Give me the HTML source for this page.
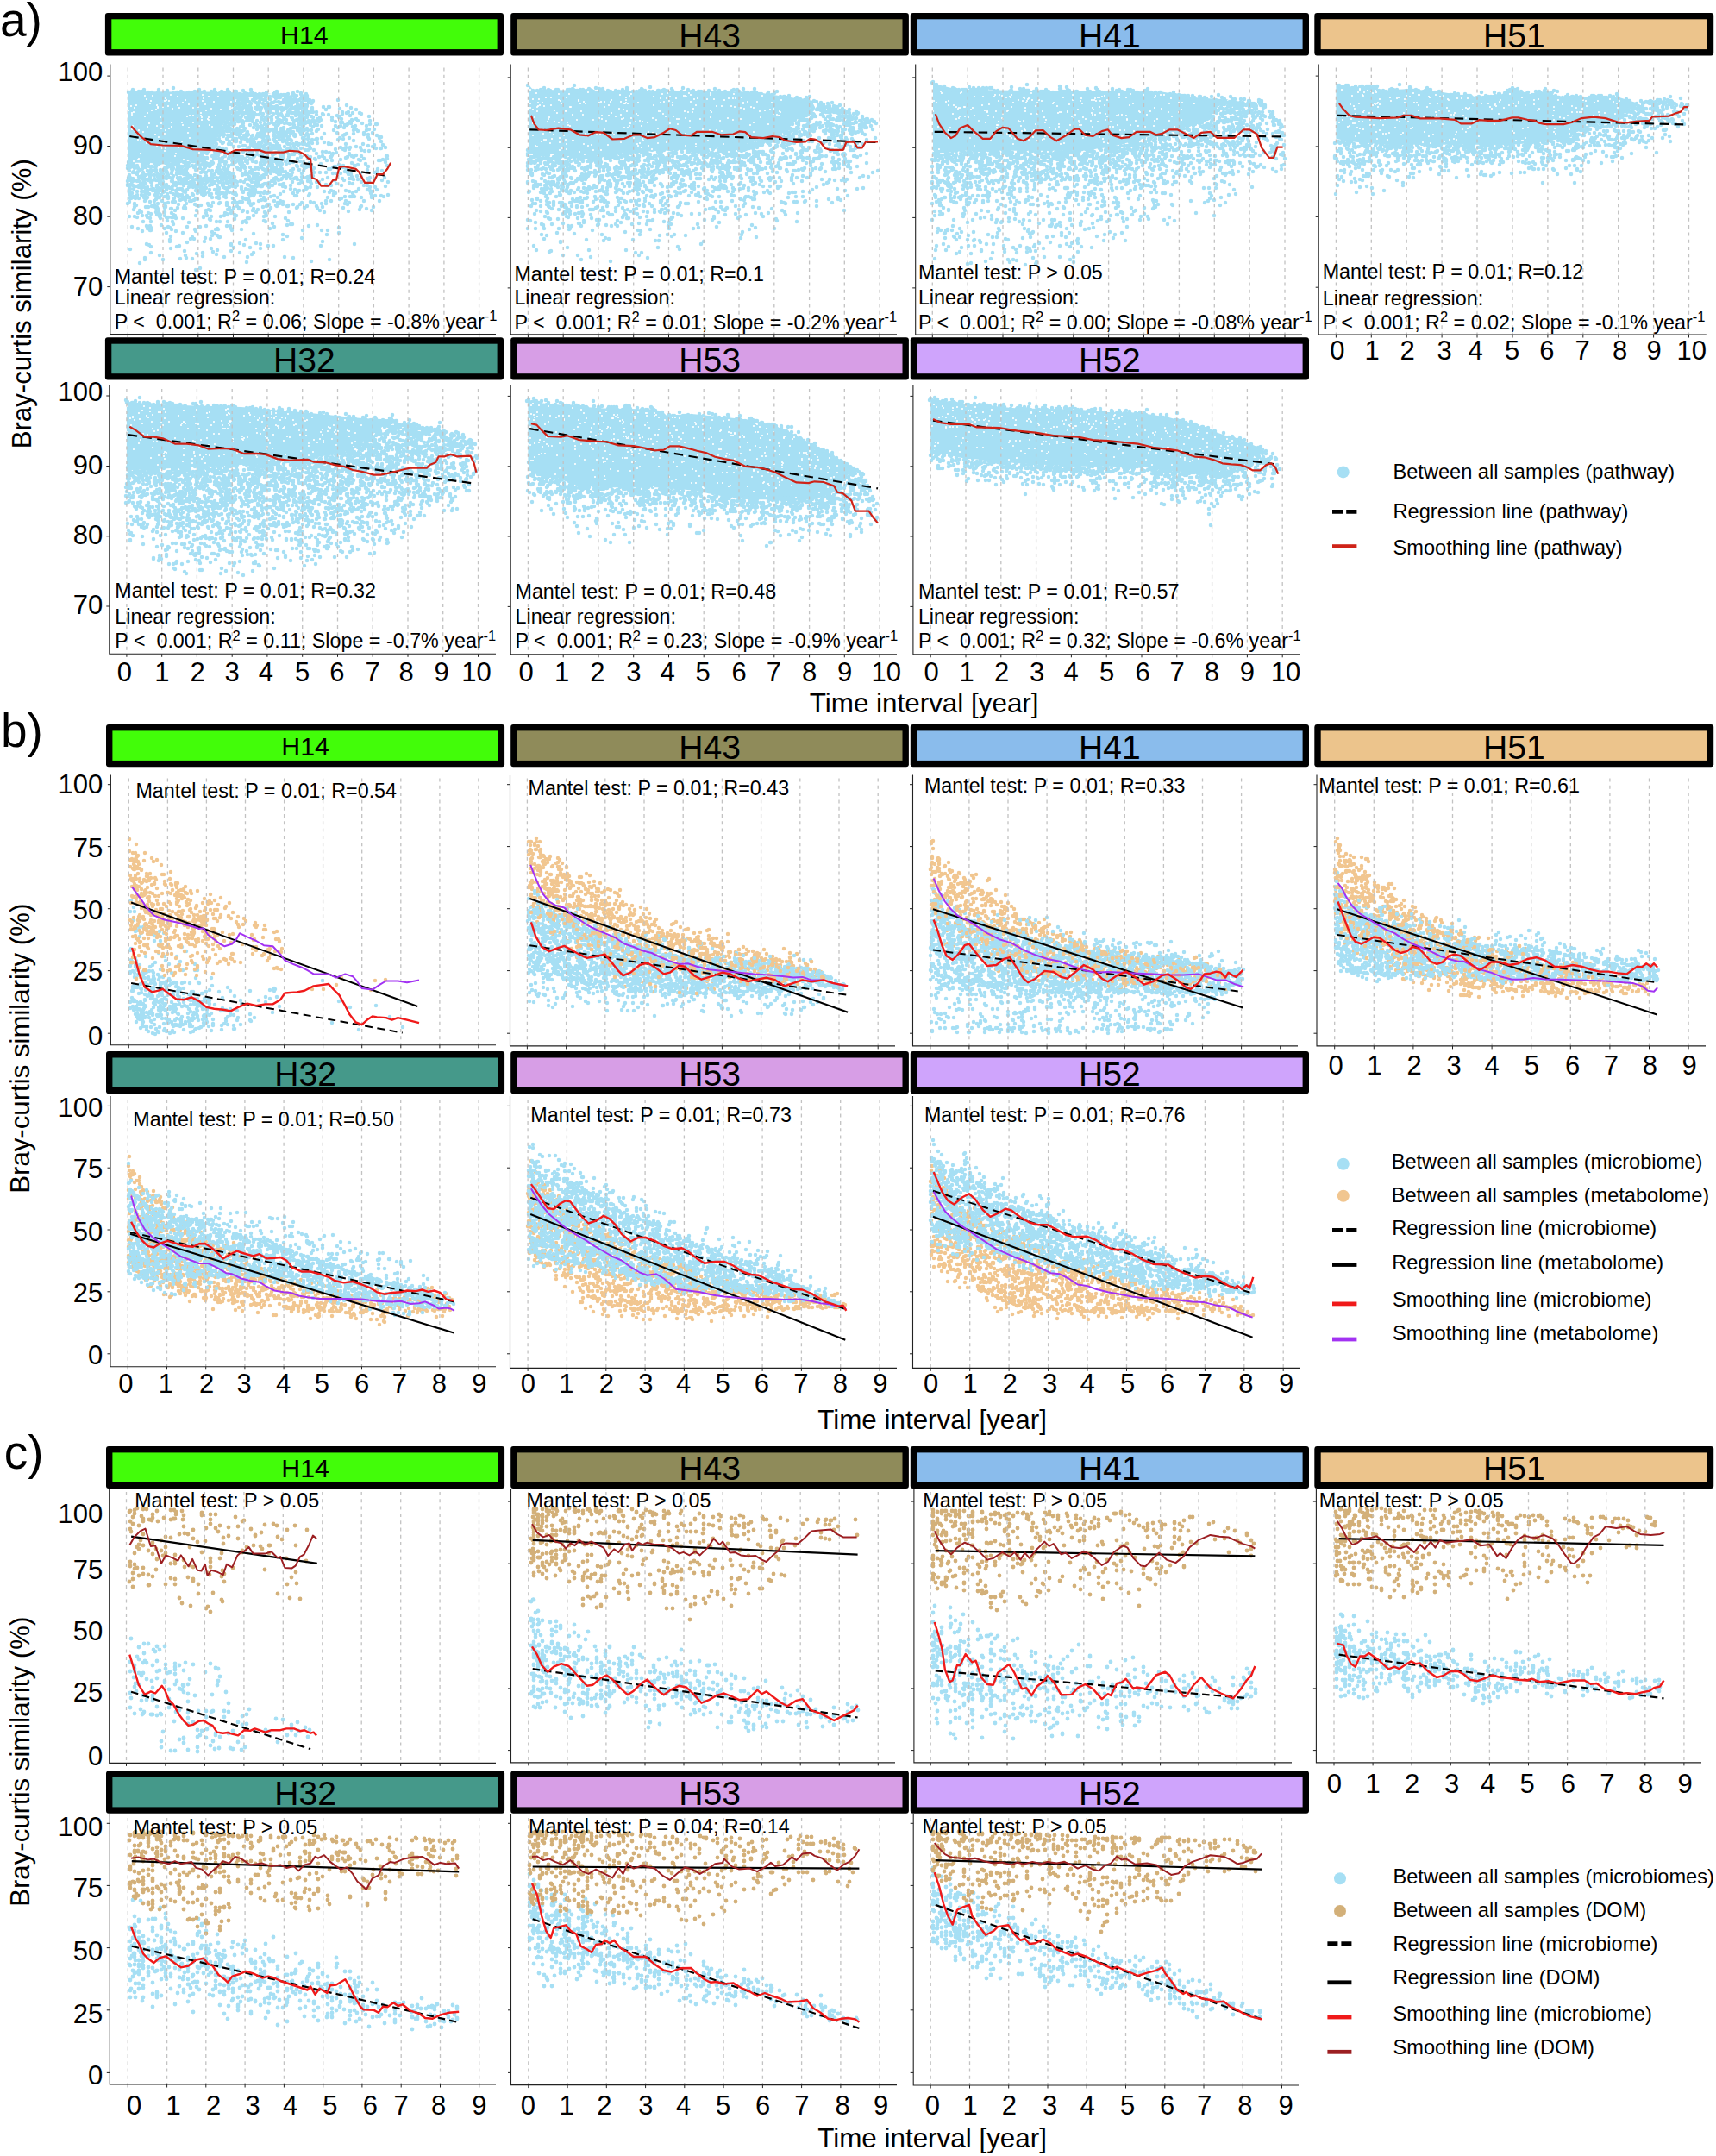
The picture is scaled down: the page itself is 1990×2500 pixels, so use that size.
<!DOCTYPE html><html><head><meta charset="utf-8"><title>Figure</title><style>html,body{margin:0;padding:0;background:#fff}svg{display:block}</style></head><body><svg width="1990" height="2500" viewBox="0 0 1990 2500" font-family="Liberation Sans, Arial, sans-serif"><rect width="1990" height="2500" fill="#fff"/>
<path d="M149 105.9 209.8 106.6 244.8 106.6 272.7 107.3 314.7 108.4 353.1 110.1 363.6 118.9 384.6 124.1 412.6 125.9 437.1 145.1 449.3 173.1 449.3 173.1 437.1 145.1 412.6 125.9 384.6 124.1 363.6 118.9 353.1 110.1 314.7 108.4 272.7 115.4 244.8 174.8 209.8 188.8 149 188.8 Z" fill="#a6dff4"/><path d="M148 192zm0 3zm0 15zm0 4zm0 1zm0 21zm1-30zm0-15zm0-3zm0-81zm1 0zm0 91zm0 5zm0 12zm0 1zm0 3zm0 3zm0 2zm0 10zm0 17zm1 38zm0-59zm0-4zm0-7zm0-5zm0-5zm0-3zm0-12zm0-1zm0-2zm0-3zm1 0zm0 40zm0 2zm1 33zm0-39zm0-13zm0-18zm0-5zm0-82zm1-2zm0 83zm0 13zm0 7zm0 3zm0 5zm0 14zm1 14zm0-15zm0-9zm0-20zm0-6zm0-3zm1-83zm0 1zm0 87zm0 5zm0 9zm0 7zm0 20zm0 1zm0 3zm0 11zm1-21zm1-14zm0 22zm1 14zm0-24zm0-2zm0-4zm0-12zm0-1zm0-7zm0-9zm0-1zm1-85zm0 1zm0 87zm0 4zm0 48zm0 18zm1-35zm0-13zm0-1zm0-1zm0-5zm0-5zm0-99zm1 91zm0 47zm0 61zm1-89zm0-4zm1-106zm0 1zm0 80zm0 17zm0 1zm0 12zm0 1zm0 4zm0 4zm0 20zm1 22zm0-18zm0-36zm0-7zm0-11zm0-2zm0-2zm0-2zm1 2zm0 2zm0 6zm0 3zm0 1zm0 4zm0 14zm0 35zm1-28zm0-12zm0-6zm0-6zm0-11zm0-3zm0-84zm0-3zm1 83zm0 3zm0 22zm0 14zm0 7zm0 66zm0 2zm1-61zm0-8zm0-1zm0-8zm0-2zm0-2zm0-6zm0-5zm0-5zm0-9zm0-3zm1 39zm0 20zm0 12zm0 21zm1-18zm0-13zm0-23zm0-6zm0-6zm0-19zm0-11zm1-80zm0 82zm0 19zm0 1zm0 31zm0 7zm1 37zm0-59zm0-5zm0-18zm0-9zm1 7zm0 5zm0 1zm0 3zm0 25zm0 19zm0 9zm0 5zm1 26zm0-7zm0-19zm0-3zm0-7zm0-9zm0-37zm0-8zm0-3zm0-3zm1-90zm0 80zm0 6zm0 18zm0 4zm0 4zm0 20zm1 0zm0-18zm0-12zm0-22zm1 0zm0 32zm0 20zm1-2zm0-4zm0-25zm0-1zm0-4zm0-5zm1-8zm0 4zm0 27zm0 5zm0 14zm1 6zm0-5zm0-10zm0-7zm0-15zm0-10zm0-2zm0-4zm0-4zm1 26zm0 1zm0 1zm0 6zm0 4zm0 13zm0 9zm1 0zm0-7zm0-6zm0-8zm0-4zm0-5zm0-14zm0-1zm0-2zm0-12zm0-83zm1-3zm0 86zm0 13zm0 1zm0 1zm0 4zm0 9zm0 11zm0 17zm1 50zm0-45zm0-3zm0-19zm0-8zm0-8zm0-2zm0-3zm0-1zm1-18zm0 8zm0 1zm0 10zm0 3zm0 2zm0 36zm0 4zm1 8zm0-35zm0-12zm0-8zm0-4zm1 2zm0 2zm0 12zm0 3zm0 12zm1 68zm0-78zm0-7zm0-3zm0-2zm0-4zm0-5zm0-14zm1 9zm1 68zm0-15zm0-4zm0-5zm0-5zm0-8zm0-6zm0-6zm0-10zm0-11zm0-88zm1 0zm0 82zm0 7zm0 21zm0 22zm0 1zm1 30zm0-18zm0-32zm0-6zm0-7zm0-3zm0-4zm0-2zm0-11zm1-82zm0 2zm0 87zm0 6zm0 17zm0 8zm0 31zm1 7zm0-11zm0-17zm0-5zm0-2zm0-12zm0-13zm0-11zm0-3zm1 4zm1 87zm0-2zm0-14zm0-46zm0-12zm0-13zm1-2zm0 32zm0 19zm0 32zm0 14zm1-22zm0-14zm0-5zm0-5zm0-32zm0-9zm0-1zm0-4zm1-6zm0 6zm0 1zm0 10zm0 3zm0 6zm0 4zm0 14zm0 23zm1 3zm0-8zm0-3zm0-16zm0-8zm0-13zm0-8zm0-9zm0-87zm0-6zm1 87zm0 1zm0 23zm0 17zm1 20zm0-6zm0-10zm1-43zm0 21zm0 2zm0 1zm0 6zm0 5zm0 1zm0 26zm0 15zm1 18zm0-62zm0-22zm0-1zm0-4zm0-8zm0-82zm1 0zm0 81zm0 6zm0 1zm0 6zm0 5zm0 13zm0 6zm0 1zm0 15zm1-4zm0-9zm0-16zm0-4zm0-13zm0-5zm0-2zm1 11zm0 8zm0 19zm0 59zm1 15zm0-68zm0-13zm0-6zm0-5zm0-2zm0-5zm0-1zm0-5zm0-8zm1-81zm0 87zm0 2zm0 1zm0 3zm0 1zm0 1zm0 12zm1 18zm0-5zm0-7zm0-9zm1-102zm0 85zm0 5zm0 10zm0 13zm0 32zm0 17zm1-29zm0-19zm0-7zm0-3zm0-10zm0-14zm1 9zm0 5zm0 5zm0 3zm0 19zm0 10zm0 52zm1 5zm0-54zm0-1zm0-9zm0-9zm0-13zm0-8zm0-12zm0-2zm1 2zm0 5zm0 3zm0 9zm0 3zm0 2zm0 24zm0 63zm1-18zm0-18zm0-36zm0-7zm0-14zm0-5zm0-6zm0-4zm0-2zm0-81zm1 95zm0 1zm0 1zm0 2zm0 22zm1 29zm0-41zm0-5zm0-7zm0-12zm0-4zm0-5zm0-77zm1 122zm0 4zm1 44zm0-62zm0-4zm0-5zm0-2zm0-19zm1-77zm0 77zm0 48zm1 67zm0-25zm0-50zm0-11zm0-5zm0-3zm0-14zm0-5zm1-80zm0 76zm0 4zm0 24zm0 6zm0 9zm1 51zm0-45zm0-20zm0-18zm0-7zm0-6zm0-73zm1-2zm0 75zm0 1zm0 1zm0 20zm0 34zm0 29zm1 47zm0-45zm0-18zm0-20zm0-9zm0-5zm0-8zm0-11zm0-3zm0-2zm1-11zm0 2zm0 5zm0 27zm0 2zm0 2zm0 1zm0 18zm0 6zm0 50zm1-63zm0-7zm0-4zm0-13zm0-3zm0-18zm0-4zm0-2zm1 0zm0 3zm0 6zm0 17zm0 4zm0 6zm0 23zm1-17zm0-11zm0-20zm0-4zm0-5zm0-1zm0-1zm0-76zm1 3zm0 72zm0 1zm0 5zm0 10zm0 10zm0 2zm0 6zm0 2zm0 48zm0 48zm1-73zm0-15zm0-4zm0-7zm0-2zm0-2zm0-8zm0-18zm1-75zm0 70zm0 1zm0 6zm0 7zm0 20zm0 1zm0 2zm0 3zm0 8zm1 72zm0-4zm0-72zm0-2zm0-6zm0-2zm0-12zm0-2zm0-7zm0-3zm0-6zm0-74zm1 70zm0 11zm0 2zm0 9zm0 8zm0 3zm0 17zm0 24zm0 1zm1 28zm0-56zm0-3zm0-3zm0-10zm0-13zm0-2zm0-2zm0-3zm0-1zm0-4zm0-77zm1 71zm0 16zm0 1zm0 6zm0 7zm0 7zm0 10zm0 1zm0 51zm1-14zm0-15zm0-3zm0-26zm0-11zm0-3zm0-4zm0-9zm0-1zm0-1zm0-13zm1 0zm0 2zm0 5zm0 1zm0 8zm0 17zm0 2zm0 39zm1-14zm1-61zm0 15zm0 8zm0 9zm0 16zm0 15zm0 5zm1 11zm0-28zm0-6zm0-5zm0-6zm0-2zm0-14zm0-19zm1 18zm0 17zm0 1zm0 4zm0 30zm0 11zm0 22zm1 11zm0-37zm0-12zm0-14zm0-12zm0-11zm0-14zm0-82zm1 75zm0 7zm0 2zm0 8zm0 6zm0 5zm0 4zm0 1zm0 15zm0 40zm0 4zm1 19zm0-57zm0-29zm0-3zm0-14zm0-9zm0-9zm0-1zm0-63zm1 0zm0 63zm0 1zm0 10zm0 3zm1 87zm0-51zm0-8zm0-1zm0-9zm0-22zm0-4zm0-72zm1 3zm0 59zm0 4zm0 11zm0 1zm0 2zm0 82zm1 29zm0-38zm0-28zm0-5zm0-18zm0-8zm0-21zm0-1zm0-9zm0-5zm1 12zm0 1zm0 3zm0 16zm0 5zm0 10zm0 6zm0 4zm0 46zm0 8zm0 17zm1-24zm0-37zm0-7zm0-26zm0-16zm0-1zm0-17zm1-4zm0 3zm0 10zm0 13zm0 7zm0 1zm0 2zm0 4zm0 3zm0 10zm0 7zm0 1zm0 7zm0 4zm0 6zm0 39zm1 0zm0-18zm0-22zm0-24zm0-5zm0-9zm0-5zm0-4zm0-1zm0-11zm0-22zm0-46zm1-1zm0 46zm0 3zm0 8zm0 11zm0 27zm0 22zm0 27zm1-43zm0-3zm0-4zm0-14zm0-2zm0-79zm1 42zm0 1zm0 1zm0 5zm0 11zm0 6zm0 11zm0 17zm0 5zm0 8zm0 2zm1 9zm0-7zm0-3zm0-2zm0-4zm0-6zm0-15zm0-13zm0-9zm0-7zm0-5zm0-1zm0-4zm0-41zm1 49zm0 18zm0 20zm0 2zm0 6zm0 26zm0 22zm0 48zm1-51zm0-29zm0-13zm0-2zm0-13zm0-9zm0-4zm0-29zm0-3zm0-3zm0-34zm1-1zm0 30zm0 4zm0 5zm0 27zm0 15zm0 10zm0 8zm0 1zm0 18zm0 4zm1 33zm0-14zm0-10zm0-3zm0-13zm0-10zm0-2zm0-9zm0-3zm0-37zm0-9zm0-2zm0-9zm1-37zm0 33zm0 5zm0 4zm0 6zm0 5zm0 39zm0 2zm0 2zm0 13zm0 5zm0 1zm0 24zm0 6zm0 8zm1-45zm0-6zm0-1zm0-12zm0-1zm0-8zm0-6zm0-1zm0-10zm0-18zm0-42zm0-1zm1 1zm0 20zm0 6zm0 3zm0 1zm0 1zm0 7zm0 7zm0 6zm0 6zm0 18zm0 18zm0 3zm0 8zm0 5zm0 1zm0 6zm0 18zm1 21zm0-53zm0-1zm0-4zm0-24zm0-23zm0-8zm0-12zm1-7zm0 12zm0 2zm0 23zm0 44zm0 33zm0 3zm0 18zm0 18zm0 1zm0 7zm1-24zm0-21zm0-31zm0-3zm0-21zm0-5zm0-28zm0-3zm0-11zm0-5zm0-4zm0-7zm1-6zm0 9zm0 14zm0 6zm0 11zm0 21zm0 5zm0 13zm0 2zm0 4zm0 2zm0 7zm0 8zm0 6zm0 5zm1 52zm0-46zm0-28zm0-22zm0-4zm0-4zm0-1zm0-3zm0-9zm0-53zm1-11zm0 1zm0 13zm0 6zm0 1zm0 8zm0 2zm0 2zm0 4zm0 1zm0 10zm0 7zm0 22zm0 22zm0 5zm0 13zm0 2zm0 8zm0 16zm0 4zm0 1zm1-29zm0-1zm0-7zm0-7zm0-22zm0-9zm0-1zm0-1zm0-1zm0-12zm0-30zm0-7zm0-21zm1 0zm0 3zm0 11zm0 5zm0 6zm0 7zm0 14zm0 2zm0 1zm0 6zm0 1zm0 2zm0 12zm0 4zm0 7zm0 39zm0 24zm1-11zm0-4zm0-20zm0-4zm0-17zm0-13zm0-25zm0-2zm0-5zm0-12zm0-11zm0-5zm1-4zm0 4zm0 11zm0 9zm0 34zm0 4zm0 6zm0 11zm1 46zm0-1zm0-45zm0-26zm0-19zm0-10zm0-1zm0-3zm0-7zm1-21zm0 6zm0 6zm0 2zm0 1zm0 3zm0 11zm0 14zm0 4zm0 3zm0 24zm0 3zm0 3zm0 45zm0 48zm0 11zm1-83zm0-13zm0-6zm0-6zm0-3zm0-17zm0-10zm0-8zm0-8zm0-3zm0-12zm0-4zm0-6zm1-1zm0 6zm0 1zm0 5zm0 2zm0 4zm0 4zm0 25zm0 1zm0 23zm0 2zm0 8zm0 23zm0 2zm0 47zm1-8zm0-13zm0-11zm0-5zm0-26zm0-1zm0-13zm0-7zm0-30zm0-9zm0-3zm0-10zm0-4zm0-9zm0-2zm1-10zm0 12zm0 15zm0 9zm0 1zm0 1zm0 3zm0 23zm0 5zm0 2zm0 46zm0 1zm0 7zm0 14zm0 13zm1 27zm0-73zm0-19zm0-35zm0-6zm0-29zm0-10zm1-4zm0 5zm0 3zm0 1zm0 7zm0 7zm0 18zm0 10zm0 2zm0 8zm0 15zm0 10zm0 1zm0 7zm1 76zm0-22zm0-25zm0-12zm0-11zm0-6zm0-3zm0-12zm0-13zm0-38zm0-16zm1 3zm0 1zm0 2zm0 1zm0 1zm0 3zm0 9zm0 15zm0 2zm0 4zm0 97zm0 46zm1-6zm0-45zm0-7zm0-32zm0-12zm0-13zm0-3zm0-5zm0-3zm0-5zm0-9zm0-2zm0-5zm0-4zm0-16zm0-8zm0-14zm0-6zm1 23zm0 2zm0 2zm0 20zm0 17zm0 28zm0 19zm0 5zm0 5zm0 5zm1 18zm0-20zm0-18zm0-7zm0-3zm0-26zm0-8zm0-31zm0-4zm0-3zm0-5zm0-3zm0-1zm0-1zm0-5zm0-8zm1 1zm0 11zm0 4zm0 1zm0 4zm0 14zm0 30zm0 4zm0 5zm0 10zm0 5zm0 22zm0 6zm0 9zm0 51zm1-49zm0-11zm0-3zm0-4zm0-4zm0-7zm0-34zm0-6zm0-1zm0-2zm0-3zm0-2zm0-25zm0-4zm0-2zm0-2zm0-1zm0-2zm0-5zm0-12zm0-4zm1 3zm0 23zm0 8zm0 20zm0 4zm0 5zm0 17zm0 1zm0 12zm0 4zm0 10zm0 84zm1-51zm0-37zm0-7zm0-13zm0-2zm0-9zm0-19zm0-16zm0-4zm0-4zm0-1zm0-16zm1-7zm0 2zm0 5zm0 20zm0 12zm0 14zm0 3zm0 1zm0 4zm0 12zm0 22zm0 13zm0 2zm0 2zm0 2zm0 4zm0 9zm0 6zm0 8zm0 21zm0 22zm1-68zm0-3zm0-15zm0-4zm0-22zm0-1zm0-11zm0-4zm0-21zm0-13zm0-14zm0-4zm0-1zm1-3zm0 1zm0 3zm0 12zm0 69zm0 2zm0 7zm0 9zm0 8zm1 62zm0-36zm0-32zm0-6zm0-2zm0-4zm0-1zm0-13zm0-16zm0-12zm0-16zm0-11zm0-14zm0-5zm0-4zm1 17zm0 13zm0 5zm0 1zm0 4zm0 7zm0 11zm0 7zm0 4zm0 23zm0 14zm1 27zm0-20zm0-12zm0-9zm0-7zm0-22zm0-16zm0-2zm0-7zm0-26zm1-9zm0 7zm0 5zm0 8zm0 25zm0 8zm0 30zm0 10zm0 3zm0 1zm0 3zm0 1zm0 19zm1-25zm0-28zm0-7zm0-4zm0-22zm0-21zm0-7zm0-2zm0-4zm0-4zm1 1zm0 3zm0 1zm0 13zm0 1zm0 3zm0 11zm0 12zm0 3zm0 10zm0 22zm0 2zm0 17zm0 7zm0 1zm0 7zm0 4zm0 56zm0 5zm1-56zm0-16zm0-9zm0-1zm0-12zm0-3zm0-12zm0-2zm0-1zm0-10zm0-8zm0-8zm0-2zm0-2zm0-8zm0-2zm0-11zm0-10zm1 20zm0 12zm0 9zm0 1zm0 2zm0 11zm0 5zm0 6zm0 2zm0 1zm0 3zm0 17zm0 12zm1 24zm0-26zm0-18zm0-26zm0-7zm0-11zm0-2zm0-18zm0-12zm0-9zm0-2zm1 7zm0 5zm0 18zm0 11zm0 4zm0 1zm0 3zm0 4zm0 8zm0 4zm0 2zm0 1zm0 5zm0 4zm0 5zm0 12zm0 3zm0 18zm0 5zm0 22zm0 5zm1-10zm0-14zm0-10zm0-9zm0-16zm0-9zm0-6zm0-5zm0-1zm0-5zm0-3zm0-4zm0-15zm0-5zm0-21zm0-14zm1 4zm0 3zm0 9zm0 11zm0 16zm0 32zm0 4zm0 11zm0 33zm0 15zm0 10zm1-7zm0-11zm0-26zm0-11zm0-18zm0-1zm0-11zm0-5zm0-1zm0-1zm0-18zm0-2zm0-7zm0-9zm0-19zm0-3zm1 12zm0 16zm0 5zm0 11zm0 8zm0 3zm0 19zm0 1zm0 13zm0 18zm0 1zm0 1zm0 9zm0 13zm1 48zm0-86zm0-23zm0-3zm0-1zm0-12zm0-1zm0-28zm0-1zm0-2zm0-3zm0-2zm0-3zm1 11zm0 12zm0 9zm0 10zm0 9zm0 6zm0 10zm0 5zm0 6zm0 1zm0 13zm0 5zm0 6zm0 14zm0 7zm1 21zm0-73zm0-1zm0-1zm0-1zm0-5zm0-10zm0-7zm0-16zm0-26zm0-3zm0-1zm0-6zm0-3zm1 14zm0 4zm0 6zm0 51zm0 11zm0 3zm0 14zm0 13zm0 13zm1-31zm0-13zm0-2zm0-7zm0-15zm0-31zm0-3zm0-1zm0-3zm0-16zm1 5zm0 1zm0 25zm0 19zm0 2zm0 8zm0 4zm0 8zm0 24zm0 44zm1 26zm0-89zm0-2zm0-15zm0-1zm0-9zm0-7zm0-10zm0-20zm0-13zm0-9zm0-1zm1 1zm0 2zm0 32zm0 9zm0 3zm0 2zm0 4zm0 10zm0 15zm0 12zm0 8zm0 1zm0 2zm0 17zm0 6zm0 30zm1-12zm0-39zm0-26zm0-8zm0-8zm0-6zm0-38zm0-2zm0-6zm0-7zm0-4zm1 7zm0 11zm0 22zm0 2zm0 2zm0 13zm0 5zm0 3zm0 5zm0 7zm0 10zm0 12zm0 32zm1 1zm0-39zm0-3zm0-8zm0-3zm0-18zm0-1zm0-8zm0-18zm0-5zm0-5zm0-2zm0-3zm0-1zm0-1zm0-1zm0-11zm0-3zm0-3zm1 3zm0 16zm0 11zm0 4zm0 2zm0 3zm0 9zm0 4zm0 9zm0 10zm0 14zm0 17zm0 21zm0 6zm1-26zm0-7zm0-5zm0-20zm0-4zm0-19zm0-10zm0-10zm0-9zm0-7zm0-5zm1 0zm0 6zm0 7zm0 13zm0 23zm0 7zm0 19zm0 2zm0 8zm0 16zm0 22zm1-3zm0-8zm0-23zm0-3zm0-1zm0-4zm0-1zm0-6zm0-5zm0-2zm0-7zm0-15zm0-1zm0-5zm0-32zm0-7zm0-2zm1-1zm0 9zm0 6zm0 7zm0 10zm0 7zm0 4zm0 25zm0 8zm0 9zm0 13zm1 6zm0-7zm0-11zm0-6zm0-38zm0-12zm0-6zm0-6zm0-3zm1-14zm0 8zm0 8zm0 22zm0 1zm0 6zm0 4zm0 1zm0 3zm0 11zm0 1zm0 6zm0 1zm0 16zm0 17zm0 18zm0 3zm0 35zm0 6zm1-56zm0-9zm0-9zm0-25zm0-22zm0-1zm0-7zm0-1zm0-12zm0-9zm0-11zm0-6zm1 28zm0 5zm0 10zm0 3zm0 7zm0 7zm0 128zm1-45zm0-36zm0-18zm0-12zm0-61zm0-1zm0-11zm0-2zm0-2zm1 7zm0 3zm0 5zm0 9zm0 5zm0 15zm0 2zm0 18zm0 16zm0 14zm0 3zm1 67zm0-13zm0-22zm0-38zm0-25zm0-10zm0-4zm0-4zm0-25zm0-10zm0-1zm0-4zm0-3zm0-3zm1-3zm0 3zm0 2zm0 2zm0 7zm0 7zm0 3zm0 1zm0 9zm0 8zm0 10zm0 6zm0 5zm0 13zm0 53zm0 1zm0 17zm1-10zm0-42zm0-18zm0-4zm0-3zm0-21zm0-5zm0-23zm0-8zm0-8zm1 4zm0 9zm0 17zm0 23zm0 13zm0 9zm0 14zm1 57zm0-41zm0-4zm0-8zm0-9zm0-25zm0-2zm0-9zm0-7zm0-3zm0-3zm0-22zm0-7zm0-3zm0-2zm1-3zm0 10zm0 3zm0 6zm0 5zm0 27zm0 11zm0 24zm0 5zm1 57zm0-49zm0-11zm0-21zm0-41zm0-1zm0-18zm0-1zm0-2zm1-8zm0 2zm0 9zm0 12zm0 13zm0 4zm0 5zm0 14zm0 21zm0 8zm0 28zm0 13zm0 62zm1-92zm0-28zm0-5zm0-4zm0-13zm0-12zm0-4zm0-1zm0-15zm0-8zm0-7zm1 3zm0 2zm0 11zm0 5zm0 17zm0 8zm0 2zm0 19zm0 43zm0 7zm1-21zm0-30zm0-1zm0-3zm0-38zm0-4zm0-3zm0-3zm0-6zm1-7zm0 16zm0 3zm0 2zm0 1zm0 6zm0 9zm0 17zm0 2zm0 6zm0 19zm0 14zm0 21zm0 14zm1-1zm0-17zm0-15zm0-15zm0-9zm0-9zm0-24zm0-18zm0-7zm0-2zm0-3zm0-4zm0-11zm1 21zm0 3zm0 15zm0 23zm0 8zm1 45zm0-8zm0-16zm0-30zm0-18zm0-7zm0-4zm0-7zm0-5zm0-1zm0-9zm1 7zm0 2zm0 10zm0 1zm0 13zm0 4zm0 25zm0 9zm0 50zm1-28zm0-27zm0-10zm0-16zm0-15zm0-17zm0-2zm0-8zm0-5zm0-1zm1 3zm0 8zm0 1zm0 13zm0 5zm0 5zm0 2zm0 4zm0 2zm0 41zm0 9zm0 4zm0 6zm0 24zm0 41zm1-9zm0-76zm0-24zm0-2zm0-5zm0-6zm0-24zm0-2zm0-4zm0-9zm1 1zm0 20zm0 10zm0 4zm0 13zm0 25zm0 5zm0 5zm0 23zm1 20zm0-46zm0-28zm0-1zm0-5zm0-10zm0-10zm0-2zm0-14zm0-11zm1 7zm0 4zm0 6zm0 5zm0 5zm0 2zm0 14zm0 17zm0 43zm1 2zm0-13zm0-12zm0-59zm0-4zm0-1zm0-3zm0-2zm0-9zm0-5zm0-2zm1 2zm0 1zm0 2zm0 7zm0 2zm0 9zm0 4zm0 13zm0 6zm0 13zm0 13zm0 11zm0 26zm0 21zm1-29zm0-5zm0-21zm0-10zm0-6zm0-7zm0-5zm0-5zm0-9zm0-12zm1-11zm0 13zm0 8zm0 19zm0 7zm0 27zm0 34zm0 35zm1-37zm0-36zm0-19zm0-28zm0-1zm0-25zm1 14zm0 13zm0 2zm0 20zm0 7zm0 10zm0 22zm0 2zm0 4zm0 1zm0 6zm0 17zm1 69zm0-90zm0-22zm0-40zm0-16zm0-15zm1-1zm0 6zm0 2zm0 13zm0 1zm0 14zm0 7zm0 4zm0 29zm1 9zm0-8zm0-2zm0-47zm0-11zm0-6zm0-13zm1 23zm0 34zm0 21zm0 5zm0 35zm1-51zm0-39zm0-2zm1-2zm0 21zm0 23zm1 54zm0-28zm0-33zm0-17zm0-9zm0-19zm0-3zm1 8zm0 2zm0 5zm0 16zm0 5zm0 51zm0 24zm0 20zm1-111zm1-9zm0 41zm0 29zm1 33zm0-44zm0-64zm1 3zm0 51zm0 95zm1-18zm0-31zm0-76zm0-14zm1-14zm0 44zm0 5zm0 27zm0 32zm0 40zm1-147zm0-9zm1 31zm0 10zm0 18zm0 39zm0 24zm2-10zm0-3zm0-19zm0-14zm0-24zm0-49zm1 59zm0 29zm0 57zm1-5zm0-38zm0-23zm1-82zm0 9zm0 33zm0 1zm0 29zm1 105zm0-78zm0-46zm0-53zm1 58zm0 14zm1 37zm0-12zm0-6zm0-33zm0-15zm1-31zm0 3zm0 41zm0 6zm1 15zm0-7zm0-16zm1-27zm0 71zm0 3zm0 2zm1-18zm0-16zm1-52zm0 5zm0 27zm0 20zm0 31zm1-11zm0-12zm0-24zm1-43zm0 20zm1 8zm0-14zm0-32zm1 20zm0 55zm0 73zm0 6zm1-39zm0-71zm0-25zm0-9zm1 16zm0 4zm0 25zm0 14zm0 16zm1 29zm0-15zm0-77zm1-8zm0 2zm0 10zm0 65zm1 34zm0-47zm0-2zm0-19zm0-12zm0-4zm1-9zm0 61zm1 27zm0-8zm0-29zm0-25zm0-18zm0-11zm1 22zm0 4zm0 12zm0 12zm0 26zm0 12zm1-36zm0-42zm0-10zm0-14zm0-9zm1 22zm0 38zm0 18zm0 37zm1 8zm0-43zm0-72zm1 30zm0 13zm0 5zm0 1zm0 28zm0 5zm0 10zm0 13zm1-7zm0-57zm0-30zm0-7zm1-9zm0 18zm0 59zm1 26zm0-21zm0-2zm0-16zm0-8zm0-41zm0-1zm1-8zm0 16zm0 60zm0 6zm0 11zm1 3zm0-19zm0-26zm0-19zm0-8zm0-4zm1 41zm0 36zm0 55zm1-91zm0-46zm1-19zm0 11zm0 12zm0 20zm0 10zm0 42zm1-18zm1-64zm0 12zm0 39zm0 17zm1 11zm0-34zm1-54zm0 112zm1-3zm0-39zm0-15zm0-15zm1-39zm0 42zm0 7zm0 24zm0 1zm0 5zm0 18zm0 10zm1-96zm1 24zm1 66zm0-18zm0-31zm0-28zm0-2zm1 21zm1 15zm1-44zm0 5zm0 91zm1-22zm0-5zm0-8zm0-10zm1-41zm0 3zm0 10zm0 24zm1 17zm0-35zm0-14zm0-11zm0-15zm1 5zm0 4zm0 62zm0 11zm0 4zm1 3zm1 3zm0 2zm0 15zm1-22zm0-52zm0-16zm1 86zm1-33zm0-7zm0-32zm0-18zm1 67zm0 10zm1-55zm0-28zm1 0zm0 13zm0 42zm0 21zm1-23zm0-1zm1-10zm1 47zm0-73zm0-1zm1 13zm0 14zm1 41zm0-55zm0-8zm0-5zm1 39zm0 11zm1-24zm0-17zm1 60zm1-22zm1-35zm0 17zm0 28zm1-35zm1 0zm0 3zm0 8zm1 34zm0-15z" stroke="#a6dff4" stroke-width="4.5" stroke-linecap="round" fill="none"/><path d="M149 128zm3-5zm1 8zm0 2zm0 17zm0 8zm1-12zm1-16zm0 28zm0 29zm1-62zm2-3zm2 63zm0-23zm1-11zm0 4zm0 29zm2-6zm0-15zm3-10zm1 7zm1-49zm0 24zm2 31zm0-51zm1 16zm0 16zm2-4zm1-23zm1-3zm1 11zm1-17zm3 45zm1-29zm1-5zm0 24zm0 23zm1-44zm0-1zm1 35zm2-23zm1 7zm0 6zm0 21zm1 2zm1-48zm1 41zm1-48zm0 38zm0 20zm1-3zm0-21zm0-37zm1 2zm2 7zm1-6zm0 32zm2-39zm1 32zm0 5zm1-21zm3 55zm1-3zm2-66zm0 10zm1 49zm1-46zm2 44zm1-27zm0 22zm1-19zm0-26zm1 66zm2-69zm2 19zm1 19zm1-33zm0 27zm1 12zm0-26zm4-9zm0 9zm0 8zm5-5zm1-13zm1 53zm0-31zm2-15zm0 3zm1 5zm0-3zm1-26zm0 7zm1-3zm2 7zm1 7zm2 10zm1 1zm0-3zm0-24zm1 33zm2-19zm1 21zm2-29zm2 16zm3-22zm3 15zm11-1zm0-2zm1-6z" stroke="#fff" stroke-width="2.2" stroke-linecap="round" fill="none"/>
<path d="M148.3 78.5V387.5M189 78.5V387.5M229.8 78.5V387.5M270.5 78.5V387.5M311.2 78.5V387.5M351.9 78.5V387.5M392.7 78.5V387.5M433.4 78.5V387.5M474.1 78.5V387.5M514.9 78.5V387.5M555.6 78.5V387.5" stroke="#c2c2c2" stroke-width="1.3" stroke-dasharray="4 4.3" fill="none"/>
<path d="M150.3 158 445.8 203.5" fill="none" stroke="#000" stroke-width="2.2" stroke-linejoin="round" stroke-dasharray="10.5 6.5"/>
<path d="M152.1 146.2 157.3 152.1 164.3 159.1 174.8 167.1 188.8 168.5 209.8 168.9 223.8 173.1 244.8 173.8 258.7 175.9 264 178.7 272.7 174.1 300.7 174.1 307.7 176.6 328.7 176.6 335.7 174.8 346.2 175.5 353.1 179 357.3 183.6 360.1 184.3 361.9 206.3 367.1 208 372.4 215.7 381.1 215.7 386.4 208.7 389.9 208.7 393.4 194.1 398.6 193 412.6 195.8 416.1 199.3 423.1 211.9 432.9 211.9 437.8 202.1 444.1 202.1 449.3 195.8 453.1 188.8" fill="none" stroke="#cf2318" stroke-width="2.2" stroke-linejoin="round"/>
<path d="M127.8 74.5V387.5H575" stroke="#222" stroke-width="1.1" fill="none"/><path d="M127.8 88.1h-3.5M127.8 169.5h-3.5M127.8 251.2h-3.5M127.8 332.6h-3.5M148.3 387.5v3.5M189 387.5v3.5M229.8 387.5v3.5M270.5 387.5v3.5M311.2 387.5v3.5M351.9 387.5v3.5M392.7 387.5v3.5M433.4 387.5v3.5M474.1 387.5v3.5M514.9 387.5v3.5M555.6 387.5v3.5" stroke="#222" stroke-width="1" fill="none"/>
<rect x="121.9" y="14.9" width="462.1" height="49.6" rx="3" fill="#000"/><rect x="129.3" y="22.3" width="447.3" height="34.8" fill="#42fd09"/><text x="352.9" y="50.7" font-size="30.3" text-anchor="middle" >H14</text>
<path d="M613.1 97.9 617.7 103.8 699.9 105.2 769.8 105.2 839.7 105.9 874.7 106.6 909.7 111.9 944.6 117.1 979.6 125.9 997.1 132.9 1018 143.4 1018 143.4 997.1 132.9 979.6 125.9 944.6 117.1 909.7 153.8 874.7 164.3 839.7 171.3 769.8 174.8 699.9 178.3 617.7 178.3 613.1 174.8 Z" fill="#a6dff4"/><path d="M612 99zm0 75zm0 4zm0 2zm0 9zm0 3zm0 1zm0 4zm0 14zm0 1zm0 43zm0 10zm1-42zm0-38zm1 3zm0 34zm1 34zm0-55zm0-3zm0-13zm0-2zm0-6zm1-1zm0 6zm0 4zm0 3zm0 8zm0 5zm0 37zm1-7zm0-29zm0-2zm0-13zm0-12zm1-71zm0 72zm0 5zm0 28zm0 26zm1 49zm0-67zm0-1zm0-2zm0-27zm0-1zm1-8zm0 3zm0 7zm0 59zm1 17zm0-7zm0-22zm0-23zm0-2zm0-13zm0-4zm0-6zm0-8zm1-1zm0 7zm0 28zm0 30zm0 46zm1-59zm0-1zm0-14zm0-20zm0-1zm0-90zm1 73zm0 4zm0 10zm0 4zm0 18zm1-28zm0-2zm0-3zm0-3zm0-2zm1 3zm0 4zm1 62zm0-6zm0-6zm0-10zm0-9zm0-25zm0-2zm0-83zm1 81zm0 11zm0 11zm0 12zm0 41zm0 12zm1-70zm0-23zm1 4zm0 12zm0 27zm0 39zm0 1zm1 15zm0-12zm0-41zm0-3zm0-2zm0-16zm0-98zm0-3zm1 3zm0 74zm0 10zm0 21zm0 5zm0 36zm1-23zm0-8zm0-2zm0-22zm0-5zm0-7zm1-2zm0 18zm0 13zm0 2zm0 5zm0 7zm0 6zm0 4zm0 8zm0 1zm0 27zm1-26zm0-17zm0-12zm0-28zm0-1zm0-8zm0-2zm0-73zm1-2zm0 73zm0 1zm0 1zm0 1zm0 6zm0 2zm0 13zm0 10zm0 2zm0 26zm0 14zm1 39zm0-52zm0-5zm0-23zm0-6zm0-5zm0-8zm0-9zm1-79zm0 119zm0 30zm1 37zm0-72zm0-4zm0-19zm0-9zm1-3zm0 22zm0 5zm0 3zm0 8zm0 20zm0 18zm1-55zm0-11zm0-3zm1-9zm0 7zm0 1zm0 8zm0 13zm0 23zm0 1zm0 3zm1-24zm0-10zm0-13zm1 1zm0 23zm1 13zm0-43zm0-5zm0-76zm1 75zm0 4zm0 5zm0 82zm1-16zm0-37zm0-5zm0-4zm0-1zm0-10zm0-10zm0-6zm0-5zm0-70zm0-2zm1 80zm0 4zm0 1zm0 54zm0 22zm1-30zm0-9zm0-3zm0-15zm0-2zm0-10zm0-1zm0-8zm1-8zm0 3zm0 23zm0 21zm0 54zm0 1zm1-42zm0-20zm0-4zm0-23zm0-1zm0-3zm1 6zm0 9zm0 10zm0 5zm0 17zm1 61zm0-37zm0-11zm0-27zm0-4zm0-12zm0-5zm0-1zm0-4zm0-2zm0-5zm1-7zm0 8zm0 9zm0 10zm1 38zm0-6zm0-2zm0-1zm0-25zm0-1zm0-14zm1-19zm0 4zm0 20zm0 44zm0 1zm1 4zm0-10zm0-19zm0-2zm0-16zm0-12zm0-5zm0-8zm1-75zm0 1zm0 73zm0 10zm0 3zm0 4zm0 3zm0 18zm0 1zm0 70zm1-25zm0-10zm0-7zm0-2zm0-29zm0-16zm0-19zm1-75zm0 74zm0 6zm0 7zm0 33zm0 19zm0 23zm1-1zm0-17zm0-3zm0-10zm0-11zm0-2zm0-9zm0-18zm0-91zm1 2zm0 76zm0 5zm0 19zm0 6zm0 9zm1 41zm0-23zm0-4zm0-28zm0-13zm0-15zm0-1zm1-75zm0 3zm0 75zm0 12zm0 2zm0 36zm1-19zm0-33zm0-75zm1-5zm0 81zm0 5zm0 10zm0 28zm0 48zm1-23zm0-15zm0-35zm0-12zm0-4zm0-77zm1 83zm0 22zm1 30zm0-1zm0-8zm0-125zm0-1zm1 0zm0 75zm0 8zm0 19zm0 13zm0 13zm0 20zm0 43zm1-37zm0-12zm0-14zm0-3zm0-12zm0-10zm0-16zm0-8zm0-3zm0-2zm0-73zm1 84zm0 57zm0 12zm1-24zm0-6zm0-24zm0-23zm0-78zm1 78zm0 3zm0 21zm0 16zm0 40zm0 39zm1-50zm0-5zm0-6zm0-5zm0-2zm0-24zm0-3zm0-4zm0-7zm0-16zm0-2zm1-73zm0 1zm0 81zm0 1zm0 61zm1 10zm0-2zm0-33zm0-5zm0-5zm0-31zm1 0zm0 15zm0 8zm0 25zm1-8zm0-14zm0-6zm0-8zm0-12zm0-76zm1-1zm0 1zm0 88zm0 1zm0 11zm0 24zm0 48zm1-40zm0-9zm0-5zm0-5zm0-23zm0-9zm0-7zm0-1zm0-72zm1-1zm0 72zm0 4zm0 11zm0 11zm1 86zm0-70zm0-3zm0-15zm0-2zm0-14zm0-5zm0-78zm1 1zm0 1zm0 1zm0 74zm0 2zm0 5zm0 56zm1 55zm0-49zm0-49zm0-6zm0-3zm0-3zm0-1zm0-1zm0-4zm0-3zm0-1zm1-73zm0 1zm0 72zm0 9zm0 56zm0 10zm1 14zm0-49zm0-32zm1-80zm0 1zm0 71zm0 4zm0 52zm0 9zm1-28zm0-15zm0-21zm1 2zm0 4zm0 13zm0 6zm0 13zm0 11zm1 13zm0-10zm0-9zm0-20zm0-14zm0-4zm0-2zm0-80zm1 85zm0 2zm0 3zm0 8zm0 17zm0 38zm1 6zm0-21zm0-56zm0-6zm0-2zm1 10zm0 1zm0 73zm1-5zm0-44zm0-2zm0-1zm0-9zm0-1zm0-3zm0-1zm0-3zm0-88zm1 2zm0 72zm0 3zm0 1zm0 3zm0 2zm0 4zm0 15zm0 4zm0 12zm1 23zm0-11zm0-5zm0-24zm0-11zm0-5zm0-7zm1 27zm0 12zm0 9zm0 43zm1-31zm0-24zm0-9zm0-4zm0-24zm0-77zm1 3zm0 87zm0 2zm0 3zm0 24zm0 9zm0 13zm0 7zm0 28zm1-45zm0-25zm1-26zm0 7zm0 43zm0 43zm1-15zm0-36zm0-32zm0-9zm0-4zm0-3zm1 1zm0 13zm0 12zm0 15zm0 3zm0 4zm0 14zm1 8zm0-12zm0-21zm0-1zm0-2zm0-8zm0-6zm0-14zm0-2zm0-76zm1 76zm0 14zm0 6zm0 76zm1-28zm0-35zm0-5zm0-13zm0-12zm0-4zm1-74zm0 73zm0 1zm0 6zm0 27zm0 3zm0 87zm1-41zm0-59zm0-21zm0-1zm1 23zm0 45zm1-72zm1-70zm0 71zm0 2zm0 2zm0 20zm0 5zm1 2zm0-14zm0-12zm0-4zm1-74zm0 78zm0 13zm0 2zm0 4zm0 7zm0 9zm0 5zm0 18zm0 4zm0 15zm1-38zm0-6zm0-2zm0-3zm0-18zm0-9zm0-2zm0-5zm1 22zm0 13zm0 17zm0 27zm0 6zm1-24zm0-5zm0-24zm0-5zm0-20zm0-1zm0-8zm0-69zm1 0zm0 72zm0 17zm0 5zm0 1zm0 19zm1 15zm0-35zm0-5zm0-7zm0-10zm1 3zm0 6zm0 2zm0 19zm0 22zm0 28zm1-28zm0-9zm0-16zm0-10zm0-4zm0-9zm1-78zm0 1zm0 75zm0 11zm0 15zm0 7zm0 28zm0 11zm1-2zm0-26zm0-45zm0-72zm0-1zm1 71zm0 3zm0 8zm0 17zm0 1zm0 10zm0 17zm0 11zm1 25zm0-21zm0-56zm0-1zm0-10zm0-4zm0-71zm1 75zm0 1zm0 3zm0 10zm0 39zm0 15zm0 41zm1-37zm0-53zm0-2zm0-14zm0-3zm0-5zm0-72zm0-2zm1 78zm0 5zm0 10zm0 4zm0 6zm0 7zm0 12zm0 19zm1 10zm0-41zm0-5zm0-4zm0-3zm0-3zm0-2zm0-9zm1-10zm0 7zm0 17zm0 3zm0 2zm0 11zm0 6zm1 23zm0-33zm0-5zm0-2zm0-30zm1 3zm0 14zm0 8zm0 33zm1 27zm0-58zm0-17zm0-1zm0-7zm1-71zm0 76zm0 9zm0 8zm0 22zm0 57zm1-31zm0-4zm0-44zm0-14zm1 4zm0 3zm0 5zm0 6zm0 11zm0 4zm0 2zm1 73zm0-60zm0-21zm0-1zm0-4zm0-10zm0-8zm0-5zm0-8zm1-70zm0 85zm0 23zm0 21zm0 2zm0 5zm1 6zm0-27zm0-2zm0-7zm0-4zm0-7zm0-18zm0-1zm0-2zm0-4zm1-1zm0 12zm0 29zm0 9zm0 42zm1 29zm0-37zm0-21zm0-6zm0-13zm0-9zm0-1zm0-23zm0-4zm0-1zm0-75zm1-1zm0 1zm0 69zm0 23zm0 1zm0 14zm0 39zm0 20zm1-4zm0-53zm1-112zm0 74zm0 16zm0 8zm0 4zm0 88zm1-71zm0-26zm0-92zm1 71zm0 5zm0 13zm0 10zm0 1zm0 7zm0 12zm0 14zm0 8zm1-6zm0-40zm0-3zm0-5zm0-14zm1-72zm0 72zm0 9zm0 19zm0 10zm0 1zm0 14zm0 3zm1-28zm0-98zm1 0zm0 67zm0 1zm0 1zm0 1zm0 2zm0 21zm0 4zm0 1zm0 13zm0 1zm0 1zm0 7zm0 24zm0 9zm1 39zm0-43zm0-10zm0-47zm0-7zm0-7zm0-1zm0-6zm1 3zm0 5zm0 1zm0 9zm0 6zm1 54zm0-20zm0-15zm0-10zm0-11zm0-9zm0-85zm1-5zm0 78zm0 3zm0 2zm0 17zm0 8zm0 57zm1-38zm0-6zm0-1zm1-47zm0 19zm0 6zm0 6zm0 4zm0 2zm0 16zm0 12zm0 17zm1-1zm0-72zm0-77zm1 83zm0 14zm0 26zm1 17zm0-3zm0-28zm0-7zm0-10zm0-17zm1-1zm0 20zm0 26zm0 53zm1-72zm0-9zm0-13zm0-4zm1 6zm0 3zm0 4zm0 1zm0 3zm0 1zm1 88zm0-94zm0-17zm0-1zm0-70zm1 0zm0 70zm0 1zm0 12zm0 1zm0 90zm1-6zm0-28zm0-44zm0-3zm0-7zm0-10zm0-2zm0-2zm0-2zm1 2zm0 1zm0 6zm0 29zm0 12zm0 8zm0 2zm0 11zm1-3zm0-10zm0-19zm0-27zm0-11zm0-1zm0-2zm1-68zm0 75zm0 1zm0 2zm0 4zm0 29zm0 8zm0 6zm0 13zm1-5zm0-38zm0-3zm0-9zm0-6zm1-78zm0 69zm0 1zm0 11zm0 44zm0 28zm1-10zm0-54zm0-1zm0-3zm1 7zm0 40zm0 6zm1-56zm0-3zm0-78zm1 112zm0 5zm0 11zm0 11zm0 28zm1-10zm0-18zm0-6zm0-16zm0-23zm0-4zm0-11zm1-11zm0 5zm0 4zm0 2zm0 16zm0 27zm0 31zm0 7zm1-49zm0-15zm0-5zm0-10zm1-14zm0 23zm0 21zm0 12zm0 26zm0 6zm1 14zm0-22zm0-37zm0-2zm0-6zm0-1zm0-29zm0-4zm0-70zm1 2zm0 76zm0 5zm0 2zm0 64zm1-5zm0-33zm0-3zm0-7zm0-12zm1-20zm0 6zm0 10zm0 17zm0 67zm1-50zm0-17zm0-4zm0-9zm0-1zm0-15zm0-69zm1 70zm0 1zm0 16zm0 12zm0 5zm0 16zm1-3zm0-17zm0-14zm0-6zm0-14zm1 9zm0 11zm0 11zm0 36zm0 8zm0 38zm1-68zm0-22zm0-7zm1 2zm0 27zm0 20zm0 51zm1-54zm0-11zm0-11zm0-28zm0-3zm1-76zm0 67zm0 19zm0 9zm0 15zm0 34zm1-34zm0-7zm0-1zm0-9zm0-2zm0-21zm1-74zm0 70zm0 10zm0 2zm0 25zm1 13zm0-8zm0-11zm0-4zm0-7zm0-1zm0-8zm1-3zm0 4zm1 89zm0-37zm0-15zm0-6zm0-16zm1-92zm0 75zm0 2zm0 5zm0 9zm0 3zm0 35zm1-43zm0-17zm0-3zm1-69zm0 68zm0 2zm0 14zm0 48zm1-9zm0-25zm0-5zm0-10zm0-11zm1 7zm0 19zm0 14zm1-9zm0-2zm0-5zm0-16zm0-2zm0-8zm0-1zm1-67zm0 83zm0 2zm0 23zm0 2zm0 2zm0 5zm0 25zm1-70zm1-73zm0 67zm0 2zm0 6zm0 18zm0 67zm1-46zm0-1zm0-3zm0-3zm0-23zm1-13zm0 9zm1 41zm0-24zm0-6zm0-13zm0-3zm1-7zm0 7zm0 4zm0 17zm0 6zm1 53zm0-70zm0-6zm0-11zm0-2zm1-65zm0 67zm0 3zm0 12zm0 19zm0 9zm0 8zm0 2zm0 8zm0 30zm1-16zm0-62zm0-80zm1 65zm0 18zm0 13zm0 5zm0 21zm1 55zm0-94zm0-14zm0-69zm1 68zm0 2zm0 1zm0 2zm0 16zm1-2zm0-20zm0-66zm1 0zm0 76zm0 6zm0 4zm0 2zm0 3zm0 21zm0 61zm1-25zm0-25zm0-12zm0-30zm0-6zm0-1zm0-3zm0-3zm1 2zm0 12zm0 35zm0 19zm1-14zm0-38zm0-1zm1-17zm0 9zm0 9zm0 30zm0 10zm1-6zm0-32zm0-18zm0-68zm1-2zm0 1zm0 73zm0 1zm0 28zm1 34zm0-51zm1-2zm0 38zm1-22zm0-8zm0-3zm0-7zm0-2zm0-7zm0-1zm1 0zm0 2zm0 2zm0 18zm0 17zm0 12zm0 27zm1-14zm0-19zm0-26zm0-3zm0-4zm0-16zm1-66zm0 79zm0 22zm0 43zm0 2zm1-35zm0-47zm0-68zm1 75zm0 1zm0 2zm0 25zm0 13zm0 15zm0 9zm1 20zm0-74zm0-3zm0-1zm0-3zm1-75zm0 79zm0 4zm0 4zm0 26zm1 26zm0-58zm0-6zm0-6zm0-70zm1-1zm0 68zm0 2zm0 6zm0 1zm0 12zm0 23zm0 3zm0 8zm0 30zm1-40zm0-8zm0-5zm0-5zm0-4zm0-8zm1-18zm0 4zm0 1zm0 20zm0 5zm0 14zm0 1zm0 19zm0 6zm1-37zm0-19zm0-12zm1 19zm0 9zm0 43zm1-25zm0-12zm0-3zm0-8zm0-12zm0-6zm1-5zm0 1zm0 2zm0 1zm0 2zm0 37zm1 34zm0-5zm0-28zm0-6zm0-1zm0-4zm0-34zm0-65zm1 66zm0 4zm0 16zm0 2zm0 2zm0 10zm0 12zm0 24zm1-1zm0-60zm0-2zm1 0zm0 10zm0 1zm0 1zm0 6zm0 2zm0 2zm0 3zm0 18zm1-26zm0-10zm0-7zm0-6zm1-4zm0 2zm0 9zm0 14zm1 10zm0-3zm0-13zm0-9zm1-6zm0 1zm0 2zm0 38zm0 12zm1 7zm0-26zm0-26zm0-3zm0-7zm0-2zm0-1zm0-63zm1 63zm0 7zm0 1zm0 12zm0 17zm0 13zm0 4zm1 5zm0-41zm0-6zm0-1zm0-1zm0-2zm0-2zm0-3zm0-67zm1 69zm0 9zm0 12zm0 2zm0 24zm1 28zm0-9zm0-51zm0-9zm0-9zm0-1zm0-1zm1 10zm1 19zm0-17zm0-8zm0-68zm1 3zm0 87zm0 59zm1-10zm0-29zm0-26zm0-4zm0-10zm0-5zm0-63zm1 90zm0 1zm0 22zm0 32zm1 25zm0-45zm0-19zm0-8zm0-12zm0-11zm0-11zm1-3zm0 1zm0 1zm0 1zm0 3zm0 2zm0 12zm0 2zm0 3zm0 15zm0 65zm1-3zm0-89zm0-6zm1-71zm0 70zm0 9zm0 36zm0 21zm1-7zm0-17zm0-26zm0-8zm0-7zm0-1zm0-4zm1-62zm0 1zm0 58zm0 6zm0 10zm0 10zm0 37zm0 7zm1 13zm0-21zm0-46zm0-9zm0-5zm0-3zm0-57zm1 63zm0 1zm0 6zm0 23zm0 1zm1-6zm0-89zm1 62zm0 3zm0 8zm0 6zm0 12zm0 20zm0 3zm0 7zm1 38zm0-87zm0-7zm0-7zm1 4zm0 29zm0 8zm1 23zm0-19zm0-13zm0-9zm0-2zm0-2zm0-18zm0-3zm1-56zm0 1zm0 57zm0 3zm0 15zm0 5zm0 73zm1-21zm0-9zm0-17zm0-5zm0-2zm0-1zm0-19zm0-15zm0-3zm0-1zm0-61zm1 68zm0 2zm0 4zm0 2zm0 2zm0 3zm0 13zm0 21zm1 9zm0-5zm0-35zm0-22zm0-61zm0-5zm1 4zm0 59zm0 2zm0 8zm0 4zm0 1zm0 31zm0 35zm0 17zm1 11zm0-51zm0-56zm0-61zm1 55zm0 5zm0 4zm0 21zm0 2zm0 7zm1-3zm0-1zm0-16zm0-2zm1-70zm0 55zm0 2zm0 2zm0 8zm0 8zm0 9zm0 48zm1-27zm0-8zm1-97zm0 52zm0 1zm0 3zm0 3zm0 8zm0 12zm0 8zm0 13zm1 39zm0-38zm0-42zm0-5zm0-54zm1 53zm0 2zm0 4zm0 8zm0 2zm0 18zm1 55zm0-35zm0-37zm0-1zm0-2zm0-11zm0-6zm1 1zm0 2zm0 1zm0 60zm1-60zm0-2zm1-3zm0 21zm0 16zm1-31zm1-55zm0 56zm0 15zm0 4zm0 5zm0 12zm0 20zm1 26zm0-40zm0-24zm0-2zm0-15zm0-4zm0-53zm0-2zm1 57zm0 2zm0 57zm1 1zm0-8zm0-7zm0-3zm0-17zm0-3zm0-18zm0-6zm0-2zm1 4zm0 11zm0 19zm0 13zm1 35zm0-47zm0-4zm0-15zm0-2zm0-16zm0-1zm0-47zm1 73zm0 16zm1 7zm0-29zm0-5zm0-9zm1-55zm0 52zm0 3zm0 102zm1-54zm0-40zm0-7zm0-4zm1 3zm0 6zm0 24zm0 61zm1 2zm0-56zm0-30zm0-1zm0-11zm0-3zm0-49zm1 49zm0 1zm0 3zm0 6zm0 27zm0 24zm0 2zm1-27zm0-2zm0-26zm1-2zm0 1zm0 23zm0 10zm0 11zm1 10zm0-21zm0-12zm0-21zm0-1zm0-6zm0-43zm1 57zm0 16zm0 25zm0 24zm1 10zm0-85zm1-1zm0 1zm0 7zm0 2zm0 2zm0 8zm1 57zm0-52zm0-12zm0-12zm0-47zm1 0zm0 1zm0 40zm0 1zm0 11zm0 81zm1 3zm0-13zm0-54zm0-29zm0-1zm1-1zm0 3zm0 9zm0 6zm0 5zm0 9zm0 14zm1 2zm0-9zm0-16zm0-14zm0-7zm0-4zm0-36zm1 0zm0 43zm0 11zm0 62zm1-5zm0-52zm0-5zm0-6zm0-6zm0-41zm0-3zm1 38zm0 4zm0 4zm0 1zm0 6zm0 26zm1-8zm0-16zm0-17zm1 1zm0 9zm0 13zm0 1zm0 33zm0 3zm1 14zm0-20zm0-12zm0-17zm0-13zm0-11zm0-6zm1 7zm0 5zm0 3zm0 4zm0 25zm0 2zm0 8zm0 15zm1 21zm0-68zm0-4zm0-7zm0-4zm1-12zm0 23zm0 26zm0 10zm0 25zm1 5zm0-49zm0-1zm0-23zm0-3zm0-37zm0-1zm1-1zm0 3zm0 27zm0 5zm0 58zm0 28zm0 23zm1-10zm0-63zm0-1zm0-21zm0-19zm0-7zm0-22zm1 1zm0 27zm0 2zm0 1zm0 4zm0 48zm1-33zm0-2zm0-1zm0-4zm0-4zm0-13zm0-5zm1-20zm0 24zm0 37zm1 6zm0-1zm0-13zm0-3zm0-8zm0-1zm0-20zm0-20zm1 16zm0 1zm0 42zm0 2zm0 19zm0 14zm1 18zm0-6zm0-18zm0-7zm0-11zm0-3zm0-12zm0-21zm0-11zm0-1zm1-10zm0 8zm0 10zm0 17zm0 10zm1 61zm0-39zm0-39zm0-1zm0-2zm0-20zm0-4zm0-13zm1 0zm0 10zm0 3zm0 3zm0 7zm0 1zm0 13zm0 2zm0 19zm0 59zm1-44zm0-34zm0-21zm0-6zm0-1zm0-1zm0-1zm0-12zm1 12zm0 14zm0 1zm0 5zm0 2zm0 27zm0 9zm0 23zm1-48zm0-14zm0-11zm0-3zm0-14zm1 8zm0 3zm0 3zm0 24zm0 10zm0 7zm0 12zm1 40zm0-39zm0-21zm0-12zm0-4zm0-6zm0-1zm0-18zm0-10zm1 16zm0 3zm0 26zm0 30zm0 2zm0 3zm0 9zm0 2zm1-57zm0-9zm0-1zm0-5zm0-11zm1 3zm0 3zm0 1zm0 8zm0 16zm0 13zm0 32zm0 1zm0 23zm1-33zm0-35zm0-4zm0-13zm0-3zm0-7zm1-8zm0 16zm0 2zm0 10zm0 7zm0 32zm1-9zm0-28zm1-12zm0 11zm0 3zm0 27zm0 8zm0 11zm1 44zm0-6zm0-16zm0-72zm0-3zm0-15zm0-9zm1 8zm0 44zm0 2zm0 12zm1-16zm0-6zm0-35zm0-3zm1-3zm0 1zm0 22zm0 16zm0 16zm0 7zm1 13zm0-15zm0-8zm0-25zm0-6zm0-18zm0-3zm1-2zm0 6zm0 3zm0 5zm0 42zm0 20zm1 13zm0-18zm0-9zm0-16zm0-18zm0-19zm0-2zm1-4zm0 9zm0 15zm1 68zm0-48zm0-14zm0-17zm0-11zm0-3zm1 3zm0 1zm0 2zm1 72zm0-44zm0-1zm0-16zm1-9zm0 1zm0 13zm0 8zm0 13zm0 17zm1 31zm0-66zm0-22zm1-4zm0 10zm0 5zm0 6zm0 1zm1 89zm0-20zm0-39zm0-12zm0-15zm0-3zm0-7zm0-5zm0-3zm1-4zm0 3zm0 1zm0 1zm0 8zm0 15zm0 1zm0 15zm0 41zm1-33zm0-14zm0-12zm0-2zm0-3zm0-6zm0-4zm0-4zm0-4zm1 2zm0 16zm0 9zm0 3zm0 4zm0 14zm1 61zm0-47zm0-14zm0-20zm0-3zm0-32zm1 9zm0 1zm0 9zm0 7zm0 11zm0 4zm0 23zm0 13zm1-6zm0-34zm0-26zm0-5zm0-2zm1 4zm0 25zm0 8zm0 4zm0 13zm0 11zm0 5zm0 16zm1-13zm0-27zm0-39zm0-6zm1 4zm0 11zm0 7zm0 18zm0 12zm0 11zm1 32zm0-31zm0-13zm0-9zm0-9zm0-3zm0-17zm0-12zm0-1zm1 7zm0 5zm0 3zm0 10zm0 3zm0 27zm0 50zm0 1zm0 1zm1-36zm0-5zm0-5zm0-15zm0-1zm0-2zm0-35zm0-1zm1-9zm0 6zm0 7zm0 1zm0 3zm0 8zm1 85zm0-59zm0-14zm0-2zm1-22zm0 23zm0 3zm0 10zm0 38zm1-30zm0-9zm0-7zm0-10zm0-3zm0-19zm0-5zm1 9zm0 4zm0 15zm0 33zm0 20zm1 37zm0-53zm0-2zm0-8zm0-3zm0-34zm0-14zm0-2zm1 8zm0 14zm0 17zm0 2zm0 10zm0 5zm0 4zm0 22zm0 11zm1-61zm0-15zm0-3zm0-8zm1-5zm0 1zm0 32zm0 46zm1 19zm0-34zm0-6zm0-20zm0-26zm0-1zm1-3zm0 8zm0 42zm0 4zm1-40zm0-11zm0-6zm0-3zm0-4zm1 7zm0 2zm0 8zm0 10zm0 16zm0 4zm0 13zm0 8zm1 5zm0-47zm0-5zm0-5zm1-5zm0 18zm0 5zm0 13zm1-11zm0-13zm0-2zm0-11zm1-5zm0 11zm0 31zm0 7zm1-1zm0-27zm1-16zm0 4zm0 13zm0 15zm0 3zm1-7zm0-23zm0-5zm0-8zm1 3zm0 34zm0 16zm0 11zm0 26zm1-66zm0-22zm1 40zm1 35zm0-57zm0-3zm0-1zm0-5zm1 40zm1-28zm0-1zm0-3zm0-2zm0-5zm1-6zm0 2zm0 17zm0 13zm1 51zm0-14zm0-60zm1 1zm1 11zm0-8zm0-2zm0-7zm1 3zm1 47zm0-11zm0-16zm0-14zm0-6zm0-4zm1 0zm0 1zm1 66zm0-65zm1 2zm2 4zm1-7zm1 61zm0-50zm1-9zm1 0zm1 19zm1-17zm2 55z" stroke="#a6dff4" stroke-width="4.5" stroke-linecap="round" fill="none"/><path d="M615 104zm0 16zm0 5zm3 32zm0-14zm0-16zm0-12zm2 21zm1 33zm1-61zm1 62zm0-41zm0-5zm1-5zm0 4zm1-8zm1 7zm2 42zm1-45zm1 36zm1-32zm0 39zm2 0zm0-49zm2 28zm1-3zm1-2zm1 30zm0-13zm1-40zm0 9zm1 39zm2-5zm1-15zm0-13zm3 3zm2 11zm0-26zm0-7zm1 51zm0 5zm0 9zm1-57zm1 3zm1 52zm0-33zm2 18zm2 5zm0-33zm0-1zm1-15zm0 54zm0 6zm1-31zm1 3zm1-36zm1 15zm0 22zm1-22zm2 9zm0 30zm1 0zm4-24zm2-22zm0-1zm1 60zm1-56zm1 9zm2 4zm1-15zm0 49zm2-12zm0-35zm1 38zm2 11zm0-62zm4 61zm2 6zm0-35zm4 16zm3-18zm0-18zm1 36zm1 19zm0-56zm1 16zm0 4zm3 12zm0-26zm0-6zm2 22zm2 28zm1-46zm0 12zm2-16zm1-2zm0 15zm1 23zm2 2zm2-21zm4-9zm1-16zm1 8zm0 15zm0 32zm1-27zm2-11zm0 10zm1 11zm0-28zm1 0zm1-1zm0-3zm0-3zm1 16zm0 31zm1-12zm0-28zm2-9zm0 35zm1-3zm1-34zm0 28zm3 23zm2-19zm1-9zm1 35zm1 2zm0-35zm0-15zm2 21zm0 26zm2 5zm0-25zm1-5zm0 20zm1 2zm4-8zm1-13zm1 11zm0 16zm4 4zm1-36zm0 17zm0 2zm1-34zm0-10zm3 27zm0 16zm2 11zm0-17zm1-20zm2 0zm0-10zm0-5zm2-5zm1 23zm1-14zm0 38zm2-21zm1-21zm0 51zm1-57zm2 9zm1 26zm0-31zm3 7zm0 3zm1 13zm3-21zm1 24zm1 6zm1-6zm6-27zm1 18zm1-18zm0 26zm0 18zm0 14zm1-57zm2 18zm1-22zm1 32zm0 8zm1-30zm0-8zm2 20zm1-4zm1-11zm2 55zm0-3zm0-45zm2-8zm1 39zm2-15zm3 12zm1 3zm4-38zm1 48zm2-12zm1-43zm0 2zm0 18zm0 8zm1 17zm0-23zm3-15zm3 36zm0-28zm4 17zm2 12zm0-29zm2 44zm1-51zm4 21zm1-23zm3 9zm2 16zm0-25zm1-5zm1 48zm0-33zm1-10zm6 24zm0-13zm1-12zm2 7zm0-1zm1 7zm4-8zm1 41zm2-14zm1-21zm3 29zm0-11zm0-17zm4-7zm3 11zm1 7zm2-25zm3 17zm4 16zm2-17zm2-8zm2 7zm0 6zm4 1zm2 1zm1 0zm0-5zm1 1zm1-14z" stroke="#fff" stroke-width="2.2" stroke-linecap="round" fill="none"/>
<path d="M612.4 78.5V387.8M653.2 78.5V387.8M693.9 78.5V387.8M734.7 78.5V387.8M775.5 78.5V387.8M816.2 78.5V387.8M857 78.5V387.8M897.8 78.5V387.8M938.6 78.5V387.8M979.3 78.5V387.8M1020.1 78.5V387.8" stroke="#c2c2c2" stroke-width="1.3" stroke-dasharray="4 4.3" fill="none"/>
<path d="M614.2 150.3 1016.3 165" fill="none" stroke="#000" stroke-width="2.2" stroke-linejoin="round" stroke-dasharray="10.5 6.5"/>
<path d="M615.9 133.9 619.4 143.4 624.7 150.3 633.4 151 647.4 148.6 661.4 150.3 671.9 156.3 682.4 157.3 691.1 153.1 699.9 153.8 710.3 161.5 724.3 160.8 734.8 156.3 741.8 156.3 750.6 160.1 759.3 159.1 769.8 153.8 776.8 149.3 783.8 151 790.8 156.6 801.3 157.3 808.3 152.8 825.7 152.8 836.2 156.3 850.2 155.6 857.2 152.4 864.2 153.1 871.2 159.1 885.2 160.1 895.7 158 904.4 159.1 909.7 162.6 923.6 165 934.1 164.3 939.4 160.8 944.6 161.5 951.6 165 956.9 172 962.1 173.8 977.8 173.8 981.3 165 990.1 164.3 994.3 171.3 999.9 171.3 1004.1 164.3 1018 164.3" fill="none" stroke="#cf2318" stroke-width="2.2" stroke-linejoin="round"/>
<path d="M592.2 74.5V387.8H1040" stroke="#222" stroke-width="1.1" fill="none"/><path d="M592.2 89.9h-3.5M592.2 171.3h-3.5M592.2 252.4h-3.5M592.2 333.9h-3.5M612.4 387.8v3.5M653.2 387.8v3.5M693.9 387.8v3.5M734.7 387.8v3.5M775.5 387.8v3.5M816.2 387.8v3.5M857 387.8v3.5M897.8 387.8v3.5M938.6 387.8v3.5M979.3 387.8v3.5M1020.1 387.8v3.5" stroke="#222" stroke-width="1" fill="none"/>
<rect x="592.2" y="14.9" width="461.7" height="49.6" rx="3" fill="#000"/><rect x="599.6" y="22.3" width="446.9" height="34.8" fill="#8f8b5a"/><text x="823.1" y="54.6" font-size="39.1" text-anchor="middle" >H43</text>
<path d="M1082 94.4 1087.2 97.9 1109.9 103.8 1249.8 105.9 1284.8 105.9 1312.7 105.9 1347.7 106.6 1389.7 113.6 1424.6 115.4 1459.6 114.3 1470.1 124.1 1489.3 148.6 1489.3 148.6 1470.1 124.1 1459.6 114.3 1424.6 115.4 1389.7 139.9 1347.7 153.8 1312.7 164.3 1284.8 171.3 1249.8 174.8 1109.9 174.8 1087.2 174.8 1082 174.8 Z" fill="#a6dff4"/><path d="M1081 96zm0 89zm0 8zm0 7zm0 11zm0 1zm0 6zm0 18zm0 19zm1-49zm0-20zm0-91zm1 83zm0 27zm0 12zm1 83zm0-50zm0-5zm0-19zm0-40zm0-6zm1-5zm0 2zm0 1zm0 4zm0 1zm0 44zm0 2zm0 61zm1-5zm0-51zm0-16zm0-11zm0-109zm1 83zm0 10zm0 3zm0 17zm0 58zm1-4zm0-50zm0-15zm0-3zm0-11zm0-5zm0-2zm0-2zm0-1zm1 17zm0 39zm1 17zm0-4zm0-7zm0-3zm0-24zm0-2zm0-15zm0-2zm0-10zm0-2zm0-7zm1 2zm0 8zm0 36zm0 19zm0 29zm1-36zm0-9zm0-42zm1 4zm0 4zm0 2zm0 19zm0 10zm0 29zm1 35zm0-42zm0-54zm0-12zm0-1zm0-1zm1-73zm0 111zm0 18zm0 42zm1 5zm0-6zm0-41zm0-26zm0-6zm0-17zm0-5zm0-1zm1 1zm0 1zm0 1zm0 4zm0 1zm0 5zm0 7zm0 4zm0 3zm0 11zm0 55zm0 23zm1-88zm0-1zm0-18zm1-4zm0 3zm0 4zm0 1zm0 1zm0 1zm0 19zm0 5zm0 2zm0 6zm0 45zm0 1zm1 19zm0-42zm0-1zm0-27zm0-4zm0-6zm0-6zm0-16zm0-9zm1 4zm0 15zm0 5zm1 27zm0-8zm0-4zm0-30zm0-1zm0-10zm0-69zm1 0zm0 70zm0 9zm0 34zm0 5zm0 8zm0 3zm1 34zm0-70zm0-3zm0-8zm0-2zm0-6zm1-76zm0 1zm0 72zm0 12zm0 75zm1 12zm0-19zm0-21zm0-22zm0-16zm0-16zm1-77zm0 71zm0 14zm0 15zm0 16zm0 9zm0 1zm0 46zm1-51zm0-13zm0-4zm0-7zm0-17zm0-1zm0-8zm1-70zm0 71zm0 4zm0 1zm0 11zm0 8zm0 4zm0 3zm0 29zm0 43zm0 16zm1-23zm0-48zm0-14zm0-5zm0-18zm0-12zm1-1zm0 29zm1 27zm0-43zm0-82zm1 78zm0 18zm0 1zm0 6zm0 3zm0 55zm0 10zm0 17zm1-61zm0-3zm0-50zm0-4zm1-1zm0 1zm0 5zm0 4zm0 6zm0 1zm0 15zm0 23zm0 41zm0 18zm1-60zm0-24zm0-17zm0-82zm1 71zm0 7zm0 1zm0 14zm0 18zm0 4zm0 29zm0 3zm1-3zm0-7zm0-27zm0-4zm0-16zm0-15zm0-75zm1 73zm0 2zm0 37zm0 28zm1-18zm0-2zm0-10zm0-15zm0-8zm0-87zm1 75zm0 13zm0 15zm0 5zm0 4zm0 8zm0 8zm0 2zm0 3zm1 69zm0-28zm0-20zm0-40zm0-15zm0-3zm0-3zm1-91zm0 67zm0 3zm0 3zm0 8zm0 1zm0 49zm0 36zm0 12zm1-50zm0-6zm0-44zm0-11zm0-73zm1 78zm0 14zm0 11zm0 3zm0 5zm0 18zm1 75zm0-11zm0-77zm0-3zm0-12zm0-1zm0-18zm0-4zm0-1zm0-1zm0-73zm1 75zm0 4zm1 72zm0-28zm0-21zm0-24zm0-1zm0-8zm0-68zm0-1zm1-2zm0 4zm0 74zm0 1zm0 2zm0 1zm0 21zm0 64zm0 10zm1 6zm0-7zm0-43zm0-60zm0-2zm0-68zm0-1zm1 69zm0 3zm0 2zm0 4zm0 2zm0 27zm1 37zm0-16zm0-35zm0-9zm0-4zm0-7zm0-72zm0-1zm1 1zm0 74zm0 2zm0 6zm0 18zm0 10zm1 12zm0-8zm1-117zm0 71zm0 1zm1 105zm0-63zm0-5zm0-6zm0-10zm0-5zm0-3zm0-8zm1-73zm0 89zm0 4zm0 21zm0 33zm0 28zm1 10zm0-1zm0-46zm0-46zm0-4zm0-2zm0-2zm0-1zm0-5zm0-4zm0-5zm1-72zm0 72zm0 2zm0 11zm0 5zm0 3zm0 5zm0 8zm1 26zm0-2zm0-6zm0-30zm0-13zm0-1zm0-81zm1 76zm0 4zm0 10zm0 9zm0 1zm1 50zm0-73zm0-4zm0-71zm1 75zm0 13zm0 1zm0 3zm0 21zm0 3zm0 7zm0 76zm1-20zm0-76zm0-6zm0-96zm0-1zm0-2zm1 81zm0 8zm0 12zm0 7zm0 12zm1 50zm0-27zm0-12zm0-4zm0-4zm0-35zm0-2zm0-2zm0-12zm1 14zm0 8zm0 4zm0 1zm0 11zm0 12zm0 3zm1-39zm0-3zm0-1zm0-5zm0-77zm1 72zm0 2zm0 14zm0 110zm1-46zm0-4zm0-40zm0-12zm0-7zm0-89zm1 71zm0 17zm0 20zm0 9zm0 56zm0 18zm1-10zm0-70zm0-13zm0-21zm0-4zm1-70zm0 74zm0 18zm1 2zm0-12zm0-7zm0-4zm1-1zm0 34zm0 13zm0 36zm1 17zm0-20zm0-22zm0-40zm0-4zm0-7zm0-2zm0-1zm0-2zm0-3zm1-69zm0 71zm0 5zm0 6zm0 56zm0 27zm1-5zm0-24zm0-30zm0-2zm0-15zm0-2zm0-13zm0-1zm0-1zm1 9zm0 34zm0 47zm1-76zm0-9zm1 0zm0 1zm0 11zm0 4zm0 9zm0 1zm0 29zm0 21zm1-1zm0-34zm0-18zm0-6zm0-1zm0-6zm0-1zm1-17zm0 4zm0 27zm0 13zm0 12zm1 55zm0-68zm0-1zm0-39zm0-3zm0-1zm1 13zm0 8zm0 2zm0 14zm0 7zm0 72zm0 3zm1-15zm0-30zm0-8zm0-23zm0-18zm0-21zm0-2zm1-1zm0 2zm0 2zm1 28zm0-1zm0-3zm0-16zm0-6zm0-7zm1 5zm0 14zm0 1zm0 1zm0 31zm0 53zm0 23zm1-44zm0-4zm0-64zm0-11zm0-4zm1-68zm0 71zm0 18zm0 23zm0 2zm0 4zm0 6zm0 13zm0 61zm1-70zm0-44zm0-7zm0-2zm0-76zm1-4zm0 4zm0 73zm0 1zm0 5zm0 28zm0 10zm0 4zm1-9zm0-8zm0-32zm1 12zm0 98zm0 14zm1-56zm0-3zm0-13zm0-10zm0-6zm0-8zm0-18zm0-5zm1 0zm0 17zm0 3zm0 35zm0 17zm1 35zm0-41zm0-44zm0-4zm0-3zm0-4zm1-14zm0 7zm0 11zm0 36zm0 60zm0 9zm1-106zm0-7zm0-1zm0-4zm1-8zm0 3zm0 2zm0 14zm0 15zm1 47zm0-22zm0-28zm1-104zm0 72zm0 2zm0 29zm0 13zm0 3zm0 63zm1-93zm0-8zm0-7zm0-71zm1 77zm0 12zm0 5zm1 76zm0-16zm0-58zm0-28zm0-69zm1-2zm0 87zm0 5zm0 15zm0 1zm0 44zm1 10zm0-63zm0-5zm0-16zm0-5zm1-2zm0 3zm0 7zm0 4zm0 9zm0 37zm0 73zm1-75zm0-20zm0-22zm0-12zm0-5zm0-68zm1-7zm0 7zm0 1zm0 73zm0 9zm0 13zm0 4zm0 2zm0 7zm0 4zm0 4zm0 65zm0 1zm0 4zm1-24zm0-36zm0-127zm1 0zm0 74zm0 14zm0 35zm0 20zm0 18zm1 22zm0-17zm0-15zm0-56zm0-15zm0-6zm1-4zm0 1zm0 7zm0 2zm0 1zm0 3zm0 48zm0 9zm0 29zm0 16zm1-87zm0-3zm0-5zm0-14zm0-1zm0-8zm1 0zm0 1zm0 1zm0 7zm0 2zm0 5zm0 14zm0 6zm0 20zm0 41zm1 29zm0-30zm0-32zm0-28zm0-25zm1-78zm0 88zm0 9zm0 17zm0 66zm1-2zm0-64zm0-1zm0-3zm0-3zm0-13zm0-2zm0-6zm0-9zm1-7zm0 10zm0 3zm0 15zm0 2zm0 43zm0 42zm0 15zm1-2zm0-96zm0-104zm0-1zm1 78zm0 19zm0 32zm1 6zm0-33zm0-20zm0-7zm1-4zm0 2zm0 2zm0 11zm0 12zm0 1zm0 57zm0 23zm1-71zm0-3zm0-5zm1-97zm0 1zm0 83zm0 10zm0 11zm0 15zm1-17zm0-2zm0-6zm0-14zm0-5zm0-3zm0-72zm1-1zm0 72zm0 21zm1 89zm0-33zm0-55zm0-9zm0-5zm0-4zm1-76zm0 77zm0 8zm0 45zm0 62zm1-90zm0-10zm0-12zm0-9zm0-2zm1-71zm0 77zm0 22zm0 4zm1 68zm0-70zm0-8zm0-4zm0-11zm1-76zm0 73zm0 2zm0 21zm0 26zm0 6zm1 5zm0-34zm0-18zm0-5zm0-9zm0-67zm1 108zm0 5zm0 28zm0 15zm1 19zm0-86zm0-17zm0-1zm1-3zm0 11zm0 2zm0 3zm0 9zm0 9zm0 28zm0 26zm1-2zm0-5zm0-18zm1-130zm0 73zm0 4zm0 17zm0 17zm0 56zm1-77zm0-1zm0-13zm0-5zm1 6zm0 23zm0 48zm1 8zm0-42zm0-44zm1-4zm0 8zm0 20zm0 3zm0 10zm1 47zm0-19zm0-31zm0-26zm0-2zm0-4zm0-5zm1 0zm0 16zm0 5zm0 19zm1 21zm0-50zm0-5zm0-4zm1-76zm0 3zm0 79zm0 15zm0 6zm0 55zm0 27zm0 13zm1-36zm0-58zm0-9zm0-3zm0-4zm0-1zm0-1zm0-1zm0-82zm1 73zm0 26zm0 7zm0 61zm0 3zm1-67zm0-16zm0-3zm0-2zm0-2zm0-4zm1-73zm0 134zm0 9zm1-8zm0-48zm0-8zm1-79zm0 68zm0 2zm0 5zm0 27zm0 10zm1 57zm0-41zm0-4zm0-12zm0-17zm1-100zm0 74zm0 5zm0 26zm0 12zm0 47zm0 18zm1-57zm0-8zm0-15zm0-21zm0-2zm0-1zm0-3zm0-72zm1 1zm0 91zm0 28zm0 4zm1 42zm0-41zm0-35zm0-89zm1 2zm0 68zm0 9zm0 4zm0 8zm0 10zm0 2zm0 18zm0 21zm0 7zm0 1zm0 31zm0 15zm1-118zm0-6zm1 12zm0 1zm0 33zm0 38zm0 21zm1-95zm0-10zm1-1zm0 15zm0 7zm0 100zm0 6zm1-82zm0-6zm0-7zm0-4zm0-15zm0-2zm0-1zm0-7zm0-3zm1-3zm0 19zm1 39zm0-37zm0-15zm0-4zm0-1zm0-69zm1 0zm0 1zm0 69zm0 2zm0 2zm0 24zm0 1zm0 9zm0 9zm0 1zm0 2zm0 53zm1 13zm0-10zm0-5zm0-68zm0-30zm1-3zm0 3zm0 4zm0 24zm0 30zm1-39zm0-7zm0-6zm0-10zm0-1zm1 11zm0 5zm0 1zm0 6zm0 62zm0 2zm1 25zm0-29zm0-8zm1-76zm0 9zm0 5zm0 2zm0 1zm1 42zm0-3zm0-45zm1-4zm0 5zm0 2zm0 8zm0 9zm0 19zm1 43zm0-49zm0-30zm0-6zm0-3zm1-5zm0 5zm0 6zm0 5zm0 7zm0 5zm0 7zm0 38zm1-42zm0-8zm0-13zm1-80zm0 71zm0 2zm0 14zm0 52zm1-11zm0-7zm0-10zm0-40zm0-68zm1 0zm0 67zm0 2zm0 5zm0 43zm0 14zm0 28zm1-28zm0-10zm0-17zm0-12zm0-11zm0-6zm0-74zm0-1zm1 1zm0 64zm0 29zm0 4zm0 7zm1 76zm0-37zm0-26zm0-2zm0-13zm0-17zm0-4zm0-9zm0-4zm0-1zm0-2zm1 3zm0 6zm0 7zm0 2zm0 59zm0 10zm1 5zm0-80zm0-6zm1-7zm0 5zm0 31zm0 4zm0 14zm1 4zm0-10zm0-7zm0-15zm0-13zm1-82zm0 82zm0 9zm0 10zm1 71zm0-32zm0-32zm0-28zm0-1zm0-75zm1-2zm0 74zm0 28zm0 8zm0 21zm0 21zm2-67zm0-2zm0-1zm0-14zm0-1zm0-65zm1 1zm0 65zm0 11zm0 8zm0 29zm1 34zm0-3zm0-31zm0-8zm0-18zm0-5zm0-4zm0-11zm1-67zm0 75zm0 7zm0 12zm0 25zm0 13zm1-6zm0-32zm0-3zm0-11zm0-7zm1 3zm0 19zm0 5zm0 22zm0 50zm1-7zm0-34zm0-4zm0-24zm0-13zm1-89zm0 66zm0 3zm0 7zm0 2zm0 6zm0 1zm0 3zm0 11zm0 39zm1-49zm0-1zm0-13zm0-9zm0-3zm1 2zm0 9zm0 13zm0 4zm0 1zm0 57zm1-150zm1 68zm0 9zm0 12zm0 1zm0 9zm0 49zm1 14zm0-84zm0-4zm0-8zm1 2zm0 4zm0 10zm0 2zm0 19zm0 40zm1-32zm0-4zm1-111zm0 3zm0 66zm0 3zm0 29zm0 1zm0 16zm1 55zm0-41zm0-50zm0-5zm1-73zm0 62zm0 1zm0 1zm0 3zm0 2zm0 4zm0 9zm0 5zm1 78zm0-43zm0-37zm0-2zm0-14zm1 12zm0 2zm0 17zm0 34zm1 8zm0-15zm0-3zm0-13zm0-18zm0-3zm0-5zm0-15zm0-3zm0-3zm0-66zm1 78zm0 54zm0 12zm1-10zm0-4zm0-43zm1-88zm0 67zm0 4zm0 6zm0 5zm1 25zm0-16zm1-88zm0 62zm0 13zm0 64zm1 24zm0-52zm0-25zm0-11zm0-8zm0-68zm1 68zm0 1zm0 2zm0 2zm0 9zm0 59zm0 6zm1 4zm0-47zm0-2zm0-27zm0-2zm0-14zm1 4zm0 4zm0 3zm0 3zm0 19zm1 81zm0-77zm0-11zm1-84zm0 89zm0 18zm1 49zm0-9zm0-43zm0-3zm0-23zm0-7zm0-1zm0-8zm1-65zm0 68zm0 1zm0 20zm0 1zm0 14zm0 4zm0 12zm1 6zm0-21zm0-17zm0-23zm1-4zm0 4zm0 1zm0 16zm0 2zm0 7zm0 8zm0 3zm1 15zm0-30zm0-17zm0-8zm0-60zm0-2zm1 85zm0 52zm1 8zm0-53zm0-28zm0-62zm1-1zm0 1zm0 2zm0 56zm0 2zm0 1zm0 1zm0 8zm0 2zm1 67zm0-34zm0-38zm0-3zm0-3zm1-4zm0 14zm0 3zm0 19zm0 4zm0 2zm0 14zm1 25zm0-28zm0-7zm0-27zm0-6zm0-4zm1-65zm0 58zm0 3zm0 18zm0 3zm0 7zm1-23zm0-9zm0-3zm0-54zm1 60zm0 4zm0 23zm0 16zm0 21zm1-22zm0-24zm0-4zm0-20zm1-1zm0 18zm0 36zm0 13zm0 28zm1-4zm0-33zm0-40zm0-3zm0-8zm1 5zm0 14zm0 2zm1 28zm0-24zm0-18zm0-5zm0-10zm1-52zm0 63zm0 18zm0 26zm1 34zm0-7zm0-34zm0-47zm1-55zm0 59zm0 2zm0 22zm1 27zm0-15zm0-18zm0-2zm0-3zm0-69zm1-2zm0 1zm0 61zm0 2zm0 4zm0 11zm0 17zm1 49zm0-42zm0-25zm0-2zm0-79zm1 58zm0 2zm0 17zm0 35zm0 39zm1-60zm0-14zm0-14zm0-59zm1 1zm0 48zm0 5zm0 6zm0 23zm1 33zm0-7zm0-48zm0-1zm0-10zm0-50zm1 52zm0 12zm0 4zm0 4zm0 6zm0 11zm0 7zm1 39zm0-10zm0-35zm0-22zm0-4zm1-16zm0 2zm0 6zm0 17zm0 1zm0 30zm0 23zm0 7zm1-3zm0-18zm0-8zm0-19zm0-6zm0-1zm0-12zm0-17zm1-50zm0 48zm0 6zm0 4zm0 3zm0 2zm0 15zm0 31zm0 24zm1-7zm0-10zm0-51zm0-15zm1-3zm0 1zm0 1zm0 29zm1 52zm0-30zm0-20zm1-16zm0 11zm0 10zm1 4zm0-19zm0-15zm0-2zm0-1zm0-52zm1 0zm0 49zm0 9zm0 7zm0 31zm0 1zm1 2zm0-15zm0-1zm0-5zm0-27zm1-5zm0 8zm0 7zm0 3zm0 5zm0 1zm0 1zm0 1zm0 8zm0 2zm0 12zm0 23zm1-12zm0-22zm0-29zm0-3zm1-6zm0 8zm0 19zm0 30zm0 46zm1-31zm0-11zm0-12zm0-9zm0-9zm0-10zm0-5zm0-5zm0-2zm0-8zm1 14zm0 6zm1 25zm0-5zm0-12zm0-3zm0-10zm0-8zm1-10zm0 4zm0 57zm0 49zm1-101zm0-7zm0-2zm1 7zm0 4zm0 13zm0 78zm1-66zm0-18zm0-16zm0-43zm1 47zm0 70zm1 11zm0-56zm0-10zm1-20zm0 47zm0 16zm0 24zm1-33zm0-31zm0-16zm0-9zm0-39zm0-3zm1 81zm0 23zm0 45zm1-89zm0-9zm0-9zm0-39zm1 37zm0 2zm0 4zm0 5zm0 16zm0 27zm0 10zm1-12zm0-10zm0-28zm0-10zm0-2zm1-2zm0 4zm0 12zm0 10zm1 10zm0-28zm0-4zm0-3zm0-38zm1 56zm0 4zm0 28zm0 5zm1-36zm1-22zm0 6zm0 5zm0 1zm0 19zm0 3zm0 9zm0 6zm0 3zm1-7zm0-4zm0-1zm0-1zm0-25zm0-4zm0-44zm1 36zm1 43zm0-9zm0-12zm0-10zm0-4zm0-1zm0-5zm0-4zm0-34zm1 0zm0 72zm0 1zm0 20zm1-37zm0-9zm0-14zm1-32zm0 33zm0 13zm0 38zm1-12zm0-3zm0-31zm0-2zm0-2zm1-35zm0 2zm0 37zm0 10zm0 10zm0 22zm0 7zm1-24zm0-6zm0-1zm0-17zm0-6zm1-2zm0 13zm0 5zm0 4zm0 17zm0 28zm1 23zm0-44zm0-19zm0-3zm0-3zm0-4zm0-19zm0-27zm1 30zm0 11zm0 25zm0 25zm0 7zm1-56zm0-15zm0-28zm0-2zm1 35zm0 4zm0 3zm0 2zm0 12zm0 1zm0 16zm0 11zm1 6zm0-48zm0-40zm1 30zm0 1zm0 7zm0 50zm1 46zm0-80zm0-7zm0-1zm0-6zm0-1zm0-2zm1-10zm0 2zm0 12zm1 32zm0-6zm0-16zm0-13zm1-11zm0 18zm0 9zm0 4zm0 4zm1 24zm0-4zm0-7zm0-30zm0-15zm0-28zm0-3zm1 0zm0 27zm0 7zm0 11zm0 6zm0 16zm0 1zm0 22zm1-16zm0-23zm0-3zm0-1zm0-45zm1 24zm0 4zm0 26zm1 31zm0-15zm0-36zm0-1zm0-32zm1 0zm0 25zm0 6zm0 72zm1 17zm0-73zm0-2zm0-1zm0-3zm0-4zm0-4zm0-9zm0-1zm0-2zm0-1zm0-2zm0-20zm1 20zm0 2zm0 12zm0 17zm0 11zm1 16zm0-4zm0-10zm0-7zm0-14zm0-3zm0-5zm0-3zm0-9zm0-3zm0-1zm0-18zm1 21zm0 3zm0 5zm0 2zm0 16zm1 72zm0-46zm0-21zm0-31zm0-1zm0-1zm1-1zm0 2zm0 3zm0 10zm0 2zm0 6zm0 1zm0 19zm0 43zm1 12zm0-6zm0-30zm0-14zm0-16zm0-19zm0-11zm0-2zm1 12zm0 15zm0 8zm0 18zm0 5zm1 37zm0-69zm0-13zm0-4zm0-6zm0-9zm0-14zm1 14zm0 2zm0 2zm0 9zm0 7zm0 4zm0 5zm0 11zm1 4zm0-19zm0-15zm0-1zm0-5zm0-4zm1-10zm0 35zm0 16zm0 24zm0 16zm0 25zm0 18zm1-37zm0-22zm0-4zm0-1zm0-5zm0-24zm0-14zm0-18zm0-2zm1-7zm0 12zm0 17zm0 1zm0 1zm0 71zm1-4zm0-10zm0-18zm0-19zm0-17zm0-2zm0-17zm0-1zm1-2zm0 13zm0 29zm1-17zm0-11zm0-14zm0-18zm1 16zm0 11zm0 50zm1 51zm0-41zm0-25zm0-32zm1-21zm0 5zm0 8zm0 8zm0 54zm0 35zm1-19zm0-42zm0-35zm0-12zm0-2zm0-6zm1 13zm0 9zm0 37zm0 8zm0 21zm1-22zm0-3zm0-1zm0-8zm0-9zm0-4zm0-6zm0-6zm0-2zm0-10zm0-10zm1-5zm0 3zm0 2zm0 1zm0 21zm0 8zm0 10zm0 51zm1 24zm0-32zm0-15zm0-19zm0-6zm0-26zm0-6zm0-14zm1 9zm0 14zm0 11zm0 8zm0 19zm0 10zm0 13zm1-20zm0-17zm0-23zm0-14zm0-8zm1 4zm0 7zm0 9zm0 2zm0 24zm0 21zm1 40zm0-36zm0-24zm0-9zm0-7zm0-3zm0-7zm0-12zm0-8zm1-2zm0 5zm0 6zm0 11zm0 8zm0 19zm0 1zm0 19zm0 13zm0 14zm1-28zm0-13zm0-19zm0-1zm0-22zm0-4zm0-4zm0-11zm1 17zm0 7zm0 3zm0 2zm0 7zm0 11zm0 34zm1 5zm0-32zm0-21zm0-16zm0-2zm0-7zm0-2zm0-3zm1 15zm0 7zm0 10zm0 5zm0 12zm0 4zm0 18zm0 16zm1 18zm0-30zm0-2zm0-9zm0-4zm0-8zm0-1zm0-14zm0-22zm0-8zm0-5zm1-2zm0 5zm0 1zm0 4zm0 6zm0 7zm0 12zm0 21zm1 54zm0-90zm0-16zm1 0zm0 5zm0 19zm1 34zm0-9zm0-4zm0-16zm0-10zm0-13zm0-4zm0-1zm1 11zm0 2zm0 10zm0 56zm1-39zm0-8zm0-1zm0-6zm0-13zm0-6zm1-7zm0 4zm0 7zm0 9zm0 4zm0 5zm0 18zm0 14zm0 9zm1-16zm0-22zm0-10zm0-4zm0-3zm0-19zm1 7zm0 1zm0 2zm0 12zm0 7zm0 4zm0 13zm0 11zm1 21zm0-21zm0-9zm0-15zm0-6zm0-12zm0-7zm0-4zm1 1zm0 7zm0 7zm0 9zm0 5zm0 4zm0 8zm0 19zm1-4zm0-3zm0-1zm0-31zm0-7zm0-2zm0-16zm1 20zm0 46zm1-8zm0-19zm0-19zm0-3zm0-2zm0-8zm1 7zm0 2zm0 14zm0 23zm1 2zm0-9zm0-9zm0-32zm1-3zm0 11zm0 22zm0 14zm0 16zm0 22zm1-6zm0-9zm0-18zm0-1zm0-15zm0-23zm0-3zm0-3zm0-1zm0-6zm1 72zm1-8zm0-8zm0-27zm0-4zm0-13zm0-7zm1-2zm0 8zm0 3zm0 21zm0 65zm1-18zm0-18zm0-6zm0-26zm0-3zm0-6zm0-5zm0-3zm0-9zm1-3zm0 15zm0 2zm0 53zm1-54zm0-11zm1-4zm0 9zm0 6zm0 34zm0 8zm0 15zm1 1zm0-29zm0-14zm0-3zm0-22zm0-3zm1 11zm0 11zm0 10zm1 38zm1-77zm0 2zm0 12zm0 1zm0 17zm0 12zm1 20zm0-36zm0-24zm1-1zm0 3zm0 14zm0 1zm0 14zm0 40zm1-57zm0-15zm0-2zm1 4zm0 9zm0 9zm1 36zm0-15zm0-7zm0-19zm0-9zm1 52zm0 17zm1-59zm0-11zm0-2zm1 39zm1-6zm0-12zm1 7zm0 13zm2-34zm1 7zm0 41zm1-8zm0-36zm1 1zm0 39zm1 23zm0-14zm0-7zm0-20zm0-14zm0-9zm0-2zm1 6zm0 2zm0 6zm0 1zm0 25zm1 8zm0-33zm0-5zm1 28zm0 6zm1 25zm0-15zm0-14zm0-11zm0-6zm0-14zm1 1zm0 26zm2-13zm0-1zm0-8zm0-2zm1-2zm0 1zm0 20zm1 18zm0-31zm0-4zm1 1zm0 12zm0 5zm0 30zm0 4zm1-42zm0-7zm1 30zm0 3zm1 11zm0-23zm0-11zm1 27z" stroke="#a6dff4" stroke-width="4.5" stroke-linecap="round" fill="none"/><path d="M1082 129zm1-12zm3 2zm0 19zm2 9zm1 26zm2-27zm0-40zm1 2zm5 10zm3-1zm0 5zm0 29zm0 9zm2-12zm3-16zm0 27zm1-37zm1 37zm2-21zm0-14zm2 2zm1 11zm0-12zm1 10zm1-10zm0-17zm1-1zm3 17zm1 0zm0 11zm4 1zm2 24zm1-33zm2-2zm2 44zm0-35zm0-22zm1 44zm4-16zm4-18zm1-10zm2 16zm1 14zm2-13zm0 1zm1 4zm1-13zm2 41zm3-26zm0 17zm1 2zm0-43zm1-2zm1 19zm1 16zm0 3zm1-3zm1-28zm0 24zm1-31zm3 1zm0 26zm1 1zm0-6zm2-9zm0 27zm2-37zm1 16zm0 26zm1-27zm2-16zm0 46zm1-45zm1-3zm0 14zm0 36zm2 7zm0-48zm2 38zm0 4zm4-21zm0-24zm2 25zm1 5zm1 6zm1-35zm1-4zm0 27zm1 10zm0-36zm1 11zm0 4zm0 22zm1-32zm1-2zm1-2zm1-1zm0 48zm3-30zm0-24zm1 8zm1 43zm1-8zm2-7zm0-21zm2-4zm0 13zm0 31zm2-47zm3 1zm1 45zm0-33zm2 7zm0 25zm1-3zm0-16zm1-3zm4 9zm4-28zm1-1zm2 31zm2-27zm1 8zm1 16zm0-3zm1-14zm1 37zm1-37zm2-17zm1 53zm2-10zm1-5zm1-21zm0-1zm2-8zm1 32zm0-8zm2-10zm1 21zm0-40zm0-6zm1 27zm1 19zm1-23zm3-6zm1 13zm1 5zm0-3zm1-25zm1 28zm0-31zm1 6zm1 40zm0-24zm3 2zm0 20zm1-5zm4 1zm1-14zm1-24zm0 15zm1 16zm0-14zm0-8zm1 2zm1-11zm1-2zm0 19zm1-16zm2-4zm0 28zm2 18zm0-35zm0-11zm1 4zm0 14zm2-19zm1 49zm1 4zm1-54zm0 11zm1 17zm0-7zm2-16zm0 19zm1 31zm2-19zm1-6zm3 6zm4-13zm1 11zm1-12zm1-24zm0 1zm0 3zm0 46zm1-8zm2-18zm0 25zm1-1zm2-6zm2-17zm0-21zm1 25zm0 1zm3-17zm1-13zm0 36zm3-25zm1 32zm2-12zm2 6zm1 0zm1-17zm1 1zm4-20zm0 18zm2 19zm2-14zm4-4zm4 17zm1-6zm0-15zm0-12zm1-2zm2 27zm4-28zm1 16zm3-16zm0 41zm5-21zm1-10zm0 20zm2-26zm1 21zm3 12zm5-28zm0 11zm3 9zm0-12zm1-8zm13 1zm1 0z" stroke="#fff" stroke-width="2.2" stroke-linecap="round" fill="none"/>
<path d="M1081.3 78.5V388M1122.2 78.5V388M1163 78.5V388M1203.9 78.5V388M1244.8 78.5V388M1285.6 78.5V388M1326.5 78.5V388M1367.4 78.5V388M1408.3 78.5V388M1449.1 78.5V388M1490 78.5V388" stroke="#c2c2c2" stroke-width="1.3" stroke-dasharray="4 4.3" fill="none"/>
<path d="M1083.7 152.8 1485.8 158.4" fill="none" stroke="#000" stroke-width="2.2" stroke-linejoin="round" stroke-dasharray="10.5 6.5"/>
<path d="M1084.8 132.2 1089 143.4 1095.9 153.8 1102.9 160.1 1108.2 157.3 1113.4 148.6 1122.2 145.1 1129.2 152.1 1139.7 160.8 1148.4 160.8 1155.4 152.1 1162.4 147.9 1169.4 148.6 1179.9 160.8 1186.9 163.3 1193.8 159.1 1200.8 151.4 1209.6 151 1218.3 159.1 1225.3 163.3 1235.8 157.3 1246.3 149.7 1251.5 149.7 1258.5 156.6 1267.3 158 1277.8 152.1 1284.8 150.3 1290 156.6 1300.5 160.1 1309.2 159.1 1318 152.8 1333.7 152.8 1340.7 156.3 1347.7 154.9 1356.4 150.3 1365.2 150.3 1375.7 155.6 1384.4 160.1 1393.1 153.8 1403.6 152.8 1411.3 159.8 1431.6 159.8 1442.1 150.3 1449.1 150.3 1457.8 155.6 1463.1 171.3 1471.8 182.9 1477.1 182.9 1481.3 170.6 1487.6 170.6" fill="none" stroke="#cf2318" stroke-width="2.2" stroke-linejoin="round"/>
<path d="M1061.7 74.5V388H1510" stroke="#222" stroke-width="1.1" fill="none"/><path d="M1061.7 89.9h-3.5M1061.7 171.3h-3.5M1061.7 252.4h-3.5M1061.7 333.9h-3.5M1081.3 388v3.5M1122.2 388v3.5M1163 388v3.5M1203.9 388v3.5M1244.8 388v3.5M1285.6 388v3.5M1326.5 388v3.5M1367.4 388v3.5M1408.3 388v3.5M1449.1 388v3.5M1490 388v3.5" stroke="#222" stroke-width="1" fill="none"/>
<rect x="1055.8" y="14.9" width="462.2" height="49.6" rx="3" fill="#000"/><rect x="1063.2" y="22.3" width="447.4" height="34.8" fill="#8abcec"/><text x="1286.9" y="54.6" font-size="39.1" text-anchor="middle" >H41</text>
<path d="M1549.4 96.2 1564.8 101.4 1589.3 99 1599.8 104.9 1634.8 103.1 1669.7 106.6 1704.7 111.9 1739.7 110.1 1753.6 103.8 1774.6 110.1 1792.1 105.6 1809.6 113.6 1844.5 111.9 1879.5 113.6 1897 118.9 1914.5 115.4 1949.4 117.1 1956.4 122.4 1956.4 122.4 1949.4 117.1 1914.5 115.4 1897 118.9 1879.5 132.9 1844.5 146.9 1809.6 160.8 1792.1 164.3 1774.6 166.1 1753.6 167.8 1739.7 167.8 1704.7 167.8 1669.7 167.8 1634.8 167.8 1599.8 167.8 1589.3 166.1 1564.8 164.3 1549.4 160.8 Z" fill="#a6dff4"/><path d="M1548 166zm0 15zm0 1zm0 1zm1 42zm1-41zm1 31zm0-11zm0-17zm0-12zm1-11zm1 44zm0-43zm0-66zm1 67zm0 6zm1 26zm0-9zm0-11zm0-2zm0-3zm1-9zm0 23zm0 18zm2 5zm0-19zm0-9zm0-17zm1 22zm0 10zm0 3zm1-12zm0-20zm0-7zm0-61zm1-1zm0 63zm1 10zm0-6zm1-67zm0 65zm0 9zm0 12zm0 5zm1-3zm0-19zm0-66zm0-1zm1 65zm0 11zm0 16zm1 9zm0-21zm1-17zm0 35zm0 12zm1-23zm0-14zm0-72zm1 80zm0 4zm1 3zm0-12zm0-7zm0-3zm0-65zm1 68zm0 37zm1 4zm0-16zm0-4zm0-20zm0-71zm1 91zm0 32zm1-37zm0-6zm1-10zm0 16zm1 8zm0-5zm0-19zm1-69zm0 78zm0 6zm0 5zm0 18zm0 9zm1-52zm1-65zm0 69zm1 40zm0-12zm0-9zm0-21zm0-67zm1 67zm0 17zm0 20zm1-14zm0-11zm0-10zm0-2zm0-3zm1 6zm0 7zm0 10zm1 17zm0-28zm0-1zm0-10zm1-65zm0 66zm0 3zm0 5zm0 27zm0 15zm1-13zm0-28zm0-1zm0-2zm1 15zm0 17zm1-2zm0-19zm0-7zm0-7zm0-69zm2 66zm0 11zm0 1zm0 2zm0 6zm0 1zm1 31zm0-39zm0-3zm1-75zm0 73zm0 5zm0 46zm1-28zm0-5zm0-13zm0-5zm0-1zm0-72zm1 76zm0 15zm1 1zm0-24zm0-67zm1 1zm0 64zm0 12zm0 2zm1-4zm0-77zm1 72zm1 16zm0-2zm0-13zm0-68zm1 66zm0 21zm1 6zm0-7zm0-19zm0-3zm0-63zm1 95zm1-4zm0-22zm0-1zm0-7zm1-62zm0 69zm1 47zm1-51zm0 10zm1-1zm0-9zm0-64zm1 60zm0 9zm0 17zm1 12zm0-23zm0-8zm0-4zm1 1zm0 1zm0 10zm0 8zm1 16zm0-24zm0-9zm1-68zm0 65zm1 28zm0-25zm1-69zm0 2zm0 61zm1 12zm0-8zm0-2zm1-64zm0 66zm1-1zm0-1zm1 3zm0 6zm0 3zm0 19zm1-12zm0-14zm1-69zm0 63zm0 3zm0 8zm0 1zm0 30zm1-12zm0-11zm0-3zm0-15zm1 12zm1-9zm0-3zm0-70zm1 70zm0 3zm0 9zm2-14zm1 0zm0 10zm0 3zm0 33zm0 3zm1-25zm0-7zm0-5zm0-1zm0-4zm0-2zm0-5zm1 1zm1 13zm0-10zm0-3zm1-62zm0 63zm0 6zm1-2zm0-3zm1-3zm0 7zm0 2zm0 1zm0 11zm1 18zm0-21zm0-2zm0-10zm0-1zm1-70zm0 2zm0 1zm0 66zm0 10zm1 21zm0-99zm1 66zm0 7zm0 6zm0 10zm1 4zm0-24zm1-66zm0 96zm0 5zm1-11zm0-90zm1 0zm0 75zm0 6zm1-4zm0-2zm0-76zm1 62zm0 2zm0 8zm1 15zm0-5zm1-81zm0 66zm0 8zm0 8zm1 12zm0-20zm0-7zm0-6zm1 6zm0 18zm0 1zm2-5zm0-11zm0-8zm1 14zm1-75zm1 62zm1 13zm0-76zm1 76zm0 4zm1 2zm0-11zm0-9zm0-65zm1 67zm0 4zm0 3zm0 13zm1-19zm0-1zm0-2zm0-63zm1 74zm1 18zm0-10zm0-82zm1 73zm1-9zm0-1zm1 3zm0 17zm1 0zm0-5zm1-75zm0 59zm0 4zm0 7zm1-1zm0-6zm0-1zm1-3zm0 10zm1-1zm0-7zm0-61zm1 77zm1 18zm0-19zm0-77zm1 1zm0 62zm0 12zm0 12zm1 1zm0-14zm0-12zm1 4zm0 26zm1-11zm0-8zm0-6zm1-1zm0 11zm1 15zm0-21zm1-5zm0 1zm0 11zm1 9zm0-3zm0-3zm0-2zm1-15zm0 6zm0 1zm0 1zm2 20zm0-24zm0-4zm0-4zm1 4zm0 9zm1-10zm0-59zm1 0zm0 65zm1 8zm0-17zm1-56zm0 65zm0 12zm1-3zm0-12zm0-62zm1-2zm0 2zm0 58zm0 14zm0 6zm1-2zm0-4zm0-9zm1-63zm0 1zm0 59zm0 1zm0 35zm1-23zm0-5zm0-10zm0-1zm0-56zm1-2zm0 62zm0 4zm0 2zm0 10zm1-10zm2-65zm0 57zm0 14zm0 1zm1-4zm1-68zm1 58zm1 0zm0 3zm0 8zm1-14zm0-55zm0-3zm1 2zm0 60zm0 5zm1 21zm0-14zm0-17zm1-55zm0 58zm0 2zm0 1zm0 16zm1 16zm0-28zm0-2zm0-1zm0-6zm1 4zm0 3zm1-2zm0-3zm0-2zm0-1zm0-55zm1 1zm0 55zm0 3zm1 21zm0-16zm0-62zm1 59zm0 5zm1 2zm0-11zm1 6zm1 14zm0-12zm2-63zm0 70zm1 6zm0-18zm0-58zm1-1zm0 65zm0 10zm1-6zm0-5zm1-9zm0 4zm0 17zm0 14zm1-3zm0-16zm0-5zm0-2zm0-7zm0-1zm0-61zm1 66zm1 16zm1-76zm0 55zm0 6zm0 29zm1-23zm0-6zm0-61zm1-2zm0 57zm0 2zm0 2zm0 10zm0 21zm1-16zm0-5zm1-70zm0 54zm1 17zm0-14zm0-57zm1 56zm0 12zm0 1zm0 3zm0 1zm1-5zm0-7zm0-5zm1-56zm0 58zm0 7zm0 11zm0 16zm1-15zm1-21zm0 13zm1 21zm0-16zm0-14zm0-6zm0-54zm1-5zm0 66zm1 9zm0-1zm0-5zm0-2zm0-63zm1 62zm0 6zm1-8zm0-4zm0-55zm1 56zm1 11zm0-8zm0-60zm0-2zm1 0zm0 1zm0 69zm0 2zm0 10zm0 9zm1-13zm0-19zm1 2zm0 14zm1 4zm0-11zm1 11zm1-22zm1-58zm0 64zm1-4zm1 0zm0 4zm1 12zm0-17zm0-62zm2 68zm0 3zm0 5zm1-10zm0-65zm0-2zm1 62zm0 1zm0 1zm0 1zm0 4zm0 2zm1 26zm1-99zm0 2zm0 66zm0 1zm0 1zm1 10zm0-13zm1 3zm1 1zm0-69zm1 2zm0 59zm2 16zm0-5zm0-73zm1 65zm0 11zm0 8zm2 13zm0-92zm1-2zm0 3zm1 70zm0-71zm1 66zm0 6zm0 8zm1-19zm0-60zm1 1zm0 60zm0 30zm1-11zm0-12zm0-4zm0-4zm0-1zm0-3zm1 7zm0 13zm1-11zm0-65zm0-1zm1-1zm0 60zm0 2zm0 3zm1 23zm0-6zm0-19zm1-59zm0 70zm1-14zm1 26zm1-16zm0-12zm0-55zm1 1zm0 77zm0 8zm1 0zm0-32zm0-54zm1 80zm1-19zm0-1zm0-3zm0-61zm1 2zm0 57zm2 31zm0-21zm0-1zm0-1zm0-6zm1-61zm0 62zm1-61zm1 68zm1 13zm0-5zm0-10zm0-1zm1-8zm0 1zm0 5zm0 2zm0 18zm0 22zm1-16zm0-13zm0-5zm0-13zm0-2zm1-58zm0 61zm1-63zm1 4zm0 67zm0 18zm1-26zm1-58zm0 67zm0 8zm0 4zm2-9zm0-3zm0-12zm0-54zm1 71zm1 4zm0-20zm0-54zm1-3zm1 89zm0-10zm0-19zm0-2zm1-60zm0 92zm1-15zm0-2zm0-4zm0-5zm1-60zm1 68zm1-73zm0 62zm0 34zm1-39zm0-50zm1 0zm0 1zm0 47zm1 21zm0-3zm0-10zm1-8zm1 3zm0-3zm0-46zm1-2zm0 2zm0 56zm1-5zm0-1zm0-51zm1 53zm0 1zm1-5zm0-3zm0-2zm1-46zm0 45zm0 7zm0 22zm0 9zm1-20zm0-18zm0-45zm1-2zm0 47zm0 1zm0 3zm1 14zm0-9zm0-1zm0-4zm0-47zm1-1zm0 79zm1-26zm0-9zm0-43zm1 48zm0 40zm1-40zm0-7zm0-1zm0-42zm1 0zm0 52zm0 10zm0 11zm0 1zm1-14zm0-13zm0-5zm1-1zm0 3zm0 18zm0 11zm0 7zm0 20zm1-29zm0-13zm0-9zm1-50zm0 1zm0 2zm0 42zm0 4zm0 1zm0 6zm0 4zm0 1zm0 10zm1 15zm0-1zm0-35zm0-2zm0-1zm1-45zm0 43zm0 6zm0 6zm0 3zm0 12zm1-27zm1-43zm1 86zm0-15zm0-33zm0-38zm0-1zm1 58zm0 22zm1-35zm1-6zm0 20zm0 15zm1-19zm0-10zm1-4zm0 29zm1-3zm0-27zm1-5zm0 1zm0 2zm0 15zm1-14zm1 37zm1-33zm0-42zm1 0zm0 37zm0 19zm1 9zm0-14zm0-2zm0-49zm1-2zm0 49zm0 5zm1-20zm1-34zm0 33zm0 18zm0 2zm1 4zm0-4zm0-10zm0-10zm1-32zm0 35zm0 13zm0 15zm2-17zm0-8zm0-4zm1 20zm0 3zm1-58zm1 3zm0 28zm0 6zm0 7zm0 14zm1-13zm0-8zm0-4zm0-31zm1-2zm0 30zm0 21zm0 27zm1-44zm1-32zm0 34zm0 29zm1-19zm0-5zm1-39zm0 29zm0 22zm1 4zm0-12zm0-15zm1-28zm0 34zm0 34zm1-29zm0-12zm0-2zm1-1zm0 5zm0 17zm1 9zm0-7zm0-3zm0-13zm0-1zm1-33zm0 28zm0 7zm1-31zm0-2zm1 26zm0 8zm0 15zm0 7zm0 13zm1 5zm0-47zm0-2zm1-26zm0 26zm0 6zm0 38zm1-5zm0-9zm0-17zm0-10zm0-5zm0-22zm1 25zm0 23zm0 5zm0 4zm1 10zm0-10zm0-19zm0-6zm0-2zm0-2zm0-5zm1-28zm0 29zm0 5zm0 2zm0 15zm0 5zm1 10zm0-4zm0-14zm0-17zm0-28zm1 2zm0 20zm0 9zm0 9zm0 3zm1 0zm0-18zm1 30zm0 5zm1-40zm1 1zm0 3zm0 10zm0 14zm0 23zm1-15zm0-38zm0-1zm1 23zm0 5zm0 8zm1-4zm0-16zm0-1zm0-5zm0-5zm0-7zm1-10zm0 30zm0 19zm1-23zm0-9zm0-19zm1 12zm0 3zm0 29zm1-2zm0-30zm1-10zm0 12zm0 18zm0 5zm0 3zm0 2zm1-21zm0-1zm0-11zm0-7zm1 4zm0 9zm0 12zm0 3zm0 8zm1 25zm0-17zm0-13zm0-20zm0-3zm1-4zm0 1zm1 40zm0-9zm0-16zm0-7zm0-5zm1-4zm0 5zm0 5zm0 7zm0 24zm1-26zm0-3zm0-11zm1-1zm0 5zm0 15zm0 3zm0 16zm1-2zm0-37zm0-1zm1 7zm0 5zm0 25zm1-5zm0-12zm0-2zm0-7zm0-5zm0-3zm1 42zm1-2zm0-10zm0-16zm1-20zm0 7zm0 2zm0 2zm0 1zm1 33zm0-4zm0-20zm0-12zm0-1zm1-5zm0 2zm0 7zm0 9zm0 5zm1 21zm0-25zm0-9zm1-11zm0 7zm0 16zm0 2zm0 4zm1-8zm0-2zm1-20zm0 8zm0 6zm0 6zm0 27zm0 6zm1-25zm0-7zm1-20zm0 13zm1 31zm0-6zm0-39zm1 2zm0 13zm1 11zm0-1zm0-17zm0-9zm1 15zm0 17zm1 11zm0-17zm0-5zm0-18zm0-1zm0-1zm1 1zm0 2zm0 2zm0 5zm1-1zm0-3zm0-1zm0-3zm1 6zm0 23zm1-14zm0-13zm0-1zm0-1zm0-2zm1 10zm0 49zm1-30zm0-22zm0-4zm0-5zm1 0zm0 13zm0 4zm0 4zm1-17zm1-4zm0 12zm0 12zm1 5zm0-5zm0-10zm1-11zm0 11zm1 30zm0-18zm0-6zm0-3zm0-9zm1-6zm0 3zm0 6zm0 24zm1-36zm1 22zm0 14zm0 5zm1-6zm0-31zm1 4zm0 2zm0 10zm1 4zm0-6zm0-17zm1 23zm0 1zm1 18zm0-17zm0-7zm0-13zm0-3zm0-1zm1-5zm0 52zm1-47zm1 1zm0 6zm0 14zm1 5zm0-4zm0-18zm1 8zm1-4zm0-5zm1 24zm1-22zm1 8zm0 2zm1 15zm1-12zm2-12zm0-9zm1 6zm1 20zm0-19zm2 3zm0 8zm0 12zm2-17zm0-1zm0-1zm1-3zm0 3zm1-3z" stroke="#a6dff4" stroke-width="4.5" stroke-linecap="round" fill="none"/><path d="M1550 122zm0 18zm3 2zm3-38zm1 35zm0-4zm5 0zm1 12zm2-1zm1-25zm1 17zm1-27zm1 32zm1-20zm1 3zm0 17zm1 15zm0-26zm2 16zm1-41zm1 13zm0 21zm0 13zm1-5zm0-45zm0-1zm3 7zm0 31zm1 9zm0-20zm0-19zm1-4zm0 21zm4-23zm2 26zm1 14zm0-6zm1-33zm1 25zm1-23zm0 14zm1 23zm1-25zm1 1zm0-16zm1 2zm0 46zm1 8zm0-41zm1-1zm0 5zm2 27zm0-16zm0-14zm0-6zm1 24zm3 16zm0-10zm2-7zm1 17zm2-18zm0 25zm2-8zm1-41zm1 4zm3 19zm2 12zm2-34zm0 25zm2-26zm1 28zm2 15zm2-2zm1-23zm1-16zm0 4zm1 19zm1-27zm0 4zm0 12zm2 14zm2-29zm1 37zm1-13zm1 12zm1-40zm1 11zm3 0zm2 9zm0-6zm0-12zm1 0zm4 55zm1-29zm1 17zm3-29zm1 19zm1-31zm0 46zm1-38zm0-7zm1 30zm0 23zm1-31zm2 21zm3-15zm0-4zm0-7zm0-20zm1 23zm1-13zm2 8zm1-16zm3 25zm0 7zm1-33zm1 53zm3-39zm1-10zm1 14zm0-13zm1 46zm1-24zm1-5zm3 28zm0-28zm1-2zm1 25zm1-3zm0 9zm1-48zm2 28zm3-28zm1 13zm0 23zm1-16zm3-9zm0 12zm0 16zm2-4zm0-23zm0-12zm2 11zm1 22zm3-27zm1 20zm6 18zm3-38zm8 0zm2 4zm1 16zm1-14zm3-4zm0 22zm1-23zm1 2zm3 9zm1-14zm1-2zm4 9zm2 13zm1 3zm3-19zm1-13zm3 43zm1-32zm1 34zm2-31zm0 40zm3-43zm0-2zm4-5zm0 28zm0 22zm1 0zm0-14zm3-27zm0 38zm3-12zm7-32zm0 5zm4 7zm1-13zm1 11zm7 19zm2 4zm7-15zm1 19zm0-14zm0-11zm0-4zm1 25zm1 6zm3-39zm2 20zm3-15zm2 16zm4-3zm2 21zm0-5zm3-27zm0 7zm5-5zm1 5zm3 0zm1 8zm1-8zm1-4zm1-10zm3 1zm1 28zm0-22zm1 19zm7-8zm1-15zm4-2zm1 13zm1 3zm6-2zm6-16zm4 3zm2 14zm2-12zm1 5zm2-8z" stroke="#fff" stroke-width="2.2" stroke-linecap="round" fill="none"/>
<path d="M1549.4 78.5V388M1590.3 78.5V388M1631.2 78.5V388M1672.1 78.5V388M1713 78.5V388M1754 78.5V388M1794.9 78.5V388M1835.8 78.5V388M1876.7 78.5V388M1917.6 78.5V388M1958.5 78.5V388" stroke="#c2c2c2" stroke-width="1.3" stroke-dasharray="4 4.3" fill="none"/>
<path d="M1550.8 133.9 1952.9 144.4" fill="none" stroke="#000" stroke-width="2.2" stroke-linejoin="round" stroke-dasharray="10.5 6.5"/>
<path d="M1552.9 119.9 1557.8 126.6 1564.8 133.9 1571.8 135.7 1599.8 137.1 1620.8 136.4 1627.8 133.9 1636.5 133.9 1647 137.4 1669.7 137.4 1687.2 138.8 1694.2 143.4 1706.4 143.4 1715.2 139.2 1725.7 139.9 1739.7 139.9 1753.6 136.4 1760.6 136.4 1771.1 138.8 1779.9 139.9 1785.1 142.7 1792.1 144.1 1813.1 144.1 1823.6 141.6 1834.1 137.1 1848 135.7 1862 137.1 1876 141.6 1886.5 142.3 1897 140.9 1912.7 139.9 1916.2 135.3 1935.5 134.6 1944.2 131.1 1949.4 129.4 1952.9 124.1 1957.1 124.1" fill="none" stroke="#cf2318" stroke-width="2.2" stroke-linejoin="round"/>
<path d="M1529.2 74.5V388H1978.8" stroke="#222" stroke-width="1.1" fill="none"/><path d="M1529.2 88.1h-3.5M1529.2 169.9h-3.5M1529.2 251.4h-3.5M1529.2 333.2h-3.5M1549.4 388v3.5M1590.3 388v3.5M1631.2 388v3.5M1672.1 388v3.5M1713 388v3.5M1754 388v3.5M1794.9 388v3.5M1835.8 388v3.5M1876.7 388v3.5M1917.6 388v3.5M1958.5 388v3.5" stroke="#222" stroke-width="1" fill="none"/>
<rect x="1524.3" y="14.9" width="462.9" height="49.6" rx="3" fill="#000"/><rect x="1531.7" y="22.3" width="448.1" height="34.8" fill="#ecc48c"/><text x="1755.8" y="54.6" font-size="39.1" text-anchor="middle" >H51</text>
<path d="M146.9 465.7 174.8 468.5 209.8 469.9 279.7 472 349.7 477.9 384.6 481.4 419.6 484.9 454.5 486.6 489.5 495.4 524.5 500.6 552.4 511.1 552.4 511.1 524.5 500.6 489.5 495.4 454.5 486.6 419.6 512.9 384.6 526.9 349.7 533.8 279.7 539.1 209.8 542.6 174.8 544.3 146.9 544.3 Z" fill="#a6dff4"/><path d="M146 464zm0 101zm0 10zm0 8zm1-13zm0-9zm0-94zm0-1zm1 0zm0 76zm0 9zm0 4zm0 21zm0 31zm1 8zm0-33zm0-16zm0-7zm0-14zm1-1zm0 3zm0 4zm0 4zm0 8zm0 10zm0 8zm1 46zm0-1zm0-7zm0-58zm0-17zm1 7zm0 15zm0 11zm0 22zm0 19zm1-10zm0-60zm0-81zm1 0zm0 76zm0 6zm0 11zm0 15zm0 2zm0 6zm0 38zm1-18zm0-32zm0-18zm0-85zm1 75zm0 2zm0 13zm0 29zm0 17zm1-16zm0-34zm0-7zm0-2zm0-77zm0-3zm1 81zm0 10zm0 34zm1 15zm0-6zm0-12zm0-19zm0-1zm0-10zm0-1zm0-7zm0-1zm1-2zm0 2zm0 8zm0 12zm0 3zm0 12zm0 19zm1 6zm0-49zm0-5zm0-3zm1-90zm0 6zm0 80zm0 22zm0 7zm0 8zm1 4zm0-6zm0-12zm0-4zm0-12zm0-4zm1-7zm0 10zm0 2zm0 20zm0 1zm0 1zm0 25zm0 6zm0 3zm1 11zm0-27zm0-6zm0-14zm0-21zm0-8zm1 11zm0 4zm0 9zm0 1zm0 3zm0 34zm0 23zm1-19zm0-6zm0-14zm0-23zm0-18zm0-82zm0-1zm0-1zm1 77zm0 4zm0 2zm0 1zm1 23zm1-22zm0 3zm0 2zm0 5zm0 11zm0 13zm0 25zm1-3zm0-11zm0-4zm0-20zm0-6zm0-10zm0-2zm0-7zm0-5zm0-76zm1 2zm0 76zm0 1zm0 2zm0 35zm0 15zm1 2zm0-4zm0-1zm0-5zm0-3zm0-27zm0-1zm0-4zm0-8zm0-78zm0-1zm1 1zm0 80zm0 5zm0 39zm1-29zm0-14zm0-5zm0-2zm0-1zm1 1zm0 1zm0 3zm0 25zm0 25zm1 19zm0-28zm0-9zm0-3zm0-32zm1-75zm0 74zm0 5zm0 24zm0 1zm0 41zm0 11zm0 22zm0 1zm1-75zm0-1zm0-13zm0-2zm0-14zm0-73zm1 0zm0 75zm0 4zm0 5zm0 6zm0 1zm0 9zm0 9zm0 13zm0 4zm0 1zm1 5zm0-39zm0-3zm0-3zm1-15zm0 26zm0 12zm0 7zm0 24zm0 6zm0 17zm1-26zm0-5zm0-3zm0-13zm0-6zm0-9zm0-25zm0-2zm0-77zm0-2zm1 2zm0 1zm0 82zm0 7zm0 32zm0 5zm0 2zm0 6zm0 2zm0 45zm1-3zm0-3zm0-51zm0-9zm0-7zm0-10zm0-14zm1-4zm0 12zm0 9zm0 29zm0 22zm1 27zm0-73zm0-2zm1-22zm0 4zm0 2zm0 5zm0 12zm0 3zm0 36zm0 19zm1-40zm0-13zm0-3zm0-14zm0-8zm0-4zm0-8zm1-76zm0 77zm0 44zm0 17zm0 8zm1-9zm0-7zm0-20zm1-23zm0 8zm0 2zm0 2zm0 6zm0 49zm0 18zm1 7zm0-2zm0-45zm0-1zm0-29zm0-2zm0-14zm0-2zm0-1zm0-81zm1 3zm0 80zm0 4zm0 8zm0 7zm0 67zm1-3zm0-22zm0-7zm0-21zm0-7zm0-13zm0-3zm0-6zm0-8zm0-79zm1 82zm0 1zm0 16zm0 3zm0 4zm0 3zm0 15zm0 3zm0 15zm0 25zm0 19zm1-46zm0-9zm0-2zm0-21zm0-1zm0-11zm0-11zm0-6zm0-80zm1 4zm0 77zm0 1zm0 12zm0 6zm0 19zm0 14zm0 9zm1 0zm0-4zm0-27zm0-2zm0-7zm0-15zm0-6zm1-80zm0 76zm0 11zm0 1zm0 10zm0 34zm0 16zm0 14zm1 24zm0-67zm0-2zm0-10zm0-11zm0-9zm0-13zm1-71zm0 73zm0 4zm0 5zm0 9zm0 5zm0 26zm0 9zm0 57zm1 1zm0-64zm0-2zm0-5zm0-15zm0-5zm0-5zm0-7zm0-4zm0-4zm0-79zm1 77zm0 4zm0 4zm0 1zm0 1zm0 2zm0 22zm0 10zm0 5zm0 3zm0 16zm0 15zm0 23zm1-2zm0-12zm0-32zm0-9zm0-4zm0-2zm0-13zm0-6zm0-22zm0-4zm0-4zm0-73zm1 95zm0 13zm0 23zm0 10zm0 1zm1 5zm0-6zm0-2zm0-16zm0-13zm0-4zm0-2zm0-17zm0-6zm0-1zm0-9zm1 6zm0 3zm0 12zm0 18zm0 4zm0 18zm0 21zm1-16zm0-5zm0-11zm0-12zm0-6zm0-2zm0-1zm0-14zm0-8zm0-79zm1 2zm0 72zm0 13zm0 20zm0 6zm0 9zm0 5zm0 13zm0 8zm0 3zm0 2zm1 32zm0-23zm0-24zm0-7zm0-11zm0-6zm0-2zm0-4zm0-7zm0-25zm0-1zm0-3zm1 2zm0 1zm0 4zm0 10zm0 1zm0 24zm0 6zm0 5zm0 6zm0 6zm0 1zm1 5zm0-30zm0-9zm0-7zm0-21zm1-74zm0 71zm0 3zm0 2zm0 3zm0 1zm0 22zm0 2zm0 56zm0 4zm0 28zm1-48zm0-27zm0-7zm0-8zm0-2zm0-3zm0-6zm0-7zm0-9zm0-1zm0-4zm0-70zm1 70zm0 9zm0 2zm0 1zm0 3zm0 13zm0 11zm0 11zm0 32zm0 42zm1-44zm0-12zm0-6zm0-3zm0-19zm0-3zm0-15zm0-3zm0-18zm1-2zm0 2zm0 3zm0 5zm0 4zm0 6zm0 1zm0 4zm0 13zm0 13zm0 6zm0 25zm0 14zm0 15zm1-58zm0-5zm0-7zm0-13zm0-9zm0-2zm0-1zm0-6zm0-4zm0-1zm1-4zm0 4zm0 27zm0 3zm0 3zm0 4zm0 5zm0 15zm0 4zm0 4zm0 7zm0 12zm1 13zm0-65zm0-10zm0-6zm0-6zm1-6zm0 17zm0 1zm0 21zm0 4zm0 21zm0 21zm1 5zm0-7zm0-27zm0-13zm0-3zm0-3zm0-7zm0-8zm0-19zm1-84zm0 79zm0 4zm0 18zm0 6zm0 29zm1 39zm0-17zm0-6zm0-7zm0-22zm0-10zm0-6zm0-1zm1-33zm0 30zm0 2zm0 17zm0 1zm0 53zm1 5zm0-7zm0-37zm0-12zm0-15zm0-5zm0-6zm0-5zm0-9zm0-6zm0-77zm0-2zm1 2zm0 79zm0 1zm0 6zm0 2zm0 2zm0 1zm0 2zm0 29zm0 7zm1 26zm0-14zm0-28zm0-5zm0-13zm0-6zm0-11zm0-8zm1-68zm0 71zm0 10zm0 2zm0 9zm0 21zm0 1zm0 6zm0 6zm0 9zm0 5zm1 38zm0-9zm0-3zm0-2zm0-1zm0-28zm0-19zm0-1zm0-5zm0-1zm0-2zm0-34zm0-1zm1-4zm0 1zm0 6zm0 3zm0 2zm0 14zm0 21zm0 3zm0 1zm0 10zm0 52zm0 8zm1-31zm0-6zm0-24zm0-39zm0-15zm0-2zm0-4zm0-74zm1 5zm0 72zm0 6zm0 11zm0 22zm0 7zm0 19zm0 38zm0 15zm1-39zm0-17zm0-14zm0-27zm0-6zm0-2zm0-8zm0-3zm0-6zm1 8zm0 3zm0 5zm0 9zm0 3zm0 26zm0 3zm0 3zm1 32zm0-28zm0-10zm0-18zm0-10zm0-7zm0-2zm0-2zm1-13zm0 12zm0 1zm0 7zm0 17zm0 6zm0 15zm0 7zm0 15zm1 12zm0-9zm0-29zm0-8zm0-5zm0-29zm0-4zm0-6zm0-4zm1-67zm0 71zm0 8zm0 4zm0 8zm0 6zm0 35zm0 43zm1-36zm0-13zm0-5zm0-5zm0-1zm0-6zm0-23zm0-12zm0-2zm0-72zm0-1zm1 73zm0 3zm0 20zm0 10zm0 15zm0 2zm0 2zm0 16zm1 22zm0-9zm0-1zm0-23zm0-29zm0-1zm0-3zm0-10zm1-5zm0 5zm0 29zm0 65zm1-35zm0-13zm0-22zm0-6zm0-7zm0-24zm0-6zm1 34zm0 14zm0 9zm0 8zm0 20zm0 18zm1-32zm0-7zm0-13zm0-6zm0-14zm0-23zm0-3zm1-74zm0 69zm0 3zm0 1zm0 10zm0 41zm0 4zm0 1zm0 30zm0 13zm1-34zm0-14zm0-5zm0-5zm0-3zm0-19zm0-3zm0-10zm0-4zm0-2zm1-72zm0 84zm0 3zm0 4zm0 8zm0 17zm0 38zm0 24zm1-30zm0-24zm0-32zm0-6zm0-8zm0-3zm0-75zm1 0zm0 75zm0 17zm0 21zm0 22zm0 3zm1 35zm0-1zm0-12zm0-42zm0-2zm0-15zm0-12zm0-12zm0-7zm1-1zm0 3zm0 6zm0 5zm0 7zm0 4zm0 32zm0 10zm0 4zm0 7zm0 15zm1 5zm0-22zm0-4zm0-23zm0-22zm0-19zm1-77zm0 70zm0 2zm0 5zm0 1zm0 13zm0 6zm0 2zm0 4zm0 6zm0 2zm0 42zm0 13zm0 28zm1-6zm0-63zm0-9zm0-6zm0-6zm0-15zm0-4zm0-7zm0-2zm1-7zm0 6zm0 1zm0 8zm0 5zm0 10zm0 7zm0 2zm0 6zm0 17zm0 17zm0 4zm1-40zm0-18zm0-6zm0-2zm1-86zm0 2zm0 79zm0 8zm0 1zm0 2zm0 2zm0 1zm0 12zm0 8zm0 29zm0 12zm0 10zm1-1zm0-44zm0-28zm0-10zm0-7zm0-2zm0-2zm0-72zm1 75zm0 15zm0 3zm0 3zm0 4zm0 2zm0 1zm0 2zm0 5zm0 4zm0 5zm0 1zm0 16zm0 55zm1-23zm0-27zm0-7zm0-19zm0-1zm0-8zm0-5zm0-3zm0-11zm0-3zm0-10zm0-1zm0-3zm0-2zm1-66zm0 67zm0 1zm0 16zm0 5zm0 1zm0 7zm0 27zm1 7zm0-4zm0-20zm0-6zm0-16zm0-3zm0-1zm0-82zm1 66zm0 1zm0 12zm0 17zm0 28zm0 24zm0 20zm0 13zm1-40zm0-31zm0-10zm0-10zm0-1zm0-7zm0-1zm0-2zm0-4zm0-6zm1-69zm0 82zm0 8zm0 1zm0 14zm0 13zm0 18zm0 9zm0 15zm1 8zm0-46zm0-4zm0-9zm0-2zm0-3zm0-106zm1 76zm0 36zm0 9zm0 33zm1 32zm0-31zm0-28zm0-27zm0-3zm0-10zm0-5zm0-2zm0-10zm0-69zm1 76zm0 2zm0 7zm0 24zm0 27zm0 19zm0 27zm1-36zm0-8zm0-17zm0-13zm0-4zm0-9zm0-15zm0-5zm0-6zm0-2zm0-66zm1 70zm0 53zm0 30zm0 2zm1-26zm0-6zm0-44zm0-3zm0-3zm0-6zm1 10zm0 20zm0 54zm0 41zm1-54zm0-7zm0-9zm0-33zm0-3zm0-3zm1-2zm0 15zm0 3zm0 6zm0 16zm0 23zm0 18zm0 17zm1-20zm0-3zm0-4zm0-7zm0-8zm0-32zm0-22zm1 6zm0 4zm0 3zm0 12zm0 7zm0 10zm0 2zm0 15zm0 26zm1 4zm0-7zm0-30zm0-7zm0-17zm0-1zm0-17zm0-15zm1 0zm0 8zm0 7zm0 1zm0 16zm0 11zm0 34zm0 40zm1-63zm0-5zm0-42zm0-12zm0-7zm1 14zm0 2zm0 2zm0 17zm0 12zm0 29zm0 14zm1-15zm0-1zm0-35zm0-5zm0-15zm1-84zm0 64zm0 1zm0 1zm0 12zm0 18zm0 1zm0 10zm0 36zm0 8zm0 15zm1 4zm0-49zm0-9zm0-10zm0-6zm0-8zm0-1zm1-16zm0 6zm0 31zm0 6zm0 21zm1 12zm0-16zm0-6zm0-16zm0-7zm0-4zm0-3zm0-1zm0-2zm0-3zm0-1zm0-12zm0-6zm0-69zm1-1zm0 66zm0 17zm0 7zm0 1zm0 5zm0 66zm1 8zm0-99zm0-3zm0-1zm1-66zm0 1zm0 62zm0 5zm0 1zm0 15zm0 4zm0 19zm0 10zm0 53zm1 18zm0-63zm0-45zm0-3zm0-7zm0-5zm0-67zm1 99zm0 54zm0 28zm1-29zm0-11zm0-13zm0-5zm0-5zm0-1zm0-13zm0-2zm0-6zm0-8zm0-4zm0-12zm0-5zm1-64zm0 65zm0 6zm0 8zm0 26zm0 63zm0 8zm0 2zm1-24zm0-18zm0-14zm0-4zm0-15zm0-4zm0-9zm0-7zm0-8zm0-3zm0-2zm0-5zm0-66zm1 1zm0 61zm0 10zm0 1zm0 1zm0 17zm0 7zm0 5zm0 22zm0 16zm0 19zm0 1zm1-3zm0-8zm0-38zm0-2zm0-23zm0-2zm0-9zm0-8zm0-1zm1 0zm0 7zm0 1zm0 1zm0 2zm0 3zm0 3zm0 19zm0 19zm0 4zm0 1zm0 10zm0 44zm0 1zm1 0zm0-39zm0-1zm0-5zm0-31zm0-9zm0-19zm0-7zm0-4zm0-2zm0-1zm0-2zm1-63zm0 2zm0 87zm0 11zm0 5zm0 30zm0 30zm1-40zm0-10zm0-2zm0-14zm0-7zm0-1zm0-14zm0-1zm0-10zm0-1zm0-2zm1 5zm0 4zm0 18zm0 1zm0 4zm0 21zm0 3zm0 30zm0 3zm0 7zm1-11zm0-3zm0-3zm0-9zm0-10zm0-14zm0-6zm0-10zm1-90zm0 62zm0 3zm0 28zm0 9zm0 26zm0 6zm0 7zm0 25zm1-33zm0-29zm0-16zm0-10zm0-3zm0-3zm0-13zm0-60zm1 66zm0 2zm0 4zm0 2zm0 14zm0 4zm0 22zm0 32zm1 4zm0-35zm0-10zm0-33zm0-8zm1 5zm0 19zm1 50zm0-17zm0-8zm0-28zm0-15zm0-69zm1 62zm0 4zm0 10zm0 16zm0 20zm1 20zm0-6zm0-14zm0-8zm0-17zm0-3zm0-8zm1-13zm0 6zm0 7zm0 9zm0 1zm0 26zm0 21zm0 28zm1-14zm0-65zm0-11zm0-8zm0-1zm0-1zm0-1zm0-2zm1 2zm0 6zm0 2zm0 19zm0 29zm0 7zm0 2zm0 25zm1-17zm0-16zm0-10zm0-2zm0-5zm0-21zm0-4zm0-2zm0-74zm1 63zm0 39zm0 9zm0 8zm0 12zm0 11zm0 42zm1-52zm0-6zm0-18zm0-3zm0-12zm0-1zm0-2zm0-2zm0-5zm0-9zm0-11zm1-1zm0 16zm0 7zm0 8zm0 6zm0 4zm0 18zm0 14zm0 28zm1-49zm0-27zm0-12zm1-16zm0 2zm0 5zm0 2zm0 1zm0 20zm0 11zm0 3zm0 60zm0 9zm1-39zm0-3zm0-14zm0-42zm0-4zm0-4zm0-3zm0-62zm1-3zm0 62zm0 19zm0 2zm0 14zm0 10zm0 1zm0 17zm0 23zm1-35zm0-10zm0-22zm0-10zm0-3zm1-64zm0 67zm0 24zm0 15zm0 3zm0 4zm1-3zm0-28zm0-5zm0-3zm0-76zm1 69zm0 12zm0 52zm1 32zm0-29zm0-11zm0-1zm0-7zm0-4zm0-5zm0-6zm0-5zm0-4zm0-4zm0-10zm0-8zm0-4zm0-4zm0-60zm1 66zm0 5zm0 2zm0 15zm1 80zm0-2zm0-28zm0-6zm0-36zm0-15zm0-15zm0-9zm1 0zm0 41zm0 6zm0 12zm0 16zm0 15zm0 1zm1-18zm0-2zm0-51zm0-5zm0-15zm1-58zm0 70zm0 13zm0 17zm0 9zm1 30zm0-7zm0-29zm0-6zm0-3zm0-3zm0-33zm0-59zm0-2zm1 80zm0 1zm0 2zm0 15zm0 19zm1 59zm0-100zm0-11zm1 12zm0 20zm0 1zm0 25zm0 28zm0 1zm1 10zm0-34zm0-5zm0-11zm0-11zm0-2zm0-15zm0-12zm0-10zm0-2zm0-1zm1 2zm0 9zm0 1zm0 12zm0 2zm0 3zm0 6zm0 38zm1-24zm0-1zm0-1zm0-12zm0-17zm0-10zm0-2zm0-4zm0-2zm1-57zm0 2zm0 55zm0 3zm0 3zm0 5zm0 1zm0 7zm0 12zm0 2zm0 6zm1 53zm0-7zm0-13zm0-8zm0-4zm0-11zm0-7zm0-23zm0-13zm0-3zm1 13zm0 33zm0 4zm0 8zm0 8zm0 2zm0 32zm1-83zm0-18zm1-1zm0 1zm0 6zm0 1zm0 12zm0 1zm0 2zm0 32zm0 13zm0 4zm0 11zm0 3zm0 7zm1 5zm0-4zm0-13zm0-14zm0-23zm0-18zm0-11zm0-11zm1 2zm0 1zm0 2zm0 9zm0 20zm0 5zm0 2zm0 3zm0 15zm0 15zm0 18zm0 2zm1 15zm0-7zm0-14zm0-28zm0-22zm0-23zm0-2zm0-8zm0-4zm0-1zm0-3zm0-55zm0-1zm0-2zm1 59zm0 24zm0 12zm0 1zm0 8zm0 11zm0 8zm0 16zm0 4zm0 9zm1-9zm0-12zm0-9zm0-10zm0-1zm0-18zm0-8zm0-15zm1 23zm0 2zm0 3zm0 8zm0 4zm0 11zm1 58zm0-66zm0-12zm0-4zm0-14zm0-18zm0-2zm0-2zm0-3zm1-2zm0 3zm0 4zm0 18zm0 2zm0 36zm0 7zm0 20zm1 9zm0-84zm0-13zm0-58zm1 1zm0 65zm0 11zm0 28zm0 6zm0 11zm0 11zm0 40zm1-5zm0-9zm0-33zm0-18zm0-8zm0-14zm0-15zm0-12zm1-4zm0 2zm0 4zm0 8zm0 2zm0 5zm0 1zm0 1zm0 2zm0 6zm0 3zm0 6zm0 16zm0 4zm0 13zm0 3zm1 28zm0-13zm0-30zm0-12zm0-19zm0-9zm0-1zm0-10zm0-4zm1 11zm0 8zm0 8zm0 7zm0 21zm0 2zm1 26zm0-31zm0-1zm0-39zm0-8zm0-11zm0-51zm1 54zm0 30zm0 1zm0 5zm0 12zm0 7zm0 8zm0 7zm0 45zm1-81zm0-3zm0-1zm0-12zm0-6zm0-10zm0-5zm1 4zm0 8zm0 3zm0 6zm0 4zm0 9zm0 19zm0 27zm0 26zm1 7zm0-5zm0-58zm0-1zm0-22zm0-13zm0-4zm1-4zm0 11zm0 13zm0 7zm0 25zm0 14zm0 16zm0 15zm0 16zm1-52zm0-40zm0-3zm0-13zm0-4zm0-12zm1 9zm0 8zm0 6zm0 1zm0 5zm0 8zm0 9zm0 3zm0 14zm0 33zm0 3zm0 3zm1 7zm0-42zm0-1zm1-62zm0 5zm0 2zm0 21zm0 6zm0 5zm0 4zm0 1zm0 1zm0 6zm0 15zm0 7zm0 13zm0 9zm1 17zm0-34zm0-80zm0-50zm0-3zm1 53zm0 1zm0 1zm0 5zm0 10zm0 19zm0 2zm1 11zm0-3zm0-4zm0-18zm0-1zm0-11zm0-3zm0-2zm0-11zm0-46zm1 54zm0 1zm0 15zm0 2zm0 8zm0 1zm0 51zm0 7zm1-77zm0-66zm1 59zm0 5zm0 2zm0 26zm0 2zm0 29zm0 1zm0 32zm1-12zm0-9zm0-11zm0-8zm0-12zm0-22zm0-24zm0-1zm1-5zm0 1zm0 3zm0 8zm0 8zm0 4zm0 1zm0 13zm0 5zm0 16zm0 8zm0 11zm0 13zm1 15zm0-3zm0-18zm0-7zm0-57zm0-3zm0-4zm0-11zm0-4zm0-49zm1 46zm0 2zm0 13zm0 5zm0 1zm0 11zm0 7zm0 1zm0 3zm0 49zm0 10zm0 8zm1-2zm0-8zm0-36zm0-1zm0-5zm0-7zm0-35zm0-5zm0-3zm0-7zm0-44zm1 50zm0 2zm0 3zm0 4zm0 4zm0 12zm0 4zm0 20zm0 32zm0 10zm1-1zm0-11zm0-27zm0-40zm0-12zm0-2zm1-6zm0 20zm0 11zm0 22zm0 17zm0 6zm0 13zm0 16zm1-30zm0-11zm0-10zm0-1zm0-21zm0-26zm0-1zm0-4zm1 5zm0 3zm0 3zm0 12zm0 8zm0 6zm0 4zm0 9zm0 2zm0 17zm0 20zm0 2zm1-16zm0-3zm0-10zm0-8zm0-5zm0-2zm0-14zm0-1zm0-2zm0-3zm0-3zm0-5zm0-8zm0-1zm1 2zm0 12zm0 8zm0 22zm0 7zm0 6zm0 7zm0 46zm1-70zm0-4zm0-21zm0-8zm0-16zm0-44zm1 39zm0 10zm0 1zm0 3zm0 3zm0 26zm0 4zm0 5zm0 3zm0 13zm0 1zm0 2zm0 25zm0 2zm0 11zm1-38zm0-18zm0-2zm0-5zm0-33zm0-5zm0-5zm1 0zm0 9zm0 1zm0 11zm0 1zm0 1zm0 2zm0 1zm0 34zm0 13zm0 36zm1-25zm0-17zm0-3zm0-4zm0-19zm0-14zm0-6zm0-6zm0-3zm0-14zm0-39zm1 42zm0 21zm0 15zm0 8zm0 33zm0 2zm0 5zm1 29zm0-10zm0-32zm0-19zm0-6zm0-1zm0-3zm0-10zm0-11zm0-9zm0-1zm1-16zm0 1zm0 1zm0 1zm0 6zm0 1zm0 21zm0 8zm0 9zm0 1zm0 8zm0 11zm0 14zm0 6zm1 31zm0-33zm0-3zm0-12zm0-31zm0-2zm0-13zm0-25zm0-1zm1 5zm0 1zm0 2zm0 6zm0 9zm0 1zm0 10zm0 12zm1 46zm0-26zm0-18zm0-1zm0-26zm0-4zm0-11zm0-1zm0-4zm1-2zm0 77zm0 17zm0 6zm0 6zm0 1zm1-33zm0-26zm0-8zm0-3zm0-12zm0-3zm0-20zm0-41zm1 5zm0 43zm0 19zm0 9zm0 5zm0 12zm0 1zm0 8zm0 25zm0 9zm0 30zm1-27zm0-14zm0-10zm0-20zm0-3zm0-10zm0-20zm0-10zm0-8zm0-1zm1-39zm0 34zm0 3zm0 15zm0 2zm0 6zm0 4zm0 5zm0 9zm0 1zm0 17zm0 43zm0 4zm1-17zm0-30zm0-2zm0-18zm0-1zm0-3zm0-12zm0-1zm0-11zm0-4zm0-2zm0-2zm0-5zm0-36zm1 40zm0 3zm0 4zm0 12zm0 4zm0 2zm0 1zm0 31zm0 4zm0 6zm0 27zm0 23zm1-54zm0-2zm0-6zm0-25zm0-2zm0-9zm0-12zm0-3zm0-4zm0-3zm0-2zm1 17zm0 10zm0 15zm0 8zm0 4zm0 21zm0 41zm1 4zm0-22zm0-11zm0-46zm0-3zm0-5zm0-18zm0-2zm0-10zm0-1zm1-37zm0 42zm0 11zm0 1zm0 7zm0 13zm0 12zm0 4zm0 4zm0 12zm0 1zm1 29zm0-13zm0-36zm0-28zm0-13zm0-2zm0-3zm0-39zm1 1zm0 30zm0 1zm0 10zm0 15zm0 1zm0 28zm0 11zm0 2zm0 7zm1-57zm0-6zm0-2zm1-10zm0 10zm0 8zm0 2zm0 2zm0 28zm0 3zm0 9zm0 22zm0 6zm1 31zm0-47zm0-9zm0-29zm0-1zm0-15zm0-1zm0-1zm0-6zm0-9zm1-7zm0 1zm0 5zm0 6zm0 11zm0 2zm0 35zm0 10zm0 7zm0 12zm0 11zm1 2zm0-12zm0-35zm0-22zm0-6zm0-3zm0-9zm0-1zm0-5zm0-4zm1 2zm0 1zm0 6zm0 5zm0 6zm0 6zm0 14zm0 2zm0 4zm0 45zm1-15zm0-7zm0-25zm0-7zm0-14zm0-3zm0-1zm0-15zm0-6zm0-3zm1 10zm0 16zm0 2zm0 8zm0 3zm0 3zm0 5zm0 4zm0 14zm0 4zm0 7zm0 11zm0 6zm0 6zm1 14zm0-9zm0-30zm0-3zm0-2zm0-21zm0-14zm0-6zm0-3zm0-1zm0-5zm0-2zm0-44zm0-1zm1 34zm0 10zm0 15zm0 6zm0 12zm0 18zm0 8zm0 19zm0 20zm1-35zm0-5zm0-8zm0-16zm0-1zm0-9zm0-32zm0-5zm0-5zm1-24zm0 31zm0 28zm0 20zm0 1zm0 18zm1-13zm0-4zm0-1zm0-10zm0-2zm0-15zm0-1zm0-9zm0-3zm0-11zm0-1zm0-32zm1 26zm0 4zm0 14zm0 7zm0 1zm0 51zm0 21zm0 2zm0 12zm0 8zm1-29zm0-22zm0-9zm0-12zm0-17zm0-6zm0-16zm0-1zm0-5zm0-1zm0-2zm0-1zm1 11zm0 2zm0 1zm0 3zm0 1zm0 6zm0 2zm0 9zm0 19zm0 36zm0 15zm1 30zm0-47zm0-20zm0-12zm0-8zm0-15zm0-6zm0-6zm0-17zm0-2zm0-3zm1-19zm0 16zm0 7zm0 1zm0 5zm0 2zm0 4zm0 3zm0 10zm0 26zm0 10zm0 2zm0 9zm0 12zm1-21zm0-12zm0-8zm0-1zm0-1zm0-9zm0-15zm0-1zm0-3zm1-17zm0 30zm0 22zm0 25zm0 3zm0 13zm0 19zm0 7zm1 1zm0-57zm0-41zm0-2zm0-14zm0-4zm1-9zm0 1zm0 13zm0 2zm0 2zm0 37zm0 1zm0 20zm0 56zm0 10zm1-22zm0-75zm0-21zm0-9zm0-2zm0-2zm0-23zm0-3zm1 2zm0 12zm0 7zm0 10zm0 2zm0 5zm0 2zm0 18zm0 3zm0 39zm0 12zm0 8zm0 11zm1 2zm0-69zm0-2zm0-6zm0-8zm0-3zm0-14zm0-12zm0-3zm0-1zm1-3zm0 23zm0 6zm0 13zm0 4zm0 3zm0 2zm0 10zm0 4zm0 11zm0 11zm1 4zm0-1zm0-37zm0-4zm0-2zm0-13zm0-29zm1-5zm0 7zm0 7zm0 6zm0 2zm0 2zm0 7zm0 15zm0 16zm0 12zm0 35zm0 5zm0 16zm1-3zm0-65zm0-25zm0-2zm0-3zm0-27zm0-1zm1 3zm0 16zm0 1zm0 35zm0 4zm1 14zm0-8zm0-1zm0-19zm0-2zm0-4zm0-1zm0-14zm0-16zm1-21zm0 59zm0 4zm0 7zm1 52zm0-18zm0-36zm0-7zm0-22zm0-14zm0-2zm0-17zm1-5zm0 4zm0 3zm0 8zm0 8zm0 12zm0 3zm0 7zm0 12zm0 4zm0 6zm0 10zm0 5zm0 17zm0 3zm0 5zm1 18zm0-18zm0-37zm0-7zm0-32zm0-12zm0-14zm0-4zm1 0zm0 12zm0 3zm0 11zm0 12zm0 2zm0 4zm0 2zm0 9zm0 27zm0 4zm0 5zm0 18zm0 8zm1 24zm0-4zm0-25zm0-57zm0-25zm0-15zm0-12zm1-4zm0 4zm0 2zm0 6zm0 1zm0 16zm0 5zm0 19zm0 2zm0 2zm0 12zm0 4zm0 29zm0 15zm0 24zm1-58zm0-25zm0-11zm0-4zm0-18zm0-14zm0-9zm1-5zm0 1zm0 3zm0 2zm0 1zm0 6zm0 13zm0 1zm0 7zm0 11zm0 8zm0 23zm1 26zm0-19zm0-18zm0-5zm0-1zm0-2zm0-8zm0-37zm0-1zm1-10zm0 2zm0 2zm0 10zm0 17zm0 2zm0 29zm0 56zm0 11zm1-7zm0-17zm0-3zm0-26zm0-14zm0-12zm0-6zm0-9zm0-20zm0-1zm0-4zm0-1zm0-14zm1 7zm0 7zm0 7zm0 5zm0 6zm0 26zm0 3zm0 11zm0 1zm0 4zm0 2zm0 27zm1 31zm0-67zm0-19zm0-17zm0-7zm0-8zm0-4zm0-1zm1-5zm0 9zm0 2zm0 1zm0 30zm0 25zm0 3zm0 1zm0 11zm0 10zm0 3zm0 29zm1-32zm0-13zm0-4zm0-5zm0-20zm0-25zm0-22zm0-3zm0-2zm1 0zm0 2zm0 1zm0 5zm0 11zm0 11zm0 3zm0 6zm0 1zm0 2zm0 3zm0 4zm0 7zm1 42zm0-5zm0-16zm0-34zm0-7zm0-7zm0-10zm0-1zm1-9zm0 4zm0 4zm0 11zm0 9zm0 13zm0 39zm0 1zm0 7zm0 25zm0 2zm1-41zm0-8zm0-8zm0-2zm0-32zm0-4zm0-16zm0-7zm0-1zm1 0zm0 3zm0 14zm0 14zm0 10zm0 11zm0 33zm1 22zm0-20zm0-15zm0-8zm0-28zm0-10zm0-2zm0-15zm1-1zm0 50zm0 8zm0 8zm0 6zm0 5zm0 45zm1-30zm0-4zm0-18zm0-21zm0-8zm0-26zm0-5zm0-8zm0-10zm1 5zm0 24zm0 3zm0 3zm0 18zm0 1zm0 3zm0 21zm0 3zm0 43zm1-22zm0-22zm0-37zm0-2zm0-18zm0-25zm0-1zm1 5zm0 20zm0 1zm0 17zm0 10zm0 13zm0 30zm0 4zm0 7zm0 10zm1-39zm0-38zm0-14zm0-5zm0-7zm0-10zm1-1zm0 1zm0 4zm0 1zm0 1zm0 10zm0 6zm0 3zm0 4zm0 23zm0 2zm0 5zm0 5zm0 12zm1-3zm0-17zm0-18zm0-18zm0-1zm0-7zm0-4zm0-7zm1-4zm0 9zm0 8zm0 23zm0 14zm0 28zm1 25zm0-11zm0-17zm0-14zm0-32zm0-9zm0-16zm0-5zm0-7zm1 6zm0 11zm0 39zm0 17zm0 23zm0 10zm0 4zm1 14zm0-56zm0-8zm0-23zm0-13zm0-2zm0-9zm0-8zm1 3zm0 1zm0 16zm0 14zm0 2zm0 3zm0 1zm0 2zm0 14zm1 37zm0-28zm0-32zm0-3zm0-6zm0-2zm0-11zm0-4zm0-4zm0-1zm1-3zm0 2zm0 6zm0 4zm0 3zm0 1zm0 17zm0 11zm0 22zm0 9zm0 5zm0 6zm0 25zm1-27zm0-18zm0-32zm0-8zm0-22zm1 10zm0 6zm0 1zm0 4zm0 2zm0 8zm0 8zm0 17zm0 14zm1-4zm0-3zm0-5zm0-15zm0-15zm0-8zm0-3zm0-8zm0-3zm0-4zm0-5zm1 14zm0 3zm0 12zm0 6zm0 23zm0 13zm0 7zm0 1zm0 27zm1-27zm0-9zm0-9zm0-15zm0-12zm0-17zm0-2zm0-10zm0-1zm1-2zm0 2zm0 6zm0 7zm0 9zm0 7zm0 4zm0 3zm0 6zm0 2zm0 3zm0 1zm0 1zm0 1zm0 7zm0 16zm1 28zm0-3zm0-19zm0-6zm0-3zm0-23zm0-21zm0-4zm0-12zm0-10zm1 1zm0 6zm0 17zm0 5zm0 60zm1 4zm0-7zm0-7zm0-28zm0-7zm0-29zm0-2zm0-3zm0-1zm0-2zm1-7zm0 4zm0 1zm0 2zm0 15zm0 8zm0 12zm0 6zm0 29zm0 8zm1-26zm0-2zm0-8zm0-12zm0-9zm0-23zm1-4zm0 2zm0 14zm0 13zm0 2zm0 17zm0 4zm0 12zm0 9zm0 3zm0 3zm0 22zm1-24zm0-13zm0-4zm0-28zm0-3zm0-9zm0-17zm1 3zm0 20zm0 4zm0 14zm0 8zm0 18zm1 15zm0-19zm0-61zm0-6zm1 3zm0 1zm0 13zm0 3zm0 19zm0 8zm0 3zm0 2zm0 28zm0 7zm1-4zm0-11zm0-1zm0-4zm0-6zm0-7zm0-19zm0-11zm0-8zm0-11zm0-2zm1 1zm0 4zm0 5zm0 9zm0 18zm0 15zm0 35zm1-10zm0-31zm0-8zm0-1zm0-4zm0-21zm1-15zm0 1zm0 3zm0 11zm0 10zm0 17zm0 42zm1-17zm0-34zm0-7zm0-6zm1-8zm0 25zm0 4zm0 23zm1-25zm0-26zm0-3zm0-7zm1-1zm0 7zm0 1zm0 15zm0 52zm1-26zm0-1zm0-22zm0-7zm0-3zm0-6zm0-5zm1-5zm0 1zm0 1zm0 11zm0 6zm0 6zm0 17zm0 1zm0 2zm0 6zm1 32zm0-2zm0-3zm0-14zm0-22zm0-8zm0-5zm0-5zm0-1zm0-1zm0-17zm0-1zm1-5zm0 1zm0 24zm0 14zm0 12zm0 8zm0 11zm0 6zm0 4zm1-10zm0-13zm0-11zm0-31zm0-1zm0-9zm0-3zm0-4zm1-5zm0 29zm0 3zm0 3zm1 52zm0-7zm0-1zm0-34zm0-2zm0-10zm0-18zm0-4zm1 6zm0 12zm0 7zm0 10zm0 2zm0 2zm0 3zm0 1zm0 10zm1 19zm0-23zm1-51zm0 1zm0 3zm0 2zm0 2zm0 1zm0 1zm0 3zm0 8zm0 4zm0 47zm1 21zm0-76zm0-13zm0-3zm1 8zm0 12zm0 2zm0 12zm0 13zm0 6zm0 6zm0 8zm1-13zm0-8zm0-39zm0-6zm1 9zm0 17zm0 10zm0 8zm0 12zm0 9zm0 3zm1-27zm0-21zm0-5zm1-7zm0 3zm0 18zm0 19zm0 37zm1-29zm0-44zm1-2zm0 6zm0 4zm0 21zm0 10zm0 21zm0 2zm1 7zm0-54zm0-20zm0-4zm1-1zm0 3zm0 8zm0 24zm0 13zm0 28zm0 13zm1-2zm0-10zm0-2zm0-39zm0-16zm0-4zm0-2zm1-5zm0 25zm0 4zm0 2zm0 9zm0 3zm0 10zm1-9zm0-4zm0-9zm0-27zm0-5zm0-6zm1 21zm0 23zm0 19zm0 8zm1-58zm0-4zm0-13zm1 8zm0 81zm1-24zm0-15zm0-27zm0-1zm0-15zm0-6zm1 2zm0 13zm0 12zm1-14zm1-8zm0 8zm0 7zm0 5zm0 1zm0 2zm0 8zm0 16zm0 4zm1-19zm0-23zm0-4zm1 5zm0 3zm0 25zm1-3zm0-5zm0-19zm0-7zm0-4zm0-2zm0-1zm1 3zm0 31zm0 5zm0 5zm0 15zm1 2zm0-53zm1 2zm0 1zm0 22zm0 1zm0 18zm1 13zm0-13zm0-1zm0-14zm0-8zm0-9zm1-4zm0 8zm0 18zm0 5zm1-17zm0-10zm0-10zm1-3zm0 3zm0 48zm0 7zm1-50zm0-9zm1 2zm0 5zm0 1zm0 35zm1-28zm0-12zm0-2zm1 9zm0 11zm1 19zm0-1zm0-35zm1 21zm1-20zm1 14zm0 17zm0 1zm1-16z" stroke="#a6dff4" stroke-width="4.5" stroke-linecap="round" fill="none"/><path d="M148 471zm0 30zm3-16zm1 8zm2-9zm0-1zm1 38zm1-34zm5-8zm0 35zm1-28zm1 24zm2-19zm0-15zm1 27zm1-32zm3 11zm1 22zm1-20zm2-7zm0-4zm1 58zm1-42zm1-8zm0 16zm0 22zm1-7zm1-12zm3 12zm1-13zm0 40zm1-11zm0-50zm3 0zm0 12zm0 5zm2-2zm1-19zm0 52zm0 3zm1 3zm0-8zm0-39zm1-7zm1 47zm3-36zm7 19zm4-26zm3 11zm1-2zm1 44zm1-59zm0 13zm0 1zm0 30zm0 8zm1-8zm0-11zm1-18zm3 6zm3 19zm2 21zm0-5zm1-21zm1 15zm0-2zm0-41zm1 29zm0 17zm1-38zm1-16zm2 17zm1 5zm0 22zm1 9zm1-18zm1 22zm2-2zm2 7zm1-10zm1-19zm0-9zm0-20zm1 5zm1 32zm1-38zm0 50zm2-35zm3-4zm0 14zm1 12zm5-12zm0 26zm3-41zm1 5zm1 4zm1 30zm1-30zm1-22zm1 6zm1-7zm0 23zm1-6zm0-12zm1 1zm0 8zm0 5zm1-4zm1-1zm2 24zm0-3zm3 13zm2 3zm6-19zm0 3zm0 22zm1-21zm1-28zm0 26zm4-1zm2-28zm1 11zm0-9zm3 45zm2-43zm2 14zm0 31zm1 2zm0-28zm1-15zm2-2zm1 18zm2-14zm2-7zm0 17zm2 7zm0-10zm1-19zm0 44zm1-3zm0-10zm0-14zm1-10zm0 26zm1 24zm0-37zm1 17zm2-30zm0-4zm0-2zm1 42zm1-16zm1-19zm2 49zm0-41zm0-10zm0-4zm2 15zm1 2zm2-9zm2-3zm1 13zm1 14zm0-15zm1-1zm1 32zm0-42zm2 21zm1-26zm2 27zm4-20zm1 6zm2-1zm4 7zm1 5zm1 19zm2-38zm3 3zm1 17zm0-6zm1-12zm2 41zm0-11zm0-3zm4-30zm1 40zm1-14zm4 3zm3-4zm1-8zm2-3zm0 6zm1 9zm0-2zm5-11zm1-5zm2 1zm2 13zm2-16zm1 8zm1-2zm1 17zm0-13zm2-17zm0 14zm8-13zm3 12zm2 7zm0-6zm3 14zm2-25zm2 13zm0 10zm7-19z" stroke="#fff" stroke-width="2.2" stroke-linecap="round" fill="none"/>
<path d="M146.9 451V758.3M187.7 451V758.3M228.4 451V758.3M269.2 451V758.3M309.9 451V758.3M350.7 451V758.3M391.5 451V758.3M432.2 451V758.3M473 451V758.3M513.7 451V758.3M554.5 451V758.3" stroke="#c2c2c2" stroke-width="1.3" stroke-dasharray="4 4.3" fill="none"/>
<path d="M148.6 504.1 550.7 560.8" fill="none" stroke="#000" stroke-width="2.2" stroke-linejoin="round" stroke-dasharray="10.5 6.5"/>
<path d="M150.3 494.7 157.3 498.9 167.8 506.6 178.3 506.6 188.8 508.3 202.8 514.6 216.8 514.6 230.8 516.4 241.3 520.6 258.7 519.9 269.2 520.6 283.2 526.2 297.2 525.8 307.7 526.9 321.7 532.1 335.7 533.8 349.7 533.1 356.6 532.8 363.6 535.6 377.6 536.3 388.1 539.1 398.6 540.8 409.1 545 419.6 546.8 433.6 550.6 441.3 550.6 454.5 547.8 468.5 544.3 475.5 542.6 494.8 542.6 498.3 539.1 505.2 536.3 508.7 529.3 515.7 529.3 522.7 526.9 529.7 529.3 545.5 528.6 549.7 537.3 552.4 547.8" fill="none" stroke="#cf2318" stroke-width="2.2" stroke-linejoin="round"/>
<path d="M126.8 447V758.3H575" stroke="#222" stroke-width="1.1" fill="none"/><path d="M126.8 459h-3.5M126.8 540.5h-3.5M126.8 621.8h-3.5M126.8 703h-3.5M146.9 758.3v3.5M187.7 758.3v3.5M228.4 758.3v3.5M269.2 758.3v3.5M309.9 758.3v3.5M350.7 758.3v3.5M391.5 758.3v3.5M432.2 758.3v3.5M473 758.3v3.5M513.7 758.3v3.5M554.5 758.3v3.5" stroke="#222" stroke-width="1" fill="none"/>
<rect x="121.9" y="391.3" width="462.1" height="49.3" rx="3" fill="#000"/><rect x="129.3" y="398.7" width="447.3" height="34.5" fill="#45998a"/><text x="352.9" y="430.8" font-size="39.1" text-anchor="middle" >H32</text>
<path d="M612.4 463.9 629.9 467.4 664.9 470.9 699.9 473.4 755.8 474.4 769.8 481.4 804.8 480.3 839.7 483.8 874.7 487.3 909.7 497.8 944.6 516.4 972.6 532.1 986.6 542.6 1002.3 551.3 1016.3 584.5 1016.3 584.5 1002.3 551.3 986.6 542.6 972.6 568.8 944.6 579.3 909.7 579.3 874.7 579.3 839.7 575.8 804.8 568.8 769.8 565.3 755.8 565.3 699.9 565.3 664.9 561.8 629.9 547.8 612.4 533.8 Z" fill="#a6dff4"/><path d="M611 465zm1 104zm0-16zm1-90zm0 2zm0 71zm0 24zm1 11zm0-34zm1 5zm0 2zm1 18zm0-11zm0-11zm0-4zm1-70zm0 72zm0 44zm1-21zm0-9zm0-1zm0-4zm1-85zm0 4zm0 75zm0 1zm0 2zm0 1zm0 5zm0 23zm1 1zm0-18zm0-8zm0-83zm1 79zm0 11zm1-8zm0-2zm0-1zm0-2zm0-77zm2 85zm0 17zm1 3zm0-1zm0-13zm0-1zm0-7zm0-1zm0-5zm0-75zm1 76zm0 2zm0 1zm0 15zm0 1zm1 9zm0-2zm0-2zm0-9zm0-8zm0-4zm1-81zm0 81zm0 46zm1-35zm0-3zm0-3zm1-5zm0 1zm0 1zm0 5zm0 8zm0 14zm1-16zm0-10zm0-1zm1 3zm0 22zm1 0zm0-19zm0-3zm0-87zm1 5zm0 82zm0 6zm0 1zm0 7zm0 5zm1 8zm0-1zm0-13zm0-1zm0-9zm0-4zm1-83zm0 81zm0 38zm1-7zm0-2zm0-6zm0-19zm1 8zm0 1zm1 29zm0-20zm0-13zm1 2zm0 14zm1-18zm0-1zm0-1zm0-2zm0-81zm1 83zm0 43zm1-43zm1-84zm0 90zm0 11zm1 14zm0-13zm0-16zm1-90zm0 92zm0 2zm1 10zm0-2zm0-6zm2-3zm0 9zm1 6zm0-9zm0-7zm0-90zm1 101zm0 2zm1-14zm0-85zm0-2zm0-1zm1 2zm0 96zm0 16zm1 8zm0-23zm0-6zm0-1zm1 4zm0 10zm1 21zm0-20zm1-105zm0 109zm1 21zm0-17zm0-1zm0-17zm1 1zm0 4zm0 1zm0 3zm0 5zm1-4zm0-11zm0-6zm0-87zm1 91zm0 1zm0 3zm0 4zm0 13zm1-12zm0-11zm1 4zm0 2zm1 2zm0-6zm0-91zm1-4zm0 99zm0 1zm0 1zm0 7zm1 31zm0-14zm0-4zm0-22zm1 3zm0 10zm0 3zm0 8zm1-14zm0-10zm0-96zm1 0zm0 91zm0 13zm0 3zm0 33zm1-11zm0-21zm0-16zm1-91zm0 103zm0 44zm1-26zm0-21zm0-5zm0-1zm1 7zm0 5zm1-2zm0-13zm0-90zm1 89zm0 2zm0 5zm1 31zm0-32zm0-2zm0-94zm1 94zm0 11zm0 11zm1 5zm0-2zm0-24zm0-5zm1-89zm0 90zm0 3zm1-1zm0-91zm0-1zm1 1zm0 140zm1-24zm0-18zm0-1zm0-2zm1-3zm0 33zm1 24zm0-52zm1 5zm0 1zm1 12zm0-26zm1 11zm0 2zm0 2zm1 5zm0-1zm0-107zm0-9zm1 6zm0 92zm0 1zm0 3zm0 20zm1-12zm0-2zm0-10zm1 4zm0 3zm0 34zm1 3zm0-3zm0-3zm0-25zm0-1zm0-3zm1-6zm0 2zm0 7zm0 8zm1 10zm0-13zm0-5zm0-7zm0-96zm1 1zm0 94zm0 5zm0 4zm1-2zm1 8zm1-2zm0-2zm0-5zm0-6zm0-3zm0-1zm0-92zm1 93zm1 13zm0-10zm2-3zm0 16zm0 11zm0 35zm1-52zm0-8zm0-1zm1-1zm0 2zm1 32zm0-25zm0-99zm1-2zm0 2zm0 1zm0 97zm0 6zm0 6zm1-4zm0-3zm0-13zm0-90zm1 90zm0 18zm0 1zm0 9zm0 37zm1-42zm0-2zm0-2zm0-10zm0-2zm0-7zm0-91zm0-1zm1 1zm0 1zm0 94zm0 4zm0 12zm0 4zm0 19zm1-14zm1-121zm0 98zm0 50zm2-30zm0-21zm1-97zm0 104zm0 4zm0 31zm1-43zm0-93zm1 88zm0 5zm0 3zm0 1zm0 5zm0 17zm0 12zm1 5zm0-41zm1-6zm0 1zm0 19zm0 10zm1-22zm0-1zm0-7zm1 22zm1 5zm0-116zm1 92zm0 8zm0 6zm0 33zm1-51zm0-89zm1-3zm0 92zm0 4zm0 29zm0 24zm1-20zm0-16zm0-12zm0-98zm0-4zm2 5zm0 90zm0 30zm1-27zm0-2zm0-95zm1 0zm0 158zm1-33zm0-3zm0-20zm0-9zm0-90zm1 91zm0 3zm0 6zm1-7zm1 4zm0 3zm1 38zm0-18zm1-26zm0 35zm1-23zm0-8zm0-3zm2-96zm0 94zm0 1zm0 28zm1-13zm0-10zm0-6zm1-1zm0 1zm0 4zm0 39zm1-24zm0-2zm0-3zm0-8zm0-1zm0-8zm1-1zm0 7zm0 8zm0 5zm1 21zm0-22zm0-2zm0-105zm1-1zm0 97zm0 11zm0 2zm0 14zm1-7zm0-7zm0-4zm0-3zm0-2zm0-7zm0-3zm1-2zm0 9zm0 9zm0 5zm0 19zm1-14zm0-1zm0-15zm1-100zm0 92zm0 4zm0 1zm1 40zm0-31zm0-5zm0-1zm0-10zm1-90zm0 101zm0 5zm0 1zm1-5zm0-7zm0-5zm1 7zm0 2zm0 1zm1 17zm0-7zm1-113zm0 107zm0 14zm1-120zm1 92zm0 18zm1-5zm0-103zm1 98zm0 8zm1 9zm0-114zm1 2zm0 91zm0 10zm0 1zm0 4zm0 13zm0 11zm1-29zm0-6zm1-95zm0 101zm1-1zm0-4zm1-95zm0 1zm0 87zm0 10zm0 37zm1-31zm0-18zm0-2zm1 1zm0 1zm0 3zm1-87zm0-3zm1 3zm0 89zm0 2zm1 0zm0-5zm0-85zm1 87zm0 14zm1 15zm0-8zm0-17zm0-2zm0-5zm0-1zm1 6zm1 49zm0-7zm1-45zm0 10zm0 5zm0 24zm1-30zm0-2zm0-94zm2 89zm0 11zm0 9zm0 15zm0 8zm1-41zm0-6zm1-84zm0 104zm1 23zm0-2zm0-30zm1-95zm0 89zm0 1zm0 8zm0 1zm0 5zm1-3zm0-2zm0-12zm0-4zm1 15zm0 17zm1-28zm0-1zm1 1zm0 22zm0 4zm1-6zm1-111zm0 94zm1 6zm0-7zm0-5zm2 0zm0 5zm0 2zm1-4zm0-87zm1 95zm0 6zm1-3zm0-4zm0-94zm1 98zm0 9zm2-15zm1-93zm0 90zm1 5zm0-3zm1 1zm0 5zm0 29zm0 2zm1-24zm0-15zm1-89zm0 100zm0 4zm1 12zm0-17zm0-12zm0-2zm1 25zm1-8zm0-11zm1-5zm0 2zm0 1zm0 2zm0 6zm0 4zm1 6zm0-14zm1 13zm0 30zm1-46zm1 21zm1 25zm0-21zm0-117zm1 93zm1 22zm0-14zm0-6zm0-4zm1-88zm0 101zm0 3zm1 5zm0-23zm1-87zm0 96zm0 37zm1-14zm0-9zm0-1zm0-2zm0-11zm2 14zm2 4zm0-15zm1-102zm0 91zm0 6zm1 20zm0-4zm0-1zm0-107zm2 94zm0 23zm1-6zm0-4zm0-4zm0-1zm0-5zm0-2zm0-2zm0-97zm1 92zm1 7zm0-8zm1-87zm0 92zm0 1zm0 9zm0 6zm1-16zm0-94zm0-1zm1 94zm0 7zm0 1zm0 2zm1 17zm2-118zm0 101zm1-5zm1 7zm1 1zm0-2zm0-6zm0-3zm1-2zm0 2zm0 4zm1 0zm0-5zm0-2zm1-90zm0 107zm1-4zm0-4zm0-5zm0-3zm1-90zm0 93zm0 3zm1 14zm0-11zm0-1zm0-7zm0-91zm1-4zm0 94zm0 2zm1 26zm0-25zm0-92zm0-1zm0-2zm1 94zm1 16zm0-2zm0-15zm1 8zm0 1zm0 25zm1-18zm0-2zm0-3zm0-6zm1 12zm1 19zm0-27zm0-4zm1-5zm0 14zm1 3zm1-107zm0 90zm1 28zm0-18zm0-5zm1-95zm0 91zm1 31zm0-30zm0-93zm1-3zm0 4zm0 94zm0 21zm1 20zm0-23zm0-14zm1 2zm0 8zm1 33zm0-19zm0-15zm0-10zm1-4zm0 4zm1 5zm0-7zm0-4zm1-89zm0 89zm1 24zm0-9zm2-15zm0 7zm0 2zm0 6zm1 3zm0-3zm1-106zm0 2zm0 104zm1-2zm0-1zm0-7zm0-1zm0-2zm0-91zm1-3zm0 2zm0 95zm0 5zm0 23zm1-22zm0-4zm0-4zm0-92zm1-1zm0 1zm0 92zm0 7zm0 21zm1-26zm0-3zm1 15zm1-1zm0-4zm0-3zm0-4zm1-94zm0 96zm1 23zm0-19zm0-6zm0-3zm0-91zm3 114zm1-19zm1-93zm0 98zm0 6zm0 6zm0 1zm0 6zm1-15zm0-102zm1 93zm0 1zm0 6zm0 7zm1 9zm0-17zm0-1zm1 6zm0 13zm1-5zm1-14zm0 45zm1-38zm0-103zm1 87zm0 2zm1 5zm0-7zm0-87zm1 87zm0 6zm0 12zm0 32zm1 0zm0-52zm1-85zm0 87zm0 11zm1 8zm0-18zm1-2zm1 20zm0-6zm0-2zm0-95zm0-2zm1 86zm0 7zm0 16zm0 3zm0 10zm1-35zm0-86zm1 3zm0 84zm0 1zm0 6zm1 28zm0-17zm0-20zm1 10zm1 4zm0-2zm1-4zm0 11zm0 6zm0 17zm1-23zm0-6zm0-1zm0-6zm0-89zm0-2zm1 86zm0 4zm0 4zm1-5zm0-4zm1 0zm0 3zm1 17zm0-16zm0-6zm1 2zm1 26zm0-20zm0-1zm0-84zm1 1zm0 92zm0 9zm1-3zm0-20zm0-1zm0-1zm0-82zm1 87zm0 18zm0 20zm1-35zm0-4zm1 6zm1 7zm0-11zm0-2zm0-80zm0-6zm1 85zm0 8zm0 3zm0 5zm0 19zm1-9zm0-3zm1-24zm0 3zm0 6zm1 12zm0-17zm0-1zm0-77zm1 73zm0 8zm0 4zm0 27zm1-25zm2-91zm0 81zm0 1zm0 6zm1 38zm0-24zm0-15zm0-9zm0-1zm1-70zm0 1zm0 80zm0 10zm0 14zm1-11zm0-23zm0-70zm1 72zm0 4zm0 1zm0 37zm1-9zm0-36zm1-67zm2 90zm0-20zm1 1zm0 17zm0 2zm0 3zm0 1zm2-92zm0-3zm1 71zm0 1zm0 5zm0 2zm0 26zm1-6zm0-10zm0-12zm0-9zm1 3zm0 13zm2 13zm0-9zm0-13zm0-1zm0-5zm0-63zm1 69zm0 5zm1 0zm1-76zm0 3zm1 71zm0-4zm1-4zm1 37zm0-18zm0-8zm0-7zm1-64zm0 75zm1 12zm0-12zm0-1zm1-13zm0 1zm0 3zm0 3zm0 11zm1 9zm0-19zm0-8zm1-59zm0 56zm0 3zm0 3zm0 9zm1 5zm0-10zm0-6zm0-3zm0-5zm1-52zm0 86zm1-23zm0-9zm1 8zm0 2zm1 33zm0-30zm0-5zm1-61zm0 2zm0 51zm0 14zm0 4zm1 20zm0-11zm0-15zm0-1zm0-4zm0-5zm0-4zm0-1zm1 29zm1-20zm0-6zm0-3zm1-46zm0 53zm0 41zm1-17zm0-2zm0-19zm0-7zm0-49zm1-2zm0 3zm0 50zm0 21zm0 9zm1-16zm0-9zm0-3zm0-50zm1 44zm0 4zm0 11zm0 11zm1-4zm0-12zm0-4zm1-2zm0 15zm1 4zm0-19zm0-7zm0-40zm1 39zm0 8zm1 0zm0-7zm0-2zm0-1zm2 11zm1 6zm0-6zm0-8zm0-5zm0-31zm0-1zm1 1zm0 44zm0 6zm0 5zm0 3zm1 9zm0-1zm0-13zm0-15zm1-35zm0 35zm0 2zm1 13zm0-7zm0-15zm0-10zm0-19zm1 26zm0 22zm0 9zm1 2zm0-6zm0-7zm0-9zm0-21zm0-14zm1-1zm0 1zm0 1zm0 9zm0 29zm0 8zm1 19zm0-12zm0-5zm0-13zm0-15zm1-7zm0 21zm0 14zm0 4zm1 15zm0-22zm0-6zm0-1zm0-22zm0-12zm1-3zm0 2zm0 7zm0 12zm0 3zm0 4zm0 4zm0 21zm0 26zm0 2zm1-18zm0-45zm0-9zm0-2zm0-1zm0-5zm1 5zm0 10zm0 7zm0 4zm0 38zm1-27zm0-17zm0-11zm0-3zm0-3zm1-2zm0 2zm0 2zm0 11zm0 7zm0 3zm0 29zm1-19zm0-5zm0-11zm0-13zm1-4zm0 4zm0 7zm0 3zm0 1zm0 28zm0 8zm1 17zm0-41zm0-16zm1-11zm0 14zm0 14zm0 12zm0 6zm1-12zm0-17zm0-1zm1-14zm0 8zm0 2zm0 17zm0 4zm1 32zm0-33zm0-12zm0-9zm1-6zm0 13zm0 2zm0 8zm0 34zm1 10zm0-3zm0-13zm0-32zm0-11zm0-5zm1-4zm0 32zm1-16zm0-6zm0-9zm1 7zm0 1zm0 1zm0 3zm0 5zm0 1zm1 5zm1-16zm0 1zm0 13zm1 8zm0-13zm1-3zm0 10zm0 6zm0 12zm0 1zm0 4zm0 1zm1-7zm0-11zm1-13zm0 15zm1 17zm0-8zm0-11zm0-1zm0-9zm1 25zm0 14zm2-28zm0-3zm0-1zm1 3zm0 7zm2 5zm1 12zm1-3zm0-16z" stroke="#a6dff4" stroke-width="4.5" stroke-linecap="round" fill="none"/><path d="M613 515zm1-29zm1 9zm0 13zm0 8zm1 18zm0-54zm0-10zm2-2zm0 66zm1-37zm0-10zm0-6zm1 3zm0 30zm0 16zm3-47zm0-5zm2-8zm0 43zm0 14zm1-17zm2 16zm1-8zm0-37zm2 31zm1 14zm0-34zm2 15zm0 8zm2 2zm0-28zm0-18zm2 11zm2 35zm4 33zm1-49zm0-17zm1 44zm2-23zm0-23zm1 32zm0 29zm3-36zm1-25zm0 24zm1 6zm0-25zm0-1zm2 65zm4-69zm4-9zm2 38zm0-13zm1 19zm0 4zm0 17zm3-43zm1-8zm1 42zm0-17zm1-21zm1 24zm0-40zm3 4zm1 54zm0-43zm2-5zm4 30zm0-9zm1-5zm1 18zm0-23zm2 25zm0 24zm1-53zm1 61zm1-39zm0-9zm1 28zm2-30zm0-11zm0-1zm2-12zm0 19zm1 5zm1-21zm0 18zm0 11zm1 20zm1-41zm0 46zm1 16zm0-35zm1 6zm0 12zm0 21zm1-79zm1 20zm0 35zm1-37zm2 32zm1 17zm0-48zm1 14zm1-25zm1 0zm0 50zm1-26zm0-6zm0-22zm2 2zm2-2zm1 3zm0 26zm0 36zm2-58zm3-1zm0 4zm0 40zm1-25zm0-17zm1 8zm0 4zm1 30zm1-25zm1 25zm0-11zm0-12zm1 16zm1-16zm0-2zm2 40zm1-24zm0-4zm0-15zm0-11zm1 17zm0 15zm0 3zm0 9zm1-58zm1 80zm1-37zm0-36zm0-2zm1 31zm0 21zm2 8zm1-65zm1 48zm0-22zm1 4zm0 14zm0 19zm3-34zm2 5zm1 16zm0-35zm1-14zm1 3zm0-3zm1 11zm1 19zm1-13zm2 28zm0-15zm1 12zm0 2zm1 7zm0-15zm1 49zm1-82zm0-3zm1 25zm1-23zm1 31zm1-8zm1-20zm0 14zm0 43zm1-10zm0-9zm1 6zm1-5zm3 0zm1-36zm2 7zm1 30zm1-12zm1 41zm0-66zm1 15zm2 56zm0-46zm0-7zm1-21zm0 23zm1 29zm1-42zm1-10zm1 15zm0 27zm0 30zm1-15zm0-20zm0-22zm2 8zm0 5zm1-27zm2 24zm0 12zm1 15zm1-34zm1 33zm1-22zm0 16zm0 22zm2-58zm6 67zm1-16zm0-22zm1-27zm1 13zm1-18zm1 70zm0-14zm0-54zm1 38zm1-2zm1-33zm0 39zm1 18zm4-60zm0 7zm0 66zm1 1zm0-82zm1 24zm0 10zm0 15zm4 3zm1-27zm2-13zm1 11zm1-20zm1 28zm1 35zm1-9zm3 19zm1-32zm1-7zm1-21zm1 32zm0-11zm0-9zm0-13zm1 11zm0 22zm1 28zm0-12zm1-60zm3 46zm0-5zm1-3zm0 22zm2 16zm0-23zm0-40zm0-14zm1 8zm0 32zm1 36zm0-22zm1-39zm0 3zm2 0zm1 43zm1-12zm0-4zm0-29zm0-1zm2 41zm4-25zm0-11zm1 19zm0 15zm1 5zm1-41zm2 2zm0-1zm1 27zm3 31zm0-51zm3 9zm2 31zm2-59zm0 51zm0 1zm0 24zm2-53zm0-16zm1-10zm1 41zm0-40zm1 9zm0 46zm2-28zm0-24zm1 13zm0 27zm2 17zm0-23zm0-24zm1 55zm1 9zm0-10zm1-34zm1 4zm1-32zm0 21zm0 57zm1-72zm1 45zm0 13zm1 2zm1-53zm0 32zm2 10zm2-51zm1 37zm1-15zm1 43zm2-12zm1-40zm1 3zm0 10zm0 32zm0 3zm3-5zm0-15zm0-3zm0-3zm1 1zm1-29zm0-1zm1-1zm5 22zm1-11zm2 46zm1-54zm2-2zm2 70zm3-37zm1-15zm1 16zm2-9zm0 2zm0 10zm0 7zm2-26zm1 32zm2-32zm1 2zm2 5zm0-16zm1 7zm0 16zm0 3zm2-9zm4-6zm0 16zm1-3zm2-10zm1 3zm1 38zm2-27zm5 14zm3 7zm0-17zm0-7zm2-10zm0 12zm2 11zm3-1zm4-5zm0-8z" stroke="#fff" stroke-width="2.2" stroke-linecap="round" fill="none"/>
<path d="M612.4 451V758.8M653.2 451V758.8M693.9 451V758.8M734.7 451V758.8M775.5 451V758.8M816.2 451V758.8M857 451V758.8M897.8 451V758.8M938.6 451V758.8M979.3 451V758.8M1020.1 451V758.8" stroke="#c2c2c2" stroke-width="1.3" stroke-dasharray="4 4.3" fill="none"/>
<path d="M614.2 497.1 1018 566.4" fill="none" stroke="#000" stroke-width="2.2" stroke-linejoin="round" stroke-dasharray="10.5 6.5"/>
<path d="M615.9 491.2 622.2 492.6 628.2 498.9 635.2 505.9 650.9 506.6 657.9 505.2 671.9 510.1 692.9 511.8 703.4 512.2 717.3 516.4 734.8 517.1 748.8 519.9 759.3 522.3 769.8 521.6 776.8 517.4 787.3 517.4 797.8 519.9 808.3 522.7 818.7 525.1 829.2 529.7 839.7 532.1 850.2 533.8 864.2 540.8 878.2 541.9 888.7 544.3 899.2 547.8 909.7 553.1 923.6 559.4 937.6 560.1 944.6 558.3 955.1 559 967.3 563.6 970.8 570.6 977.8 572.3 987.3 580.3 991.8 592.6 1007.6 592.6 1012.8 600.3 1018 606.6" fill="none" stroke="#cf2318" stroke-width="2.2" stroke-linejoin="round"/>
<path d="M592.2 447V758.8H1040" stroke="#222" stroke-width="1.1" fill="none"/><path d="M592.2 459.4h-3.5M592.2 540.8h-3.5M592.2 622h-3.5M592.2 703.4h-3.5M612.4 758.8v3.5M653.2 758.8v3.5M693.9 758.8v3.5M734.7 758.8v3.5M775.5 758.8v3.5M816.2 758.8v3.5M857 758.8v3.5M897.8 758.8v3.5M938.6 758.8v3.5M979.3 758.8v3.5M1020.1 758.8v3.5" stroke="#222" stroke-width="1" fill="none"/>
<rect x="592.2" y="391.3" width="461.7" height="49.3" rx="3" fill="#000"/><rect x="599.6" y="398.7" width="446.9" height="34.5" fill="#d79ee6"/><text x="823.1" y="430.8" font-size="39.1" text-anchor="middle" >H53</text>
<path d="M1079.2 462.2 1109.9 467.4 1179.9 473.4 1214.8 474.1 1249.8 474.8 1284.8 477.9 1319.7 478.6 1354.7 483.8 1389.7 493.6 1403.6 498.9 1424.6 505.9 1445.6 512.9 1466.6 521.6 1483.4 535.6 1483.4 535.6 1466.6 521.6 1445.6 533.8 1424.6 544.3 1403.6 547.8 1389.7 547.8 1354.7 546.1 1319.7 540.8 1284.8 540.8 1249.8 540.8 1214.8 539.1 1179.9 537.3 1109.9 530.3 1079.2 519.9 Z" fill="#a6dff4"/><path d="M1078 464zm1 64zm0-66zm1 1zm0 59zm0 5zm0 7zm1-9zm0-4zm1 10zm2-7zm0-63zm1 68zm1 0zm0-2zm0-2zm0-5zm0-55zm1-2zm0 61zm0 2zm0 6zm1 11zm0-3zm0-13zm0-5zm1 4zm0 7zm1 10zm0-8zm0-12zm1 11zm1-9zm0-2zm0-1zm1-57zm0 59zm0 6zm0 13zm1-9zm0-7zm1-62zm0 61zm0 2zm2-64zm3 73zm0 4zm1-13zm0-2zm0-59zm1 73zm1-11zm0-62zm1-4zm0 64zm0 6zm0 2zm1-69zm1 0zm0 1zm0 72zm1-72zm1 67zm0 11zm1-14zm0-63zm1 82zm0 1zm1-6zm0-8zm0-4zm1-64zm1 64zm0-66zm0-1zm3 0zm1 83zm0-4zm0-16zm1 0zm0 4zm1 14zm0-6zm0-3zm0-1zm0-3zm0-4zm0-1zm2-60zm0 61zm0 1zm0 6zm0 21zm1-18zm0-4zm1-67zm0 66zm0 6zm0 14zm1-25zm1 12zm2-3zm0-2zm1-5zm0 8zm1 8zm0-4zm1-76zm1 75zm0-82zm1 9zm0 66zm0 1zm0 1zm0 4zm1 7zm0-9zm0-5zm0-64zm1 65zm0 21zm2-19zm0-69zm1 64zm0 2zm1 16zm0-14zm0-5zm0-61zm1 0zm1 75zm0-4zm0-73zm1-1zm0 3zm0 1zm0 71zm1 9zm0-10zm0-1zm0-5zm0-4zm0-61zm1 70zm0 10zm0 6zm1-6zm0-79zm1-2zm0 2zm0 61zm0 17zm1-12zm0-4zm1-63zm0 77zm0 9zm1-86zm1 1zm0 62zm0 2zm0 16zm1-14zm1-2zm1 9zm0-11zm0-1zm0-60zm1 63zm0 7zm1 11zm0-21zm0-60zm0-1zm0-3zm1 78zm0 15zm1-14zm1-12zm0 6zm2-6zm0-64zm0-1zm1 0zm0 63zm0 1zm0 3zm0 16zm2 2zm0-9zm0-6zm0-3zm0-3zm0-1zm0-61zm1-1zm0 64zm0 6zm1 17zm0-23zm0-67zm1 3zm0 65zm1 4zm0-5zm1-2zm0 6zm0 3zm0 3zm0 6zm1 3zm0-11zm0-6zm1 1zm1 3zm1-4zm0 10zm0 1zm1-7zm0-68zm1-4zm1 73zm0-2zm2-1zm0 2zm0 10zm2 0zm0-15zm1-63zm0 61zm0 9zm1 5zm0-76zm2 2zm0 67zm1 0zm0-68zm0-3zm1 72zm0 4zm0 7zm1-15zm0-3zm0-61zm1-1zm0 65zm0 1zm0 21zm1-22zm1-67zm0 67zm0 9zm1 25zm0-15zm0-83zm1 68zm1 19zm0-12zm1-76zm0 1zm0 64zm0 4zm0 13zm1-84zm1-4zm0 7zm0 62zm1 11zm0-73zm1 65zm0 1zm1 3zm0-8zm1 17zm0 6zm1-15zm0-1zm0-6zm1 7zm1 3zm0-8zm1-67zm0 68zm1 14zm0-6zm1-6zm0 13zm1 6zm0-86zm1 62zm0 2zm1 5zm0-5zm1-2zm0 5zm0 12zm1-14zm0-2zm0-1zm0-64zm1 75zm0 3zm0 11zm1-87zm0-1zm1-4zm0 3zm0 2zm0 69zm1 3zm1-72zm0 62zm0 4zm0 3zm2 9zm1-14zm0 6zm1 0zm0-3zm1 0zm1 22zm0-7zm0-18zm0-66zm1 93zm1 2zm0-18zm0-3zm0-4zm1 2zm0 4zm0 5zm0 6zm1-3zm0-14zm0-2zm0-65zm1-2zm0 66zm0 2zm0 4zm1-72zm1 71zm0 12zm1-15zm0-70zm1 72zm0 3zm0 15zm1-10zm0-1zm0-6zm0-4zm0-1zm0-65zm0-1zm1 72zm1 8zm1-15zm0 6zm1 8zm1-80zm0 68zm0 12zm1 6zm0-13zm0-3zm0-1zm0-3zm0-65zm0-2zm1 3zm0 65zm0 1zm2-3zm0-63zm1 67zm0 2zm0 8zm1-12zm0-1zm0-65zm1 1zm0 69zm0 10zm0 8zm1-15zm0-7zm1-68zm0 68zm0 19zm1-9zm0-5zm1 1zm0 1zm1-71zm0-2zm1 67zm0 3zm0 3zm1 6zm1-78zm0 70zm1 19zm0-12zm0-7zm0-3zm1-1zm0 5zm0 4zm1 0zm0-73zm1-2zm0 69zm0 3zm2 18zm1-22zm0 25zm1-20zm1-3zm0 1zm1 0zm0-1zm1-68zm0 71zm0 2zm1-3zm0-69zm0-2zm1 65zm0 1zm1 4zm0-70zm1 71zm0 4zm0 6zm1-6zm0-11zm0-63zm0-2zm1 66zm0 19zm1-14zm0-6zm1-63zm0 62zm0 10zm0 8zm0 12zm1-19zm0-76zm1 86zm1 6zm0-11zm0-8zm1-7zm0 9zm0 17zm1 1zm0-4zm0-17zm0-3zm0-3zm1 1zm0 3zm0 9zm1 2zm0-8zm0-6zm0-62zm0-1zm0-1zm0-3zm1 70zm0 1zm1 2zm0-2zm0-67zm1 71zm1-6zm1-65zm0 76zm1-14zm0-61zm1 63zm1 5zm0-1zm0-5zm1 3zm2 14zm1-11zm1-5zm0-64zm0-2zm1 1zm1 90zm0-9zm0-12zm2-7zm0 1zm0 38zm1-17zm0-16zm1-66zm1 65zm1-65zm0 61zm0 3zm0 26zm1-20zm0-9zm0-64zm1 2zm0 76zm1-5zm0-9zm1-1zm2 3zm1-63zm0 63zm0 1zm0 2zm0 3zm0 6zm0 7zm1 0zm0-7zm0-7zm0-1zm0-2zm0-3zm0-2zm1-63zm0 66zm1 4zm0-1zm0-65zm1 60zm1 25zm0-5zm0-17zm0-2zm1-64zm0 63zm1 8zm0-68zm1 74zm0 2zm1-1zm0-7zm0-6zm1 3zm0 4zm0 28zm1-34zm1-2zm1-62zm1 70zm0 1zm1-9zm0-1zm0-1zm1-59zm1 91zm0-7zm0-15zm1-71zm0 1zm1 83zm0-21zm1-1zm0 2zm0 3zm0 1zm1-1zm1 1zm0 8zm1 5zm0-13zm0-67zm1 2zm0 92zm1-17zm0-75zm1-6zm1 70zm2-1zm2 24zm0-8zm1-15zm0 4zm1 15zm0-15zm0-68zm1 66zm0 1zm0 11zm1-3zm0-2zm0-8zm0-3zm1 1zm0 1zm0 6zm0 8zm1 13zm0-7zm0-21zm1-2zm0 6zm0 6zm0 8zm1 0zm0-1zm0-7zm0-3zm1-3zm1 1zm0-3zm1-65zm0 63zm0 2zm1 38zm0-24zm0-10zm0-2zm0-2zm1 10zm1 12zm0-22zm0-62zm1 101zm1-25zm0-8zm0-7zm1 2zm0 1zm0 3zm0 11zm1-78zm0-1zm0-2zm1 65zm0 2zm0 1zm0 2zm1 15zm0-6zm0-7zm1-1zm1-5zm1 9zm1 23zm0-4zm0-10zm0-2zm1-13zm0 8zm0 1zm1-1zm0-4zm0-6zm1 0zm0 1zm0 4zm0 8zm1 7zm0-4zm0-15zm0-1zm0-1zm0-59zm0-1zm1 0zm0 67zm0 6zm1 15zm0-13zm0-17zm0-58zm0-8zm1 68zm0 10zm0 24zm1 1zm0-27zm0-67zm1 0zm0 63zm0 1zm1 16zm0-79zm1 56zm0 4zm0 7zm0 2zm1 8zm0-10zm0-9zm1-60zm0 63zm0 20zm0 4zm2 4zm0-18zm0-9zm1-61zm0 57zm1 4zm0-60zm1 55zm0 19zm1 2zm0-3zm0-1zm0-15zm1 1zm0 19zm1-9zm0-5zm1-65zm0 1zm1 75zm0-6zm0-5zm0-6zm2-55zm0 72zm1 2zm0-7zm0-12zm1-56zm0 55zm1 20zm0-74zm1 60zm1 29zm0-28zm0-5zm0-55zm1 2zm0 50zm0 2zm0 15zm1 8zm0-13zm0-11zm1 1zm0 2zm0 9zm0 22zm1-18zm0-10zm0-2zm0-2zm1-54zm0 52zm0 2zm0 9zm0 19zm1-16zm0-7zm0-58zm0-1zm1 55zm0 1zm0 4zm1 27zm0-15zm0-8zm0-9zm0-53zm1 49zm0 5zm0 3zm0 20zm1-17zm0-7zm0-2zm2-52zm0 63zm0 7zm1 30zm0-6zm0-26zm0-5zm0-59zm1 49zm0 23zm1 37zm0-35zm0-14zm0-8zm0-3zm0-1zm0-1zm0-47zm1 49zm0 7zm0 1zm0 1zm0 26zm1-16zm0-7zm0-8zm0-7zm1 13zm1 28zm0-38zm0-49zm1 0zm0 1zm0 1zm0 43zm0 7zm0 5zm0 3zm1 4zm0-1zm0-15zm1 1zm0 2zm0 2zm0 12zm0 15zm1 4zm0-38zm0-1zm1 26zm1-18zm0-3zm0-1zm1 4zm0 14zm1 8zm0-24zm0-2zm1-2zm1 24zm0-7zm1-62zm0 44zm0 6zm0 6zm1-5zm0-1zm0-3zm0-5zm1 3zm0 2zm0 12zm1 8zm0-16zm0-2zm0-8zm1 6zm0 9zm1-11zm0-5zm1-35zm0 43zm0 1zm0 6zm0 5zm1 7zm0-8zm0-12zm0-2zm0-39zm1 38zm0 18zm0 4zm1-19zm0-5zm1-38zm0 39zm1 12zm0-4zm0-43zm0-2zm1 1zm0 36zm0 1zm0 8zm0 8zm1-9zm0-11zm0-32zm1 0zm0 52zm0 5zm1-28zm1-29zm0 27zm0 9zm0 17zm1-1zm0-9zm0-10zm0-5zm1-1zm0 1zm0 2zm0 35zm1-31zm0-1zm0-6zm0-29zm1 4zm0 31zm0 18zm1 18zm0-35zm0-9zm0-24zm1 1zm0 27zm0 1zm0 1zm0 5zm0 30zm1-24zm0-11zm1-31zm0 24zm1 19zm0-3zm0-2zm0-5zm0-7zm1 17zm1 6zm0-20zm1-2zm0 1zm0 17zm0 12zm1-25zm0-9zm1-3zm0 2zm0 3zm0 1zm0 6zm0 19zm0 3zm0 9zm1-37zm0-6zm1-15zm0 17zm0 7zm1-1zm0-2zm0-1zm0-2zm0-4zm2 4zm1 37zm0-44zm1 1zm0 6zm0 2zm0 7zm0 1zm0 4zm0 5zm1-6zm0-18zm1-1zm0 5zm0 6zm0 2zm1 31zm0-12zm0-14zm0-25zm0-1zm1 0zm0 10zm0 1zm0 18zm1 10zm0-21zm0-13zm0-5zm1-1zm0 3zm0 27zm1-15zm0-12zm1 0zm0 3zm0 1zm0 1zm0 6zm0 3zm0 22zm1-13zm0-7zm0-7zm1 20zm0 5zm1-9zm0-3zm0-6zm1-14zm0 3zm0 7zm1 7zm0-3zm2-5zm0 3zm1-2zm2-3zm0 1zm0 10zm1 23zm0-9zm1-29zm0 23zm0 13zm1-17zm1 0zm0 4zm1-6zm0-1zm0-9zm0-2zm1 1zm0 13zm0 2zm1-8zm3 5z" stroke="#a6dff4" stroke-width="4.5" stroke-linecap="round" fill="none"/><path d="M1079 484zm2 10zm2-25zm1 48zm1-4zm1-41zm2 42zm1-30zm4-13zm0 12zm1-10zm3 11zm0 11zm0 1zm1-4zm1-12zm3 43zm0-28zm3-22zm0 3zm0 7zm0 12zm3-10zm1 21zm1-11zm0-7zm0-16zm2 45zm1 7zm2-10zm1-40zm1 34zm2-22zm1-15zm2 41zm1-36zm1 25zm1-19zm1-6zm1 10zm0 5zm1-4zm3-15zm0 17zm0 5zm1-15zm1 5zm0 21zm0 14zm2-32zm5-9zm0 41zm1-18zm0-14zm2-1zm1 8zm1-2zm2-4zm1-6zm2-7zm1 20zm0 10zm9-4zm0-11zm1-8zm0 37zm1 1zm4-28zm1-15zm2 0zm1 56zm0-20zm1-2zm4 6zm0-32zm1 15zm1-7zm1-6zm0 6zm0 18zm1 20zm4-20zm1 12zm5 3zm2-38zm2-2zm0 34zm1-10zm1-22zm1 1zm0-10zm0-1zm4 26zm0 16zm1-38zm3 9zm1 2zm1-16zm2 46zm0-8zm2-3zm1-15zm2 5zm0 10zm0 22zm1-8zm0-45zm2 8zm0 35zm1-9zm2-18zm1 11zm0-31zm2 18zm1-16zm3 16zm0 17zm0 2zm6-26zm1 25zm1 0zm0-21zm2-5zm2 12zm1-18zm0 27zm1-1zm0-14zm1 1zm1-3zm0-6zm2 11zm0 17zm1-10zm1 3zm1-12zm1 0zm1-11zm0-2zm2 26zm2-17zm0-8zm4 7zm0 12zm1 25zm0-16zm2-21zm0 24zm0 14zm1-41zm1 30zm1-7zm0-17zm0-12zm1 18zm1 37zm0-38zm1-2zm0 40zm2-43zm2-12zm1 41zm0-24zm0-9zm2 30zm1-15zm1 7zm1 2zm1-22zm0 1zm0 35zm4-21zm0-22zm3 5zm0 4zm1 14zm6-20zm1 44zm0-48zm1-1zm0 10zm1 7zm2 6zm1 17zm1-36zm0 10zm0 25zm2-7zm1-30zm1 42zm1-8zm2-25zm4 15zm1 10zm1 0zm4 3zm3-33zm0 16zm0 32zm1-31zm0-10zm1 24zm5-2zm3-17zm1 34zm3-26zm0 18zm2-3zm2-8zm0 25zm1-37zm2 2zm1-3zm1 24zm6-3zm0-13zm4-13zm1 25zm0-21zm2 2zm0 17zm1 0zm1 8zm1-21zm2 33zm3-46zm1 8zm6 29zm0-25zm1-7zm0 24zm3 4zm0-11zm1-9zm0 25zm0 2zm4-38zm1 13zm1 27zm1-31zm1 24zm0-7zm1 13zm5-28zm1-5zm1 31zm0-34zm2 22zm3 3zm0-14zm4 18zm1-9zm0-4zm0-12zm4 21zm5-16zm6 13zm0 14zm1-3zm0-14zm4 3zm1 3zm2-14zm1 34zm0-21zm0-5zm2-4zm0 13zm3-10zm0-5zm1 21zm5-15zm3 8zm1 9zm5-16z" stroke="#fff" stroke-width="2.2" stroke-linecap="round" fill="none"/>
<path d="M1079.2 451V758.8M1120 451V758.8M1160.8 451V758.8M1201.6 451V758.8M1242.4 451V758.8M1283.2 451V758.8M1324 451V758.8M1364.8 451V758.8M1405.6 451V758.8M1446.4 451V758.8M1487.2 451V758.8" stroke="#c2c2c2" stroke-width="1.3" stroke-dasharray="4 4.3" fill="none"/>
<path d="M1082 487.7 1477.1 538" fill="none" stroke="#000" stroke-width="2.2" stroke-linejoin="round" stroke-dasharray="10.5 6.5"/>
<path d="M1082 485.9 1090.7 490.1 1102.9 491.9 1123.9 491.9 1132.7 495.4 1158.9 496.1 1179.9 499.6 1200.8 501.7 1221.8 505.2 1249.8 506.6 1267.3 510.1 1284.8 511.1 1302.2 512.9 1319.7 514.6 1337.2 518.8 1354.7 520.9 1365.2 522.3 1375.7 526.2 1386.2 529.7 1396.6 530.3 1407.1 533.1 1417.6 537.3 1428.1 538.4 1438.6 539.1 1445.6 541.5 1452.6 545.4 1461.3 545.4 1468.3 539.1 1474.3 537.3 1478.8 541.5 1482.3 549.6" fill="none" stroke="#cf2318" stroke-width="2.2" stroke-linejoin="round"/>
<path d="M1058.9 447V758.8H1508" stroke="#222" stroke-width="1.1" fill="none"/><path d="M1058.9 459.4h-3.5M1058.9 540.8h-3.5M1058.9 622h-3.5M1058.9 703.4h-3.5M1079.2 758.8v3.5M1120 758.8v3.5M1160.8 758.8v3.5M1201.6 758.8v3.5M1242.4 758.8v3.5M1283.2 758.8v3.5M1324 758.8v3.5M1364.8 758.8v3.5M1405.6 758.8v3.5M1446.4 758.8v3.5M1487.2 758.8v3.5" stroke="#222" stroke-width="1" fill="none"/>
<rect x="1055.8" y="391.3" width="462.2" height="49.3" rx="3" fill="#000"/><rect x="1063.2" y="398.7" width="447.4" height="34.5" fill="#cfa4fc"/><text x="1286.9" y="430.8" font-size="39.1" text-anchor="middle" >H52</text>
<path d="M151 1057zm0 45zm0 18zm0 7zm0 1zm0 34zm0 7zm1-52zm0-4zm0-13zm0-56zm1 71zm0 34zm0 8zm1 10zm0-8zm0-10zm0-3zm0-2zm0-18zm1-74zm0 15zm0 94zm0 10zm1-1zm0-10zm0-15zm0-3zm0-9zm0-5zm0-71zm1 23zm0 31zm0 8zm0 2zm0 55zm1 9zm0-18zm0-6zm0-27zm0-18zm0-2zm1-35zm0 41zm0 4zm0 20zm0 1zm0 25zm0 4zm0 5zm1 2zm0-4zm0-12zm0-22zm0-13zm0-5zm0-51zm0-7zm1 8zm0 77zm0 11zm0 7zm1 12zm0-51zm0-12zm0-33zm1 55zm0 5zm0 16zm0 3zm0 6zm0 7zm0 14zm1-17zm0-24zm0-4zm0-1zm0-15zm0-49zm1 92zm0 9zm0 5zm1 2zm0-5zm0-5zm0-4zm0-2zm0-3zm0-7zm0-31zm0-2zm0-4zm0-52zm1 94zm1 21zm0-10zm0-14zm0-6zm0-1zm0-6zm0-12zm0-7zm0-6zm1-19zm0 18zm0 12zm0 1zm0 1zm0 7zm0 19zm0 12zm1 15zm0-3zm0-1zm0-16zm0-32zm0-15zm0-50zm1 65zm0 13zm1 41zm0-20zm0-43zm1-7zm0 10zm0 18zm0 26zm1-7zm0-22zm0-30zm1 19zm0 18zm0 17zm0 9zm0 7zm1-6zm0-10zm0-4zm0-17zm0-3zm0-5zm1-27zm0 7zm0 10zm0 19zm0 20zm0 2zm0 21zm1-30zm0-5zm0-15zm0-3zm0-10zm0-1zm0-2zm0-4zm1-43zm0 6zm0 44zm0 4zm0 20zm0 23zm0 6zm1 11zm0-34zm0-3zm0-3zm0-18zm0-25zm0-34zm1 2zm0 75zm0 34zm1-16zm1-47zm0 25zm0 22zm0 2zm0 17zm1 1zm0-19zm0-1zm0-6zm0-3zm0-6zm0-16zm0-10zm0-31zm1-25zm0 17zm0 36zm0 16zm0 4zm0 38zm1-18zm0-4zm0-3zm0-6zm0-17zm0-1zm0-2zm0-16zm0-33zm1 86zm1 4zm0-13zm0-6zm0-2zm0-1zm0-5zm0-5zm0-1zm0-8zm1-7zm0 35zm0 2zm1 25zm0-8zm0-23zm0-25zm0-57zm1 27zm0 48zm0 8zm0 1zm0 27zm1 2zm0-14zm0-9zm0-1zm0-7zm0-21zm0-1zm0-28zm1 24zm0 1zm0 7zm0 13zm0 37zm1-12zm0-8zm0-22zm0-5zm1 37zm1-4zm0-39zm0-8zm0-17zm1 19zm0 16zm0 14zm0 3zm0 27zm0 1zm1-57zm1-13zm0 34zm0 23zm1 10zm0-7zm0-14zm0-7zm1-27zm0 14zm0 14zm0 22zm1 7zm0-26zm0-1zm0-1zm0-3zm0-1zm0-15zm0-11zm1 27zm0 1zm0 1zm0 5zm0 10zm0 5zm0 1zm1-1zm0-18zm0-5zm0-21zm1-35zm0 31zm0 3zm0 38zm1 8zm0-14zm0-21zm0-5zm1-30zm0 26zm0 2zm0 11zm0 2zm0 16zm1-12zm0-8zm0-6zm1-35zm0 32zm0 35zm0 6zm0 2zm1-5zm0-2zm0-2zm1-83zm0 42zm0 27zm0 12zm1 9zm0-63zm1 21zm0 6zm0 6zm0 4zm0 32zm1-28zm0-27zm1 46zm0 2zm1-84zm1 64zm1 13zm0-5zm0-17zm1-5zm0 6zm0 11zm0 14zm1 6zm0-3zm0-47zm1 15zm0 5zm0 5zm0 8zm0 15zm0 9zm1-16zm0-31zm1 1zm0 30zm0 2zm0 7zm1 6zm0-19zm0-26zm0-1zm1 11zm0 1zm0 2zm0 10zm0 7zm1 13zm0-36zm0-33zm0-7zm1 16zm0 59zm1-17zm0-6zm0-5zm1-40zm0 28zm0 5zm0 3zm0 4zm0 2zm0 5zm0 6zm0 2zm1 3zm0-22zm0-22zm1 1zm0 26zm0 26zm1-30zm1 0zm0 4zm0 25zm1-24zm0-15zm1 0zm0 18zm0 12zm1 7zm0-3zm0-8zm0-17zm1-3zm0 19zm1-27zm1 0zm0 20zm0 8zm0 4zm0 4zm1-1zm0-9zm0-5zm0-9zm1-3zm0 2zm1 29zm0-22zm1-20zm0 12zm0 4zm0 13zm2 18zm0-20zm0-41zm1 9zm1 46zm0-2zm0-5zm2-17zm5-15zm2 22zm1 22zm0-5zm1-32zm0 12zm1 2zm1 16zm2-3zm0-3zm0-10zm2-26zm0 34zm0 9zm3-11zm0-2zm0-5zm0-21zm4 28zm0 12zm0 4zm1 0zm0-38zm3 17zm0 11zm1-3zm3-20zm0 28zm1-24zm10-15zm0 27zm0 7zm1 1zm4-4zm5-20zm8-4zm0 6zm5-4zm0-10zm3 26zm2-25zm0-1zm0-2zm1 1zm2 9zm3 11zm50-30zm11 49zm8-25zm13 7zm10 26zm20-28zm16 13zm15 12z" stroke="#a6dff4" stroke-width="4.5" stroke-linecap="round" fill="none"/><path d="M150 973zm0 14zm1 80zm0-52zm0-10zm0-8zm1 22zm0 28zm0 26zm0 4zm0 1zm0 38zm1-47zm0-30zm0-11zm0-7zm0-1zm0-1zm0-23zm1-7zm0 9zm0 9zm0 33zm0 38zm0 8zm0 24zm0 6zm1-9zm0-43zm0-24zm0-12zm0-6zm0-2zm0-1zm0-11zm0-6zm1 2zm0 4zm0 17zm0 4zm0 2zm0 44zm0 26zm0 9zm1-16zm0-9zm0-9zm0-2zm0-56zm0-3zm0-19zm0-7zm1-10zm0 14zm0 1zm0 3zm0 2zm0 20zm0 8zm0 3zm0 12zm0 4zm0 42zm0 47zm1-62zm0-35zm0-6zm0-3zm0-22zm0-2zm0-12zm1-1zm0 7zm0 14zm0 54zm0 4zm0 17zm0 2zm1 18zm0-45zm0-16zm0-8zm0-11zm0-26zm1 5zm0 12zm0 3zm0 26zm0 13zm0 7zm0 11zm0 14zm0 5zm0 24zm1 11zm0-41zm0-10zm0-1zm0-36zm1-37zm0 1zm0 15zm0 7zm0 5zm0 12zm0 3zm0 2zm0 11zm0 39zm1-22zm0-42zm0-16zm1 25zm0 2zm0 13zm0 2zm1 60zm0-29zm0-8zm0-11zm0-11zm0-28zm0-18zm0-22zm1-9zm0 32zm0 12zm0 2zm0 2zm0 18zm0 17zm0 4zm0 20zm0 9zm1 20zm0-54zm0-13zm0-26zm1-19zm0 3zm0 6zm0 13zm0 17zm0 20zm0 7zm1 19zm0-3zm0-12zm0-28zm0-6zm0-8zm0-12zm0-8zm0-5zm0-2zm1 5zm0 34zm0 35zm0 12zm1-19zm0-6zm0-16zm0-14zm0-5zm0-19zm1-8zm0 22zm0 35zm0 10zm0 2zm0 1zm1-3zm0-13zm0-6zm0-43zm1-23zm0 31zm0 22zm0 23zm0 5zm0 1zm0 3zm0 3zm1 28zm0-30zm0-9zm0-21zm0-15zm1-37zm0 50zm0 30zm1-11zm0-43zm0-1zm1-6zm0 21zm0 19zm0 17zm1 28zm0-21zm0-1zm0-22zm0-4zm0-35zm1-23zm0 33zm0 14zm0 43zm1-3zm0-22zm0-5zm0-9zm1-9zm0 19zm0 10zm0 2zm0 14zm0 12zm0 8zm1-39zm1-11zm0 13zm0 1zm0 3zm0 3zm0 12zm0 11zm1-27zm0-67zm1 11zm0 22zm0 18zm0 9zm0 15zm0 17zm0 14zm0 11zm1 5zm0-19zm0-7zm0-27zm0-2zm0-2zm1-54zm0 34zm0 12zm0 6zm1 65zm0-50zm0-56zm0-3zm1 4zm0 48zm0 14zm0 3zm1 7zm0-15zm0-5zm0-27zm1-16zm0 34zm0 20zm0 17zm0 20zm1-31zm0-19zm0-13zm0-28zm1 11zm0 10zm0 9zm0 7zm0 26zm1 27zm0-36zm0-16zm0-12zm0-42zm1-8zm0 14zm0 11zm0 12zm0 23zm0 2zm0 14zm0 13zm1 6zm0-42zm0-38zm1 6zm0 25zm0 8zm1 66zm1-50zm0 6zm1 41zm0-42zm0-7zm0-41zm1-14zm0 2zm0 33zm0 26zm0 26zm0 10zm1-47zm0-14zm0-12zm0-2zm0-4zm0-7zm0-6zm1-5zm0 15zm0 7zm0 20zm0 2zm0 17zm1 36zm0-24zm0-35zm0-5zm0-13zm0-7zm0-4zm1 18zm0 6zm0 32zm0 30zm1 6zm0-59zm0-27zm1-7zm0 6zm0 19zm0 7zm0 5zm0 27zm0 2zm1-38zm0-18zm1-10zm0 7zm0 17zm0 12zm1 3zm0-40zm1 10zm0 32zm0 10zm0 5zm0 15zm1 27zm0-61zm0-34zm0-7zm1 18zm0 45zm0 32zm1-5zm0-68zm0-14zm1 7zm0 20zm0 11zm0 1zm0 9zm0 3zm0 6zm1-5zm0-17zm0-1zm0-7zm0-15zm1 7zm0 8zm0 10zm0 22zm1 14zm0-55zm0-10zm0-11zm1 3zm0 22zm0 23zm0 3zm0 30zm1 2zm0-8zm0-13zm0-7zm1-20zm0 8zm0 1zm0 6zm0 1zm1-2zm0-1zm0-4zm0-9zm0-3zm0-4zm1 6zm0 2zm0 28zm0 27zm1-34zm0-22zm0-15zm1-3zm0 1zm0 16zm0 26zm0 38zm1-9zm0-2zm0-15zm0-30zm0-14zm0-28zm1 56zm0 3zm1-18zm0-10zm1-7zm0 10zm1 7zm0-11zm1 2zm0 4zm1 40zm0-18zm0-11zm0-33zm1 15zm0 8zm0 2zm0 40zm1-26zm0-7zm0-12zm0-11zm0-14zm1 11zm0 9zm0 8zm0 33zm0 24zm1-33zm0-5zm0-1zm0-5zm0-10zm1-14zm0 7zm0 1zm0 12zm0 10zm0 27zm1-27zm0-9zm0-32zm0-1zm0-1zm1 36zm0 15zm0 16zm1-2zm0-66zm1-8zm0 18zm0 31zm1-39zm1 30zm1 52zm0-28zm0-6zm0-35zm1 5zm0 12zm0 2zm0 3zm0 6zm1-2zm0-31zm0-11zm1 21zm0 26zm0 16zm2 10zm0-32zm0-17zm0-13zm1-6zm0 48zm2 18zm0-15zm0-36zm1-23zm0 20zm2 20zm2 10zm0 21zm1-59zm1-2zm0 62zm3 5zm0-1zm0-54zm0-1zm1-15zm0 37zm1 27zm1-46zm0 28zm1 19zm0-6zm1-48zm0 25zm0 23zm2 9zm2-46zm2 3zm0-9zm1 12zm2 41zm2-21zm1-23zm1-7zm2 3zm7 16zm1 22zm0-6zm1-10zm0 8zm1-9zm0-16zm1-3zm1 32zm0-4zm0-23zm1-2zm6 35zm1-21zm1 19zm0-28zm1-5zm1 5zm2 36zm1-13zm1 1zm0 9zm1-11zm1 7zm4 16zm0-42zm1 22zm1-14zm1-9zm0 42zm1 1zm1-34zm1 3zm0-1zm2 13zm0 20zm1-24zm35 47zm13 0zm15-5zm6-8zm34 14zm5-11zm12-1z" stroke="#f1c690" stroke-width="4.5" stroke-linecap="round" fill="none"/>
<path d="M149.3 902.5V1211.8M194.4 902.5V1211.8M239.4 902.5V1211.8M284.5 902.5V1211.8M329.6 902.5V1211.8M374.6 902.5V1211.8M419.7 902.5V1211.8M464.8 902.5V1211.8M509.9 902.5V1211.8M554.9 902.5V1211.8" stroke="#c2c2c2" stroke-width="1.3" stroke-dasharray="4 4.3" fill="none"/>
<path d="M152.1 1139.9 466.8 1197.6" fill="none" stroke="#000" stroke-width="2.0" stroke-linejoin="round" stroke-dasharray="9 5.5"/>
<path d="M152.1 1046.6 484.3 1166.9" fill="none" stroke="#000" stroke-width="2.1" stroke-linejoin="round"/>
<path d="M153.1 1028.4 159.1 1036.8 164.3 1043.8 169.6 1051.8 178.3 1061.3 190.6 1066.5 202.8 1069 213.3 1071.7 223.8 1074.5 230.8 1077 236 1076.3 241.3 1084 248.3 1089.2 255.2 1094.5 260.5 1097.3 269.2 1094.5 274.5 1088.5 278 1082.2 286.7 1086.4 297.2 1091 305.9 1096.2 316.4 1097.3 325.2 1106.7 330.4 1113.7 340.9 1118.3 349.7 1121.7 356.6 1125.2 363.6 1129.4 381.1 1129.4 389.9 1133.6 400.3 1129.4 409.1 1132.2 414.3 1138.2 419.6 1145.9 431.8 1147.6 440.6 1141.7 447.6 1137.5 461.5 1137.5 472 1139.2 486 1136.4" fill="none" stroke="#a232f2" stroke-width="2.0" stroke-linejoin="round"/>
<path d="M153.1 1099 157.3 1113.7 161.5 1129.4 167.8 1144.5 176.6 1150.4 183.6 1148.7 188.8 1146.9 195.8 1152.2 204.5 1158.5 213.3 1159.2 222 1156.4 230.8 1160.9 239.5 1167.9 248.3 1169.7 258.7 1170.7 267.5 1172.4 276.2 1167.9 286.7 1163.7 297.2 1166.2 307.7 1164.4 316.4 1164.4 325.2 1159.2 330.4 1151.5 344.4 1150.4 353.1 1148.7 363.6 1143.4 381.1 1141 386.4 1146.9 393.4 1153.9 400.3 1166.2 405.6 1176.6 412.6 1185.4 419.6 1188.2 426.6 1181.9 431.8 1178.4 437.1 1179.4 447.6 1180.1 454.5 1182.6 461.5 1180.1 472 1182.6 486 1186.1" fill="none" stroke="#f01a1a" stroke-width="2.4" stroke-linejoin="round"/>
<path d="M128.4 898.5V1211.8H575" stroke="#222" stroke-width="1.1" fill="none"/><path d="M128.4 909.7h-3.5M128.4 981.6h-3.5M128.4 1053.7h-3.5M128.4 1125.6h-3.5M128.4 1198.2h-3.5M149.3 1211.8v3.5M194.4 1211.8v3.5M239.4 1211.8v3.5M284.5 1211.8v3.5M329.6 1211.8v3.5M374.6 1211.8v3.5M419.7 1211.8v3.5M464.8 1211.8v3.5M509.9 1211.8v3.5M554.9 1211.8v3.5" stroke="#222" stroke-width="1" fill="none"/>
<rect x="123" y="840" width="462.1" height="49.3" rx="3" fill="#000"/><rect x="130.4" y="847.4" width="447.3" height="34.5" fill="#42fd09"/><text x="354.1" y="875.7" font-size="30.3" text-anchor="middle" >H14</text>
<path d="M613 976zm0 15zm0 38zm1-2zm0-40zm0-1zm1-10zm0 4zm0 5zm0 22zm0 16zm0 6zm0 10zm1 19zm0-21zm0-12zm0-2zm0-11zm0-10zm0-3zm0-3zm0-7zm0-3zm0-10zm1 19zm0 26zm0 8zm0 1zm0 1zm0 10zm0 10zm1 0zm0-10zm0-18zm0-13zm0-20zm1 52zm0 6zm1-41zm0-5zm0-22zm0-2zm1 7zm0 56zm1 5zm0-11zm0-30zm0-20zm0-9zm0-4zm1 42zm0 9zm0 10zm0 36zm1-21zm0-18zm0-21zm0-5zm0-23zm1 13zm0 10zm0 60zm1-9zm0-2zm0-12zm0-26zm0-10zm0-11zm0-7zm0-11zm1 9zm0 5zm0 3zm0 1zm0 15zm0 2zm0 23zm0 28zm1-9zm0-9zm1-45zm0 23zm0 6zm0 33zm1 12zm0-29zm0-38zm0-4zm0-4zm0-6zm1 1zm0 5zm0 38zm0 12zm1-18zm0-4zm0-3zm0-3zm0-18zm1-6zm1 35zm0-6zm0-13zm1-12zm0 18zm0 22zm0 6zm0 1zm0 12zm1 1zm0-24zm0-2zm0-38zm1 0zm0 34zm0 9zm0 11zm0 18zm1 8zm0-14zm0-26zm0-22zm0-21zm1 21zm0 7zm0 11zm0 16zm0 5zm0 7zm0 21zm1-44zm0-12zm0-20zm1-1zm0 17zm0 2zm0 10zm0 1zm0 1zm0 2zm0 46zm1-15zm0-2zm0-1zm0-25zm0-10zm0-9zm1 7zm0 3zm0 20zm0 29zm1-18zm0-7zm0-1zm1-53zm0 21zm0 2zm0 10zm0 5zm0 54zm1-31zm0-23zm0-7zm0-11zm0-3zm1-23zm0 5zm0 5zm0 10zm0 9zm0 3zm0 6zm0 7zm0 6zm0 10zm0 14zm1-15zm0-2zm0-2zm0-43zm1-11zm0 8zm0 56zm0 20zm1-41zm0-28zm1-4zm0 7zm0 8zm0 58zm1-15zm0-65zm1 16zm0 26zm0 1zm0 48zm1-1zm0-3zm0-72zm0-2zm1 2zm0 16zm0 5zm0 4zm0 1zm0 18zm0 1zm0 5zm0 5zm1-51zm1-15zm0 1zm0 9zm0 34zm0 5zm0 3zm1 18zm0-6zm0-8zm0-35zm0-6zm0-3zm0-3zm0-1zm1 38zm0 11zm0 4zm0 25zm1-42zm0-28zm0-5zm1 7zm0 7zm0 9zm0 11zm0 1zm0 8zm0 9zm0 3zm1-4zm0-5zm0-34zm0-4zm0-2zm1 39zm0 39zm0 6zm1-34zm0-33zm0-12zm1 0zm0 9zm0 16zm0 8zm0 10zm0 4zm1-4zm0-22zm1 18zm1 4zm0-12zm0-24zm1-11zm0 21zm0 7zm0 18zm0 4zm0 5zm0 20zm0 12zm1-19zm0-51zm1-17zm0 7zm0 10zm0 8zm0 47zm1-41zm0-9zm0-21zm0-7zm1 26zm0 4zm0 2zm0 39zm0 9zm1-9zm0-26zm0-12zm0-16zm0-10zm0-7zm1 33zm1 34zm0-12zm0-4zm0-11zm0-13zm0-19zm1 2zm0 31zm0 6zm1 20zm0-11zm0-22zm1-21zm0 1zm0 6zm0 14zm1 37zm0-10zm0-11zm0-7zm0-1zm0-46zm1 59zm1-21zm0-16zm0-3zm1-9zm0 40zm0 5zm0 18zm0 10zm1-27zm0-8zm0-33zm0-13zm1 21zm0 14zm0 1zm0 16zm0 18zm1 16zm0-17zm0-17zm0-2zm0-4zm0-2zm0-15zm0-4zm0-11zm1 7zm0 26zm0 4zm0 2zm0 14zm0 14zm0 27zm1-33zm0-22zm0-17zm1-29zm0 5zm0 55zm1 1zm0-10zm0-12zm0-22zm1 4zm0 5zm0 1zm0 4zm0 4zm0 16zm1 34zm0-50zm0-5zm0-2zm0-16zm0-4zm1 14zm0 22zm0 6zm0 6zm0 4zm0 2zm0 11zm0 12zm1-10zm0-5zm0-6zm0-2zm0-21zm0-24zm0-6zm0-2zm1 22zm0 41zm1-7zm0-1zm0-2zm0-1zm0-6zm0-53zm1 24zm0 17zm0 2zm0 7zm0 21zm1-24zm0-4zm0-2zm0-21zm0-9zm1 14zm0 5zm0 26zm0 36zm1-33zm0-25zm0-10zm1-15zm0 27zm0 24zm0 9zm0 13zm0 17zm1 8zm0-4zm0-13zm0-28zm0-22zm0-8zm0-6zm0-6zm1 3zm0 30zm0 40zm1 12zm0-50zm1-48zm0 18zm0 10zm0 4zm0 46zm1-48zm0-6zm0-14zm1 7zm0 17zm0 54zm1-13zm0-28zm0-7zm0-1zm0-3zm0-35zm1 26zm0 7zm0 12zm0 12zm1 28zm0-28zm0-28zm1-7zm0 21zm0 15zm0 16zm1-12zm0-10zm0-20zm0-1zm1-28zm0 13zm0 24zm0 8zm0 18zm0 35zm1-50zm0-3zm1-36zm0 14zm0 26zm1 15zm0-4zm0-6zm0-15zm0-9zm0-29zm1 47zm0 9zm0 7zm1-3zm0-28zm0-3zm0-11zm0-1zm0-2zm0-12zm1-7zm0 62zm0 24zm0 13zm1-13zm0-40zm0-15zm0-15zm1 1zm0 15zm0 1zm0 5zm0 28zm0 12zm1-8zm0-1zm0-4zm0-13zm0-38zm1 4zm0 17zm0 15zm0 2zm0 26zm1 12zm0-42zm0-11zm1 44zm0 31zm1-53zm0-23zm0-4zm0-15zm1 25zm0 4zm0 22zm0 5zm1-5zm0-2zm0-6zm1-8zm0 3zm0 20zm1-2zm0-11zm0-21zm0-12zm0-7zm1 4zm0 8zm0 15zm0 17zm1 9zm0-36zm1-21zm0 55zm0 8zm1-3zm0-49zm1-1zm0 13zm0 18zm0 1zm0 18zm0 3zm0 4zm0 6zm0 6zm1-45zm0-11zm0-18zm1 20zm0 2zm0 32zm1 5zm0-2zm0-35zm0-8zm1 12zm0 5zm0 9zm0 20zm1-4zm0-25zm0-2zm0-9zm1-7zm0 11zm0 11zm0 32zm0 1zm1 26zm0-11zm0-15zm1-71zm0 12zm0 4zm0 19zm0 9zm0 8zm0 2zm0 3zm0 16zm1 5zm0-31zm0-32zm1 1zm0 16zm0 22zm0 23zm1 10zm0-70zm0-9zm1 12zm0 9zm0 7zm0 19zm0 8zm1 0zm0-14zm0-15zm0-5zm1-17zm0 26zm1 24zm0-4zm0-11zm0-2zm0-6zm0-22zm0-15zm1 18zm0 45zm1-9zm0-27zm0-6zm1-16zm0 16zm0 15zm0 11zm0 26zm1 14zm0-30zm0-32zm0-14zm1 37zm0 10zm1 3zm0-14zm0-29zm1 8zm0 8zm0 5zm0 2zm0 55zm1-35zm0-11zm0-32zm1-3zm0 28zm0 15zm0 2zm0 1zm1 29zm0-30zm0-7zm0-5zm0-2zm0-2zm0-6zm0-5zm0-14zm1-7zm0 19zm0 2zm0 2zm0 27zm0 1zm1-6zm0-25zm1-4zm0 4zm1 52zm0-5zm0-17zm0-21zm0-4zm0-4zm0-6zm0-5zm1 14zm0 5zm0 9zm0 17zm1-28zm0-7zm1-4zm0 37zm0 11zm1-10zm0-4zm0-6zm0-31zm1 4zm0 3zm0 33zm1 1zm0-9zm0-11zm0-10zm0-4zm1 22zm0 11zm1-13zm1-18zm0 31zm0 12zm1-46zm0-3zm1 11zm0 15zm1 8zm0-19zm1-13zm0 36zm1-17zm0-11zm0-13zm1-7zm0 17zm0 1zm0 5zm0 6zm0 1zm0 5zm0 7zm1-2zm0-2zm0-11zm0-4zm0-7zm0-2zm1-15zm0 13zm0 12zm0 16zm0 7zm0 7zm1-9zm0-6zm0-3zm0-25zm1 3zm0 34zm0 1zm1 2zm0-12zm0-1zm0-16zm0-25zm1 16zm0 5zm1 3zm0-7zm0-2zm1 31zm0 3zm1 33zm0-32zm0-9zm0-15zm0-4zm1-16zm0 23zm0 21zm0 5zm1-10zm1-24zm0 2zm0 16zm0 10zm0 3zm1 23zm0-57zm0-3zm1 15zm0 14zm0 9zm1-27zm0-4zm1-13zm0 46zm1 27zm0-5zm0-1zm0-21zm1-36zm0 36zm1-47zm1 22zm0 5zm0 10zm1 21zm0-25zm0-1zm0-4zm0-16zm1 24zm0 8zm0 5zm1 7zm0-6zm0-10zm0-12zm0-3zm0-10zm1 0zm0 15zm0 10zm0 5zm0 2zm0 9zm1-3zm0-14zm0-2zm0-9zm1-23zm0 19zm0 1zm0 21zm0 3zm0 4zm1 4zm0-8zm0-1zm0-14zm0-21zm1 1zm1 61zm0-8zm0-19zm0-3zm0-20zm0-15zm1 5zm0 4zm0 6zm0 11zm0 21zm1-8zm0-13zm0-16zm0-7zm0-4zm1 6zm0 35zm1 0zm0-16zm0-1zm0-4zm0-12zm0-2zm0-11zm1 16zm0 2zm0 29zm1-22zm0-12zm1 0zm0 5zm0 16zm0 8zm0 5zm0 12zm1-17zm1-29zm0 5zm0 7zm0 11zm0 2zm1 16zm0-7zm0-29zm1 12zm1 35zm0-8zm0-4zm0-27zm0-3zm0-3zm0-22zm1 30zm0 2zm0 14zm0 11zm1-23zm0-3zm0-21zm0-4zm0-7zm1 30zm0 1zm0 6zm1 10zm0-8zm0-23zm1-2zm0 37zm0 16zm1-7zm0-26zm0-17zm1-7zm0 9zm0 10zm0 8zm0 10zm1 22zm0-53zm1 10zm0 13zm1 11zm1-40zm0 9zm0 14zm0 15zm0 2zm1-9zm0-12zm1-2zm1 25zm0-2zm0-2zm0-3zm0-26zm1 1zm0 16zm1-1zm0-1zm0-16zm0-3zm1-1zm0 9zm0 6zm0 15zm1 6zm0-26zm0-5zm0-3zm1 4zm0 16zm1 31zm1-36zm0 5zm1 10zm0-7zm2-34zm0 9zm1 38zm0-22zm0-4zm1 6zm0 13zm0 1zm0 9zm0 13zm1-16zm0-5zm0-1zm0-20zm1 12zm0 15zm0 1zm1-13zm1 3zm1 16zm0-10zm0-2zm2-22zm0 1zm0 2zm0 13zm1 8zm1-9zm0 8zm0 3zm2 0zm0-1zm0-23zm0-5zm1 11zm0 3zm1 23zm0-15zm0-8zm0-3zm1-5zm0 11zm1 9zm0-5zm0-9zm1-15zm0 9zm1 30zm0-19zm1 15zm1-4zm0-6zm0-17zm1-5zm0 31zm0 6zm1 3zm0-12zm0-6zm1-20zm0 21zm1 12zm0-19zm2 2zm1 15zm0-15zm0-5zm0-2zm1-9zm0 12zm1 1zm0-1zm0-4zm1-4zm0 19zm0 6zm1-23zm1 6zm1 8zm0-11zm0-7zm1 4zm0 9zm0 11zm1-5zm0-1zm0-9zm0-8zm1 8zm0 8zm1 1zm1-12zm1 24zm0-16zm0-5zm1 8zm1-1zm0-8zm0-12zm2 11zm0 22zm1-28zm1 19zm1-5zm1 10zm1-14zm1-5zm0 19zm1 5zm0-3zm0-1zm0-3zm0-9zm0-8zm1-2zm0 4zm0 3zm0 1zm0 2zm0 19zm0 5zm1-26zm1 17zm1-15zm0-6zm1-1zm0 3zm0 5zm0 5zm1-2zm0-4zm1 15zm1-5zm0-7zm1-9zm1 13zm0-4zm0-3zm2-4zm0 23zm1-8zm1-30zm1 38zm0-3zm0-1zm0-1zm0-9zm1 9zm0 1zm1 2zm0-12zm0-9zm1 5zm0 11zm0 11zm1-14zm0-6zm1-3zm1 14zm0-6zm0-13zm0-4zm0-5zm1 5zm1 20zm0-9zm0-1zm0-4zm2 4zm0 14zm1-6zm1-1zm2-1zm0-20zm1 35zm1-10zm0-8zm1-10zm0 1zm0 20zm1 1zm1 1zm2-5zm0-3zm0-2zm1-1zm0 8zm2-5zm0-11zm2 2zm4 5zm1-9zm0 20zm1-6zm1-2zm0 6zm1-1zm0-5zm1-3zm0 8zm1-6zm2 3zm4 0zm0-2zm1 6zm1 3zm0-4zm1-1zm0 3zm2 0z" stroke="#f1c690" stroke-width="4.5" stroke-linecap="round" fill="none"/><path d="M612 1068zm1 60zm0-20zm0-7zm0-25zm0-14zm0-3zm0-3zm0-14zm1 24zm0 11zm0 5zm0 16zm0 1zm0 13zm0 6zm0 6zm0 27zm0 10zm1-50zm0-10zm0-23zm0-5zm0-21zm1 30zm0 8zm0 10zm0 14zm0 12zm0 16zm1 6zm0-41zm0-9zm0-3zm0-1zm0-9zm0-2zm0-6zm0-1zm0-1zm0-1zm0-4zm0-7zm0-6zm1 5zm0 14zm0 2zm0 30zm0 13zm1 41zm0-34zm0-12zm0-6zm0-2zm0-3zm0-20zm0-5zm0-3zm0-12zm0-6zm0-3zm0-1zm1-22zm0 3zm0 19zm0 3zm0 13zm0 3zm0 6zm0 13zm0 3zm0 20zm0 8zm0 6zm1 19zm0-9zm0-22zm0-1zm0-13zm0-5zm0-1zm0-34zm0-5zm1-4zm0 2zm0 21zm0 17zm0 26zm0 32zm1-33zm0-6zm0-56zm0-6zm1-14zm0 9zm0 9zm0 4zm0 14zm0 15zm0 16zm0 6zm0 8zm0 4zm0 1zm0 1zm0 30zm1-3zm0-36zm0-5zm0-6zm0-6zm0-18zm0-3zm0-7zm1-11zm0 17zm0 2zm0 25zm0 1zm0 2zm0 2zm0 5zm1 11zm0-12zm0-16zm0-19zm1-31zm0 4zm0 26zm0 2zm0 4zm0 13zm0 15zm0 10zm1 8zm0-36zm0-1zm0-4zm0-12zm0-5zm0-9zm0-3zm0-4zm1 2zm0 3zm0 4zm0 3zm0 11zm0 5zm0 23zm0 18zm0 10zm0 5zm0 6zm0 8zm1-34zm0-22zm0-7zm0-2zm0-4zm0-4zm0-4zm0-15zm1 1zm0 11zm0 1zm0 1zm0 7zm0 3zm0 6zm0 11zm0 6zm0 46zm1-22zm0-3zm0-40zm0-38zm1 24zm0 6zm0 31zm1 35zm0-12zm0-5zm0-4zm0-10zm0-9zm0-19zm0-2zm0-5zm0-15zm1-10zm0 8zm0 2zm0 14zm0 28zm0 22zm0 1zm0 1zm0 28zm0 6zm1-30zm0-4zm0-17zm0-7zm0-4zm0-4zm1-44zm0 1zm0 8zm0 10zm0 2zm0 4zm0 7zm0 5zm0 9zm0 2zm0 6zm0 3zm1 17zm0-15zm0-10zm0-4zm0-19zm0-1zm0-5zm0-7zm1-7zm0 5zm0 3zm0 4zm0 13zm0 11zm0 5zm0 33zm1 32zm0-45zm0-6zm0-3zm0-1zm0-2zm0-6zm0-17zm0-10zm0-5zm0-3zm0-4zm0-6zm1-2zm0 1zm0 31zm0 18zm0 4zm0 6zm0 9zm0 19zm1 4zm0-29zm0-6zm0-2zm0-21zm0-5zm0-24zm0-7zm1-5zm0 10zm0 13zm0 10zm0 3zm0 30zm0 7zm0 40zm1-35zm0-1zm0-14zm0-6zm0-14zm0-2zm0-20zm0-1zm1-28zm0 19zm0 3zm0 6zm0 4zm0 5zm0 11zm0 22zm0 5zm0 10zm0 29zm1-27zm0-3zm0-5zm0-2zm0-8zm0-6zm0-6zm0-3zm0-21zm0-1zm0-7zm1 0zm0 5zm0 12zm0 11zm0 2zm0 17zm1 15zm0-30zm1-37zm0 46zm0 3zm0 10zm0 1zm1 1zm0-17zm0-2zm0-13zm0-14zm1-17zm0 21zm0 48zm0 2zm1 25zm0-23zm0-7zm0-17zm0-19zm0-25zm0-3zm0-1zm1 5zm0 3zm0 1zm0 13zm0 5zm0 5zm0 1zm0 3zm0 7zm0 8zm0 23zm1 18zm0-19zm0-8zm0-6zm0-2zm0-2zm0-18zm0-12zm0-5zm0-2zm0-6zm0-13zm1-3zm0 33zm0 6zm0 4zm0 1zm0 14zm0 19zm0 16zm1-15zm0-2zm0-7zm0-35zm0-14zm0-5zm0-20zm1 1zm0 7zm0 11zm0 2zm0 18zm0 18zm0 16zm1 9zm0-12zm0-5zm0-12zm0-4zm0-9zm1-29zm0 19zm0 9zm0 10zm0 10zm0 6zm0 1zm0 3zm0 8zm0 12zm1-13zm0-9zm0-18zm0-2zm0-9zm0-4zm0-4zm0-8zm0-17zm1 13zm0 37zm0 18zm0 6zm0 1zm0 5zm0 4zm1 2zm0-7zm0-34zm1-17zm0 1zm0 17zm0 3zm0 15zm0 5zm0 7zm0 2zm0 31zm1-31zm0-13zm0-43zm0-1zm0-2zm0-25zm1 14zm0 11zm0 5zm0 52zm0 10zm1-8zm0-7zm0-5zm0-17zm0-19zm0-21zm0-7zm1 8zm0 6zm0 7zm0 8zm0 3zm0 1zm0 27zm0 26zm1 5zm0-10zm0-2zm0-1zm0-4zm0-4zm0-9zm0-38zm0-7zm0-9zm1-13zm0 26zm0 3zm0 4zm0 15zm0 7zm0 5zm0 13zm0 28zm1-21zm0-11zm0-1zm0-13zm0-5zm0-18zm0-10zm0-6zm1-3zm0 16zm0 1zm0 2zm0 19zm0 5zm0 6zm0 4zm0 9zm0 21zm1 7zm0-57zm0-23zm1 18zm0 4zm0 10zm0 4zm0 4zm0 6zm0 14zm1 2zm0-3zm0-2zm0-3zm0-8zm0-5zm0-4zm0-24zm0-3zm0-5zm1 6zm0 21zm0 8zm0 4zm0 13zm0 1zm0 3zm0 8zm1-7zm0-12zm0-2zm0-16zm0-14zm0-17zm0-1zm0-2zm1-11zm0 11zm0 1zm0 14zm0 13zm0 13zm0 6zm0 15zm0 3zm1 21zm0-14zm0-19zm0-4zm0-5zm0-23zm0-11zm0-14zm0-3zm1 13zm0 7zm0 39zm0 14zm1-1zm0-13zm0-19zm0-21zm0-9zm0-1zm1 14zm0 8zm0 6zm0 5zm0 1zm0 20zm0 11zm0 6zm0 15zm1-12zm0-16zm0-23zm1-33zm0 3zm0 3zm0 2zm0 13zm0 10zm0 15zm0 9zm0 1zm0 6zm0 5zm1-8zm0-1zm0-17zm0-31zm1-11zm0 31zm0 3zm0 1zm0 4zm0 7zm0 9zm0 4zm1-45zm0-3zm0-5zm1-5zm0 1zm0 12zm0 1zm0 11zm0 12zm0 7zm0 19zm0 2zm0 8zm1-28zm0-8zm0-35zm1-8zm0 3zm0 7zm0 12zm0 3zm0 5zm0 3zm0 3zm0 13zm0 8zm0 10zm1-2zm0-2zm0-9zm0-4zm0-36zm0-5zm0-6zm1 6zm0 6zm0 3zm0 1zm0 9zm0 16zm0 2zm0 5zm0 13zm0 8zm1 5zm0-12zm0-8zm0-19zm0-29zm1 8zm0 10zm0 6zm0 25zm1 30zm0-31zm0-8zm0-23zm1-8zm0 1zm0 3zm0 8zm0 7zm0 11zm0 17zm0 4zm1 3zm0-18zm0-1zm0-6zm0-13zm0-17zm0-3zm1 20zm0 6zm0 6zm0 1zm0 3zm0 1zm0 3zm0 12zm0 10zm1-20zm0-10zm0-3zm0-22zm0-12zm1 12zm0 11zm0 14zm0 15zm0 6zm1-8zm0-3zm0-5zm0-7zm0-2zm0-6zm0-3zm0-10zm0-1zm1 6zm0 4zm0 4zm0 27zm0 1zm0 20zm1-10zm0-12zm0-4zm0-3zm0-7zm0-9zm0-2zm0-5zm0-4zm0-5zm0-1zm0-2zm1-6zm0 14zm0 11zm0 1zm0 2zm0 8zm0 17zm0 23zm0 9zm1-28zm0-1zm0-19zm0-12zm0-11zm0-2zm0-7zm1-17zm0 14zm0 3zm0 9zm0 17zm0 9zm1 3zm0-25zm0-3zm1 5zm0 13zm1 18zm0-20zm0-2zm0-5zm1-18zm0 1zm0 4zm0 12zm0 7zm0 20zm0 7zm1 5zm0-13zm0-8zm0-4zm0-5zm0-3zm0-9zm0-4zm0-6zm0-2zm1-11zm0 7zm0 6zm0 19zm0 8zm0 3zm0 17zm0 2zm1 6zm0-15zm0-4zm0-4zm0-4zm0-10zm1-16zm0 5zm0 5zm0 9zm0 5zm0 22zm1 8zm0-3zm0-6zm0-6zm0-36zm0-1zm0-7zm1-3zm0 4zm0 14zm0 12zm0 4zm0 5zm0 7zm0 7zm1 16zm0-32zm0-4zm0-17zm0-7zm0-1zm0-4zm1-11zm0 7zm0 6zm0 4zm0 8zm0 5zm0 3zm0 8zm0 17zm0 12zm1-15zm0-18zm0-12zm0-21zm1 1zm0 7zm0 27zm0 1zm0 3zm0 2zm0 3zm0 1zm0 6zm1 32zm0-27zm0-35zm0-15zm1-14zm0 21zm0 2zm0 10zm0 17zm0 10zm0 14zm1 13zm0-15zm0-7zm0-6zm0-15zm0-6zm0-4zm0-1zm0-16zm0-1zm0-3zm1 11zm0 2zm0 13zm0 8zm0 9zm0 28zm1-1zm0-25zm0-6zm0-39zm1-4zm0 2zm0 12zm0 7zm0 13zm1 16zm0-3zm0-7zm0-10zm0-1zm0-2zm0-22zm1 5zm0 3zm0 12zm0 29zm0 13zm0 16zm1-23zm0-1zm0-5zm0-24zm0-6zm0-9zm0-4zm0-4zm0-2zm1 36zm0 18zm1 2zm0-6zm0-1zm0-1zm0-7zm0-20zm0-19zm1 7zm0 4zm0 12zm0 8zm0 15zm1 7zm0-1zm0-7zm0-12zm0-10zm0-11zm0-10zm1 0zm0 39zm0 3zm0 6zm0 10zm0 7zm1 9zm0-24zm0-13zm0-3zm0-12zm0-16zm1-7zm0 6zm0 12zm0 4zm0 6zm0 11zm0 10zm1 9zm0-4zm0-7zm0-4zm0-13zm0-24zm0-3zm1-1zm0 5zm0 22zm0 2zm0 2zm0 5zm0 13zm1-1zm0-10zm0-5zm0-25zm0-1zm0-6zm1-12zm0 23zm0 5zm0 14zm0 10zm0 28zm1-27zm0-26zm0-4zm0-1zm0-6zm0-6zm1-7zm0 23zm0 1zm0 3zm0 8zm0 9zm0 12zm0 2zm1-5zm0-1zm0-6zm0-7zm0-6zm0-6zm0-4zm0-1zm0-5zm0-1zm1 0zm0 15zm0 27zm0 14zm1 0zm0-36zm0-10zm0-1zm0-1zm1-15zm0 6zm0 26zm1 24zm0-14zm0-30zm1-12zm0 11zm0 12zm0 6zm0 6zm0 4zm0 8zm1 2zm0-3zm0-7zm0-4zm0-7zm0-2zm0-30zm0-3zm0-3zm0-6zm1 17zm0 6zm0 9zm0 14zm0 7zm1 28zm0-11zm0-38zm0-3zm1-16zm0 7zm0 4zm0 17zm0 5zm0 3zm0 4zm1 4zm0-15zm1-6zm0 5zm0 1zm0 17zm1 6zm0-4zm0-7zm0-18zm0-13zm1-4zm0 2zm0 15zm0 14zm1-1zm0-3zm0-21zm0-1zm0-2zm0-2zm1-3zm0 8zm0 1zm0 2zm0 12zm0 14zm1 40zm0-49zm0-11zm1-16zm0 1zm0 11zm0 11zm0 6zm0 12zm0 1zm0 2zm0 3zm1-10zm0-6zm0-7zm0-1zm0-14zm1-20zm0 11zm0 2zm0 13zm1 22zm0-10zm0-4zm0-2zm0-2zm0-9zm0-10zm0-12zm0-5zm1 31zm0 1zm0 12zm0 2zm0 4zm0 4zm1 1zm0-31zm0-5zm1 14zm0 6zm0 1zm0 5zm0 3zm0 11zm0 5zm0 1zm1-19zm0-19zm0-2zm0-10zm1-5zm0 41zm0 2zm0 5zm0 4zm0 7zm0 12zm1 0zm0-29zm0-19zm0-11zm1-18zm0 19zm0 5zm0 14zm0 1zm1 24zm0-10zm0-20zm0-10zm0-2zm0-20zm1 18zm0 3zm0 6zm0 5zm0 2zm0 12zm0 9zm0 11zm1-24zm0-12zm0-1zm0-11zm1-7zm0 22zm0 4zm0 8zm0 29zm1-16zm0-3zm0-4zm0-19zm0-5zm0-10zm1 0zm0 11zm0 8zm0 2zm0 3zm0 3zm0 15zm0 4zm1-12zm0-6zm0-18zm0-7zm0-4zm1 3zm0 14zm0 14zm0 5zm0 2zm0 2zm0 2zm0 1zm2 11zm0-11zm0-5zm0-3zm0-24zm0-7zm1-1zm0 8zm0 26zm0 6zm0 15zm1-15zm0-6zm0-15zm1-20zm0 14zm0 1zm0 2zm0 5zm0 11zm0 19zm1-1zm0-13zm0-2zm0-11zm0-5zm1-19zm0 28zm0 5zm1 9zm0-6zm0-9zm0-15zm0-9zm1-2zm1 45zm0-6zm0-3zm0-1zm0-6zm0-4zm0-19zm0-14zm1 15zm0 3zm0 13zm0 6zm0 5zm0 2zm0 8zm1 13zm0-12zm0-14zm0-4zm0-25zm0-4zm1 32zm0 10zm1 14zm0-20zm0-17zm1-15zm0 2zm0 28zm1 12zm0-3zm0-18zm1-43zm0 18zm0 18zm0 4zm0 3zm0 6zm0 5zm0 2zm0 3zm0 2zm1 1zm0-1zm0-8zm0-24zm0-2zm0-9zm1 5zm0 7zm0 31zm1-12zm0-19zm0-5zm1-16zm0 1zm0 12zm0 15zm0 6zm0 2zm0 26zm1-10zm0-24zm0-2zm0-8zm0-12zm1 15zm0 8zm0 1zm0 1zm0 17zm0 2zm1 7zm0-11zm0-5zm0-9zm0-10zm1 2zm0 14zm0 5zm0 10zm1 7zm0-10zm1-37zm0 8zm0 18zm0 1zm0 7zm0 6zm0 7zm1-13zm0-13zm0-13zm0-8zm1 1zm0 5zm0 2zm0 8zm0 13zm0 4zm1 2zm0-13zm0-3zm0-3zm0-3zm0-10zm1-4zm0 28zm0 7zm0 5zm0 3zm1-12zm0-1zm0-16zm0-4zm0-6zm1-17zm0 14zm0 1zm0 12zm0 4zm0 3zm0 15zm1 4zm0-21zm0-33zm1-3zm0 26zm0 16zm0 3zm0 1zm0 3zm1 29zm0-27zm0-7zm0-2zm0-9zm1 0zm0 7zm0 2zm0 7zm1 30zm0-7zm0-14zm0-11zm1 1zm1 14zm0-5zm0-6zm0-2zm0-32zm1 13zm0 8zm0 16zm0 4zm1-15zm0-24zm1 7zm0 8zm0 3zm0 4zm1 7zm1-34zm0 15zm1 24zm1-1zm1 3zm0-12zm0-5zm0-11zm0-21zm1 13zm0 9zm0 2zm0 13zm0 5zm1 9zm0-17zm0-1zm0-7zm0-9zm0-2zm1 2zm0 3zm0 1zm0 2zm0 4zm0 5zm0 6zm0 13zm1-12zm0-2zm0-3zm0-8zm0-2zm0-13zm1 26zm0 5zm1 2zm0-1zm0-23zm0-6zm1 14zm0 36zm1-10zm0-20zm0-1zm0-20zm0-2zm1 3zm0 1zm0 2zm0 1zm0 7zm0 7zm0 4zm0 2zm0 2zm0 8zm0 5zm1 13zm0-47zm1 14zm0 19zm0 2zm0 2zm0 13zm1 0zm0-36zm0-3zm1-21zm0 19zm0 10zm0 8zm0 14zm1-10zm0-5zm0-7zm0-4zm0-6zm0-3zm0-10zm1 13zm0 3zm0 13zm0 16zm1 0zm0-9zm0-20zm0-5zm1-4zm0 4zm0 6zm1 38zm0-27zm0-11zm0-4zm0-5zm0-6zm1 8zm1 26zm0-10zm0-13zm0-7zm0-3zm1-2zm0 10zm0 2zm0 11zm0 9zm1 30zm0-34zm0-26zm0-2zm1 14zm0 1zm0 19zm1 1zm0-2zm0-22zm0-1zm1-5zm0 17zm0 12zm1 4zm0-7zm0-2zm0-6zm0-5zm0-8zm0-3zm0-1zm0-8zm0-3zm1 4zm0 1zm0 23zm0 5zm1 10zm0-3zm0-30zm0-5zm0-11zm1 12zm0 16zm0 17zm1 8zm0-1zm0-11zm0-15zm0-1zm0-4zm0-8zm0-6zm1 5zm0 13zm0 3zm0 2zm0 4zm0 11zm0 6zm1-7zm0-6zm0-4zm0-4zm0-10zm0-3zm1-5zm0 7zm0 6zm0 3zm0 17zm0 5zm0 17zm1 2zm0-41zm0-8zm0-4zm1 11zm0 8zm1 21zm0-8zm0-3zm0-42zm1 8zm0 11zm0 7zm0 7zm0 1zm1-14zm0-2zm0-5zm0-3zm1-3zm0 2zm0 18zm0 15zm1 13zm0-34zm0-12zm1 16zm0 2zm0 2zm0 1zm0 1zm0 5zm0 1zm0 4zm1-32zm1-2zm0 2zm0 1zm0 1zm0 1zm0 10zm0 2zm0 5zm0 4zm0 1zm0 2zm0 1zm1 2zm0-8zm0-11zm0-10zm1 4zm0 7zm1 26zm0-7zm0-5zm0-1zm0-22zm1 3zm0 21zm1 4zm0-17zm0-13zm1-7zm0 5zm0 19zm1 10zm0-2zm0-6zm0-18zm1 16zm0 1zm0 2zm0 6zm0 7zm1-28zm1-5zm0 21zm0 2zm0 34zm1-26zm0-4zm0-8zm0-5zm0-4zm0-8zm1-6zm0 14zm0 26zm0 3zm1-3zm0-3zm0-16zm0-3zm0-8zm0-4zm1-2zm0 8zm0 14zm0 1zm0 34zm1-22zm0-2zm0-5zm0-19zm0-3zm1 24zm1 0zm0-3zm0-12zm0-10zm0-2zm1-4zm0 48zm1-14zm0-6zm0-18zm1 29zm1 12zm0-20zm0-8zm1-26zm0 3zm0 26zm0 6zm0 18zm1-33zm0-1zm1-24zm0 21zm0 9zm1 25zm0-15zm0-2zm0-4zm0-15zm0-1zm0-4zm0-8zm2 22zm0 3zm1-5zm0-15zm1-5zm0 13zm0 4zm0 9zm1 19zm0-14zm0-8zm1-14zm0 4zm0 5zm0 4zm0 3zm0 4zm1 13zm0-10zm0-4zm0-1zm1-17zm0 3zm0 14zm1 8zm0-13zm0-2zm0-13zm1-1zm0 19zm0 6zm0 7zm1-4zm0-2zm0-13zm1-10zm0 4zm0 7zm0 14zm1-25zm1 6zm0 36zm1-19zm0-4zm0-15zm1-7zm0 4zm0 5zm0 17zm0 17zm0 11zm1 1zm0-21zm0-9zm0-5zm0-5zm0-11zm1 10zm0 12zm0 23zm1-34zm0-10zm0-2zm1-5zm0 27zm0 2zm1 5zm0-6zm0-12zm0-17zm1 6zm1 10zm0-11zm1 0zm0 2zm0 5zm0 6zm0 1zm0 9zm0 30zm1-5zm0-36zm0-7zm0-2zm0-2zm0-1zm1 0zm0 3zm0 15zm0 1zm0 6zm1 14zm0-22zm0-4zm0-3zm0-6zm0-19zm1 25zm0 10zm1-12zm0-4zm1-4zm0 7zm0 2zm0 9zm1 6zm0-16zm1-2zm0 3zm0 1zm0 1zm0 2zm1 9zm0-13zm0-5zm0-1zm1 4zm0 3zm0 13zm1 25zm0-19zm0-25zm0-5zm1 8zm0 6zm1 25zm0-23zm1-25zm0 10zm0 22zm0 23zm1 0zm1-41zm0 15zm0 4zm1-3zm0-7zm0-3zm0-8zm0-5zm1 6zm0 2zm1 16zm0-14zm0-7zm1 7zm0 7zm0 2zm1-2zm0-5zm0-2zm1-17zm0 29zm0 20zm2-16zm0-11zm0-5zm1-3zm0 11zm0 20zm0 7zm1-31zm1 2zm0 1zm2 2zm0-3zm0-6zm1-3zm0 3zm0 32zm2-9zm0-12zm0-4zm0-2zm0-3zm0-6zm1 5zm0 1zm0 4zm0 2zm0 5zm1-8zm0-4zm0-1zm1 13zm1-4zm0-11zm1 14zm0 15zm0 1zm1-23zm0-4zm1 13zm2-1zm0-1zm0-10zm1 1zm1 9zm0-2zm0-5zm1 5zm1 3zm0-10zm1 1zm0 5zm2 3zm1 3zm2-8zm1 2zm0 3zm1 3zm0-3zm2 4zm1 2zm0-5zm2-1zm1 5zm1-6zm0 1zm1 1zm0-1z" stroke="#a6dff4" stroke-width="4.5" stroke-linecap="round" fill="none"/><path d="M616 1037zm0 21zm2-17zm1 7zm6 16zm1-23zm1 21zm1-18zm7 15zm0-12zm0-7zm1 20zm1-10zm1 12zm1 19zm0-21zm0-12zm3 18zm1 14zm0-29zm1 3zm0 1zm0 7zm3-6zm0-10zm5 20zm3 5zm0-10zm0-1zm2-6zm2 12zm0-4zm2-12zm0 18zm1-6zm1 38zm2-26zm0-22zm4 26zm1 13zm3 6zm1-9zm3-24zm1 20zm2 4zm3 8zm1-27zm1 16zm1-20zm0 36zm1-19zm0-14zm2 14zm4 0zm0-4zm1 14zm0 5zm2-11zm0-3zm0-6zm3 39zm2-10zm0-13zm1-7zm5 33zm1-13zm2 11zm0-28zm3 9zm0 35zm1-50zm0-3zm2 15zm0 4zm1 0zm0-7zm3 26zm2-16zm1-20zm2 31zm4-29zm3 23zm1-2zm2 24zm2-20zm3-23zm3 18zm0 2zm4-18zm0-7zm1 0zm2 16zm0-6zm2-10zm1 46zm0-37zm1 51zm3-53zm1 27zm2 29zm0-30zm0-12zm0-4zm1-13zm0 4zm3 44zm0-42zm3 28zm1 1zm0-10zm1 9zm5-34zm3-1zm3 26zm0-22zm1 24zm1 5zm0-6zm1-25zm1 37zm0-12zm3 7zm1 33zm1-53zm0 26zm2-3zm0-13zm2 5zm1-22zm6 18zm1 17zm0-5zm1-16zm0 22zm0 6zm1-11zm0-5zm1-12zm0 11zm1 7zm0-21zm1 24zm0 8zm2 18zm0-50zm1 32zm1-21zm2-19zm0 16zm0 1zm1-12zm1 7zm1 22zm0-13zm0-16zm2 20zm1-20zm1 12zm1-7zm1 21zm0 11zm1-23zm0-3zm1-2zm3-13zm6 12zm0 12zm1-14zm1-8zm0 29zm2-13zm1-12zm4 13zm1 10zm3 6zm1-7zm0 1zm0 9zm1-8zm0-1zm1-8zm1 3zm4-12zm0 13zm1 8zm3-27zm1 11zm1 3zm0 8zm0 15zm1-20zm1 4zm4 7zm1 9zm1 3zm0-12zm2-12zm0 19zm3-17zm2-3zm1 10zm2-11zm2 14zm3-6zm3-1zm1-9zm0 8zm6 9zm3 1zm0 1zm1 6zm0-19zm0-2zm0-4zm2 21zm1-21zm4 9zm2 4zm5 7zm0 1zm2 2zm2-14zm2-12zm2 6zm6 10zm1 15zm1-18zm3 13zm2-8zm5-9zm4 5zm1-9zm12 18zm1-1zm1 2z" stroke="#f1c690" stroke-width="4.5" stroke-linecap="round" fill="none"/>
<path d="M611.4 902.5V1212.9M656.6 902.5V1212.9M701.8 902.5V1212.9M747 902.5V1212.9M792.2 902.5V1212.9M837.4 902.5V1212.9M882.6 902.5V1212.9M927.8 902.5V1212.9M973 902.5V1212.9M1018.2 902.5V1212.9" stroke="#c2c2c2" stroke-width="1.3" stroke-dasharray="4 4.3" fill="none"/>
<path d="M614.2 1096.2 983.1 1153.9" fill="none" stroke="#000" stroke-width="2.0" stroke-linejoin="round" stroke-dasharray="9 5.5"/>
<path d="M614.2 1042 983.1 1173.8" fill="none" stroke="#000" stroke-width="2.1" stroke-linejoin="round"/>
<path d="M615.2 1002.9 619.4 1014.1 624.7 1026.3 629.9 1036.8 636.9 1045.5 643.9 1049.7 654.4 1052.5 661.4 1059.5 671.9 1066.5 682.4 1073.5 692.9 1078.7 703.4 1082.9 713.8 1087.5 724.3 1094.5 734.8 1098 745.3 1102.5 755.8 1105 766.3 1110.2 776.8 1114.4 787.3 1117.9 797.8 1117.2 808.3 1120.7 822.2 1124.2 839.7 1125.9 857.2 1127.7 874.7 1129.4 892.2 1130.5 909.7 1132.2 920.1 1133.6 930.6 1132.9 941.1 1136.4 955.1 1136.4 965.6 1139.9 983.1 1143.4" fill="none" stroke="#a232f2" stroke-width="2.0" stroke-linejoin="round"/>
<path d="M615.9 1069.3 621.2 1085.7 628.2 1098 636.9 1103.2 645.7 1099.7 654.4 1096.9 661.4 1100.8 671.9 1106.7 680.6 1110.9 692.9 1108.5 701.6 1106.7 710.3 1117.2 717.3 1125.9 722.6 1131.2 731.3 1127.7 741.8 1119 750.6 1116.5 759.3 1121.4 769.8 1129.4 776.8 1127.7 787.3 1119.7 794.3 1120.7 804.8 1131.2 813.5 1135.7 825.7 1131.9 838 1127.7 846.7 1129.4 857.2 1134.7 867.7 1138.2 878.2 1135.7 888.7 1133.6 899.2 1136.4 909.7 1143.4 920.1 1139.9 930.6 1136.4 941.1 1138.2 955.1 1136.4 965.6 1139.9 983.1 1143.4" fill="none" stroke="#f01a1a" stroke-width="2.4" stroke-linejoin="round"/>
<path d="M591.5 898.5V1212.9H1038" stroke="#222" stroke-width="1.1" fill="none"/><path d="M591.5 909.7h-3.5M591.5 981.6h-3.5M591.5 1053.7h-3.5M591.5 1125.6h-3.5M591.5 1198.2h-3.5M611.4 1212.9v3.5M656.6 1212.9v3.5M701.8 1212.9v3.5M747 1212.9v3.5M792.2 1212.9v3.5M837.4 1212.9v3.5M882.6 1212.9v3.5M927.8 1212.9v3.5M973 1212.9v3.5M1018.2 1212.9v3.5" stroke="#222" stroke-width="1" fill="none"/>
<rect x="592.2" y="840" width="461.7" height="49.3" rx="3" fill="#000"/><rect x="599.6" y="847.4" width="446.9" height="34.5" fill="#8f8b5a"/><text x="823.1" y="879.5" font-size="39.1" text-anchor="middle" >H43</text>
<path d="M1079 1008zm1 41zm0-22zm0-13zm0-8zm0-4zm0-24zm0-2zm1 17zm0 2zm0 5zm1 53zm0-5zm0-3zm0-18zm0-6zm0-10zm0-27zm0-9zm1 59zm0 23zm0 16zm1-30zm0-17zm0-4zm0-3zm0-8zm0-9zm1 9zm0 25zm0 8zm0 4zm0 6zm0 1zm0 4zm0 10zm0 2zm1 8zm0-41zm1-41zm0 9zm0 2zm0 32zm0 8zm0 8zm0 29zm1-34zm0-43zm0-13zm1 1zm0 1zm0 3zm0 2zm0 5zm0 3zm0 13zm0 2zm0 2zm0 22zm0 15zm1 21zm0-24zm0-19zm0-4zm0-7zm0-15zm1 9zm0 26zm0 6zm1 11zm0-3zm0-1zm0-6zm0-36zm0-8zm0-1zm1 1zm1 50zm1-59zm0 34zm0 26zm0 30zm1-30zm0-24zm0-28zm0-9zm1 32zm0 26zm1 17zm0-41zm1-22zm0 17zm0 14zm0 9zm0 6zm0 9zm0 23zm1-40zm0-25zm0-10zm0-19zm1 9zm0 11zm0 21zm1 20zm0-20zm0-6zm0-1zm0-6zm0-16zm1-2zm0 15zm0 3zm0 1zm0 17zm0 2zm0 11zm1-15zm0-34zm1 23zm0 64zm1-5zm0-56zm0-9zm0-10zm1-2zm0 7zm0 7zm0 6zm0 27zm0 1zm1 11zm0-3zm0-1zm0-30zm0-1zm0-19zm1-5zm0 28zm0 9zm1 20zm0-1zm0-16zm0-4zm0-34zm1 8zm0 12zm0 2zm0 12zm0 14zm1 29zm0-24zm0-58zm1 1zm0 23zm0 21zm0 22zm0 1zm1 22zm0-10zm0-4zm0-16zm0-11zm0-11zm0-26zm1 12zm0 5zm0 27zm1 18zm0-5zm0-6zm0-35zm0-6zm0-10zm1 1zm0 3zm0 29zm0 19zm0 2zm0 5zm1-8zm0-51zm0-6zm1 2zm0 13zm0 2zm0 14zm0 9zm0 8zm1-12zm0-3zm0-5zm0-15zm0-6zm1-1zm0 21zm0 19zm0 18zm0 4zm1-8zm0-8zm0-2zm0-17zm0-19zm2-7zm0 35zm0 18zm0 7zm0 17zm1-19zm0-46zm0-15zm1 27zm0 6zm0 16zm0 3zm0 7zm1 30zm0-75zm0-8zm0-13zm1 27zm1 38zm0-24zm0-10zm0-28zm1 16zm0 1zm0 26zm0 11zm0 6zm1 9zm1-73zm0 28zm0 17zm0 36zm1-10zm0-5zm0-26zm1-22zm0 45zm0 26zm1-36zm0-9zm0-27zm1 58zm1-16zm0-1zm0-7zm0-28zm1-4zm0 1zm0 2zm0 45zm0 16zm1 1zm0-9zm0-8zm0-22zm0-9zm0-7zm0-6zm0-4zm1 2zm0 34zm0 17zm0 2zm0 4zm0 6zm1-1zm0-1zm0-11zm0-15zm0-14zm0-13zm0-1zm1 15zm0 25zm0 2zm0 1zm0 15zm1 3zm0-12zm0-1zm0-28zm0-12zm0-2zm1-8zm0 23zm0 9zm0 4zm0 10zm0 3zm0 6zm0 18zm1-15zm0-8zm0-11zm0-14zm0-29zm0-15zm1 17zm0 7zm0 38zm0 5zm0 22zm1-17zm0-18zm0-30zm0-8zm0-18zm1 55zm1 41zm0-31zm0-8zm0-26zm0-8zm0-6zm1 10zm0 22zm0 9zm0 6zm0 1zm0 2zm0 20zm1-8zm0-9zm0-13zm0-1zm0-18zm0-14zm1 23zm0 20zm0 10zm0 3zm0 17zm1-9zm0-28zm0-5zm0-6zm0-8zm0-3zm1-11zm0 30zm0 5zm1 43zm0-18zm0-1zm0-6zm0-7zm0-6zm0-54zm1 17zm1 57zm0-11zm0-6zm0-12zm0-6zm0-1zm0-2zm1 33zm0 1zm0 24zm1-46zm0-7zm1-17zm0 3zm0 6zm0 3zm0 20zm0 13zm0 6zm0 3zm1 3zm0-14zm0-7zm0-1zm0-3zm0-17zm0-4zm0-21zm1 5zm0 6zm0 3zm0 30zm0 2zm1 12zm0-13zm0-14zm0-2zm0-10zm1-6zm0 17zm0 7zm0 8zm0 5zm0 7zm0 9zm1-46zm0-7zm0-5zm0-2zm0-1zm1-13zm0 15zm0 20zm0 8zm0 14zm1-18zm0-24zm1 2zm0 1zm0 14zm1 9zm0-14zm0-18zm1 35zm0 26zm0 7zm0 2zm1 1zm0-7zm0-32zm1 11zm0 13zm0 7zm1-3zm0-11zm0-45zm1 26zm0 1zm1 38zm0-21zm0-6zm0-9zm0-4zm0-14zm1-8zm1 54zm0-1zm0-13zm0-10zm0-15zm0-9zm1 0zm0 2zm0 16zm0 28zm0 14zm1-22zm0-33zm1 6zm0 11zm0 15zm0 8zm0 26zm1-33zm1-31zm0 16zm0 21zm0 7zm0 5zm0 5zm0 1zm0 2zm1-7zm0-11zm0-27zm0-7zm0-1zm1-5zm0 15zm0 18zm1 26zm0-7zm1-52zm0 11zm0 20zm0 25zm1-13zm0-1zm0-6zm0-22zm1-14zm0 52zm0 5zm1-1zm1-45zm0 4zm0 13zm0 12zm0 4zm0 6zm0 8zm1 3zm0-12zm0-26zm0-5zm0-12zm1 15zm1 23zm0-4zm0-3zm0-2zm0-35zm1 3zm0 25zm1-24zm1 8zm0 3zm0 34zm1-6zm1-38zm0 1zm0 1zm0 25zm0 18zm0 10zm1-3zm0-3zm0-25zm0-4zm0-16zm1 19zm0 27zm1 5zm0-16zm0-3zm0-18zm0-11zm0-2zm0-2zm1 26zm1 23zm0-29zm0-4zm1 20zm0 6zm0 11zm1 10zm0-9zm0-14zm0-6zm0-1zm0-37zm1 9zm0 5zm0 22zm1-12zm1-17zm0 4zm0 9zm0 6zm0 30zm1-2zm0-10zm0-7zm1-31zm0 1zm0 4zm0 22zm0 26zm1-3zm0-15zm0-26zm0-19zm1 9zm0 36zm1 23zm0-6zm0-16zm0-4zm1 24zm1-26zm0-24zm0-8zm1 14zm0 29zm0 13zm1-2zm0-15zm0-12zm0-29zm1 17zm0 3zm0 12zm0 8zm1 11zm0-6zm1-26zm0 27zm1 7zm0-35zm0-7zm0-1zm1 23zm0 2zm0 2zm0 6zm0 10zm0 1zm1 7zm0-13zm0-8zm0-1zm0-1zm1-16zm0 33zm1 13zm0-8zm0-16zm0-17zm1-14zm0 2zm0 8zm0 20zm0 11zm1 2zm0-28zm0-5zm0-1zm1-9zm0 15zm0 1zm1 27zm0-2zm0-5zm0-3zm0-21zm1-13zm0 44zm0 2zm1-2zm1-40zm0 3zm0 11zm0 27zm1 1zm0-23zm0-1zm0-6zm1 0zm0 26zm1-6zm0-10zm0-5zm0-3zm0-12zm1 26zm0 4zm0 5zm1 15zm0-58zm1 39zm1 18zm0-8zm0-26zm0-4zm1-14zm0 21zm0 23zm1-9zm0-16zm0-14zm0-6zm1-5zm0 13zm0 1zm0 15zm2 27zm0-3zm0-9zm0-3zm0-11zm0-13zm0-1zm1 25zm1-25zm0-2zm0-3zm1 11zm0 5zm0 17zm1 7zm0-8zm0-9zm0-15zm1-4zm0 1zm0 23zm0 13zm1 5zm0-2zm0-32zm0-1zm0-2zm1 28zm1-29zm0-10zm1 2zm0 9zm0 29zm0 2zm1-8zm0-20zm0-8zm1 1zm0 1zm0 18zm1-10zm0-4zm0-6zm1 5zm0 30zm1 3zm0-3zm2-33zm0 5zm0 21zm0 5zm1-5zm0-1zm0-1zm0-1zm1-11zm0 7zm1-12zm1-2zm0 9zm1-7zm1 7zm0 5zm1 19zm0-14zm0-5zm0-7zm0-7zm1 20zm0 7zm1-2zm0-32zm1 4zm0 14zm0 6zm0 1zm1 1zm0-5zm0-7zm1 5zm0 4zm0 22zm1-13zm0-7zm0-3zm0-8zm0-5zm1-6zm0 9zm0 13zm1 12zm0-1zm0-21zm0-1zm0-8zm1 4zm0 3zm1 18zm1-24zm0 1zm0 2zm0 8zm0 12zm0 8zm0 2zm1-4zm0-8zm1-21zm0 4zm1 29zm1-31zm0 15zm1 13zm0-1zm0-2zm0-23zm1 5zm0 17zm1 8zm0-35zm1 24zm0 15zm0 2zm1 1zm0-8zm0-8zm0-13zm0-9zm1 21zm0 11zm1 3zm1-30zm0 2zm0 19zm0 6zm1-1zm0-6zm0-15zm1-14zm0 16zm0 11zm1 12zm0-13zm1-5zm0 15zm1-16zm0-8zm0-4zm1-1zm0 8zm0 13zm1 18zm0-16zm0-1zm0-5zm1 5zm1 15zm0-10zm1-33zm0 6zm0 4zm0 16zm0 17zm1-21zm0-4zm0-11zm1-8zm0 9zm0 8zm0 16zm1 5zm0-5zm1-19zm0 1zm0 1zm0 10zm0 6zm0 4zm1 5zm0-19zm0-13zm0-5zm1 23zm0 7zm0 2zm1 1zm0-3zm0-33zm1 13zm2 20zm0-18zm0-3zm0-2zm1 10zm1 11zm0-2zm0-19zm1-2zm0 8zm0 10zm0 8zm0 1zm0 1zm1-4zm0-1zm0-8zm0-13zm1 2zm0 1zm0 24zm1-13zm1 7zm0 5zm0 1zm1-11zm0-6zm0-1zm0-11zm1 0zm0 1zm0 3zm0 25zm1-15zm0-13zm1 21zm0 3zm0 2zm2 0zm0-1zm0-3zm0-2zm0-7zm0-20zm1 29zm1 1zm0-16zm1 17zm1-17zm0-5zm1 13zm0 18zm1-27zm1 22zm1-7zm0-2zm0-9zm0-3zm0-1zm1-1zm0 11zm0 11zm0 9zm1-22zm0-4zm0-1zm1 8zm1 12zm0-11zm0-2zm0-9zm1-2zm1-1zm0-2zm1-1zm0 4zm0 5zm0 19zm0 5zm1-4zm0-5zm0-9zm0-5zm0-1zm0-6zm1 22zm1-9zm0-6zm0-1zm1-2zm0 17zm0 7zm1-35zm1 0zm0 7zm2 6zm0-6zm0-5zm0-1zm1 24zm0 4zm1-8zm0-20zm1 9zm0 9zm0 10zm1 2zm0-8zm0-6zm1 13zm2-5zm1-15zm0 13zm2 6zm0-21zm2-1zm0 6zm0 5zm0 12zm1 4zm0-5zm0-10zm0-3zm2-8zm0 12zm2 3zm1-6zm1 3zm0-11zm1 5zm1 8zm0-3zm0-3zm0-1zm0-11zm1 26zm1-2zm0-14zm1-2zm0 13zm1 2zm1-11zm0 1zm0 12zm0 4zm2-4zm0-1zm0-10zm0-6zm0-1zm1 18zm2 1zm0-15zm2 17zm1 0zm0-4zm0-4zm0-15zm1 21zm1-11zm1-6zm0 15zm1-10zm1-16zm0 10zm0 1zm0 1zm0 2zm1 14zm0-6zm1-23zm0 13zm0 11zm1-11zm1 13zm1-5zm0-9zm0-1zm1 0zm0 5zm0 8zm0 3zm2-1zm0-2zm4-16zm0 15zm1 2zm0-10zm1 5zm0 8zm1-20zm1 13zm0 2zm2 10zm1-17zm0 5zm1-4zm1 5zm5-1zm1-7zm0 7zm1-3zm0-1zm1 7zm0 2zm0 3zm1-11zm0-4zm3 5zm0 4zm0 2zm2-2zm2 15zm1-18z" stroke="#f1c690" stroke-width="4.5" stroke-linecap="round" fill="none"/><path d="M1079 1099zm0 9zm0 17zm0 11zm1 49zm0-31zm0-28zm0-6zm0-3zm0-20zm0-4zm0-2zm0-4zm0-5zm0-14zm0-12zm0-12zm1 11zm0 6zm0 8zm0 14zm0 3zm0 4zm0 11zm0 20zm0 74zm0 1zm1-63zm0-15zm0-18zm0-2zm0-8zm0-12zm0-6zm0-4zm0-8zm0-14zm0-15zm1 4zm0 24zm0 14zm0 1zm0 8zm0 14zm0 74zm1 4zm0-53zm0-19zm0-17zm0-3zm0-26zm0-10zm0-14zm1 12zm0 6zm0 6zm0 11zm0 16zm0 3zm0 37zm0 5zm0 26zm1 32zm0-29zm0-11zm0-10zm0-31zm0-2zm0-8zm0-49zm0-1zm1 0zm0 1zm0 4zm0 12zm0 4zm0 6zm0 12zm0 16zm0 2zm0 3zm0 19zm0 52zm1-25zm0-5zm0-15zm0-2zm0-3zm0-12zm0-8zm0-19zm0-7zm0-20zm0-9zm1-2zm0 3zm0 20zm0 19zm0 27zm0 21zm0 42zm1 11zm0-47zm0-8zm0-28zm0-6zm0-6zm0-3zm0-10zm0-9zm0-1zm0-2zm1-35zm0 7zm0 4zm0 13zm0 7zm0 3zm0 30zm0 3zm0 1zm0 17zm0 25zm0 29zm0 6zm1-40zm0-10zm0-1zm0-25zm0-37zm0-19zm0-12zm1 17zm0 6zm0 5zm0 2zm0 9zm0 8zm0 9zm1 41zm0-53zm0-7zm0-13zm0-1zm0-3zm1 8zm0 1zm0 2zm0 12zm0 10zm0 34zm0 18zm0 42zm1 7zm0-17zm0-34zm0-8zm0-5zm0-7zm0-2zm0-8zm0-2zm0-32zm0-7zm1-8zm0 9zm0 36zm0 24zm0 27zm1 21zm0-60zm0-5zm0-10zm0-7zm0-34zm1-18zm0 21zm0 7zm0 1zm0 3zm0 7zm0 4zm0 15zm0 13zm0 7zm0 21zm1 36zm0-40zm0-7zm0-13zm0-19zm0-12zm0-16zm0-10zm1 7zm0 16zm0 2zm0 5zm0 5zm0 9zm0 40zm0 21zm1-31zm0-1zm0-2zm0-27zm0-10zm0-14zm0-5zm0-3zm0-11zm0-5zm0-2zm1 1zm0 27zm0 26zm0 12zm0 12zm0 1zm1-12zm0-1zm0-18zm0-4zm0-3zm0-5zm0-3zm0-8zm0-8zm0-14zm1 4zm0 11zm0 6zm0 4zm0 9zm0 10zm0 2zm0 3zm0 8zm0 22zm0 6zm0 1zm0 46zm1-12zm0-64zm0-39zm0-13zm0-1zm1-10zm0 4zm0 19zm0 14zm0 21zm0 16zm0 37zm1 28zm0-56zm0-10zm0-52zm1-23zm0 11zm0 38zm0 12zm0 4zm0 8zm0 4zm0 1zm0 8zm0 34zm1 26zm0-6zm0-62zm0-20zm0-4zm0-10zm0-27zm0-6zm1 5zm0 2zm0 18zm0 13zm0 22zm0 3zm0 10zm0 23zm1 12zm0-8zm0-25zm0-2zm0-2zm0-12zm0-27zm0-4zm0-5zm0-7zm0-3zm1-20zm0 10zm0 3zm0 33zm0 1zm0 1zm0 6zm0 3zm0 12zm0 13zm0 2zm0 7zm1 7zm0-22zm0-2zm0-4zm0-13zm0-1zm0-21zm0-22zm1 2zm0 31zm0 4zm0 1zm0 1zm0 5zm0 4zm1 55zm0-23zm0-11zm0-7zm0-10zm0-8zm0-3zm0-3zm0-3zm0-1zm0-8zm0-11zm0-9zm1-1zm0 3zm0 28zm0 34zm0 2zm0 2zm1-3zm0-15zm0-12zm0-17zm1-36zm0 18zm0 3zm0 13zm0 15zm0 16zm0 10zm0 9zm1 3zm0-8zm0-2zm0-21zm0-15zm0-3zm0-4zm0-11zm1-1zm0 3zm0 1zm0 12zm0 15zm0 2zm0 5zm0 28zm1 43zm0-2zm0-35zm0-7zm0-2zm0-6zm0-5zm0-17zm0-7zm0-30zm0-9zm1-3zm0 16zm0 1zm0 14zm0 12zm0 2zm0 21zm0 64zm1 0zm0-57zm0-2zm0-24zm0-4zm0-21zm0-4zm1-5zm0 2zm0 6zm0 8zm0 4zm0 6zm0 23zm0 8zm0 3zm0 1zm0 8zm0 10zm0 6zm1-24zm0-1zm0-28zm0-14zm0-5zm0-16zm0-1zm0-8zm1 6zm0 7zm0 28zm0 4zm0 3zm0 31zm0 6zm0 39zm1-22zm0-23zm0-11zm0-7zm0-8zm0-9zm0-7zm0-10zm0-4zm0-13zm1-6zm0 18zm0 1zm0 13zm0 13zm0 1zm0 4zm0 18zm0 45zm1-49zm0-19zm0-7zm0-42zm1 5zm0 12zm0 14zm0 2zm0 5zm0 20zm0 5zm0 2zm0 5zm1 21zm0-6zm0-59zm0-4zm0-12zm1-9zm0 2zm0 19zm0 17zm0 18zm0 62zm1-49zm0-3zm0-4zm0-9zm0-19zm0-15zm0-6zm0-20zm1 40zm0 3zm0 26zm0 12zm0 47zm1-42zm0-6zm0-10zm0-4zm0-1zm0-19zm0-15zm1-22zm0 31zm0 26zm0 23zm0 25zm0 8zm0 2zm1-32zm0-16zm0-2zm0-5zm0-33zm0-14zm0-4zm0-5zm0-4zm0-1zm1 1zm0 32zm0 9zm0 8zm0 5zm0 54zm1-36zm0-3zm0-2zm0-12zm0-44zm0-4zm0-6zm1 0zm0 3zm0 12zm0 9zm0 3zm0 26zm1 72zm0-4zm0-10zm0-19zm0-9zm0-4zm0-8zm0-3zm0-34zm0-8zm0-7zm0-11zm1 7zm0 4zm0 9zm0 12zm0 54zm0 18zm1-18zm0-78zm0-9zm1 7zm0 11zm0 1zm0 5zm0 3zm0 8zm0 2zm0 76zm1-47zm0-2zm0-3zm0-25zm0-9zm0-1zm0-27zm0-13zm1 15zm0 4zm0 4zm0 11zm0 24zm0 2zm0 1zm0 4zm0 1zm0 11zm1 52zm0-3zm0-61zm0-1zm0-48zm0-6zm1 2zm0 11zm0 5zm0 1zm0 4zm0 20zm0 3zm0 6zm0 6zm0 6zm0 4zm1 6zm0-5zm0-13zm0-19zm0-26zm0-17zm1 24zm0 2zm0 1zm0 7zm0 31zm0 8zm0 8zm0 3zm0 17zm0 24zm1-44zm0-6zm0-2zm0-5zm0-9zm0-19zm0-12zm0-12zm0-1zm0-4zm0-4zm1 4zm0 13zm0 36zm0 6zm0 10zm0 8zm0 26zm1-36zm0-6zm0-21zm0-10zm0-9zm0-7zm0-2zm0-11zm1 8zm0 7zm0 1zm0 3zm0 17zm0 6zm0 1zm0 21zm0 3zm0 48zm1-12zm0-24zm0-12zm0-2zm0-2zm0-16zm0-1zm0-4zm0-13zm0-2zm0-8zm0-16zm1-19zm0 10zm0 6zm0 1zm0 7zm0 6zm0 4zm0 3zm0 16zm0 6zm0 1zm0 1zm0 18zm0 3zm0 1zm0 3zm0 23zm0 22zm1-72zm0-15zm0-6zm1-16zm0 21zm0 8zm0 2zm0 3zm0 1zm0 4zm0 10zm0 65zm1-9zm0-48zm0-9zm0-10zm0-2zm0-8zm0-16zm0-2zm0-6zm1 3zm0 5zm0 13zm0 5zm0 27zm0 3zm0 6zm0 7zm0 6zm0 32zm1-31zm0-18zm0-20zm0-2zm0-2zm0-19zm0-3zm0-6zm0-10zm0-1zm0-2zm0-1zm1 4zm0 10zm0 3zm0 6zm0 4zm0 22zm0 6zm0 7zm1-5zm0-1zm0-3zm0-3zm0-6zm0-14zm0-28zm1-14zm0 33zm0 10zm0 27zm0 9zm0 5zm1-26zm0-2zm0-7zm0-7zm0-20zm0-8zm1-2zm0 3zm0 8zm0 8zm0 10zm0 5zm0 16zm0 15zm0 2zm1-3zm0-1zm0-35zm0-3zm1 3zm0 13zm0 7zm0 10zm0 16zm0 9zm0 11zm0 4zm0 11zm0 6zm0 2zm1-4zm0-51zm0-4zm0-5zm0-17zm0-6zm0-7zm0-17zm1 11zm0 25zm0 1zm0 14zm0 2zm1 55zm0-71zm0-8zm0-2zm0-16zm0-1zm0-7zm1-1zm0 10zm0 12zm0 2zm0 30zm0 1zm1 54zm0-14zm0-52zm0-3zm0-4zm0-1zm0-6zm0-2zm0-25zm1-4zm0 19zm0 8zm0 5zm0 4zm0 62zm0 9zm1 0zm0-17zm0-41zm0-14zm0-33zm0-4zm1 3zm0 15zm0 21zm0 5zm0 4zm0 1zm0 5zm0 2zm0 17zm0 18zm0 1zm0 12zm1-12zm0-31zm0-17zm0-7zm0-3zm0-1zm0-20zm0-2zm0-4zm1-5zm0 6zm0 10zm0 1zm0 55zm1-9zm0-7zm0-1zm0-9zm0-3zm0-15zm0-13zm0-8zm0-9zm1 8zm0 15zm0 5zm0 12zm0 3zm0 12zm0 8zm0 1zm0 33zm1 10zm0-38zm0-4zm0-30zm0-3zm0-1zm0-4zm0-1zm0-5zm0-1zm0-24zm1-12zm0 38zm0 3zm0 9zm0 2zm0 7zm0 10zm0 4zm0 15zm0 8zm0 11zm0 19zm1-41zm0-4zm0-1zm0-6zm0-1zm0-2zm0-24zm0-8zm0-2zm1-19zm0 14zm0 25zm0 1zm0 6zm0 2zm0 5zm0 38zm0 3zm0 4zm0 8zm0 6zm1-50zm0-6zm0-3zm0-9zm0-20zm0-13zm1-15zm0 11zm0 22zm0 11zm0 8zm0 1zm0 3zm0 36zm0 12zm0 4zm1-51zm0-4zm0-12zm1-37zm0 3zm0 7zm0 18zm0 3zm0 9zm0 9zm0 1zm0 6zm0 30zm0 2zm1 25zm0-45zm0-4zm0-21zm0-6zm0-8zm0-1zm0-10zm1-35zm0 24zm0 24zm0 21zm0 2zm0 2zm0 16zm1 15zm0-3zm0-8zm0-26zm0-15zm0-5zm0-12zm0-4zm0-10zm1-17zm0 20zm0 1zm0 2zm0 4zm0 9zm0 3zm0 8zm0 6zm1 28zm0-23zm0-7zm0-12zm0-2zm0-45zm1 32zm0 10zm0 7zm0 8zm0 8zm0 3zm0 5zm0 5zm0 7zm0 7zm1 25zm0-20zm0-17zm0-3zm0-18zm0-1zm0-10zm0-24zm1 26zm0 1zm0 40zm1 5zm0-11zm0-1zm0-8zm0-22zm0-4zm1-23zm0 2zm0 2zm0 11zm0 1zm0 5zm0 4zm0 10zm0 8zm0 10zm0 5zm0 5zm0 35zm0 1zm0 6zm1-26zm0-2zm0-19zm0-4zm0-28zm0-7zm0-11zm0-1zm0-26zm1-5zm0 29zm0 12zm0 28zm0 9zm0 34zm1-38zm0-30zm0-4zm0-3zm0-7zm0-2zm0-3zm0-12zm1 12zm0 2zm0 19zm0 4zm0 24zm0 11zm1-42zm0-13zm0-4zm1 2zm0 3zm0 26zm0 2zm0 4zm0 19zm1 38zm0-26zm0-1zm0-15zm0-3zm0-27zm0-6zm0-2zm1-11zm0 5zm0 9zm0 10zm0 2zm0 8zm1 62zm0-55zm0-8zm0-38zm1-3zm0 6zm0 5zm0 11zm0 12zm0 3zm0 10zm0 2zm0 3zm0 22zm0 33zm1-44zm0-3zm0-11zm0-4zm0-11zm0-28zm1 11zm0 7zm0 8zm0 4zm0 8zm1 0zm0-6zm0-8zm0-2zm0-12zm0-4zm0-6zm1-8zm0 15zm0 7zm0 2zm0 7zm0 7zm0 19zm0 6zm0 1zm0 44zm1-26zm0-1zm0-31zm0-27zm0-2zm0-13zm0-4zm0-26zm1 24zm0 9zm0 3zm0 21zm0 2zm0 14zm0 22zm0 23zm1 16zm0-1zm0-4zm0-39zm0-26zm0-7zm0-1zm1-27zm0 10zm0 11zm0 1zm0 23zm0 6zm0 5zm1 8zm0-15zm0-11zm0-30zm0-2zm1-9zm0 34zm0 8zm0 1zm0 31zm0 4zm0 14zm1-31zm0-1zm0-1zm0-6zm0-3zm0-2zm0-12zm0-15zm1-31zm0 22zm0 7zm0 1zm0 17zm0 15zm1 4zm0-24zm0-2zm0-1zm1-24zm0 5zm0 14zm0 4zm0 5zm0 12zm0 4zm0 2zm0 5zm1 47zm0-38zm0-4zm0-17zm1-41zm0 15zm0 4zm0 4zm0 6zm0 3zm0 5zm0 10zm0 6zm0 50zm1-48zm0-7zm0-3zm0-21zm0-3zm0-15zm1-24zm0 33zm0 13zm0 4zm0 1zm0 23zm0 45zm1-2zm0-30zm0-11zm0-6zm0-13zm0-36zm1 1zm0 7zm0 1zm0 5zm0 2zm0 6zm0 6zm0 1zm0 3zm0 3zm0 10zm0 1zm0 6zm0 16zm0 11zm0 9zm0 5zm1 7zm0-46zm0-11zm0-7zm0-4zm0-15zm0-4zm0-7zm0-23zm1 27zm0 1zm0 9zm0 10zm0 4zm0 2zm0 6zm0 17zm1 26zm0-30zm0-6zm0-2zm0-2zm0-3zm0-3zm0-8zm0-18zm0-1zm0-5zm1-19zm0 16zm0 5zm0 6zm0 11zm0 13zm0 10zm0 4zm0 1zm1 9zm0-8zm0-5zm0-4zm0-9zm0-2zm0-3zm0-1zm0-25zm1-2zm0 27zm0 6zm0 11zm0 24zm1-15zm0-2zm0-17zm0-10zm0-7zm0-7zm0-7zm0-3zm0-2zm0-1zm1 1zm0 6zm0 38zm0 32zm1 21zm0-3zm0-40zm0-1zm0-8zm0-1zm0-1zm0-4zm0-26zm0-12zm1 4zm0 10zm0 9zm0 5zm0 19zm0 5zm0 1zm0 8zm0 16zm1-23zm0-2zm0-11zm0-8zm0-30zm1-13zm0 8zm0 2zm0 4zm0 4zm0 4zm0 44zm0 8zm0 4zm0 31zm1-42zm0-12zm0-2zm0-1zm0-21zm0-4zm0-10zm0-8zm0-2zm0-1zm1 10zm0 10zm1 53zm0-16zm0-10zm0-6zm0-1zm0-4zm0-16zm0-25zm1 18zm0 6zm0 16zm0 20zm0 10zm1 13zm0-25zm0-47zm1-1zm0 1zm0 12zm0 7zm0 4zm0 18zm0 15zm0 38zm0 1zm1-1zm0-48zm0-4zm0-2zm0-14zm0-21zm0-6zm1 2zm0 4zm0 8zm0 3zm0 7zm0 8zm0 15zm1 8zm0-4zm0-1zm0-3zm0-18zm0-20zm0-1zm0-4zm0-11zm1 6zm0 25zm0 16zm0 6zm0 51zm1-50zm0-6zm0-3zm0-8zm0-5zm0-14zm0-6zm0-3zm1 4zm0 8zm0 34zm0 7zm1 12zm0-11zm0-17zm0-5zm0-1zm0-13zm0-16zm1 2zm0 12zm0 4zm0 4zm0 7zm0 4zm0 14zm0 3zm1 38zm0-19zm0-15zm0-7zm0-7zm0-8zm0-2zm0-28zm1-24zm0 12zm0 35zm0 24zm1 8zm0-9zm0-28zm0-1zm0-4zm0-4zm0-8zm0-5zm0-10zm1 10zm0 19zm0 2zm0 18zm1-14zm0-2zm0-10zm1 6zm0 4zm0 6zm0 7zm0 5zm0 8zm0 3zm1 6zm0-12zm0-6zm0-3zm0-16zm1 4zm0 3zm0 16zm0 2zm0 3zm0 5zm1-20zm0-3zm0-16zm1-10zm0 4zm0 3zm0 1zm0 7zm0 10zm0 8zm0 4zm0 4zm0 3zm1-4zm0-19zm0-5zm0-2zm0-2zm0-16zm1 4zm0 10zm0 8zm0 48zm1 23zm0-27zm0-25zm0-20zm0-8zm0-3zm0-5zm0-5zm1-7zm0 12zm0 32zm0 1zm0 3zm0 4zm0 19zm0 14zm1-13zm0-4zm0-1zm0-13zm0-23zm0-4zm0-12zm0-2zm0-1zm0-1zm0-1zm1-16zm0 16zm0 20zm0 14zm0 11zm1 41zm0-17zm0-26zm0-6zm0-14zm0-21zm0-8zm0-6zm1 10zm0 5zm0 1zm0 7zm0 6zm0 4zm0 37zm1-8zm0-4zm0-5zm0-2zm0-9zm0-8zm0-9zm0-9zm0-2zm0-2zm0-3zm1-11zm0 19zm0 1zm0 18zm0 23zm0 29zm1-10zm0-12zm0-7zm0-2zm0-5zm0-7zm0-1zm0-1zm0-2zm0-4zm0-6zm0-3zm0-13zm0-2zm0-10zm1 10zm0 15zm0 1zm0 10zm0 2zm0 2zm0 4zm0 1zm0 5zm0 8zm1 38zm0-73zm0-12zm0-1zm0-1zm0-14zm1 21zm0 21zm0 46zm0 8zm1 1zm0-18zm0-30zm0-12zm0-39zm1 24zm0 16zm0 27zm0 12zm0 14zm1-39zm0-4zm0-12zm0-9zm0-8zm1-7zm0 24zm0 5zm0 2zm0 24zm0 2zm0 4zm0 14zm1 14zm0-18zm0-18zm0-7zm0-20zm0-1zm0-21zm0-10zm1 2zm0 26zm0 4zm0 4zm0 14zm0 35zm0 7zm0 4zm0 4zm1-15zm0-34zm0-19zm0-3zm0-7zm1-8zm0 10zm0 4zm0 7zm0 7zm0 8zm1 40zm0-10zm0-31zm0-11zm0-13zm0-15zm0-5zm1 0zm0 3zm0 15zm0 3zm0 3zm0 3zm0 3zm0 2zm0 9zm0 1zm0 10zm0 6zm1-36zm0-1zm0-5zm0-4zm0-9zm0-10zm1-6zm0 18zm0 1zm0 8zm0 5zm0 1zm0 7zm0 8zm0 7zm1 6zm0-3zm0-8zm0-2zm0-4zm0-1zm0-16zm0-14zm1-4zm0 12zm0 13zm0 12zm0 1zm0 4zm0 47zm1-16zm0-44zm0-4zm0-6zm0-8zm0-1zm1-4zm0 12zm0 6zm0 10zm0 7zm0 7zm1 49zm0-9zm0-37zm0-5zm0-12zm0-15zm0-2zm1-22zm0 18zm0 6zm0 3zm0 8zm0 23zm0 41zm1-5zm0-11zm0-10zm0-16zm0-25zm0-3zm0-1zm0-2zm0-1zm0-1zm0-3zm0-10zm0-6zm1-6zm0 40zm0 11zm0 5zm0 14zm0 28zm1-10zm0-30zm0-8zm0-1zm0-7zm0-4zm0-10zm0-2zm1 13zm0 17zm0 1zm0 42zm0 4zm1-60zm0-4zm0-5zm0-13zm1 9zm0 1zm0 15zm0 9zm0 1zm0 15zm1 18zm0-21zm0-22zm0-9zm0-8zm0-6zm0-7zm0-3zm1 1zm0 7zm0 13zm1 24zm0-3zm0-38zm0-12zm1 16zm0 2zm0 15zm0 9zm0 10zm0 20zm1 21zm0-6zm0-36zm0-8zm0-1zm0-2zm1-30zm0 2zm0 1zm0 13zm0 5zm0 7zm0 2zm0 31zm0 14zm1-50zm0-6zm0-5zm1-10zm0 8zm1-13zm0-1zm1 2zm0 16zm0 1zm0 2zm0 17zm0 6zm0 40zm1-48zm0-13zm0-12zm0-4zm0-6zm1-13zm0 11zm0 15zm0 18zm0 13zm0 20zm0 10zm1 12zm0-1zm0-1zm0-9zm0-2zm0-6zm0-24zm0-11zm0-21zm1-20zm0 46zm0 1zm0 31zm0 2zm0 9zm1-52zm0-42zm1 17zm0 36zm1 45zm0-41zm0-13zm0-22zm0-5zm0-4zm1 3zm0 8zm0 18zm0 4zm0 1zm0 33zm1-5zm0-25zm0-10zm0-2zm0-4zm0-13zm0-19zm1 19zm0 4zm0 3zm0 32zm0 18zm1-39zm0-6zm0-4zm0-2zm1-8zm0 1zm0 8zm0 6zm0 1zm0 15zm0 16zm1 32zm0-68zm0-14zm1 13zm0 7zm0 8zm0 9zm1 27zm0-17zm0-12zm0-1zm0-23zm0-7zm1-6zm0 4zm0 3zm0 34zm0 1zm1 28zm0-41zm0-15zm0-3zm1-25zm0 20zm0 17zm0 2zm0 11zm0 1zm0 2zm0 47zm1-21zm0-8zm0-15zm0-2zm0-16zm0-10zm0-3zm0-8zm1-16zm0 24zm0 3zm0 7zm1 67zm0-2zm0-44zm0-25zm0-11zm1-20zm0 94zm0 6zm1-10zm0-21zm0-11zm0-2zm0-16zm0-6zm0-9zm0-6zm1-3zm0 1zm0 3zm0 3zm0 22zm0 4zm0 2zm0 1zm1 22zm0-31zm0-10zm0-1zm1-29zm0 18zm0 5zm0 4zm0 37zm0 15zm0 18zm1-42zm0-15zm0-7zm0-10zm0-3zm1-20zm0 20zm0 13zm0 14zm0 36zm0 4zm1-9zm0-23zm0-3zm0-16zm0-10zm0-8zm0-3zm1-1zm0 6zm0 5zm0 1zm0 11zm0 14zm0 19zm0 20zm0 1zm1 10zm0-21zm0-11zm0-4zm0-12zm0-8zm0-9zm0-21zm1-6zm0 16zm0 10zm0 12zm0 3zm0 1zm0 40zm0 9zm1-61zm0-2zm0-16zm0-8zm1 1zm0 3zm0 21zm0 4zm0 6zm0 8zm0 25zm1 3zm0-21zm0-18zm0-5zm0-2zm0-17zm0-1zm0-4zm0-1zm1-1zm0 8zm0 8zm0 17zm0 3zm0 1zm1 5zm0-2zm0-3zm0-2zm0-3zm0-10zm0-4zm0-2zm0-14zm1 38zm0 43zm1-30zm0-16zm0-30zm0-2zm0-5zm1-2zm0 4zm0 2zm0 20zm0 8zm0 10zm0 42zm1-1zm0-38zm0-4zm0-13zm0-13zm1-23zm0 9zm0 5zm0 18zm0 8zm0 1zm0 3zm0 5zm1 8zm0-20zm0-11zm0-2zm0-11zm0-1zm0-1zm1 4zm0 2zm0 8zm0 3zm0 3zm0 17zm0 3zm0 32zm1 9zm0-6zm0-22zm0-20zm0-10zm0-22zm0-1zm0-1zm0-20zm1 15zm0 2zm0 5zm0 3zm0 46zm0 4zm1 21zm0-24zm0-12zm0-7zm0-8zm0-16zm0-2zm1-9zm0 17zm0 10zm0 2zm1 27zm0-16zm0-26zm1-18zm0 19zm0 12zm0 7zm1 11zm0-28zm0-6zm0-6zm1-6zm0 14zm0 11zm0 12zm0 31zm0 6zm1-35zm0-20zm0-14zm0-5zm1 8zm0 2zm0 5zm0 5zm0 34zm1-12zm0-15zm0-1zm0-18zm1-3zm0 4zm0 9zm0 1zm0 3zm0 14zm0 5zm1 0zm0-16zm0-5zm0-2zm0-2zm0-15zm1 6zm0 6zm0 7zm0 1zm0 20zm1 5zm0-9zm0-10zm0-17zm1-15zm1 40zm0-31zm1 5zm0 11zm0 2zm0 2zm0 5zm0 13zm0 10zm0 22zm1-38zm1-32zm0 9zm0 16zm0 13zm0 28zm1-30zm0-16zm0-7zm0-1zm0-2zm0-6zm0-2zm1 1zm0 9zm0 4zm0 3zm0 43zm0 2zm1-28zm0-2zm0-9zm0-2zm0-1zm0-6zm1-3zm0 9zm0 10zm0 8zm1-7zm0-18zm0-2zm0-1zm1-8zm0 1zm0 4zm0 7zm0 7zm0 51zm1-52zm0-11zm1 28zm1 8zm0-2zm0-9zm0-7zm0-6zm1-19zm0 24zm0 20zm1-11zm0-1zm0-3zm0-16zm0-1zm0-10zm1-1zm0 15zm0 10zm1 7zm0-30zm1-12zm0 16zm0 2zm0 12zm0 3zm0 10zm0 14zm1-17zm0-7zm0-1zm0-15zm0-3zm0-7zm1-2zm0 5zm0 11zm0 4zm0 1zm0 2zm0 7zm0 7zm0 8zm2 22zm0-58zm0-4zm1 3zm0 13zm0 3zm0 12zm0 19zm1-9zm0-25zm0-2zm0-13zm1 0zm0 1zm0 10zm0 21zm1-6zm0-16zm1-9zm0 3zm0 5zm1 46zm0-10zm0-6zm0-8zm0-2zm0-23zm1 16zm0 6zm1-7zm0-10zm0-2zm0-19zm1 12zm0 3zm0 7zm1 26zm0-1zm0-8zm0-3zm0-24zm0-15zm1 2zm0 41zm1-9zm0-7zm1-4zm0 15zm0 2zm0 4zm0 7zm1 2zm0-24zm0-7zm0-4zm1-1zm0 3zm0 3zm0 2zm0 3zm0 9zm0 5zm0 3zm1 2zm1-24zm0 2zm0 3zm0 11zm1-5zm0-2zm0-8zm0-1zm0-26zm1 16zm0 1zm0 11zm0 3zm0 3zm0 6zm1 5zm0-3zm0-14zm0-7zm1 2zm0 1zm0 22zm1 4zm0-4zm0-1zm0-14zm0-7zm0-3zm0-10zm1 12zm0 1zm1 18zm0-22zm1 11zm1 7zm0-7zm0-5zm1-2zm0 6zm0 18zm1-7zm1-11zm0 2zm1 12zm0-5zm0-16zm1 11zm1 5zm0-14zm0-2zm1 2zm0 13zm1-2zm0-13zm1 6zm0 10zm1-1zm0-9zm0-3zm1-4zm0 4zm0 11zm0 1zm1-10zm0-15zm1 22zm1 1zm0-2zm0-3zm1-7zm0 1zm0 3zm0 6zm1 0zm0-14zm1 6zm0 1zm0 11zm1-6zm0-6zm1-1zm0 7zm1 0zm1-11z" stroke="#a6dff4" stroke-width="4.5" stroke-linecap="round" fill="none"/><path d="M1079 1008zm3 45zm0-5zm1-14zm2 25zm0-4zm0-1zm0-6zm4 16zm1-22zm1 9zm5-10zm1 21zm2 9zm4-25zm6 6zm1 3zm1-4zm2 6zm1 45zm3-45zm3-6zm1 31zm1-12zm2 8zm2 3zm0-10zm3-15zm0 24zm1-8zm0-11zm2 34zm2 8zm0-26zm1-10zm4 22zm3-7zm1 9zm1-28zm0 32zm1-5zm0-25zm1 18zm1-8zm3 9zm1 5zm0-13zm0-1zm6-5zm0 36zm3-5zm0-33zm3 9zm0 27zm1-8zm0-13zm2 12zm4 22zm0-9zm1-29zm4 16zm3 11zm2-9zm0-15zm2 22zm0 7zm3 14zm5-15zm1 17zm3-33zm2 21zm0-34zm0-3zm2 20zm0 18zm1-25zm2-17zm4 40zm5-38zm0 5zm1 30zm0-26zm1 26zm1 17zm2-22zm1 24zm0-13zm1 11zm1-16zm0-8zm4 3zm0 8zm0 11zm2 1zm2-12zm1 13zm3 2zm2-39zm1 15zm1 20zm0-26zm1 2zm1 18zm5-14zm3 5zm2-14zm2 18zm1-19zm0 37zm1 3zm0-33zm3-2zm1-5zm1 1zm1 5zm1 29zm3-7zm1-3zm0 1zm1-12zm1-5zm4 17zm1 1zm1 5zm1-8zm0 1zm3-11zm1 11zm3 6zm1-21zm4-1zm1 2zm0 25zm1-3zm4-2zm2 11zm0-27zm5-1zm1 7zm1 9zm1 5zm2-28zm0 26zm2 6zm1 5zm1-2zm0-10zm0-11zm1-11zm0 37zm2-4zm3-24zm3 23zm0-27zm2 29zm4-25zm0-3zm2 24zm5 0zm3-18zm1 22zm1-21zm4 11zm3-17zm1 29zm0-26zm3 21zm0 7zm7-6zm1-12zm1 13zm2-5zm5-12zm1 16zm2-9zm0-12zm3 9zm3 5zm2-8zm3 2zm11-3zm2 3zm0-3zm2-12zm3 12zm3 12zm0 2zm6 2zm13-7zm1-3zm2-4zm3 9z" stroke="#f1c690" stroke-width="4.5" stroke-linecap="round" fill="none"/>
<path d="M1078.8 902.5V1212.9M1123.9 902.5V1212.9M1169 902.5V1212.9M1214.1 902.5V1212.9M1259.2 902.5V1212.9M1304.3 902.5V1212.9M1349.4 902.5V1212.9M1394.5 902.5V1212.9M1439.6 902.5V1212.9" stroke="#c2c2c2" stroke-width="1.3" stroke-dasharray="4 4.3" fill="none"/>
<path d="M1082 1101.5 1442.1 1150.4" fill="none" stroke="#000" stroke-width="2.0" stroke-linejoin="round" stroke-dasharray="9 5.5"/>
<path d="M1082 1054.3 1441.4 1168.6" fill="none" stroke="#000" stroke-width="2.1" stroke-linejoin="round"/>
<path d="M1082.7 1018.6 1089 1033.3 1095.9 1045.5 1102.9 1054.3 1109.9 1061.3 1123.9 1068.3 1134.4 1075.2 1144.9 1082.2 1158.9 1089.2 1172.9 1093.4 1186.9 1101.5 1200.8 1107.4 1214.8 1112 1228.8 1114.8 1242.8 1120 1256.8 1124.9 1270.8 1127.7 1284.8 1127 1302.2 1127.7 1319.7 1128.7 1337.2 1129.4 1354.7 1130.5 1372.2 1130.5 1389.7 1129.4 1400.1 1132.9 1410.6 1136.4 1421.1 1136.4 1431.6 1141 1442.1 1144.5" fill="none" stroke="#a232f2" stroke-width="2.0" stroke-linejoin="round"/>
<path d="M1082.7 1066.5 1087.2 1078.7 1092.4 1096.2 1097.7 1108.5 1104.7 1113 1111.7 1106 1118.7 1096.2 1123.9 1094.5 1129.2 1101.5 1136.2 1110.2 1144.9 1120 1155.4 1119 1164.1 1112 1171.1 1110.2 1178.1 1120.7 1186.9 1134.7 1192.1 1139.2 1200.8 1134.7 1211.3 1125.9 1221.8 1127 1230.6 1132.9 1237.6 1134.7 1246.3 1127.7 1256.8 1119 1267.3 1124.2 1277.8 1134.7 1284.8 1138.2 1295.2 1131.2 1305.7 1126.6 1316.2 1132.9 1326.7 1141.7 1337.2 1138.2 1347.7 1131.2 1354.7 1129.4 1365.2 1136.4 1375.7 1145.2 1380.9 1146.9 1389.7 1139.9 1396.6 1129.4 1403.6 1128.7 1410.6 1126.6 1415.9 1127.7 1421.1 1133.6 1424.6 1127.7 1429.9 1131.2 1433.4 1132.9 1441.4 1124.9" fill="none" stroke="#f01a1a" stroke-width="2.4" stroke-linejoin="round"/>
<path d="M1058.5 898.5V1212.9H1505" stroke="#222" stroke-width="1.1" fill="none"/><path d="M1058.5 909.7h-3.5M1058.5 981.6h-3.5M1058.5 1053.7h-3.5M1058.5 1125.6h-3.5M1058.5 1198.2h-3.5M1078.8 1212.9v3.5M1123.9 1212.9v3.5M1169 1212.9v3.5M1214.1 1212.9v3.5M1259.2 1212.9v3.5M1304.3 1212.9v3.5M1349.4 1212.9v3.5M1394.5 1212.9v3.5M1439.6 1212.9v3.5M1484.7 1212.9v3.5" stroke="#222" stroke-width="1" fill="none"/>
<rect x="1055.8" y="840" width="462.2" height="49.3" rx="3" fill="#000"/><rect x="1063.2" y="847.4" width="447.4" height="34.5" fill="#8abcec"/><text x="1286.9" y="879.5" font-size="39.1" text-anchor="middle" >H41</text>
<path d="M1548 1008zm0 4zm0 16zm0 17zm1 14zm0-17zm0-6zm0-4zm0-14zm0-8zm0-34zm1 35zm0 18zm1 0zm0-1zm0-11zm0-2zm0-1zm0-28zm0-14zm1 8zm0 9zm0 13zm0 13zm0 6zm0 7zm1 9zm0-35zm0-19zm0-2zm1-1zm0 6zm0 7zm0 5zm0 6zm0 25zm0 8zm0 2zm0 30zm1 12zm0-21zm0-11zm0-12zm0-20zm1-13zm0 10zm0 7zm0 17zm0 15zm1 8zm0-48zm1-20zm0 46zm0 24zm0 6zm1 14zm0-15zm0-6zm0-64zm1 2zm0 4zm0 23zm0 6zm0 31zm0 8zm0 1zm0 4zm0 1zm0 14zm0 2zm1-9zm0-13zm0-4zm0-9zm0-9zm0-16zm0-23zm0-1zm0-12zm0-8zm1 15zm0 24zm0 17zm0 31zm0 11zm0 7zm1-73zm0-12zm0-11zm1 36zm0 18zm0 8zm0 19zm1-6zm0-10zm0-8zm0-14zm0-32zm0-7zm0-6zm1-5zm0 6zm0 4zm0 67zm1 6zm0-22zm0-1zm0-12zm0-9zm0-28zm0-1zm1 17zm0 3zm0 9zm0 4zm0 4zm1 50zm0-17zm0-2zm0-7zm0-21zm0-2zm0-8zm0-1zm0-20zm1-17zm0 8zm0 8zm0 22zm0 15zm0 5zm0 5zm0 46zm1-27zm0-25zm0-5zm0-5zm0-27zm1 0zm0 3zm0 7zm0 40zm1 16zm0-5zm0-1zm0-20zm0-4zm0-10zm0-6zm0-5zm0-9zm0-3zm0-11zm1 15zm0 23zm0 61zm1-28zm0-1zm0-24zm0-17zm1-26zm0 9zm0 28zm0 9zm0 3zm0 6zm1 21zm0-19zm0-8zm0-14zm0-4zm0-22zm1 54zm1 14zm0-3zm0-15zm0-2zm0-7zm0-3zm0-20zm0-9zm0-5zm0-2zm0-2zm0-11zm0-3zm0-10zm1 22zm0 14zm0 7zm0 2zm0 41zm0 14zm1 12zm0-11zm0-5zm0-9zm0-1zm0-18zm0-20zm0-23zm0-4zm1 19zm0 16zm1 47zm0-6zm0-19zm0-12zm0-15zm0-16zm0-18zm1-15zm0 21zm0 8zm0 16zm0 7zm0 1zm0 24zm0 3zm0 1zm0 4zm0 5zm0 2zm1 23zm0-33zm0-4zm0-7zm0-14zm0-23zm0-1zm0-9zm0-4zm1-20zm0 20zm0 6zm0 1zm0 12zm0 6zm0 7zm0 23zm0 12zm1-1zm0-11zm0-20zm0-1zm0-18zm0-33zm1 16zm0 21zm0 4zm0 26zm0 5zm0 4zm0 15zm1-26zm0-19zm0-4zm1-3zm0 6zm0 48zm1-19zm0-4zm0-27zm0-3zm1 3zm0 38zm0 6zm0 7zm1-8zm0-24zm0-16zm0-6zm0-6zm1-10zm0 3zm0 20zm0 47zm1 2zm0-6zm0-10zm0-4zm0-2zm0-1zm0-7zm0-3zm0-34zm1 27zm0 30zm0 13zm1-11zm0-5zm0-6zm1-49zm0 3zm0 4zm0 23zm0 15zm1-10zm1-7zm0 36zm0 19zm1-8zm0-62zm1 1zm0 34zm0 15zm1 11zm0-6zm0-1zm0-4zm0-20zm0-13zm0-3zm0-18zm0-5zm0-2zm1 12zm0 10zm0 36zm0 5zm0 4zm1-3zm0-16zm0-6zm0-42zm1 29zm0 12zm0 25zm1-6zm0-44zm0-13zm1 41zm0 7zm0 3zm0 23zm1 1zm0-29zm0-8zm0-16zm0-4zm0-4zm0-16zm1-4zm0 4zm0 23zm0 20zm1 41zm0-18zm0-10zm0-35zm0-12zm0-14zm1 27zm0 7zm0 3zm0 2zm0 1zm0 1zm0 10zm0 6zm0 4zm0 35zm1-20zm0-11zm0-2zm0-36zm0-7zm0-8zm1-12zm0 15zm0 20zm0 4zm0 13zm0 11zm0 13zm1 11zm0-5zm0-11zm0-7zm0-10zm0-5zm0-29zm0-2zm0-2zm1 1zm0 3zm0 11zm0 1zm0 35zm0 14zm0 13zm1-9zm0-18zm0-17zm0-13zm0-32zm1 29zm0 24zm0 22zm1 20zm0-7zm0-1zm0-8zm0-4zm0-14zm0-26zm0-14zm0-8zm1 15zm0 7zm0 8zm0 3zm0 7zm0 18zm0 2zm0 2zm0 12zm1 3zm0-25zm0-1zm0-22zm0-6zm0-5zm1 12zm0 9zm0 13zm0 17zm0 12zm1-7zm0-15zm0-3zm0-12zm0-2zm0-35zm1 22zm0 10zm0 7zm0 7zm1 15zm0-29zm0-6zm0-22zm0-6zm1 25zm0 37zm1 25zm0-13zm0-19zm0-2zm0-14zm0-15zm0-2zm0-9zm1-17zm0 15zm0 9zm0 12zm0 14zm0 3zm0 5zm0 2zm0 6zm0 9zm0 4zm0 6zm1 7zm0-18zm0-9zm0-17zm0-2zm0-11zm0-28zm1 11zm0 3zm0 10zm0 9zm0 3zm0 1zm0 10zm0 9zm0 1zm0 10zm1-7zm0-3zm0-18zm0-8zm0-1zm0-9zm0-5zm1 27zm0 21zm0 11zm1-36zm0-6zm0-18zm1-7zm0 3zm0 11zm0 20zm0 3zm0 4zm0 20zm1-1zm0-19zm0-15zm0-6zm0-21zm0-2zm1 22zm0 7zm0 3zm0 10zm0 27zm1 1zm0-22zm0-10zm0-11zm0-21zm1-11zm0 38zm0 1zm0 5zm0 28zm1 16zm0-15zm0-15zm0-11zm0-20zm0-19zm1 5zm0 15zm0 12zm0 13zm0 12zm0 1zm0 11zm1-23zm0-8zm0-24zm0-21zm1 5zm0 10zm0 19zm0 7zm0 2zm0 23zm1 11zm1-28zm0 17zm0 10zm1 4zm0-16zm0-39zm1-3zm1 54zm0-43zm0-9zm0-11zm1 8zm0 18zm0 9zm0 7zm0 14zm1 19zm0-18zm0-5zm0-18zm0-2zm0-28zm0-8zm1 2zm0 26zm0 19zm0 1zm0 3zm0 18zm1 6zm0-41zm0-1zm1 3zm0 38zm1-4zm0-8zm0-30zm1-28zm0 3zm0 3zm0 1zm0 28zm0 31zm1-6zm0-5zm0-41zm0-1zm1 4zm0 23zm1 43zm0-17zm0-17zm0-3zm1-38zm0 12zm0 11zm0 7zm0 27zm1-38zm0-15zm1 0zm0 11zm0 27zm0 9zm0 1zm0 17zm1-23zm0-30zm0-15zm1 7zm0 1zm0 25zm0 15zm0 5zm1 7zm0-2zm0-7zm0-3zm0-13zm0-9zm0-14zm0-9zm1-9zm0 40zm0 4zm1 4zm0-12zm0-39zm1-1zm0 16zm0 15zm0 5zm0 12zm1-3zm0-14zm0-1zm0-6zm0-2zm0-2zm0-5zm1 22zm0 12zm0 7zm0 22zm1-6zm0-4zm0-18zm0-9zm0-25zm1 16zm1 5zm0-19zm0-15zm1 3zm0 33zm0 14zm0 1zm0 2zm0 9zm1-2zm0-3zm0-43zm1 4zm0 15zm0 14zm2 8zm0-22zm0-4zm1-13zm0 47zm1 9zm0-17zm0-16zm1-20zm0 7zm0 5zm0 2zm0 3zm0 20zm0 9zm1 17zm0-22zm0-31zm0-12zm1 15zm0 11zm0 22zm1 12zm0-9zm0-58zm1 3zm0 9zm0 37zm0 1zm1 0zm0-40zm0-5zm0-4zm0-7zm1 33zm1 37zm0-12zm0-7zm0-17zm1-17zm1 43zm0-8zm0-4zm0-1zm0-10zm0-10zm0-10zm0-1zm1 26zm0 25zm0 2zm1-12zm0-15zm0-13zm1-8zm0 3zm0 7zm1 11zm0-30zm1 1zm0 8zm0 32zm1 30zm0-13zm0-5zm0-11zm0-6zm0-9zm0-7zm0-5zm0-19zm1 4zm0 55zm1 16zm0-19zm0-1zm1-43zm0 9zm0 40zm1 14zm0-6zm0-18zm0-21zm0-11zm1 27zm0 9zm0 2zm0 5zm0 2zm1-8zm0-21zm0-4zm0-1zm1-16zm0 4zm0 14zm0 43zm1-21zm0-7zm0-16zm0-18zm0-2zm1 14zm0 3zm0 33zm0 1zm0 3zm0 6zm1 5zm0-29zm0-8zm0-24zm0-4zm1 7zm0 11zm0 16zm1 28zm0-8zm0-47zm1 16zm0 27zm0 2zm1 3zm0-14zm0-9zm0-1zm0-12zm1-9zm0 12zm0 2zm0 5zm0 4zm0 16zm0 6zm1-8zm0-15zm0-5zm0-1zm0-18zm0-3zm0-8zm1 4zm0 17zm1 37zm0-9zm0-4zm0-3zm0-11zm0-4zm2-26zm0 14zm0 22zm0 8zm0 1zm0 12zm1 11zm0-10zm0-1zm0-9zm0-21zm0-7zm0-12zm0-9zm1 17zm0 16zm1 17zm0-22zm0-10zm1 16zm0 14zm1 2zm0-10zm0-8zm0-6zm1 0zm0 7zm0 6zm0 18zm1-3zm0-13zm1-26zm0 20zm1-8zm0-5zm1 15zm1 11zm0-8zm1-39zm0 21zm0 7zm0 19zm1 1zm0-16zm0-10zm0-8zm1-1zm0 8zm0 2zm0 3zm0 3zm1 26zm0-18zm0-10zm0-13zm1-1zm0 1zm0 16zm0 20zm1 9zm0-6zm0-9zm0-1zm0-9zm0-16zm1 12zm0 9zm0 8zm1 13zm0-2zm0-8zm0-2zm0-6zm0-20zm1 31zm1 10zm0-10zm0-14zm0-18zm1-6zm0 10zm1 31zm0-15zm0-6zm1-5zm1 11zm1-10zm1 26zm1-13zm0 2zm0 1zm0 7zm0 1zm1 7zm0-10zm0-2zm0-2zm1-21zm0 9zm0 3zm0 12zm1-12zm0-4zm0-11zm1-5zm0 2zm0 5zm0 1zm0 9zm0 15zm1 7zm0-33zm0-10zm0-3zm1 35zm1 13zm0-12zm0-3zm0-23zm0-5zm1 43zm1-1zm0-26zm1-11zm0 21zm1 16zm0-6zm0-6zm0-13zm0-17zm1 8zm0 6zm0 20zm0 18zm1-34zm0-13zm1 8zm0 30zm1-38zm1-2zm0 40zm0 2zm1-25zm0-3zm0-6zm1 8zm1 20zm1-47zm0 31zm0 4zm1 4zm1-11zm0 9zm0 4zm0 6zm1 1zm0-28zm1-11zm0 9zm0 7zm0 28zm0 5zm1-40zm0-8zm1 29zm0 11zm1 0zm0-2zm0-2zm0-8zm0-1zm0-3zm0-31zm1 26zm1 22zm0-10zm0-14zm0-7zm1 4zm0 13zm0 15zm1-29zm1 8zm0 17zm2 0zm1-14zm0 5zm0 7zm0 4zm1-11zm0-5zm0-15zm1 14zm2 12zm0-1zm0-1zm0-15zm2-9zm3 14zm0-2zm0-3zm1 2zm0 13zm0 9zm1-22zm1-2zm0 12zm0 3zm0 5zm1-2zm0-23zm1 21zm0 3zm0 2zm0 4zm1-2zm0-13zm1-14zm0 2zm0 10zm1 17zm0-10zm0-5zm0-14zm1 1zm0 7zm1 23zm0-26zm1-5zm0 19zm1 10zm1-28zm0 29zm1 0zm0-1zm0-1zm0-2zm0-3zm0-6zm1-1zm0 5zm0 8zm0 1zm1-6zm0-10zm0-12zm1-8zm1 40zm1-9zm0 5zm1 0zm0-2zm1-21zm0 20zm1-13zm1-5zm0 21zm1 1zm0-1zm0-13zm0-14zm0-3zm1 5zm0 6zm1 16zm0-7zm1-15zm0 17zm1-24zm1-2zm0 6zm0 4zm0 12zm0 1zm1-7zm1-15zm0 11zm0 1zm0 27zm1-16zm0-16zm1 3zm1 8zm1-9zm0 15zm0 9zm1-1zm0-17zm0-6zm1 2zm0 7zm0 14zm1-10zm0-24zm1 4zm0 7zm0 9zm1-15zm1-3zm0 11zm0 1zm0 20zm1 2zm0-8zm0-18zm0-8zm1 9zm0 3zm0 21zm1-11zm1-10zm0 1zm0 2zm0 11zm1 13zm0-18zm0-4zm1 4zm0 8zm1-7zm2 8zm1-12zm0-5zm0-3zm1-9zm0 14zm0 8zm0 11zm2-35zm1 16zm0 15zm0 3zm1-18zm1 18zm1-33zm1 21zm0 9zm2-14zm0-1zm1 4zm0 5zm0 9zm1 0zm0-10zm0-1zm0-5zm0-1zm1 14zm2 1zm1-9zm0 10zm1-7zm0-6zm0-11zm1 3zm0 8zm0 9zm3-12zm2 6zm0 11zm1-9zm0-9zm1-2zm0 12zm1 6zm2-10zm1-3zm0-4zm1 3zm1 6zm1-3zm0 2zm0 8zm1 2zm0-6zm0-1zm0-9zm2 1zm2 9zm2 0zm2-14zm1-4zm0 17zm1 7zm0-13zm1 12zm2 3zm0-7zm1 0zm1 0zm0-6zm0-11zm1 10zm0 14zm2-5zm0-2zm2-5zm0 3zm0 2zm3 4zm2-7zm1 1zm2-12zm0 19zm2-1zm0-1zm1-7zm3 2zm0-6zm1-2zm0 7zm0 4zm1-3zm1 0zm1 7zm1-3zm1-7zm2 13z" stroke="#f1c690" stroke-width="4.5" stroke-linecap="round" fill="none"/><path d="M1548 1037zm0 16zm1 46zm0-1zm0-5zm0-3zm0-13zm0-5zm0-7zm0-9zm0-8zm0-8zm0-1zm0-8zm0-3zm1-6zm0 22zm0 7zm0 1zm0 30zm0 17zm1 7zm0-7zm0-30zm0-5zm0-5zm0-12zm0-1zm0-1zm0-4zm0-28zm0-1zm1 28zm0 1zm0 13zm0 20zm0 3zm0 2zm0 19zm0 19zm1-2zm0-20zm0-2zm0-10zm0-2zm0-2zm0-24zm0-2zm0-1zm0-4zm0-10zm1-5zm0 12zm0 8zm0 14zm0 1zm0 15zm0 25zm0 8zm1 10zm0-7zm0-6zm0-6zm0-7zm0-12zm0-25zm0-9zm0-19zm1 9zm0 9zm0 3zm0 21zm0 1zm0 2zm0 21zm0 1zm0 3zm0 6zm1 3zm0-7zm0-30zm0-15zm0-1zm1-23zm0 27zm0 12zm0 21zm0 16zm0 1zm0 7zm1-23zm0-22zm0-12zm0-19zm1 6zm0 14zm0 3zm0 14zm0 2zm0 7zm0 9zm0 9zm1-2zm0-8zm0-3zm0-5zm0-2zm0-21zm0-1zm0-11zm0-16zm1 27zm0 36zm0 9zm0 2zm0 9zm0 2zm1-1zm0-7zm0-5zm0-12zm0-7zm0-5zm0-4zm0-22zm1-11zm0 5zm0 10zm0 21zm0 37zm1-8zm0-4zm0-3zm0-2zm0-3zm0-12zm0-29zm1-6zm0 2zm0 6zm0 6zm0 6zm0 6zm0 9zm0 10zm0 9zm0 7zm0 1zm0 6zm1-44zm0-5zm0-1zm0-1zm0-3zm0-17zm1-5zm0 7zm0 26zm0 10zm0 15zm0 2zm0 10zm0 2zm0 1zm0 1zm0 4zm1-18zm0-13zm0-18zm0-12zm1-3zm0 3zm0 25zm0 8zm0 6zm0 2zm0 20zm1-2zm0-2zm0-11zm0-25zm0-2zm0-18zm0-9zm1-6zm0 6zm0 3zm0 21zm0 13zm0 6zm0 20zm1 5zm0-15zm0-26zm0-5zm0-4zm0-3zm0-4zm0-14zm1 9zm0 15zm0 11zm0 5zm0 1zm0 1zm0 4zm0 24zm1 5zm0-3zm0-1zm0-5zm0-32zm0-32zm1-14zm0 8zm0 4zm0 15zm0 30zm0 24zm1-1zm0-11zm0-25zm0-15zm0-5zm0-2zm1-9zm0 1zm0 5zm0 9zm0 2zm0 3zm0 30zm0 15zm0 5zm1-4zm0-20zm0-5zm0-4zm0-8zm0-14zm0-2zm1-9zm0 3zm0 2zm0 23zm0 6zm0 5zm0 2zm0 17zm0 14zm1-23zm0-14zm0-1zm0-8zm0-16zm0-3zm0-3zm0-4zm1-10zm0 27zm0 2zm0 19zm0 6zm0 17zm0 6zm1-5zm0-7zm0-5zm0-5zm0-16zm0-6zm0-1zm0-15zm1-8zm0 15zm0 25zm0 4zm0 12zm0 4zm1 15zm0-7zm0-10zm0-20zm0-3zm0-43zm1 0zm0 10zm0 6zm0 34zm0 27zm1-39zm0-23zm0-1zm1 19zm0 9zm0 10zm0 10zm0 5zm1-4zm0-7zm0-10zm0-8zm0-5zm0-6zm0-10zm1-8zm0 19zm0 11zm0 15zm0 1zm0 3zm0 1zm0 14zm1 1zm0-14zm0-8zm0-17zm0-12zm0-11zm1 8zm0 8zm0 5zm0 14zm1 28zm0-4zm0-1zm0-9zm0-14zm0-1zm0-2zm0-4zm0-5zm0-5zm0-5zm1-13zm0 31zm0 1zm0 2zm0 12zm0 5zm0 15zm1 1zm0-13zm0-12zm0-11zm0-4zm0-9zm0-10zm1 9zm0 13zm0 7zm0 5zm0 14zm0 1zm0 2zm0 6zm1 9zm0-21zm0-14zm0-10zm0-5zm0-10zm0-12zm1 0zm0 2zm0 14zm0 4zm0 9zm0 15zm0 11zm0 7zm1 8zm0-9zm0-3zm0-4zm0-7zm0-1zm0-1zm0-2zm0-20zm0-6zm0-17zm1-13zm0 18zm0 5zm0 3zm0 7zm0 4zm0 13zm0 2zm0 8zm0 9zm0 5zm0 1zm1 0zm0-7zm0-8zm0-2zm0-5zm0-8zm0-3zm0-10zm0-5zm0-2zm0-21zm1-4zm0 8zm0 5zm0 5zm0 2zm0 7zm0 13zm0 11zm0 3zm0 3zm0 8zm0 9zm0 3zm1-5zm0-5zm0-2zm0-26zm0-5zm0-3zm0-2zm0-7zm0-14zm1 11zm0 2zm0 12zm0 2zm0 2zm0 14zm1 27zm0-36zm0-26zm1-18zm0 42zm0 36zm0 2zm1-1zm0-14zm0-7zm0-4zm0-11zm0-17zm0-1zm0-7zm0-1zm1 0zm0 2zm0 1zm0 40zm0 10zm0 1zm1 5zm0-4zm0-3zm0-2zm0-10zm0-6zm0-16zm0-2zm1 4zm0 8zm0 12zm0 16zm0 4zm0 6zm1-3zm0-4zm0-3zm0-13zm0-1zm0-7zm0-23zm0-1zm0-27zm1 3zm0 24zm0 3zm0 13zm0 1zm0 20zm1 0zm0-6zm1-23zm0 6zm0 23zm0 7zm0 10zm1-3zm0-1zm0-15zm0-17zm0-9zm0-11zm0-1zm0-1zm1-5zm0 2zm0 5zm0 11zm0 9zm0 2zm1 30zm0-25zm0-12zm0-23zm1 10zm0 9zm0 1zm0 9zm0 9zm0 12zm0 12zm1-33zm0-4zm0-7zm0-1zm0-2zm1-24zm0 12zm0 1zm0 19zm0 1zm0 2zm0 7zm0 14zm0 3zm0 10zm1-2zm0-5zm0-14zm0-2zm0-11zm0-2zm0-19zm0-2zm1 10zm0 7zm0 13zm0 2zm0 2zm0 11zm1-17zm0-1zm0-1zm0-9zm1 11zm0 9zm0 18zm1 0zm0-52zm0-12zm1 11zm0 3zm0 8zm0 6zm0 33zm0 4zm1 2zm0-19zm0-15zm0-11zm0-8zm1 10zm0 17zm0 12zm0 2zm0 4zm1-8zm0-10zm0-1zm0-16zm0-11zm1-5zm0 7zm0 7zm0 11zm0 3zm0 3zm0 8zm0 3zm0 3zm1 18zm0-20zm0-17zm0-2zm0-2zm0-17zm0-1zm0-1zm0-2zm1 21zm0 21zm0 1zm0 7zm1-28zm0-8zm0-2zm1 1zm0 7zm0 4zm0 5zm0 15zm0 4zm0 1zm0 4zm1-10zm0-3zm0-7zm0-3zm0-28zm1 4zm0 20zm0 15zm0 2zm0 16zm0 4zm1-14zm0-5zm0-2zm0-4zm0-3zm0-9zm0-6zm0-6zm0-7zm0-1zm0-13zm0-5zm1 31zm0 5zm0 3zm0 4zm0 15zm0 4zm1 2zm0-10zm0-4zm0-10zm0-1zm0-15zm1-11zm0 21zm0 21zm0 5zm1 2zm0-5zm0-3zm0-20zm0-12zm1 9zm0 37zm0 3zm1-9zm0-13zm0-1zm0-8zm1-16zm0 1zm0 2zm0 4zm0 1zm0 4zm0 1zm0 14zm1 3zm0-6zm0-1zm0-3zm0-3zm0-3zm1-32zm0 29zm0 10zm0 17zm0 2zm0 4zm0 2zm0 2zm1-11zm0-8zm0-2zm0-3zm0-11zm0-4zm0-11zm1-12zm0 21zm0 2zm0 6zm0 24zm1 5zm0-6zm0-7zm0-11zm0-7zm1 3zm0 1zm0 3zm0 11zm0 7zm0 3zm0 4zm1-13zm0-3zm0-31zm1 5zm0 21zm0 9zm0 5zm1 12zm0-34zm1 13zm0 10zm1-3zm0-26zm1 36zm1-2zm0-21zm0-5zm0-26zm1-7zm0 1zm0 13zm0 3zm0 1zm0 20zm0 5zm0 10zm0 4zm0 1zm0 3zm0 1zm1 1zm0-12zm0-6zm0-21zm0-7zm0-3zm1-10zm0 20zm0 4zm0 11zm0 1zm0 14zm0 3zm0 1zm0 3zm1 2zm0-11zm0-46zm1 33zm0 6zm0 16zm1-5zm0-24zm0-1zm0-11zm0-4zm1 16zm0 1zm0 7zm1 6zm0-1zm0-3zm0-2zm0-10zm0-3zm0-11zm1 1zm0 9zm0 18zm0 3zm1 10zm0-15zm0-1zm0-1zm0-3zm1-18zm0 12zm0 10zm0 11zm1 7zm0-8zm0-4zm0-9zm1-33zm0 33zm0 21zm0 3zm1-9zm0-1zm0-3zm0-3zm0-7zm0-7zm0-7zm1 6zm0 4zm0 4zm0 3zm0 6zm1 7zm1-30zm0 8zm0 3zm0 3zm0 13zm1 6zm0-10zm0-19zm0-10zm0-13zm1 20zm0 2zm0 27zm0 4zm1 2zm0-28zm0-13zm0-7zm1 8zm0 12zm0 2zm0 19zm0 2zm1-26zm0-23zm1 6zm0 10zm0 5zm1 29zm0-8zm0-16zm0-8zm0-5zm1 9zm0 24zm1-1zm0-8zm0-29zm1-9zm0 26zm0 15zm0 6zm0 9zm2 2zm0-5zm0-12zm0-1zm0-2zm0-5zm0-9zm1-5zm0 38zm1-1zm1-51zm1 40zm0-10zm0-13zm0-2zm1-4zm0 12zm0 19zm1-4zm0-7zm0-3zm0-2zm0-39zm1 57zm1-5zm0-6zm0-11zm0-5zm1-12zm0 10zm0 14zm0 6zm0 4zm0 8zm1-6zm0-6zm0-7zm0-5zm0-1zm0-9zm0-1zm1 13zm0 15zm0 1zm0 3zm0 8zm1-2zm0-9zm0-4zm0-10zm0-14zm0-3zm0-4zm0-5zm1-6zm0 17zm0 3zm0 30zm0 7zm1 0zm0-6zm0-18zm0-15zm1 0zm0 7zm0 18zm0 3zm0 5zm1-1zm0-4zm1-26zm0 13zm0 7zm0 13zm0 3zm0 1zm1-3zm0-9zm0-22zm0-8zm1 11zm0 31zm1 1zm0-21zm0-2zm0-15zm0-2zm1-4zm0 7zm0 10zm1 23zm0-14zm0-8zm1-13zm0 2zm0 11zm0 3zm0 19zm1 6zm0-4zm0-14zm0-16zm0-13zm1 12zm0 18zm0 9zm0 1zm0 2zm1-1zm0-3zm0-13zm0-2zm0-5zm0-2zm0-8zm1 10zm0 2zm1 9zm0-13zm0-3zm0-2zm1 26zm0 3zm0 5zm1 2zm0-15zm0-5zm0-1zm0-19zm1 13zm0 6zm0 1zm0 9zm0 2zm0 8zm1 0zm0-2zm0-10zm0-10zm0-8zm1-6zm0 2zm0 1zm0 2zm0 2zm0 7zm0 8zm0 6zm1-3zm0-2zm1-13zm1 29zm0-3zm0-16zm1-21zm0 5zm0 15zm1 13zm0-11zm0-8zm0-8zm0-1zm1-5zm0 1zm0 8zm0 25zm1-3zm0-6zm0-7zm0-1zm0-2zm0-9zm1 2zm0 26zm0 2zm1 0zm0-2zm0-3zm1-12zm0 5zm0 1zm0 1zm1 12zm0-4zm0-2zm0-32zm1 2zm0 4zm0 9zm0 6zm1 2zm0-7zm0-12zm1 33zm1 2zm0-41zm1-11zm0 7zm0 43zm1 1zm0-6zm0-1zm0-5zm1-4zm0 6zm0 10zm1-14zm0-20zm0-20zm1 15zm0 17zm0 2zm0 5zm0 7zm0 9zm1 2zm0-2zm0-2zm0-5zm0-24zm0-16zm1 18zm1 20zm0-14zm0-11zm0-5zm1 10zm0 19zm0 4zm0 7zm0 3zm1-13zm0-3zm0-20zm1 0zm0 4zm0 11zm0 1zm0 10zm0 5zm1 0zm0-19zm0-4zm0-5zm0-3zm0-7zm1 13zm0 2zm0 7zm0 7zm0 5zm1-4zm0-21zm0-6zm0-13zm1 28zm0 7zm1 12zm0-10zm0-5zm0-1zm0-5zm0-5zm1-22zm0 34zm0 5zm0 3zm0 2zm0 4zm0 2zm1 2zm0-21zm0-22zm1 12zm0 19zm0 3zm0 7zm1-2zm0-18zm0-4zm0-8zm0-2zm1 21zm0 11zm1-6zm0-5zm0-5zm0-2zm0-4zm0-9zm0-3zm1-4zm0 7zm0 2zm0 5zm0 16zm1-5zm0-11zm0-20zm1 9zm0 7zm0 13zm0 16zm1-4zm0-4zm0-6zm0-3zm0-14zm0-2zm1 2zm0 18zm0 4zm0 7zm1-15zm0-14zm0-1zm1 0zm0 17zm0 4zm0 10zm1 2zm0-6zm0-12zm0-3zm0-9zm0-3zm0-18zm1 16zm0 2zm0 1zm0 2zm1 5zm0-5zm1-6zm0 1zm0 32zm0 1zm1 0zm0-5zm0-1zm0-6zm0-6zm0-9zm0-2zm0-3zm1-14zm0 7zm0 30zm0 1zm0 4zm0 1zm1 1zm0-13zm0-14zm1-3zm0 11zm0 22zm1-2zm0-25zm0-1zm0-7zm1-21zm0 18zm0 13zm0 8zm0 11zm0 4zm1-2zm0-29zm0-2zm0-1zm2-1zm0 22zm0 7zm0 4zm0 1zm0 1zm0 2zm0 1zm1-6zm0-8zm1-19zm0 10zm0 5zm0 4zm1 13zm0-1zm0-3zm0-25zm1-6zm0 8zm0 2zm0 12zm0 2zm0 1zm1 5zm0-11zm0-2zm0-9zm0-9zm1-15zm0 7zm0 7zm0 4zm0 5zm0 12zm0 4zm0 2zm0 10zm1 0zm0-1zm0-8zm0-2zm0-11zm0-6zm1-25zm0 20zm0 9zm0 10zm0 1zm0 3zm0 10zm1-2zm1-21zm0 6zm0 16zm1 2zm0-4zm0-43zm1 12zm0 2zm0 5zm0 18zm1 6zm0-1zm0-6zm0-6zm0-14zm0-9zm0-8zm1 17zm0 23zm0 5zm0 3zm1-5zm0-1zm0-3zm0-34zm1 27zm0 8zm1 2zm0-4zm0-1zm1-12zm0 2zm0 1zm0 3zm0 11zm1 3zm0-3zm0-13zm1-8zm0 15zm0 8zm0 3zm0 1zm1-14zm0-20zm1 4zm0 8zm0 3zm0 5zm0 10zm2 1zm0-1zm0-9zm0-5zm0-7zm0-4zm0-4zm1 3zm0 8zm0 1zm0 14zm0 7zm1-3zm0-12zm0-1zm0-4zm0-4zm1-9zm0 4zm0 2zm0 26zm1-4zm0-1zm0-3zm0-2zm0-1zm1-25zm0 4zm0 15zm0 7zm1 2zm0-11zm1-11zm0 9zm0 10zm1-11zm1-19zm0 11zm0 17zm0 6zm0 1zm0 7zm1 0zm0-17zm1 6zm1 9zm1-22zm0 2zm0 11zm0 4zm1-21zm0-1zm0-11zm1 2zm0 9zm1 11zm0-10zm1 8zm1 4zm0-18zm1 6zm0 26zm1-4zm1-19zm0 8zm0 13zm0 3zm1-29zm0-7zm1 20zm0 5zm0 1zm1 11zm0-36zm1 7zm0 3zm0 9zm0 10zm1 8zm0-1zm0-6zm0-7zm0-23zm1 13zm0 15zm0 8zm1-3zm0-3zm0-10zm0-5zm1 1zm0 3zm0 3zm1 14zm0-11zm0-9zm0-1zm1-8zm0 1zm0 1zm0 1zm0 1zm0 3zm1 16zm0-12zm0-3zm0-7zm0-2zm1 8zm0 22zm2-14zm0-8zm1 11zm0 11zm1-2zm0-12zm0-4zm0-12zm1 4zm0 15zm0 2zm0 4zm0 5zm1-3zm0-10zm0-1zm0-4zm0-8zm1 11zm0 14zm1-15zm0-3zm1 14zm1-6zm0-1zm1-5zm0 2zm0 5zm0 4zm2 1zm0-8zm0-4zm0-8zm1 11zm0 6zm1 8zm0-6zm1-18zm0 1zm0 6zm0 8zm1 4zm0-19zm1 0zm0 3zm0 9zm0 11zm1 1zm0-9zm0-25zm1 14zm0 9zm1 6zm0-16zm0-2zm1 23zm1-6zm0-26zm1 2zm0 22zm0 1zm0 2zm0 2zm1-2zm0-4zm1-27zm1 26zm0-8zm0-2zm1 11zm0 4zm1 3zm0-2zm0-17zm1 3zm0 6zm0 2zm0 3zm0 2zm0 3zm1 3zm0-3zm0-7zm1-15zm0 2zm0 1zm0 5zm0 22zm2-11zm1-13zm0 1zm0 16zm1-4zm0-8zm0-6zm1 4zm0 3zm0 10zm1 1zm1-17zm0 6zm0 12zm1-14zm1-10zm1 7zm0-6zm0-4zm1 26zm1-8zm1-15zm0 10zm0 5zm1 3zm0-7zm1 1zm0 3zm0 3zm0 6zm1-19zm0-4zm1 18zm1 4zm0-13zm1-5zm0 9zm0 2zm0 3zm1 6zm0-3zm0-9zm1-12zm0 24zm1-1zm0-9zm0-8zm1 11zm1 1zm0-5zm1-7zm0 10zm0 11zm1-8zm0-7zm0-6zm1-7zm0 22zm1-5zm0-11zm1 4zm0 10zm1-1zm0-12zm1-7zm1 23zm0-6zm0-7zm0-7zm1 4zm0 3zm0 3zm0 8zm0 1zm1-8zm0-6zm1-18zm0 16zm0 16zm0 2zm1 1zm0-3zm0-9zm1-3zm0 5zm1 2zm0-25zm1 5zm0 12zm0 12zm0 4zm1-6zm0-8zm1 1zm0 13zm1-15zm1-2zm0 16zm1-1zm0-30zm1 15zm1 15zm0-11zm1-15zm0 25zm0 2zm0 1zm1-2zm0-5zm0-1zm0-2zm0-2zm0-3zm1-3zm0 1zm2 12zm0-7zm1-5zm0 2zm0 2zm1 12zm0-2zm0-2zm0-3zm0-1zm1-16zm0 22zm1 0zm0-3zm0-5zm1 6zm0 2zm0 3zm1-2zm1-10z" stroke="#a6dff4" stroke-width="4.5" stroke-linecap="round" fill="none"/><path d="M1548 1012zm1 30zm0-24zm0-8zm1 19zm2-14zm2 14zm0 8zm0 2zm1 42zm1-43zm0 15zm3 15zm1-4zm0 8zm0 5zm0 1zm1-28zm1 38zm3-24zm1 5zm3 20zm0-19zm0-30zm6 37zm1-13zm0-6zm1 27zm2 1zm0-30zm2-14zm0 38zm1-30zm1 47zm2 14zm1-40zm0 12zm1-1zm0-31zm8 28zm2 8zm3 4zm2-1zm1 4zm2-23zm1 24zm4-42zm2-1zm0 34zm2-22zm2-8zm0 1zm1 18zm2-10zm1 40zm0-2zm0-2zm2-28zm3 38zm1-38zm1 30zm0-2zm0-29zm1-4zm1 50zm0-39zm1-14zm0 53zm3-34zm3-6zm0 20zm1 6zm0-10zm3-15zm0 25zm0 13zm2 1zm0-23zm0-2zm5-17zm0 52zm1-37zm12 33zm1-35zm0-15zm2 12zm0 14zm4 9zm0-14zm0-1zm0-8zm0-2zm4 17zm3 13zm2-18zm2 10zm1-3zm1-7zm6 9zm0 24zm2-6zm1-10zm2-21zm4-9zm3 47zm1-5zm0 9zm1 1zm1-42zm1-1zm0-2zm2 28zm0 8zm1-18zm2 5zm1 18zm2-33zm0 39zm2-23zm5 1zm3-2zm3 1zm1 10zm2-15zm1 11zm0-18zm1 9zm2 27zm0-20zm0-17zm2 26zm0 8zm1 3zm2-11zm0 14zm5-22zm2 15zm2-7zm2-12zm3 18zm0-23zm4-5zm1 14zm5 6zm3-28zm4 9zm0 9zm2 21zm1-5zm0 4zm1-9zm4 2zm9-12zm4 11zm2-2zm1-5zm3 13zm2-11zm7 1zm8-2zm0 3zm1 8zm4-5zm3 14zm5-12zm1 11zm4-22zm14 15zm3 6zm2-6zm8-4zm0 8zm10 2zm39 4zm1-1z" stroke="#f1c690" stroke-width="4.5" stroke-linecap="round" fill="none"/>
<path d="M1547.7 902.5V1212.9M1593.3 902.5V1212.9M1638.9 902.5V1212.9M1684.5 902.5V1212.9M1730.1 902.5V1212.9M1775.7 902.5V1212.9M1821.3 902.5V1212.9M1866.9 902.5V1212.9M1912.5 902.5V1212.9M1958.1 902.5V1212.9" stroke="#c2c2c2" stroke-width="1.3" stroke-dasharray="4 4.3" fill="none"/>
<path d="M1550.8 1084 1921.5 1139.2" fill="none" stroke="#000" stroke-width="2.0" stroke-linejoin="round" stroke-dasharray="9 5.5"/>
<path d="M1550.8 1054.3 1921.5 1176.6" fill="none" stroke="#000" stroke-width="2.1" stroke-linejoin="round"/>
<path d="M1551.5 1023.8 1556.1 1029.8 1561.3 1040.3 1568.3 1050.8 1577.1 1059.5 1585.8 1064.8 1596.3 1071.7 1606.8 1077.7 1617.3 1082.2 1627.8 1089.2 1638.3 1094.5 1648.7 1098.7 1659.2 1103.2 1669.7 1108.5 1680.2 1112 1690.7 1114.8 1697.7 1114.8 1708.2 1120 1718.7 1124.9 1729.2 1127.7 1739.7 1132.2 1753.6 1135.7 1767.6 1135.4 1778.1 1134 1792.1 1135.4 1809.6 1135.7 1827.1 1136.4 1844.5 1137.1 1862 1137.5 1879.5 1138.9 1893.5 1139.9 1904 1143.4 1911 1148.7 1918 1149.7 1922.2 1145.2" fill="none" stroke="#a232f2" stroke-width="2.0" stroke-linejoin="round"/>
<path d="M1551.5 1045.5 1556.1 1057.8 1561.3 1071.7 1566.6 1084.7 1571.8 1092 1578.8 1094.5 1585.8 1091 1592.8 1086.8 1599.8 1087.5 1606.8 1092.7 1617.3 1101.5 1624.3 1105 1631.3 1103.2 1638.3 1098 1645.2 1099.7 1652.2 1106.7 1659.2 1114.8 1666.2 1117.9 1673.2 1115.5 1680.2 1108.5 1687.2 1106.7 1694.2 1108.5 1704.7 1117.2 1715.2 1124.9 1722.2 1121.4 1729.2 1115.5 1739.7 1115.5 1750.1 1119 1760.6 1117.2 1771.1 1112 1781.6 1110.2 1792.1 1113.7 1802.6 1120.7 1813.1 1121.4 1823.6 1119 1834.1 1120.7 1844.5 1124.2 1855 1126.6 1865.5 1126.6 1876 1128.4 1886.5 1129.4 1893.5 1124.2 1898.7 1120.7 1904 1121.4 1909.2 1117.2 1914.5 1120.7 1918 1117.2 1922.2 1121.7" fill="none" stroke="#f01a1a" stroke-width="2.4" stroke-linejoin="round"/>
<path d="M1527 898.5V1212.9H1978" stroke="#222" stroke-width="1.1" fill="none"/><path d="M1527 909.7h-3.5M1527 981.6h-3.5M1527 1053.7h-3.5M1527 1125.6h-3.5M1527 1198.2h-3.5M1547.7 1212.9v3.5M1593.3 1212.9v3.5M1638.9 1212.9v3.5M1684.5 1212.9v3.5M1730.1 1212.9v3.5M1775.7 1212.9v3.5M1821.3 1212.9v3.5M1866.9 1212.9v3.5M1912.5 1212.9v3.5M1958.1 1212.9v3.5" stroke="#222" stroke-width="1" fill="none"/>
<rect x="1524.3" y="840" width="462.9" height="49.3" rx="3" fill="#000"/><rect x="1531.7" y="847.4" width="448.1" height="34.5" fill="#ecc48c"/><text x="1755.8" y="879.5" font-size="39.1" text-anchor="middle" >H51</text>
<path d="M149 1352zm0 28zm0 10zm0 33zm0 5zm0 10zm0 8zm0 10zm0 2zm0 6zm0 1zm1-18zm0-10zm0-6zm0-10zm0-3zm0-3zm0-8zm0-36zm0-9zm0-5zm0-16zm1 23zm0 18zm0 1zm0 1zm0 55zm0 3zm0 18zm0 9zm1-8zm0-4zm0-20zm0-2zm0-67zm0-7zm1 34zm0 62zm0 7zm1 5zm0-10zm0-43zm0-1zm0-4zm0-17zm0-8zm0-24zm0-4zm1 53zm1 51zm0-6zm0-31zm0-54zm0-10zm1 18zm0 7zm0 3zm0 15zm0 11zm0 44zm0 12zm1-5zm0-8zm0-3zm0-2zm0-21zm0-5zm0-2zm0-3zm0-53zm1 19zm0 20zm0 5zm0 28zm0 33zm1-74zm0-31zm1 0zm0 30zm0 1zm0 15zm0 17zm0 25zm0 7zm0 11zm1-29zm0-1zm0-34zm0-10zm0-2zm0-26zm0-8zm1 17zm0 14zm0 22zm0 28zm1 31zm0-1zm0-17zm0-58zm0-4zm0-4zm0-2zm0-6zm0-2zm0-7zm1 31zm0 15zm0 11zm1 30zm0-12zm0-38zm0-15zm0-17zm0-1zm1 43zm1 45zm0-2zm0-30zm0-5zm0-9zm0-3zm0-29zm1 22zm0 72zm1-10zm0-19zm0-18zm0-2zm0-2zm0-35zm1-16zm0 11zm0 15zm0 12zm0 5zm0 4zm0 45zm0 4zm0 5zm1 8zm0-23zm0-1zm0-11zm0-4zm0-9zm0-8zm0-21zm0-11zm1-17zm0 17zm0 2zm0 19zm0 7zm0 2zm0 3zm0 2zm0 6zm0 12zm0 8zm1 2zm0-5zm0-44zm0-16zm0-2zm0-12zm1 5zm0 37zm0 13zm0 49zm1-15zm0-2zm0-1zm0-1zm0-9zm0-62zm0-8zm1 5zm0 43zm0 14zm0 8zm0 17zm0 2zm0 6zm1-14zm0-7zm0-6zm0-13zm0-39zm0-23zm0-5zm1 6zm0 55zm0 24zm0 3zm0 16zm1-27zm0-3zm0-1zm0-40zm0-8zm0-2zm0-13zm1 3zm0 25zm0 17zm0 7zm0 3zm0 3zm0 15zm0 4zm1 14zm0-1zm0-27zm0-9zm0-17zm0-4zm0-30zm1 27zm0 8zm0 2zm1 43zm0-2zm0-10zm1-71zm0 13zm0 42zm0 14zm0 16zm0 11zm1 5zm0-1zm0-17zm0-26zm0-14zm0-18zm0-1zm0-1zm0-20zm0-6zm1 5zm0 3zm0 32zm0 6zm0 4zm0 7zm0 10zm0 6zm1 20zm0-3zm0-54zm0-20zm1-3zm0 11zm0 6zm0 1zm0 4zm0 23zm0 14zm0 27zm1 14zm0-16zm0-64zm1 0zm0 23zm0 9zm0 3zm0 15zm0 6zm1 3zm0-19zm0-6zm0-18zm0-14zm0-22zm1 26zm0 32zm0 15zm0 10zm1 0zm0-1zm0-51zm0-35zm1 45zm0 7zm0 8zm0 6zm0 7zm0 1zm0 21zm0 1zm1-50zm1-39zm0 17zm0 15zm0 6zm0 20zm0 27zm0 15zm1-1zm0-25zm0-27zm0-41zm0-7zm1 23zm0 1zm0 7zm0 23zm0 3zm0 3zm0 1zm0 3zm0 13zm0 10zm0 12zm1-9zm0-2zm0-51zm0-28zm0-4zm0-8zm1 11zm0 26zm0 20zm0 21zm0 5zm0 1zm1-3zm0-5zm0-17zm0-33zm0-10zm0-2zm1 16zm0 6zm0 7zm0 8zm0 5zm0 2zm0 28zm1-5zm0-18zm0-9zm1-24zm0 7zm0 5zm0 29zm0 6zm0 7zm0 5zm1-12zm0-14zm0-15zm0-4zm0-29zm1 35zm0 2zm0 9zm0 4zm0 27zm0 5zm1-8zm0-6zm0-13zm0-4zm0-8zm0-1zm0-14zm1-17zm0 15zm0 10zm0 23zm0 12zm0 14zm1-8zm0-21zm0-33zm1-15zm0 9zm0 8zm0 22zm0 6zm0 1zm0 22zm0 2zm0 2zm0 1zm1-18zm0-8zm1-51zm0 19zm0 1zm0 17zm0 23zm1 19zm0-5zm0-31zm0-5zm0-27zm0-7zm1 4zm0 1zm0 11zm0 10zm0 39zm0 4zm0 3zm0 7zm1-6zm0-3zm0-3zm0-30zm0-4zm0-1zm0-6zm0-11zm0-9zm1-12zm0 2zm0 8zm0 42zm1 30zm0-33zm0-11zm0-4zm0-13zm1-9zm0 4zm0 16zm0 9zm0 26zm0 13zm1 12zm0-20zm0-3zm0-7zm0-11zm0-29zm1-4zm0 3zm0 9zm0 18zm0 4zm0 18zm0 4zm1-9zm0-16zm1-35zm0 11zm0 27zm0 5zm0 9zm0 20zm1-11zm0-12zm0-16zm0-7zm0-19zm0-5zm1 2zm0 41zm0 3zm0 4zm0 18zm1 1zm0-1zm0-12zm0-3zm0-33zm0-1zm0-5zm0-1zm1-2zm0 28zm0 31zm1-36zm0-2zm0-23zm0-2zm1 9zm0 20zm1 24zm0-5zm0-1zm0-40zm1-8zm0 4zm0 29zm1 17zm0-4zm0-4zm0-20zm0-16zm0-2zm0-6zm1-8zm0 8zm0 19zm0 39zm0 2zm1 0zm0-29zm0-16zm1-11zm0 3zm0 6zm0 27zm1 28zm0-23zm0-4zm0-12zm0-15zm1-10zm0 5zm0 4zm0 4zm0 15zm0 3zm0 2zm0 3zm0 9zm1 22zm0-6zm0-3zm0-26zm0-4zm0-4zm0-4zm0-1zm0-1zm0-18zm1-4zm0 4zm0 2zm0 22zm0 32zm0 8zm1-21zm0-7zm1-29zm0 33zm0 15zm1-4zm0-15zm0-12zm0-8zm0-11zm1 12zm0 3zm0 14zm0 17zm1-5zm0-28zm0-1zm1-15zm0 2zm0 11zm0 18zm0 29zm1-24zm0-20zm0-5zm0-7zm1-3zm0 8zm0 3zm0 5zm0 58zm1-31zm1-58zm0 35zm0 16zm0 12zm0 4zm0 4zm0 7zm1-3zm0-7zm0-16zm1-32zm0 20zm1 8zm0-9zm1-21zm0 2zm0 14zm0 26zm0 3zm0 13zm0 3zm0 2zm1-3zm0-43zm0-1zm0-11zm1 24zm0 18zm0 7zm0 1zm1 8zm0-34zm0-28zm2 31zm0 15zm0 3zm0 12zm1-3zm0-5zm0-17zm0-2zm0-16zm0-5zm1-17zm0 5zm0 27zm0 5zm0 2zm1 16zm0-30zm0-9zm1 26zm0 8zm1-27zm0-10zm0-12zm1 10zm0 11zm0 6zm0 6zm0 6zm1 24zm0-16zm1-43zm0 19zm0 3zm0 1zm0 11zm0 13zm1 1zm0-33zm0-2zm0-9zm0-5zm1 6zm0 2zm0 29zm0 12zm0 1zm0 3zm1 6zm0-6zm0-6zm0-14zm0-7zm1-26zm0 45zm0 11zm0 7zm1-31zm0-4zm0-4zm0-11zm0-4zm0-6zm0-2zm0-2zm0-6zm1 8zm0 6zm0 9zm0 3zm0 33zm0 7zm0 3zm1 9zm0-21zm0-1zm0-5zm0-3zm0-8zm0-7zm0-15zm0-2zm1 3zm0 20zm0 7zm0 3zm0 6zm1 13zm0-13zm0-12zm0-3zm0-7zm1 1zm0 2zm0 5zm0 16zm0 5zm1 13zm0-44zm0-1zm0-14zm1 25zm0 4zm1 14zm0-5zm0-3zm0-7zm1-28zm0 2zm0 14zm0 21zm0 16zm1 10zm0-9zm0-12zm0-21zm1-17zm0 6zm0 26zm0 16zm0 4zm1-13zm1-34zm0 16zm0 4zm0 13zm0 2zm0 1zm1-18zm0-7zm1-14zm0 2zm0 15zm0 2zm0 12zm1 9zm0-2zm1-12zm0 1zm0 12zm1-15zm0-11zm2-20zm0 15zm0 12zm0 10zm0 9zm0 11zm1-8zm0-19zm0-4zm1 2zm1 28zm0-5zm0-11zm0-2zm0-1zm0-11zm0-12zm1-11zm0 24zm0 2zm0 26zm1-13zm0-14zm0-13zm1 42zm1-1zm0-11zm0-31zm1 6zm0 4zm0 23zm0 19zm1-30zm0-12zm1-21zm0 25zm0 1zm0 14zm0 4zm0 9zm1-29zm0-2zm0-8zm0-1zm1-1zm0 14zm0 24zm0 7zm1-8zm0-12zm0-3zm0-11zm0-5zm1-2zm0 21zm1 17zm0-18zm0-3zm0-5zm0-8zm1 3zm0 4zm0 7zm0 16zm1-14zm0-12zm0-6zm1-3zm0 19zm0 8zm1 3zm0-10zm1 13zm1-5zm1-18zm0 18zm0 12zm1-13zm0-15zm0-18zm1 23zm0 7zm2 27zm0-31zm1-15zm0 24zm1 3zm0-11zm0-14zm0-1zm1 6zm0 19zm0 20zm1-20zm1-18zm1 16zm0-9zm0-1zm0-16zm1 4zm0 12zm0 2zm0 17zm1-6zm0-13zm0-12zm1 0zm1 18zm0-8zm0-8zm1 2zm1 30zm0-8zm0-6zm0-3zm0-4zm0-9zm1 7zm0 15zm1-7zm0-15zm1 30zm1 2zm0-18zm0-10zm1 1zm0 16zm1 10zm0-8zm0-16zm1 25zm1 0zm0-15zm0-8zm1 7zm0 2zm0 4zm0 14zm1-31zm1 5zm0 20zm0 1zm0 2zm1-5zm0-2zm0-8zm0-4zm0-11zm2 1zm0 11zm1 14zm1-11zm1 17zm0-3zm0-27zm2 5zm0 19zm1-3zm0-2zm0-18zm0-7zm1 20zm1-4zm1 3zm0 1zm0 15zm0 3zm1-21zm0-5zm1-3zm0 27zm1-10zm0-1zm1-17zm0 1zm0 1zm0 4zm1 19zm0-3zm1-20zm0 5zm0 5zm0 10zm0 1zm0 5zm2 9zm1-41zm0 6zm1 24zm0-1zm1-19zm0 19zm2-23zm1 8zm0 23zm1-12zm1-2zm1 16zm0-11zm0-10zm0-6zm1-12zm0 11zm0 16zm0 8zm0 3zm1-7zm0-2zm0-20zm1 1zm0 13zm0 5zm1-19zm1 3zm1 19zm0-14zm1-14zm0 21zm0 4zm0 4zm1-7zm1-3zm1-5zm1 3zm2 12zm0-15zm1-4zm0 3zm1 16zm1-20zm0 1zm0 9zm0 8zm0 8zm1-5zm0-10zm1-18zm0 22zm1-6zm0-3zm1-4zm0 6zm0 8zm1 3zm1-22zm0 2zm0 3zm0 1zm0 8zm0 9zm2-20zm0-1zm1 21zm1-1zm0-3zm0-12zm1-2zm0 2zm0 8zm0 1zm0 5zm4-5zm1 9zm2-15zm1 15zm1-1zm0-19zm1 15zm1 10zm0-3zm0-6zm0-16zm1 7zm1 6zm0-1zm1-2zm0 3zm0 8zm1 2zm0-16zm0-6zm1 6zm1 20zm0-23zm3-3zm0 7zm2 12zm0-6zm1-10zm0 1zm0 6zm0 7zm1-9zm0-2zm0-9zm1 5zm0 15zm0 2zm1-1zm0-1zm0-24zm1 7zm0 17zm1-10zm0-1zm0-1zm0-2zm1 9zm0 3zm0 2zm1-1zm0-4zm1-11zm3 26zm0-13zm0-3zm0-3zm2-5zm0 17zm2-10zm0-11zm3-6zm0 34zm1-22zm1 2zm0 2zm1 24zm2-34zm0 14zm0 10zm1-15zm1 12zm1 9zm0-12zm0-19zm1 26zm0 6zm3-11zm0-1zm0-3zm0-9zm1 2zm2 4zm2-5zm0 1zm1-5zm1 11zm2-12zm1 7zm1 1zm2-12zm0 6zm1 11zm0-13zm1 1zm0 8zm1 0zm4-10zm0 4zm1 12zm0-19zm1 5zm2 20zm1-17zm0 8zm1-10zm1 0zm3 14zm2-14zm0 8zm0 1zm0 1zm3 5zm0-12zm1-1zm0 5zm0 5zm1-2zm0-11zm1 1zm1 3zm0-3zm0-3zm1-1zm0 4zm0 3zm0 4zm0 2zm0 4zm1-13zm1-2zm0 13zm1 0zm0-2zm0-17zm1 3zm0 3zm1 14zm1 1zm1-18zm0-8zm1 4zm0 16zm1-18zm1 18zm2-21zm1 13zm0 13zm1-11zm1-6zm0 16zm0 2zm2 7zm1-10zm1 1zm0-10zm1 2zm1 8zm0-10zm3 18zm1-7zm1-16zm0 18zm1-3zm1-18zm0 15zm1 0zm0-3zm1 0zm2 3zm0-10zm1 14zm2-12z" stroke="#f1c690" stroke-width="4.5" stroke-linecap="round" fill="none"/><path d="M149 1349zm0 23zm0 15zm0 12zm0 49zm0 10zm0 8zm0 8zm1-12zm0-21zm0-19zm0-19zm0-5zm0-14zm0-1zm0-12zm1 8zm0 1zm0 10zm0 13zm0 13zm0 2zm0 7zm0 6zm0 15zm0 14zm0 9zm0 8zm1-23zm0-3zm0-21zm0-14zm0-11zm0-10zm0-26zm1 12zm0 1zm0 21zm0 8zm0 22zm0 1zm0 1zm0 7zm0 12zm0 6zm1 5zm0-8zm0-24zm0-8zm0-4zm0-2zm0-3zm0-20zm1-13zm0 1zm0 1zm0 8zm0 4zm0 24zm0 4zm0 19zm0 3zm0 5zm0 11zm0 9zm0 1zm1 10zm0-15zm0-11zm0-5zm0-10zm0-16zm0-2zm0-6zm0-7zm0-15zm0-4zm0-6zm1 8zm0 13zm0 47zm0 5zm0 20zm1 1zm0-8zm0-10zm0-25zm0-8zm0-2zm0-4zm0-1zm0-15zm0-1zm0-17zm0-2zm0-1zm1 1zm0 44zm0 2zm0 18zm0 16zm0 4zm0 9zm1-11zm0-16zm0-9zm0-3zm0-2zm0-11zm0-1zm0-26zm1-24zm0 11zm0 3zm0 23zm0 6zm0 8zm0 2zm0 8zm0 9zm0 9zm0 3zm0 2zm0 6zm0 12zm0 3zm1-13zm0-8zm0-1zm0-28zm0-4zm0-31zm1 1zm0 15zm0 21zm0 2zm0 42zm1 9zm0-12zm0-6zm0-3zm0-2zm0-3zm0-14zm0-3zm0-5zm0-6zm0-14zm1-16zm0 21zm0 7zm0 9zm0 13zm0 6zm0 1zm1 21zm0-6zm0-14zm0-28zm0-11zm0-6zm0-7zm0-3zm0-12zm0-1zm0-9zm1 12zm0 13zm0 8zm0 3zm0 3zm0 2zm0 5zm0 7zm0 8zm0 16zm0 13zm0 2zm0 6zm1-1zm0-2zm0-1zm0-25zm0-4zm0-6zm0-24zm0-2zm0-2zm1-19zm0 4zm0 11zm0 4zm0 2zm0 3zm0 19zm0 11zm0 3zm0 12zm0 13zm0 3zm1 4zm0-9zm0-3zm0-11zm0-1zm0-4zm0-17zm0-7zm0-6zm0-3zm0-1zm0-6zm0-7zm0-9zm0-21zm1 4zm0 6zm0 9zm0 3zm0 10zm0 36zm0 14zm0 7zm0 10zm0 2zm0 9zm1-15zm0-10zm0-3zm0-3zm0-45zm0-8zm1-19zm0 28zm1 59zm0-1zm0-7zm0-33zm0-7zm0-5zm0-2zm0-7zm0-1zm1-5zm0 12zm0 2zm0 4zm0 1zm0 1zm0 8zm0 2zm0 9zm0 21zm0 5zm0 11zm0 7zm1-11zm0-31zm0-4zm0-9zm0-17zm0-10zm0-6zm0-7zm1-5zm0 24zm0 1zm0 13zm0 22zm0 8zm0 2zm0 6zm0 12zm0 11zm1 8zm0-18zm0-2zm0-4zm0-13zm0-1zm0-6zm0-5zm0-22zm0-4zm0-14zm0-1zm0-3zm0-13zm1 17zm0 1zm0 5zm0 8zm0 15zm0 19zm0 11zm0 12zm0 5zm1-30zm0-9zm0-8zm0-1zm0-4zm0-2zm0-1zm0-1zm0-12zm0-5zm0-3zm1-20zm0 15zm0 9zm0 6zm0 20zm0 11zm0 10zm0 4zm0 5zm0 2zm0 1zm0 12zm1 1zm0-6zm0-1zm0-6zm0-2zm0-6zm0-12zm0-17zm0-3zm1-22zm0 1zm0 18zm0 23zm0 10zm0 10zm0 23zm1-18zm0-10zm0-19zm0-21zm0-7zm0-2zm0-6zm0-4zm0-20zm1 16zm0 19zm0 14zm0 53zm1 7zm0-1zm0-24zm0-1zm0-11zm0-4zm0-3zm0-11zm0-35zm0-2zm1 1zm0 8zm0 1zm0 8zm0 2zm0 2zm0 8zm0 10zm0 14zm1 29zm0-17zm0-6zm0-11zm0-18zm0-25zm0-5zm1 1zm0 14zm0 8zm0 6zm0 6zm0 15zm0 32zm1-19zm0-1zm0-3zm0-5zm0-13zm0-5zm0-1zm0-1zm0-26zm1-17zm0 41zm0 3zm0 12zm0 6zm0 21zm0 3zm0 18zm1-19zm0-24zm0-34zm1 0zm0 23zm0 22zm0 7zm0 10zm0 7zm1-8zm0-22zm0-1zm0-22zm0-14zm0-2zm0-1zm0-22zm1-4zm0 3zm0 12zm0 1zm0 8zm0 2zm0 1zm0 11zm0 3zm0 9zm0 15zm0 18zm1 5zm0-4zm0-14zm0-3zm0-4zm0-3zm0-14zm0-30zm0-1zm0-3zm0-20zm0-5zm1 22zm0 4zm0 9zm0 3zm0 3zm0 17zm0 16zm0 10zm0 17zm1-12zm0-3zm0-12zm0-2zm0-25zm0-9zm0-14zm1-5zm0 10zm0 4zm0 19zm0 1zm0 9zm0 3zm0 4zm0 12zm0 5zm0 1zm0 12zm0 19zm1-16zm0-1zm0-5zm0-5zm0-5zm0-5zm0-1zm0-19zm0-21zm0-14zm1 37zm0 15zm0 14zm0 15zm1-4zm0-49zm0-19zm0-1zm0-8zm0-16zm1-1zm0 2zm0 21zm0 16zm0 5zm0 8zm0 1zm0 3zm0 54zm1-31zm0-16zm0-16zm0-7zm0-15zm1-30zm0 34zm0 5zm0 7zm0 1zm0 4zm0 2zm0 8zm0 4zm0 11zm0 2zm0 2zm0 11zm1 4zm0-14zm0-10zm0-4zm0-32zm0-6zm1-2zm0 13zm0 12zm0 3zm0 9zm0 20zm0 7zm0 6zm0 1zm1-22zm0-3zm0-14zm0-4zm0-4zm0-6zm0-9zm0-8zm0-12zm1 14zm0 6zm0 24zm0 8zm0 21zm0 3zm0 2zm1 1zm0-1zm0-20zm0-13zm0-4zm0-10zm0-14zm0-2zm0-2zm0-4zm1-15zm0 6zm0 22zm0 7zm0 16zm0 2zm0 3zm1 18zm0-46zm1-34zm0 21zm0 4zm0 5zm0 34zm0 3zm0 39zm1-7zm0-17zm0-10zm0-39zm0-1zm0-3zm1-21zm0 1zm0 19zm0 35zm0 13zm0 2zm0 4zm0 16zm0 2zm1-69zm0-11zm1 8zm0 26zm0 4zm0 2zm0 2zm0 3zm0 10zm0 12zm1 3zm0-6zm0-26zm0-3zm0-13zm0-3zm0-4zm0-6zm0-5zm0-1zm1 1zm0 2zm0 4zm0 1zm0 26zm0 25zm0 4zm1 1zm0-8zm0-4zm0-8zm0-4zm0-2zm0-3zm0-2zm0-5zm0-3zm0-40zm1 16zm0 2zm0 4zm0 8zm0 7zm0 21zm0 19zm0 1zm1 4zm0-3zm0-1zm0-8zm0-1zm0-3zm0-5zm0-29zm0-15zm0-1zm0-15zm1 15zm0 3zm0 10zm0 6zm0 13zm0 7zm0 19zm1 5zm0-14zm0-5zm0-10zm0-23zm1 2zm0 14zm0 10zm0 7zm0 8zm0 13zm0 2zm0 8zm1-2zm0-6zm0-17zm0-6zm0-9zm0-5zm0-1zm0-11zm0-18zm1 14zm0 10zm0 12zm0 6zm0 5zm0 6zm0 3zm0 8zm0 13zm1-11zm0-13zm0-3zm0-44zm0-3zm0-4zm1 3zm0 12zm0 14zm0 14zm0 6zm0 13zm1 2zm0-7zm0-10zm0-7zm0-3zm0-12zm0-11zm0-2zm0-6zm1 1zm0 7zm0 9zm0 17zm0 4zm0 3zm0 17zm1 1zm0-25zm0-3zm0-7zm0-9zm0-12zm0-6zm0-21zm1 29zm0 35zm0 15zm1-18zm0-20zm0-5zm0-13zm0-2zm1 20zm0 3zm1 35zm0-30zm0-23zm0-14zm1 5zm0 10zm0 1zm0 4zm0 6zm0 4zm0 16zm0 4zm0 6zm0 15zm0 8zm1-7zm0-12zm0-22zm0-9zm0-17zm1 17zm0 10zm0 4zm0 1zm0 1zm0 3zm0 1zm0 10zm0 1zm0 2zm0 12zm1 12zm0-28zm0-3zm0-8zm0-2zm0-1zm0-7zm1-30zm0 4zm0 15zm0 3zm0 31zm0 5zm1 15zm0-31zm0-5zm0-1zm0-4zm0-3zm1-28zm0 5zm0 17zm0 2zm0 4zm0 20zm0 8zm0 6zm0 2zm0 9zm1-16zm0-3zm0-13zm0-11zm0-1zm0-11zm0-1zm0-18zm1-13zm0 13zm0 11zm0 23zm0 18zm0 9zm0 1zm0 11zm1-13zm0-8zm0-2zm0-9zm0-6zm0-1zm0-27zm1-6zm0 4zm0 21zm0 26zm0 7zm0 6zm1-14zm0-16zm0-20zm1-3zm0 2zm0 24zm0 8zm0 4zm0 10zm1 0zm0-8zm0-24zm0-17zm0-14zm1 9zm0 13zm0 8zm0 26zm0 11zm0 16zm1-27zm0-5zm0-4zm0-4zm0-21zm1-3zm0 9zm0 6zm0 17zm0 1zm0 5zm0 1zm0 9zm0 3zm1-25zm0-30zm0-5zm0-8zm1-6zm0 23zm0 2zm0 2zm0 2zm0 4zm0 19zm0 5zm0 11zm1 4zm0-10zm0-2zm0-3zm0-63zm1 25zm0 14zm0 12zm0 1zm0 1zm0 7zm0 9zm0 1zm0 9zm1-2zm0-5zm0-3zm0-10zm0-6zm0-3zm0-11zm1-7zm0 12zm0 21zm0 11zm0 2zm1 1zm0-14zm0-14zm0-33zm1 10zm0 36zm0 1zm0 2zm1 10zm0-11zm0-7zm0-13zm0-10zm1-10zm0 13zm0 6zm0 13zm1 19zm0-30zm0-6zm0-1zm0-21zm1 27zm0 24zm0 14zm0 1zm1-21zm0-8zm0-10zm0-19zm0-6zm1-15zm0 56zm1 11zm0-25zm0-3zm0-30zm1 47zm0 8zm0 4zm1 3zm0-9zm0-5zm0-28zm0-2zm1-3zm0 13zm0 4zm0 6zm0 1zm0 5zm0 14zm1-14zm0-13zm1-24zm0 21zm0 7zm0 8zm0 11zm1 9zm0-1zm0-4zm0-7zm0-31zm0-5zm1-25zm0 27zm0 17zm0 5zm0 5zm0 10zm1 11zm0-6zm0-7zm0-36zm1 0zm0 11zm0 3zm0 1zm0 14zm0 7zm1 10zm0-4zm0-24zm0-4zm0-4zm0-7zm1-8zm0 5zm0 2zm0 3zm0 14zm0 9zm1 5zm0-4zm0-7zm0-8zm0-12zm1 1zm0 10zm0 3zm0 36zm0 5zm1-18zm0-3zm0-12zm0-6zm0-4zm0-3zm0-1zm1-3zm0 3zm0 11zm0 7zm0 13zm1-3zm0-9zm0-3zm0-2zm0-21zm1-29zm0 15zm0 12zm0 7zm0 21zm0 18zm0 5zm1-24zm0-24zm1-14zm0 19zm0 7zm0 8zm0 18zm1 7zm0-4zm0-11zm0-17zm0-10zm1-17zm0 18zm0 8zm0 10zm0 9zm0 12zm1-27zm1-22zm0 4zm0 35zm0 2zm0 4zm1 0zm0-19zm0-3zm0-8zm0-28zm1 34zm0 18zm0 10zm1-2zm0-4zm0-1zm0-3zm0-3zm0-16zm0-10zm0-3zm0-15zm1 42zm0 15zm0 9zm1-10zm0-6zm0-1zm0-3zm0-5zm0-10zm0-16zm1 15zm0 19zm0 8zm1-24zm0-5zm0-29zm1 40zm0 11zm0 7zm1-9zm0-6zm0-19zm0-3zm0-5zm1-20zm0 28zm0 1zm0 6zm0 7zm0 8zm0 9zm1 10zm0-34zm0-2zm0-5zm0-5zm0-3zm0-10zm1 3zm0 14zm0 1zm0 10zm0 7zm0 13zm0 1zm1 1zm0-1zm0-19zm2-22zm0 4zm0 1zm1 44zm0-13zm0-6zm0-8zm0-16zm1 1zm0 2zm0 14zm0 16zm0 12zm1-9zm0-1zm0-16zm0-5zm0-12zm0-4zm1-2zm0 6zm0 6zm0 31zm1-24zm1-11zm0 17zm0 9zm0 9zm1 1zm0-8zm0-25zm0-2zm0-7zm0-27zm1 44zm0 6zm0 5zm0 7zm0 5zm0 2zm1-35zm0-18zm0-15zm1 0zm0 28zm0 1zm0 4zm0 17zm0 15zm1-5zm0-8zm0-1zm0-3zm1-18zm0 1zm0 5zm0 2zm0 3zm0 3zm0 14zm0 11zm0 5zm1-8zm0-1zm0-4zm0-5zm0-2zm0-17zm1-7zm0 4zm0 18zm0 18zm1-3zm0-4zm0-38zm1-25zm0 37zm0 2zm0 21zm0 7zm0 3zm1 1zm0-2zm0-15zm0-1zm0-20zm1 1zm0 1zm0 17zm0 5zm0 4zm0 2zm1-10zm0-2zm0-16zm0-1zm0-2zm1 34zm1-9zm0-19zm0-4zm1-29zm0 36zm0 3zm0 9zm0 8zm0 2zm0 3zm1 5zm0-35zm0-2zm0-6zm1-30zm0 13zm0 46zm1 10zm0-7zm0-14zm0-26zm1 16zm0 5zm0 7zm0 6zm0 5zm0 1zm1 7zm0-16zm0-13zm1 19zm0 17zm1-11zm0-13zm0-4zm0-9zm0-1zm1-27zm0 11zm0 19zm0 1zm0 7zm0 4zm0 14zm0 7zm1 0zm0-5zm0-7zm0-16zm0-4zm0-2zm0-6zm1-15zm0 20zm0 7zm0 20zm0 10zm1-3zm0-8zm0-20zm0-5zm0-17zm0-12zm1-5zm0 40zm0 4zm0 20zm1-20zm1-7zm0 15zm0 13zm1-39zm1 10zm0 9zm0 3zm0 13zm0 2zm1 6zm0-1zm0-22zm1-34zm0 18zm0 15zm0 17zm1 11zm0-3zm0-20zm0-20zm1 16zm0 4zm0 7zm1 16zm0-26zm0-9zm1-24zm0 35zm0 1zm0 2zm0 5zm1 6zm0-21zm0-1zm1-2zm0 5zm0 1zm0 1zm0 8zm0 7zm0 7zm0 2zm0 3zm0 1zm0 6zm1-20zm0-3zm0-5zm1 0zm0 11zm1-2zm0-46zm1 2zm0 5zm0 1zm0 17zm0 6zm0 4zm0 9zm0 16zm0 1zm1 3zm0-4zm0-1zm0-7zm0-3zm0-4zm0-7zm0-3zm0-10zm0-15zm1-2zm0 18zm0 1zm0 4zm0 4zm0 8zm0 17zm1-3zm0-23zm0-23zm1 17zm0 19zm1 20zm0-6zm0-9zm0-10zm0-5zm0-1zm0-2zm0-13zm1-12zm0 19zm0 24zm0 9zm0 1zm1 11zm0-40zm0-5zm0-10zm1-5zm0 36zm0 12zm1-6zm0-12zm1-15zm0 16zm0 3zm0 3zm0 13zm1-4zm0-6zm0-26zm1-10zm0 15zm0 17zm1-4zm0-6zm0-10zm1 18zm0 17zm1-7zm0-3zm0-4zm0-12zm0-2zm0-2zm0-1zm0-28zm1 26zm0 1zm0 5zm0 15zm1 11zm0-13zm0-6zm0-1zm0-3zm0-1zm0-8zm1-19zm0 3zm0 20zm0 14zm0 8zm0 2zm0 6zm1-6zm0-28zm1-30zm0 39zm0 1zm1 2zm0-9zm1 3zm1 29zm0-22zm0-1zm0-14zm1 5zm0 1zm0 1zm0 11zm0 5zm0 7zm0 1zm1 6zm0-44zm1 6zm0 6zm0 3zm0 9zm0 10zm0 3zm0 2zm0 2zm1 14zm0-12zm0-6zm0-10zm0-4zm0-9zm0-3zm1-7zm0 12zm0 7zm0 16zm0 6zm1-26zm0-5zm0-1zm0-13zm1-22zm0 36zm0 16zm0 1zm0 11zm0 1zm1-8zm0-3zm0-19zm0-7zm1 10zm0 24zm1 7zm0-3zm0-2zm0-27zm1-9zm0 21zm0 8zm0 11zm1-18zm0-28zm0-9zm1 23zm0 17zm0 7zm0 19zm1-22zm0-12zm0-1zm0-1zm0-5zm1 9zm0 21zm0 7zm1-5zm0-1zm0-4zm0-5zm0-9zm0-1zm0-12zm0-22zm0-8zm1 31zm0 10zm0 20zm1-34zm1 5zm0 30zm1 6zm0-5zm0-1zm0-1zm0-49zm1 14zm0 10zm0 1zm0 19zm0 2zm0 5zm1-11zm0-2zm0-12zm0-4zm1-1zm0 30zm2-4zm0-5zm0-6zm1-47zm0 34zm0 7zm0 3zm0 6zm0 12zm1-14zm0-1zm0-4zm0-8zm0-26zm1 12zm0 14zm0 14zm0 15zm1-9zm0-14zm0-4zm0-2zm0-13zm1 8zm0 3zm0 10zm0 13zm1-20zm0-8zm1 6zm0 13zm0 6zm0 2zm0 6zm1 4zm0-19zm0-39zm1 29zm0 2zm0 16zm0 5zm1-12zm0-11zm0-16zm1-2zm0 19zm0 23zm0 2zm1 1zm0-5zm0-6zm0-2zm0-2zm0-32zm1 4zm0 38zm0 8zm1-13zm0-5zm0-4zm0-2zm0-6zm0-9zm0-15zm1-1zm0 40zm0 2zm0 6zm1-17zm0-12zm1-7zm0 10zm0 9zm0 11zm0 6zm0 3zm0 3zm0 2zm1 0zm0-12zm0-6zm1 3zm0 4zm0 1zm1 6zm0-5zm0-1zm0-2zm0-16zm0-17zm1 19zm0 1zm0 17zm0 8zm1 0zm0-9zm0-7zm0-8zm0-30zm1 31zm0 17zm1 2zm0-4zm0-14zm0-6zm0-1zm1 2zm0 8zm0 9zm0 20zm1-32zm0-2zm0-2zm0-4zm1 4zm0 2zm0 7zm0 2zm0 1zm0 13zm1-8zm0-11zm0-3zm1-2zm0 18zm1 1zm0-1zm1-13zm0 18zm1-3zm0-5zm1-15zm0 2zm1 21zm0-45zm1 0zm0 5zm0 5zm0 18zm0 4zm0 15zm1 3zm0-1zm0-19zm0-7zm0-24zm0-7zm1 32zm0 24zm0 3zm1 6zm0-3zm0-5zm0-24zm1 7zm0 1zm1 15zm0-1zm0-6zm0-9zm0-40zm1 39zm0 1zm0 12zm0 1zm0 9zm1-44zm2 8zm0 3zm0 5zm0 3zm0 10zm1 12zm1-24zm0 1zm0 19zm1-1zm0-1zm0-18zm0-28zm1 0zm0 40zm0 4zm0 8zm1-4zm0-2zm1-17zm0 6zm0 5zm0 13zm1-25zm1 4zm0 30zm1-5zm0-30zm1-10zm0 13zm0 12zm0 11zm0 12zm1-14zm0-3zm0-1zm0-6zm0-6zm0-2zm1-30zm1 35zm0-10zm0-1zm0-4zm0-7zm1 16zm0 6zm0 11zm0 13zm1-10zm0-4zm0-6zm0-1zm1-6zm1-5zm0-24zm0-3zm1 30zm0 21zm1 1zm0-2zm0-3zm0-4zm0-7zm0-7zm1-23zm0 37zm0 17zm1-15zm0-9zm1-8zm0 9zm0 1zm0 6zm1-21zm1 16zm0 1zm0 3zm0 7zm1-1zm1-29zm0 11zm0 6zm0 11zm0 13zm1 0zm0-3zm0-20zm0-4zm0-1zm0-2zm0-1zm1-31zm0 31zm0 5zm0 1zm0 3zm1-4zm1-7zm0 6zm0 14zm1-5zm0-1zm0-4zm0-3zm2-3zm1 18zm0-6zm1-11zm0 2zm0 3zm0 4zm0 9zm1-3zm0-8zm0-5zm2-2zm0 6zm0 12zm1 0zm0-9zm0-3zm0-3zm0-4zm0-3zm1 8zm0 4zm1 11zm0-1zm0-7zm0-1zm0-1zm1-9zm0 12zm0 6zm0 8zm1-19zm0-14zm0-10zm1 26zm0 5zm0 6zm1-15zm0-2zm0-1zm0-5zm1 12zm0 1zm1 5zm0-11zm0-1zm1-16zm0 16zm0 1zm0 1zm0 5zm0 9zm1 0zm0-9zm1-9zm0 6zm0 13zm1-1zm0-12zm0-4zm1 14zm1-1zm0-5zm0-5zm0-1zm2 10zm1 5zm0-2zm0-3zm0-3zm1 1zm0 5zm1-5zm1 5zm1-11zm2 13zm1-7zm1 0zm0 3zm1-5zm3-8zm0 15zm2 0zm1-9zm0 6zm2-2zm0-2zm2 3zm3 2z" stroke="#a6dff4" stroke-width="4.5" stroke-linecap="round" fill="none"/>
<path d="M148.3 1275V1584.8M193.5 1275V1584.8M238.7 1275V1584.8M283.9 1275V1584.8M329.1 1275V1584.8M374.3 1275V1584.8M419.5 1275V1584.8M464.7 1275V1584.8M509.9 1275V1584.8M555.1 1275V1584.8" stroke="#c2c2c2" stroke-width="1.3" stroke-dasharray="4 4.3" fill="none"/>
<path d="M151 1429 526.9 1509.4" fill="none" stroke="#000" stroke-width="2.0" stroke-linejoin="round" stroke-dasharray="9 5.5"/>
<path d="M151 1430.8 526.2 1545.5" fill="none" stroke="#000" stroke-width="2.1" stroke-linejoin="round"/>
<path d="M152.1 1386.4 155.6 1399.3 160.8 1413.3 167.8 1425.5 178.3 1436 188.8 1443 199.3 1450 209.8 1457 223.8 1462.2 230.8 1465 241.3 1465 251.7 1469.9 262.2 1476.2 269.2 1477.3 279.7 1482.5 290.2 1485 300.7 1486.7 309.4 1492 318.2 1496.5 328.7 1498.3 337.4 1499 346.2 1502.4 356.6 1504.2 370.6 1505.9 384.6 1505.9 402.1 1505.9 419.6 1506.6 437.1 1508.7 454.5 1509.4 465 1508.7 475.5 1511.9 486 1511.2 493 1509.4 503.5 1514 508.7 1517.5 517.5 1516.4 522.7 1517.5 526.9 1519.9" fill="none" stroke="#a232f2" stroke-width="2.0" stroke-linejoin="round"/>
<path d="M152.1 1416.8 157.3 1427.3 164.3 1437.8 171.3 1444.8 178.3 1446.5 185.3 1442 194.1 1438.8 202.8 1441.3 213.3 1444.8 223.8 1445.8 230.8 1442.3 237.8 1442 244.8 1446.5 251.7 1452.4 258.7 1459.4 265.7 1455.2 274.5 1450.7 283.2 1453.5 293.7 1456.3 300.7 1454.2 309.4 1459.4 318.2 1458.7 325.2 1458 332.2 1461.5 339.2 1469.9 349.7 1474.5 360.1 1474.5 370.6 1477.3 381.1 1480.8 388.1 1485 398.6 1487.4 409.1 1486 419.6 1489.5 430.1 1493.7 437.1 1498.3 445.8 1500.7 454.5 1499 465 1498.3 472 1496.5 482.5 1497.2 489.5 1495.5 496.5 1497.9 503.5 1496.5 510.5 1499 517.5 1506.6 526.9 1508.4" fill="none" stroke="#f01a1a" stroke-width="2.4" stroke-linejoin="round"/>
<path d="M128 1271V1584.8H575" stroke="#222" stroke-width="1.1" fill="none"/><path d="M128 1282.4h-3.5M128 1354.2h-3.5M128 1426h-3.5M128 1497.8h-3.5M128 1569.8h-3.5M148.3 1584.8v3.5M193.5 1584.8v3.5M238.7 1584.8v3.5M283.9 1584.8v3.5M329.1 1584.8v3.5M374.3 1584.8v3.5M419.5 1584.8v3.5M464.7 1584.8v3.5M509.9 1584.8v3.5M555.1 1584.8v3.5" stroke="#222" stroke-width="1" fill="none"/>
<rect x="123" y="1219.1" width="462.1" height="49.2" rx="3" fill="#000"/><rect x="130.4" y="1226.5" width="447.3" height="34.4" fill="#45998a"/><text x="354.1" y="1258.6" font-size="39.1" text-anchor="middle" >H32</text>
<path d="M612 1384zm0 38zm1 0zm0-2zm0-4zm0-10zm0-19zm0-7zm0-4zm1-18zm0 6zm0 15zm0 4zm0 6zm0 64zm1-25zm0-13zm0-22zm0-12zm0-3zm0-19zm1-13zm0 30zm0 12zm0 19zm0 16zm0 13zm0 1zm0 4zm0 6zm0 5zm1-9zm0-4zm0-10zm0-26zm0-33zm1 16zm0 18zm0 39zm1 6zm0-3zm0-16zm0-3zm0-11zm0-19zm1-21zm0 3zm0 5zm0 6zm0 12zm0 21zm0 18zm0 11zm0 9zm1-5zm0-2zm0-2zm0-5zm0-20zm0-6zm0-2zm0-11zm0-2zm0-24zm0-4zm0-19zm1 15zm0 9zm0 1zm0 2zm0 9zm0 26zm0 5zm0 32zm0 6zm2 0zm0-30zm0-10zm0-13zm0-2zm0-2zm0-4zm0-3zm0-12zm0-5zm0-12zm1 20zm0 4zm0 40zm0 21zm1 7zm0-19zm0-6zm0-18zm0-4zm0-37zm1 31zm0 34zm0 10zm1 10zm0-20zm0-6zm0-10zm0-6zm0-13zm0-2zm0-5zm1 3zm0 7zm0 1zm0 14zm0 18zm0 5zm0 8zm1 8zm0-11zm0-15zm0-38zm0-18zm0-4zm0-4zm1 10zm0 16zm0 3zm0 1zm0 47zm0 3zm0 13zm1-3zm0-16zm0-29zm0-23zm0-18zm0-6zm1 46zm0 1zm0 44zm1 2zm0-79zm1-4zm0 5zm0 18zm0 5zm0 12zm1 41zm0-26zm0-32zm1-10zm0 6zm0 32zm0 18zm0 12zm1 2zm0-38zm0-17zm0-3zm0-18zm0-11zm1 13zm0 11zm0 24zm0 1zm0 16zm0 5zm1-27zm0-9zm0-22zm0-3zm1 6zm0 12zm0 17zm0 33zm1 0zm0-38zm0-8zm0-1zm0-2zm0-6zm1-10zm0 2zm0 12zm0 6zm0 12zm0 21zm0 28zm1 1zm0-11zm0-28zm0-19zm0-7zm1-12zm0 7zm0 16zm0 7zm0 14zm0 16zm0 8zm0 14zm0 4zm1-32zm0-27zm0-2zm0-8zm0-16zm0-5zm0-2zm1 29zm0 10zm0 1zm0 4zm0 15zm0 10zm1-42zm0-28zm0-3zm1 21zm0 8zm0 17zm0 38zm1-21zm0-28zm0-17zm1-2zm0 7zm0 5zm0 33zm0 4zm0 13zm1 14zm0-19zm0-2zm0-6zm0-1zm0-5zm0-44zm0-5zm1 17zm0 1zm0 6zm0 6zm1 50zm0-1zm0-13zm0-12zm0-13zm0-20zm0-11zm1-9zm0 22zm0 6zm0 3zm0 43zm0 20zm1-11zm0-3zm0-47zm0-3zm0-7zm1-21zm0 3zm0 7zm0 9zm0 16zm1 44zm0-21zm0-16zm0-5zm0-6zm0-15zm1 1zm0 12zm0 6zm0 30zm0 3zm1 8zm0-4zm1-65zm0 45zm0 19zm0 6zm1 5zm0-53zm0-2zm0-7zm0-2zm0-6zm0-6zm1 31zm0 2zm0 30zm0 7zm1 22zm0-30zm0-43zm1-2zm0 10zm0 2zm0 18zm0 15zm1-20zm0-1zm0-6zm0-4zm0-6zm0-8zm0-17zm1 40zm1 34zm0-20zm0-13zm0-4zm0-21zm0-16zm1 55zm0 20zm0 6zm1-33zm0-7zm0-12zm0-1zm0-14zm0-4zm1 3zm0 3zm0 31zm1 40zm0-12zm0-12zm0-29zm1-24zm0 11zm0 1zm0 2zm0 9zm0 28zm0 29zm0 14zm1-26zm0-16zm0-3zm1-39zm0 4zm0 21zm0 16zm0 43zm1-5zm0-7zm0-8zm0-6zm0-21zm0-22zm1-21zm0 11zm0 1zm0 28zm0 21zm1 2zm0-23zm0-7zm0-4zm0-24zm1-9zm0 3zm0 21zm0 11zm0 3zm0 6zm0 8zm0 2zm0 19zm0 28zm1-48zm0-14zm0-3zm0-25zm0-6zm0-2zm1 6zm0 2zm0 34zm1 42zm0-8zm0-3zm0-21zm0-4zm0-3zm0-24zm1-13zm0 36zm0 17zm0 17zm1-9zm0-12zm0-7zm0-2zm0-14zm0-1zm0-13zm0-10zm1 30zm0 56zm1-11zm0-48zm0-17zm1-2zm0 4zm0 20zm0 8zm0 28zm0 7zm1 17zm0-16zm0-16zm0-36zm0-2zm0-13zm0-5zm1 3zm0 25zm0 3zm0 14zm0 2zm0 23zm1 1zm0-12zm0-12zm0-8zm0-18zm0-4zm0-8zm0-3zm0-2zm0-9zm1 0zm0 14zm0 5zm0 35zm1 24zm0-15zm0-14zm0-1zm0-15zm0-29zm1 2zm0 8zm0 11zm0 30zm0 4zm0 10zm0 12zm1-2zm0-15zm0-11zm0-13zm0-3zm0-43zm0-2zm1 4zm0 3zm0 13zm0 12zm0 22zm0 32zm1-22zm0-30zm0-11zm0-12zm1 40zm0 23zm1 18zm0-13zm1-45zm0 34zm0 13zm0 1zm0 22zm1-6zm0-9zm0-50zm0-22zm1-2zm0 1zm0 19zm0 4zm0 14zm0 1zm0 29zm0 17zm1-11zm0-11zm0-66zm1 16zm0 8zm0 1zm0 1zm0 5zm0 15zm0 18zm1-9zm0-25zm0-16zm0-4zm0-10zm1 4zm0 11zm0 10zm0 10zm0 6zm0 22zm0 16zm0 15zm1-14zm0-2zm0-16zm0-5zm0-11zm0-31zm0-4zm0-8zm0-4zm1 23zm0 23zm0 14zm0 1zm1 20zm0-3zm0-12zm0-19zm0-1zm0-8zm0-11zm0-4zm0-6zm0-1zm0-6zm0-6zm1 27zm0 7zm0 41zm1 5zm0-12zm0-23zm0-5zm0-32zm1-4zm0 6zm0 18zm0 25zm1 26zm0-17zm0-12zm0-20zm0-25zm1 11zm0 3zm0 12zm0 26zm0 6zm1 11zm0-14zm0-16zm0-27zm0-6zm0-14zm1 6zm0 13zm0 43zm0 2zm0 5zm1 12zm0-1zm0-15zm0-4zm0-23zm0-3zm1-6zm0 19zm0 11zm0 22zm1-22zm0-42zm0-7zm1-1zm0 7zm0 26zm0 4zm0 18zm0 11zm0 5zm0 2zm0 6zm1-11zm0-6zm0-20zm0-42zm0-4zm1 4zm0 3zm0 7zm0 4zm0 22zm0 15zm0 34zm1-19zm0-12zm0-22zm1-30zm1 54zm0-3zm0-5zm0-7zm0-6zm0-33zm1 16zm0 49zm0 6zm0 5zm1-4zm0-18zm0-18zm0-3zm0-5zm0-10zm0-5zm0-2zm1 7zm0 28zm1 21zm0-21zm0-29zm0-1zm1-5zm0 2zm0 12zm0 35zm1-15zm0-22zm1-18zm0 9zm0 15zm0 16zm0 9zm1 20zm0-5zm0-3zm0-12zm0-57zm1 18zm0 9zm0 18zm0 10zm0 10zm1 20zm0-6zm0-35zm0-10zm0-2zm0-19zm1 26zm0 27zm0 4zm0 7zm1 2zm0-8zm0-59zm1-8zm0 16zm0 15zm0 27zm1 26zm0-19zm0-29zm0-7zm1 39zm1 11zm0-5zm0-23zm0-13zm0-1zm0-3zm0-9zm0-13zm1 16zm0 39zm1-20zm0-22zm0-4zm0-10zm0-1zm1-1zm0 1zm0 25zm0 11zm0 20zm0 6zm1 3zm0-4zm0-43zm0-7zm2-7zm0 24zm0 16zm0 16zm0 16zm1-9zm0-18zm1-55zm0 20zm0 12zm0 31zm1-20zm0-3zm0-5zm1-28zm0 8zm0 8zm1 40zm0-28zm0-18zm0-3zm0-3zm1 1zm0 1zm0 39zm0 16zm0 2zm1-9zm0-28zm0-4zm0-2zm0-7zm1 31zm0 31zm1-24zm0-2zm0-3zm0-4zm0-18zm0-21zm1 20zm0 11zm0 6zm0 24zm1-1zm0-27zm0-4zm0-7zm0-5zm0-10zm0-6zm0-1zm1 9zm0 53zm0 3zm1-34zm0-3zm0-13zm0-6zm1-9zm0 27zm0 8zm1 2zm0-9zm1-5zm0 5zm0 6zm0 1zm0 7zm0 19zm1-2zm0-16zm0-38zm1 7zm0 1zm0 28zm0 6zm1-1zm0-17zm0-28zm1 7zm0 38zm1 5zm0-3zm0-16zm0-11zm1-5zm0 11zm0 1zm0 16zm1 15zm0-26zm0-2zm0-7zm0-9zm0-1zm0-1zm1-4zm0 16zm0 1zm0 5zm1 37zm0-21zm0-1zm0-37zm1-3zm0 12zm0 16zm0 5zm1 18zm0-17zm0-1zm0-3zm0-6zm0-6zm0-12zm1-7zm0 6zm0 9zm0 9zm0 7zm1 13zm0-6zm0-6zm0-11zm0-3zm0-4zm0-10zm0-3zm1-2zm0 21zm0 9zm0 13zm1 13zm0-26zm0-6zm1-19zm0 8zm0 6zm0 4zm0 15zm1 13zm0-3zm0-13zm0-21zm1-1zm0 46zm1-1zm0-31zm0-13zm0-9zm1-9zm0 17zm0 18zm0 1zm0 22zm0 4zm1-5zm0-18zm0-1zm0-8zm1-17zm0 14zm0 21zm1 23zm0-8zm0-4zm0-35zm0-22zm1 11zm0 14zm0 14zm0 5zm0 15zm0 4zm1-2zm0-1zm0-9zm0-23zm0-19zm1 1zm0 8zm0 4zm0 13zm0 12zm0 14zm1-36zm0-5zm0-8zm1-5zm0 27zm0 1zm0 6zm0 17zm1 2zm0-31zm0-20zm1 21zm0 7zm0 1zm0 9zm0 6zm0 3zm1-8zm1-38zm0 6zm0 6zm0 12zm0 20zm1 10zm0-31zm0-8zm0-2zm0-7zm0-4zm1 6zm0 20zm0 22zm0 9zm2-14zm0-1zm0-41zm1 1zm0 16zm0 4zm0 8zm0 6zm0 4zm1 16zm0-37zm0-2zm0-12zm1-2zm0 3zm0 10zm0 3zm0 5zm0 1zm0 7zm0 4zm0 13zm1 7zm0-26zm0-15zm0-13zm1 2zm0 18zm0 13zm0 23zm1-9zm0-2zm0-26zm1-6zm0 9zm0 11zm0 4zm1 3zm0-15zm0-2zm1-16zm0 27zm0 10zm0 2zm0 2zm1-12zm0-15zm0-17zm1 7zm0 10zm0 6zm1 23zm0-5zm0-26zm1 23zm1 2zm0-1zm0-18zm0-5zm0-2zm0-4zm1-8zm1 41zm0-26zm0-8zm1-3zm0 10zm0 2zm1 16zm0-6zm0-1zm0-18zm1 12zm0 10zm1 6zm0-8zm0-10zm0-14zm1-10zm0 37zm1-4zm0-23zm0-2zm1 29zm0 2zm1 11zm0-24zm0-9zm1-2zm0 6zm2 38zm0-21zm1-27zm0 14zm0 7zm0 15zm1-20zm0-2zm0-16zm0-6zm1 12zm0 11zm0 6zm0 7zm0 10zm1 0zm0-18zm0-20zm0-1zm1 15zm0 19zm1 0zm1-31zm0 2zm0 28zm1-15zm2 14zm0 6zm1-1zm1-32zm1 27zm0-1zm1-23zm0 17zm0 6zm0 5zm0 9zm1-37zm0-4zm1 13zm0 11zm0 6zm1-20zm0-6zm1-6zm0 22zm0 6zm0 5zm0 1zm1-5zm0-26zm1 0zm0 17zm1 17zm0-26zm1 23zm1 6zm0-6zm0-19zm0-4zm0-6zm2 9zm0 2zm1-2zm0-1zm0-3zm0-2zm1 9zm0 1zm0 16zm1-4zm0-5zm0-22zm1 23zm1-2zm0-17zm1 7zm1 7zm0-1zm0-10zm1 1zm0 20zm1 3zm0-8zm0-2zm0-13zm0-1zm0-2zm0-2zm1 9zm1 2zm0-2zm1-8zm0 1zm0 7zm0 12zm1 14zm0-21zm1-4zm0 4zm0 7zm2-3zm0-14zm0-3zm1 2zm0 1zm0 4zm0 15zm0 3zm0 2zm1 1zm2-8zm1-11zm1 16zm1-1zm0-3zm0-17zm1 4zm0 24zm1-15zm1-12zm0 10zm0 12zm1-23zm1 6zm0 7zm0 5zm0 1zm1-16zm2-8zm0 14zm0 13zm2-17zm0-5zm1 2zm1 14zm1-19zm0 11zm2-2zm1-4zm0 11zm0 4zm1 14zm0-23zm0-1zm0-2zm1 7zm0 4zm1 8zm0-13zm0-7zm1-4zm0 3zm0 20zm1 0zm0-6zm0-8zm1 13zm1-7zm0-3zm1-1zm1 3zm0-8zm0-1zm1-1zm0 2zm0 1zm1 15zm1-12zm0 3zm1-7zm1-1zm0 15zm1-5zm1-10zm0 7zm1 9zm0-2zm2 4zm2-1zm0-15zm1 3zm2 9zm1-11zm0 13zm1-11zm1-2zm3-1zm1 7zm0 7zm1 1zm0-16zm1-3zm0 8zm0 1zm1 8zm0-1zm0-5zm1 7zm1 0zm1-14zm0 12zm1 2zm1-5zm1-2zm0-2zm1 4zm1-8zm1 6zm0 1zm0 4zm1 0zm0-1zm1-1zm1-4zm1-5zm0 3zm0 2zm0 1zm1 5zm1 1zm1-5zm2-10zm0 8zm1 7zm1-8zm1 2zm2 0zm1-7zm1 5zm0 7zm1-8zm2-5zm0 5zm0 7zm1 2zm1-11zm1 12zm0-12zm2 7zm1-1zm0-4zm1 9zm1-4zm2-4zm1 7zm3-13zm1 12zm1-5zm1 7zm0-1zm0-13zm0-1zm1 14zm1 1zm1-16zm0 15zm1 1zm0-5zm3 3zm3-2zm2 1z" stroke="#f1c690" stroke-width="4.5" stroke-linecap="round" fill="none"/><path d="M613 1357zm0 7zm0 11zm0 6zm0 13zm0 14zm0 10zm0 2zm0 29zm0 11zm1-27zm0-31zm0-7zm0-11zm0-9zm0-11zm0-34zm1 23zm0 23zm0 11zm0 7zm0 5zm0 10zm0 2zm0 19zm0 17zm1 5zm0-13zm0-20zm0-14zm0-6zm0-1zm0-38zm0-2zm1-12zm0 11zm0 4zm0 1zm0 9zm0 9zm0 2zm0 15zm0 38zm0 8zm1-18zm0-8zm0-2zm0-33zm0-11zm0-3zm0-2zm0-3zm0-15zm0-17zm0-4zm1 21zm0 27zm0 19zm0 13zm0 3zm0 5zm0 31zm0 22zm1-16zm0-2zm0-1zm0-4zm0-6zm0-1zm0-2zm0-9zm0-5zm0-4zm0-8zm0-33zm0-6zm0-14zm0-5zm0-2zm0-1zm0-1zm1 2zm0 20zm0 1zm0 5zm0 24zm0 4zm0 2zm0 18zm0 2zm0 2zm0 14zm0 9zm1 0zm0-3zm0-22zm0-5zm0-7zm0-5zm0-4zm0-4zm0-14zm0-2zm0-32zm0-5zm1-1zm0 13zm0 21zm0 7zm0 5zm0 7zm0 9zm0 29zm0 5zm0 22zm1-11zm0-1zm0-9zm0-5zm0-27zm0-10zm0-8zm0-5zm0-2zm0-18zm0-22zm1 13zm0 8zm0 12zm0 4zm0 1zm0 13zm0 4zm0 17zm0 25zm0 7zm0 7zm1-2zm0-4zm0-22zm0-18zm0-5zm0-31zm0-1zm0-6zm0-5zm0-11zm0-14zm1 24zm0 2zm0 10zm0 19zm0 11zm0 1zm0 15zm0 21zm0 19zm1-22zm0-1zm0-5zm0-7zm0-10zm0-14zm0-1zm0-13zm0-19zm1-28zm0 22zm0 8zm0 1zm0 13zm0 21zm0 3zm0 2zm0 19zm0 13zm0 1zm0 12zm1 2zm0-2zm0-6zm0-6zm0-7zm0-7zm0-27zm0-1zm0-10zm1-15zm0 20zm0 8zm0 8zm0 1zm0 4zm0 14zm0 9zm0 3zm0 1zm0 6zm0 17zm1-40zm0-3zm0-1zm0-1zm0-5zm0-21zm0-4zm0-5zm0-11zm0-11zm1-9zm0 1zm0 5zm0 32zm0 1zm0 38zm0 3zm0 1zm0 5zm1 14zm0-11zm0-11zm0-22zm0-2zm0-6zm0-3zm0-1zm0-3zm0-1zm0-9zm0-17zm1 3zm0 13zm0 2zm0 11zm0 9zm0 2zm0 4zm0 15zm0 6zm0 1zm0 17zm1 4zm0-5zm0-37zm0-17zm0-28zm0-14zm1-17zm0 53zm0 6zm0 14zm0 4zm0 2zm0 18zm0 2zm0 15zm0 5zm1-7zm0-7zm0-11zm0-5zm0-5zm0-3zm0-10zm0-6zm0-16zm1-18zm0 14zm0 3zm0 10zm0 21zm0 2zm0 3zm0 10zm0 5zm0 1zm0 16zm1 4zm0-14zm0-6zm0-9zm0-20zm0-2zm0-18zm0-19zm0-2zm0-2zm1-7zm0 10zm0 4zm0 4zm0 5zm0 3zm0 45zm0 6zm0 2zm0 20zm1-6zm0-12zm0-10zm0-2zm0-13zm0-1zm0-2zm0-3zm0-14zm0-1zm0-2zm0-21zm0-1zm1-13zm0 6zm0 22zm0 8zm0 1zm0 6zm0 6zm0 11zm0 3zm0 8zm0 30zm1-24zm0-3zm0-9zm0-84zm1 25zm0 3zm0 24zm0 3zm0 10zm0 8zm0 2zm0 7zm0 23zm0 1zm0 4zm0 10zm0 12zm1-7zm0-9zm0-3zm0-18zm0-4zm0-1zm0-3zm0-9zm0-13zm0-31zm0-8zm0-5zm1-5zm0 6zm0 13zm0 20zm0 12zm0 24zm0 1zm0 4zm0 9zm0 1zm0 7zm1 7zm0-31zm0-2zm0-10zm0-2zm0-2zm0-23zm0-11zm0-34zm1 22zm0 21zm0 6zm0 5zm0 63zm1 7zm0-1zm0-60zm0-6zm0-11zm1-40zm0 28zm0 12zm0 27zm0 9zm0 23zm0 3zm1 7zm0-9zm0-11zm0-1zm0-19zm0-8zm0-18zm1-12zm0 18zm0 5zm0 17zm0 3zm0 28zm0 6zm1-20zm0-1zm0-22zm0-4zm0-12zm0-3zm0-1zm0-26zm0-3zm0-15zm1-3zm0 9zm0 9zm0 22zm0 2zm0 8zm0 6zm0 6zm0 5zm0 17zm0 2zm0 10zm0 1zm0 11zm0 9zm1-7zm0-11zm0-7zm0-8zm0-4zm0-6zm0-4zm0-34zm0-5zm0-12zm1-1zm0 17zm0 1zm0 7zm0 1zm0 1zm0 5zm0 9zm0 4zm0 1zm0 1zm0 1zm0 14zm0 3zm0 16zm0 15zm1-7zm0-11zm0-11zm0-1zm0-19zm0-20zm0-4zm0-10zm0-1zm0-1zm0-6zm0-5zm1 43zm0 2zm0 14zm0 29zm1 7zm0-19zm0-3zm0-2zm0-17zm0-4zm0-3zm0-9zm0-9zm0-8zm0-6zm0-8zm0-16zm1 19zm0 25zm0 7zm0 24zm0 4zm0 4zm0 13zm1 21zm0-12zm0-45zm0-14zm0-7zm0-20zm0-2zm0-4zm0-21zm1 22zm0 10zm0 2zm0 4zm0 8zm0 12zm0 6zm0 34zm0 8zm0 15zm1-9zm0-19zm0-4zm0-3zm0-3zm0-24zm0-10zm0-14zm0-24zm1 12zm0 4zm0 2zm0 36zm0 2zm0 7zm0 24zm0 10zm0 3zm1 5zm0-2zm0-15zm0-2zm0-1zm0-2zm0-26zm0-4zm0-2zm0-3zm0-4zm0-10zm0-14zm0-26zm1 18zm0 10zm0 1zm0 8zm0 4zm0 3zm0 17zm0 22zm0 17zm1 7zm0-1zm0-13zm0-23zm0-5zm0-9zm0-8zm0-10zm0-4zm0-7zm0-5zm1-5zm0 15zm0 19zm0 5zm0 27zm0 22zm0 5zm1-2zm0-11zm0-2zm0-6zm0-3zm0-24zm0-6zm0-18zm0-2zm0-11zm1-5zm0 6zm0 9zm0 4zm0 23zm0 11zm0 2zm0 5zm0 29zm0 1zm1-19zm0-1zm0-3zm0-2zm0-3zm0-9zm0-13zm0-21zm0-13zm1-21zm0 12zm0 12zm0 8zm0 5zm0 5zm0 2zm0 40zm0 29zm1-25zm0-19zm0-57zm1-7zm0 12zm0 14zm0 3zm0 3zm0 10zm0 7zm0 17zm0 7zm0 3zm0 3zm0 8zm1 12zm0-9zm0-6zm0-8zm0-1zm0-7zm0-19zm0-4zm0-2zm0-1zm0-11zm0-14zm0-2zm0-15zm1 15zm0 9zm0 3zm0 10zm0 8zm0 18zm0 7zm0 7zm0 4zm0 6zm1-4zm0-3zm0-18zm0-3zm0-14zm0-10zm0-9zm0-6zm0-5zm1 4zm0 8zm0 1zm0 2zm0 22zm0 2zm0 11zm0 4zm0 2zm0 12zm0 13zm0 14zm1-13zm0-14zm0-9zm0-2zm0-8zm0-23zm0-13zm0-10zm0-2zm0-11zm1 41zm0 3zm0 18zm0 15zm0 8zm0 4zm0 2zm0 4zm1 0zm0-24zm0-1zm0-1zm0-22zm0-10zm0-24zm1 3zm0 3zm0 13zm0 12zm0 23zm0 25zm0 7zm1-7zm0-1zm0-3zm0-3zm0-1zm0-7zm0-20zm0-1zm0-7zm0-4zm0-7zm0-15zm1-9zm0 1zm0 7zm0 7zm0 7zm0 6zm0 1zm0 8zm0 4zm0 25zm0 6zm0 10zm0 1zm1-2zm0-23zm0-5zm0-1zm0-1zm0-16zm0-6zm0-5zm0-9zm0-6zm0-7zm1-2zm0 2zm0 7zm0 18zm0 37zm0 4zm0 16zm1-2zm0-10zm0-20zm0-16zm0-1zm0-1zm0-1zm0-11zm0-2zm0-21zm0-5zm1-12zm0 23zm0 1zm0 12zm0 10zm0 4zm0 6zm0 6zm0 8zm0 1zm0 10zm0 8zm1-3zm0-4zm0-6zm0-6zm0-1zm0-3zm0-2zm0-20zm1-22zm0 18zm0 7zm0 3zm0 4zm0 2zm0 1zm0 3zm0 7zm0 32zm0 2zm1-1zm0-29zm0-2zm0-3zm0-13zm0-24zm0-1zm0-9zm1 2zm0 4zm0 18zm0 20zm0 5zm0 13zm0 15zm0 4zm1-2zm0-5zm0-7zm0-11zm0-10zm0-18zm0-17zm0-10zm1 5zm0 1zm0 1zm0 13zm0 8zm0 30zm0 14zm0 6zm1 4zm0-3zm0-13zm0-10zm0-9zm0-7zm0-7zm0-37zm1 8zm0 9zm0 29zm0 16zm0 10zm1 16zm0-12zm0-6zm0-3zm0-3zm0-3zm0-6zm0-4zm0-34zm0-1zm1-7zm0 2zm0 19zm0 4zm0 5zm0 4zm0 1zm0 5zm0 29zm0 16zm1-2zm0-3zm0-21zm0-13zm0-3zm0-9zm0-4zm0-1zm0-4zm0-3zm0-3zm0-17zm1-17zm0 15zm0 4zm0 1zm0 9zm0 5zm0 1zm0 16zm0 15zm0 10zm0 3zm0 9zm0 7zm1 1zm0-13zm0-10zm0-40zm0-6zm0-7zm0-5zm1-17zm0 11zm0 4zm0 7zm0 2zm0 7zm0 2zm0 3zm0 8zm0 2zm0 24zm0 24zm0 7zm1-15zm0-1zm0-5zm0-1zm0-16zm0-33zm0-2zm0-23zm1 12zm0 11zm0 5zm0 6zm0 2zm0 5zm0 29zm1-3zm0-26zm0-7zm0-2zm0-9zm1-19zm0 28zm0 15zm0 11zm0 15zm0 12zm0 3zm1 5zm0-8zm0-7zm0-3zm0-10zm0-13zm0-10zm0-10zm0-15zm1 0zm0 24zm0 8zm0 14zm0 20zm0 2zm1 12zm0-2zm0-5zm0-24zm0-62zm1-2zm0 16zm0 5zm0 1zm0 1zm0 6zm0 2zm0 5zm0 4zm0 15zm0 2zm0 22zm0 8zm0 2zm0 6zm1 2zm0-8zm0-2zm0-4zm0-2zm0-9zm0-4zm0-20zm0-7zm0-13zm0-1zm0-6zm1 2zm0 3zm0 2zm0 2zm0 4zm0 3zm0 1zm0 8zm0 24zm0 7zm0 15zm1 9zm0-21zm0-2zm0-22zm0-1zm0-4zm0-2zm0-1zm0-15zm0-14zm1 1zm0 1zm0 37zm0 24zm1 5zm0-13zm0-24zm1-8zm0 6zm0 31zm1 6zm0-1zm0-8zm0-15zm0-14zm0-24zm0-15zm1 4zm0 12zm0 6zm0 7zm0 18zm0 7zm0 7zm0 3zm0 9zm0 4zm0 7zm0 2zm1 0zm0-37zm0-12zm0-7zm0-8zm0-4zm1-12zm0 13zm0 20zm0 10zm0 5zm0 28zm1-6zm0-10zm0-17zm0-1zm0-18zm0-12zm0-11zm1-7zm0 28zm0 5zm0 9zm0 2zm0 4zm0 18zm0 1zm0 2zm0 14zm1 0zm0-66zm1-8zm0 16zm0 4zm0 2zm0 18zm0 5zm0 6zm0 13zm0 8zm0 6zm1-11zm0-5zm0-10zm0-9zm0-5zm0-11zm0-8zm1-14zm0 5zm0 2zm0 1zm0 58zm0 3zm0 4zm0 1zm0 2zm1 4zm0-12zm0-17zm0-38zm1 2zm0 4zm0 16zm0 7zm0 5zm0 10zm0 15zm0 1zm0 3zm1-3zm0-6zm0-2zm0-26zm0-13zm0-4zm0-11zm1 0zm0 1zm0 3zm0 50zm0 11zm1 0zm0-2zm0-1zm0-12zm0-29zm0-5zm0-16zm0-3zm1 24zm0 32zm0 3zm1 7zm0-7zm0-3zm0-21zm0-11zm0-25zm0-19zm1-3zm0 30zm0 10zm0 45zm0 9zm1-3zm0-6zm0-16zm0-13zm0-4zm0-24zm1 1zm0 2zm0 4zm0 2zm0 5zm0 6zm0 12zm0 36zm1-5zm0-35zm0-32zm0-8zm0-3zm1 9zm0 1zm0 6zm0 38zm0 2zm0 1zm1 15zm0-13zm0-25zm0-3zm0-10zm0-11zm1 2zm0 41zm0 12zm0 5zm0 9zm1 10zm0-12zm0-8zm0-15zm0-2zm0-23zm0-16zm1-12zm0 29zm0 4zm0 8zm0 29zm0 5zm1 7zm0-3zm0-8zm0-12zm0-2zm0-7zm0-1zm0-10zm0-4zm0-16zm0-30zm1 33zm0 9zm0 51zm1-14zm0-6zm0-23zm0-25zm0-9zm1-14zm0 17zm0 19zm0 1zm0 9zm0 14zm0 1zm0 9zm0 8zm0 3zm0 5zm0 5zm1-20zm0-5zm0-4zm0-8zm1-49zm0 18zm0 1zm0 2zm0 17zm0 4zm0 10zm0 1zm0 20zm0 7zm0 1zm0 8zm1-5zm0-12zm0-16zm0-2zm0-3zm0-24zm0-1zm0-11zm0-11zm1 18zm0 3zm0 38zm0 10zm0 4zm0 7zm1 2zm0-4zm0-15zm0-3zm0-3zm0-12zm0-5zm0-32zm1 7zm0 15zm0 8zm0 7zm0 32zm0 5zm1-25zm0-11zm0-4zm0-8zm0-5zm0-11zm1 32zm0 14zm0 17zm1 6zm0-2zm0-1zm0-66zm1-2zm0 3zm0 5zm0 6zm0 25zm0 30zm1-16zm0-16zm0-7zm0-19zm0-13zm1 15zm0 3zm0 1zm0 4zm0 2zm0 2zm0 2zm0 16zm0 6zm0 23zm1-5zm0-11zm0-2zm0-11zm0-3zm0-4zm0-35zm0-14zm1 15zm0 5zm0 7zm0 30zm0 2zm0 9zm0 7zm1 6zm0-16zm0-7zm0-5zm0-9zm0-20zm0-2zm1-10zm0 4zm0 5zm0 9zm0 6zm0 4zm0 7zm0 11zm0 13zm0 9zm0 1zm0 2zm1-7zm0-1zm0-14zm0-12zm0-10zm0-8zm0-3zm0-1zm0-5zm0-6zm1-15zm0 13zm0 6zm0 16zm0 5zm0 6zm0 24zm0 7zm0 3zm0 1zm1-11zm0-38zm0-16zm1 19zm0 4zm0 19zm0 9zm0 5zm0 1zm0 1zm0 2zm0 4zm1-6zm0-19zm0-14zm0-6zm0-3zm1 1zm0 4zm0 2zm0 37zm1 5zm0-3zm0-26zm0-6zm0-9zm0-36zm1 46zm0 7zm0 18zm0 1zm1-17zm0-2zm0-13zm0-11zm0-5zm1-5zm0 1zm0 5zm0 29zm0 2zm0 9zm0 15zm1 4zm0-33zm0-7zm0-13zm1 0zm0 14zm0 7zm0 11zm0 11zm1-10zm0-24zm0-20zm0-7zm1-3zm0 18zm0 3zm0 4zm0 18zm0 1zm0 5zm0 7zm0 13zm1-18zm0-4zm0-9zm0-38zm1 29zm0 36zm0 7zm1-3zm0-15zm0-8zm0-16zm0-2zm0-7zm0-4zm1 27zm0 1zm0 24zm0 2zm1-2zm0-38zm0-31zm1 13zm0 20zm0 1zm0 6zm0 26zm1-13zm0-18zm0-2zm0-13zm1 5zm0 9zm0 9zm0 22zm0 2zm1 3zm0-2zm0-22zm0-3zm0-2zm0-2zm0-2zm0-2zm0-15zm0-1zm0-3zm1 12zm0 14zm0 2zm0 1zm0 3zm0 16zm0 9zm0 1zm1 6zm0-12zm0-25zm0-1zm0-15zm0-3zm0-6zm0-1zm0-1zm1 3zm0 11zm0 25zm0 7zm0 1zm0 2zm1 4zm0-7zm0-3zm0-3zm0-20zm1-11zm0 21zm0 28zm1-30zm0-1zm0-3zm0-16zm1-2zm0 12zm0 15zm0 1zm0 9zm0 4zm0 9zm0 2zm0 9zm1-4zm0-16zm0-1zm0-14zm0-18zm1-3zm0 5zm0 3zm0 38zm0 5zm1-10zm0-5zm0-11zm0-18zm0-3zm0-1zm0-8zm0-3zm1 15zm0 5zm0 12zm0 3zm0 10zm0 10zm1 1zm0-8zm0-1zm1-50zm0 5zm0 1zm0 37zm0 16zm1 5zm0-16zm0-12zm0-1zm0-2zm0-3zm0-10zm0-3zm0-5zm1-4zm0 2zm0 10zm0 13zm0 2zm0 13zm1 12zm0-11zm0-2zm0-1zm0-33zm1-5zm0 29zm0 7zm0 3zm0 4zm1-7zm0-12zm0-1zm0-1zm0-4zm0-15zm1 26zm0 3zm0 10zm0 4zm0 1zm0 2zm1 2zm0-15zm0-3zm0-8zm0-10zm0-5zm1-6zm0 6zm0 13zm0 14zm0 9zm1 2zm0-11zm0-11zm0-3zm0-2zm0-9zm0-10zm1 8zm0 10zm0 4zm0 6zm1 17zm0-4zm0-8zm0-4zm0-6zm0-1zm0-1zm0-11zm0-3zm1 0zm0 4zm0 4zm0 1zm0 14zm1 21zm0-30zm0-11zm0-7zm1-1zm0 1zm0 18zm0 23zm1 6zm0-4zm0-3zm0-1zm0-13zm0-14zm0-10zm1-10zm0 5zm0 55zm1-30zm0-3zm0-2zm1 21zm0 7zm0 2zm1-1zm0-2zm0-12zm0-4zm0-44zm1-5zm0 49zm0 2zm0 7zm0 7zm0 4zm1-10zm0-38zm0-22zm1 23zm0 4zm0 8zm0 10zm0 5zm0 6zm0 8zm0 4zm1-19zm0-3zm0-18zm0-3zm1 12zm0 4zm0 8zm0 2zm1 4zm0-8zm0-20zm1-2zm0 7zm0 3zm0 3zm0 6zm0 3zm0 3zm0 20zm1-10zm0-2zm0-18zm0-4zm0-3zm0-4zm0-4zm1 19zm0 6zm0 1zm0 1zm0 4zm0 7zm0 7zm1-25zm0-6zm1-8zm0 2zm0 1zm0 3zm0 7zm0 16zm0 7zm0 1zm1-5zm0-37zm0-2zm1 15zm0 13zm1 6zm0-9zm0-1zm0-17zm0-4zm1 0zm0 37zm0 4zm1 6zm0-14zm0-3zm0-9zm0-3zm0-8zm0-5zm0-2zm0-17zm1 12zm0 25zm0 2zm1 21zm0-2zm0-6zm0-18zm0-4zm0-3zm0-9zm1-9zm0 36zm0 1zm0 3zm1 10zm0-15zm0-23zm1 14zm1 19zm0-5zm0-10zm0-15zm1 2zm0 3zm0 4zm0 6zm0 2zm0 3zm0 9zm0 3zm1-14zm0-6zm0-15zm1 34zm0 4zm1-4zm0-5zm0-6zm1-22zm0 31zm0 6zm1-6zm0-1zm0-10zm0-5zm0-1zm0-8zm0-2zm0-3zm0-8zm1 8zm0 2zm0 4zm0 12zm0 5zm1 14zm0-9zm0-2zm0-6zm0-4zm0-3zm0-3zm0-7zm1 12zm0 16zm1 11zm0-9zm0-15zm0-20zm0-14zm0-9zm1 23zm0 1zm1 31zm0-3zm0-2zm0-5zm0-17zm0-8zm0-10zm1 15zm0 5zm0 1zm0 5zm0 19zm0 3zm0 3zm1 1zm0-8zm0-2zm0-16zm0-8zm0-3zm0-8zm1 7zm0 11zm0 15zm0 10zm1-1zm0-24zm1-29zm0 23zm0 26zm0 5zm1-3zm1-30zm0 5zm0 3zm0 2zm0 4zm0 1zm0 6zm0 8zm0 5zm1-3zm0-1zm0-31zm1 10zm0 26zm1-15zm0-4zm1-12zm0 11zm0 14zm0 3zm1 5zm0-8zm0-18zm1-24zm0 14zm0 10zm0 24zm1-6zm0-5zm1-22zm0 3zm0 7zm0 13zm0 5zm1 14zm0-27zm0-6zm1-33zm0 26zm0 3zm0 22zm0 2zm0 3zm1 4zm0-8zm0-14zm0-4zm0-3zm0-7zm0-1zm0-8zm1 9zm0 5zm1 22zm1-11zm0 14zm0 8zm1-7zm0-1zm0-14zm0-9zm1-6zm0 1zm0 5zm0 2zm0 4zm0 2zm0 1zm1 6zm0-31zm1 7zm0 28zm0 6zm1-10zm0-2zm0-18zm0-1zm1-15zm0 10zm0 22zm0 3zm1 14zm0-4zm0-3zm0-18zm1 12zm1 11zm0-40zm1 16zm0 10zm0 8zm1 17zm0-17zm0-6zm0-3zm0-6zm0-1zm1-2zm0 11zm0 6zm0 3zm1-28zm0-7zm1 0zm0 11zm0 4zm0 10zm0 11zm0 6zm1-3zm0-4zm0-3zm0-5zm0-2zm1-27zm0 18zm0 6zm0 1zm1 15zm0-14zm0-9zm0-22zm1 25zm0 17zm0 3zm0 1zm0 4zm1-2zm0-6zm0-13zm0-8zm1 5zm0 1zm0 14zm0 6zm1-7zm0-13zm0-1zm0-3zm1-3zm0 15zm0 7zm1 1zm0-13zm1-6zm0 25zm1-1zm0-1zm0-11zm0-4zm1-8zm0 15zm0 1zm1 7zm0-3zm0-10zm0-6zm0-8zm1 0zm0 7zm0 3zm0 3zm0 2zm0 2zm0 6zm1-3zm0-5zm0-14zm0-5zm1-3zm0 31zm1 1zm0-5zm0-4zm0-5zm0-4zm1-22zm0 23zm0 6zm1 17zm0-3zm0-8zm0-2zm0-9zm1-1zm0 18zm0 4zm1-5zm0-15zm0-6zm1 9zm1 25zm0-16zm2 4zm0 8zm1-4zm0-2zm0-16zm1-10zm0 20zm0 3zm0 3zm1 10zm0-9zm0-4zm0-13zm1-4zm0 2zm0 3zm0 6zm1 19zm0-8zm1-22zm0 8zm0 8zm0 3zm0 4zm1 0zm0-11zm1-2zm0 4zm0 15zm2-11zm0-23zm1 16zm0 8zm1-4zm0-1zm0-3zm1 2zm0 8zm1 2zm0-4zm0-7zm1 1zm0 6zm0 3zm0 1zm0 1zm1 1zm0-5zm0-1zm0-6zm1 1zm0 1zm0 1zm0 5zm0 3zm1-4zm0-5zm1-2zm0 13zm1 3zm0-14zm2 0zm0 1zm0 4zm0 1zm1 4zm1-10zm0 6zm0 3zm0 3zm2-11zm2-14zm0 10zm0 12zm1 0zm2-1zm2 2zm1-6zm1 7zm0-2zm1-2zm0 6zm1-1zm1-10zm0 10zm0 3zm2-1zm3-5zm1-5zm1-4zm0 6zm0 3zm0 6zm0 1zm2 0zm1-1zm0 3zm1-6zm1 2zm1 4zm0-1zm0-1zm1-2zm1 7zm0-3zm2-4zm0 2zm1 2zm1-1zm1 3zm0-3zm3 0zm0 4zm4 1zm1 0z" stroke="#a6dff4" stroke-width="4.5" stroke-linecap="round" fill="none"/>
<path d="M612.1 1275V1586.4M657.4 1275V1586.4M702.8 1275V1586.4M748.1 1275V1586.4M793.4 1275V1586.4M838.8 1275V1586.4M884.1 1275V1586.4M929.4 1275V1586.4M974.7 1275V1586.4M1020.1 1275V1586.4" stroke="#c2c2c2" stroke-width="1.3" stroke-dasharray="4 4.3" fill="none"/>
<path d="M615.2 1388.8 981.3 1518.2" fill="none" stroke="#000" stroke-width="2.0" stroke-linejoin="round" stroke-dasharray="9 5.5"/>
<path d="M615.2 1408 980.3 1553.8" fill="none" stroke="#000" stroke-width="2.1" stroke-linejoin="round"/>
<path d="M615.9 1378.3 621.2 1387.1 628.2 1397.6 636.9 1408 647.4 1416.8 657.9 1425.5 668.4 1431.8 678.9 1437.8 689.4 1444.8 699.9 1451 710.3 1457 720.8 1461.5 731.3 1469.2 741.8 1475.5 750.6 1478.7 761 1477.3 769.8 1482.5 776.8 1488.5 783.8 1494.8 797.8 1496.5 811.7 1498.3 825.7 1501.4 839.7 1503.5 857.2 1504.9 874.7 1505.9 892.2 1505.9 909.7 1507 927.1 1506.6 941.1 1508.7 951.6 1511.2 962.1 1512.2 970.8 1514.7 977.8 1514 981.3 1518.9" fill="none" stroke="#a232f2" stroke-width="2.0" stroke-linejoin="round"/>
<path d="M615.9 1373.1 621.2 1380.1 628.2 1390.6 635.2 1401 642.2 1402.1 649.2 1395.8 656.2 1392.3 661.4 1393.4 668.4 1402.8 675.4 1411.5 682.4 1418.5 691.1 1415.7 699.9 1409.8 706.9 1413.3 713.8 1420.3 720.8 1430.8 731.3 1439.5 740.1 1435 748.8 1435 759.3 1438.8 769.8 1444.8 780.3 1448.3 790.8 1447.2 797.8 1451 808.3 1459.4 817 1464.7 829.2 1462.9 839.7 1462.9 850.2 1467.5 860.7 1474.5 871.2 1478 879.9 1478.7 888.7 1483.2 895.7 1486.7 909.7 1491.3 920.1 1494.8 930.6 1495.5 941.1 1500 948.1 1504.2 956.9 1509.4 965.6 1512.2 972.6 1514.7 977.8 1514 981.3 1519.9" fill="none" stroke="#f01a1a" stroke-width="2.4" stroke-linejoin="round"/>
<path d="M591.5 1271V1586.4H1040" stroke="#222" stroke-width="1.1" fill="none"/><path d="M591.5 1282.4h-3.5M591.5 1354.2h-3.5M591.5 1426h-3.5M591.5 1497.8h-3.5M591.5 1569.8h-3.5M612.1 1586.4v3.5M657.4 1586.4v3.5M702.8 1586.4v3.5M748.1 1586.4v3.5M793.4 1586.4v3.5M838.8 1586.4v3.5M884.1 1586.4v3.5M929.4 1586.4v3.5M974.7 1586.4v3.5M1020.1 1586.4v3.5" stroke="#222" stroke-width="1" fill="none"/>
<rect x="592.2" y="1219.1" width="461.7" height="49.2" rx="3" fill="#000"/><rect x="599.6" y="1226.5" width="446.9" height="34.4" fill="#d79ee6"/><text x="823.1" y="1258.6" font-size="39.1" text-anchor="middle" >H53</text>
<path d="M1079 1370zm1 85zm0-1zm0-3zm0-6zm0-1zm0-4zm0-25zm0-13zm0-45zm1-5zm0 19zm0 36zm0 43zm1-5zm0-51zm0-3zm0-3zm0-5zm0-17zm1 11zm0 18zm0 8zm0 6zm0 17zm0 8zm0 17zm0 8zm0 10zm1-28zm0-2zm0-50zm1-23zm0 4zm0 33zm0 40zm0 1zm1-34zm0-24zm0-11zm0-8zm0-2zm1-2zm0 29zm0 32zm0 13zm1 15zm0-5zm0-50zm0-10zm0-18zm1 16zm0 28zm0 47zm0 8zm1-2zm0-9zm0-17zm0-13zm0-1zm0-2zm0-24zm0-14zm0-1zm0-28zm1 48zm0 24zm0 23zm1 22zm0-14zm0-14zm0-15zm0-6zm0-20zm0-4zm0-15zm0-2zm0-4zm1 23zm0 26zm0 4zm0 11zm0 22zm1 3zm0-49zm0-43zm1-11zm0 99zm0 4zm1-2zm0-14zm0-17zm0-22zm0-1zm0-31zm1-1zm0 9zm1 58zm0-2zm0-9zm0-14zm0-2zm0-7zm0-17zm0-7zm0-12zm1 7zm0 13zm0 35zm0 16zm0 26zm0 11zm1-23zm0-5zm0-30zm0-10zm1-19zm0 12zm0 20zm0 36zm0 1zm1 1zm0-24zm0-5zm0-4zm0-10zm1-31zm0 5zm0 2zm0 39zm0 4zm0 11zm0 6zm0 10zm1-28zm0-17zm0-14zm0-4zm0-8zm1 12zm0 22zm0 11zm1 26zm0-14zm0-1zm0-14zm0-15zm0-10zm1-11zm0 19zm0 5zm0 55zm1-1zm0-12zm0-32zm1-33zm0 21zm0 28zm0 16zm1-7zm0-8zm0-1zm0-3zm0-7zm0-19zm1-23zm0 20zm0 32zm0 9zm0 6zm0 9zm1-3zm0-29zm0-25zm0-1zm1-18zm0 2zm0 31zm0 16zm0 20zm0 19zm1-16zm0-11zm0-39zm0-16zm0-4zm0-4zm0-3zm0-6zm1 37zm1 28zm0-7zm0-22zm0-25zm1-1zm0 24zm0 34zm1-5zm0-21zm0-18zm1-11zm0 4zm0 13zm0 2zm0 22zm0 9zm0 5zm0 4zm0 3zm0 18zm1-5zm0-26zm0-9zm0-14zm0-2zm0-6zm1 10zm0 12zm0 3zm0 16zm1 27zm0-32zm0-10zm0-35zm0-4zm0-2zm0-1zm0-2zm1-3zm0 3zm0 2zm0 10zm0 7zm0 9zm0 4zm1 28zm0-36zm0-21zm0-2zm0-1zm1 3zm0 7zm0 12zm0 8zm0 11zm0 20zm0 7zm0 2zm1-11zm0-11zm0-2zm0-19zm0-23zm0-2zm1 1zm1 74zm0-2zm0-1zm0-1zm0-10zm0-7zm0-29zm0-1zm0-13zm1 41zm0 11zm1 11zm0-9zm0-20zm0-19zm0-4zm0-9zm0-5zm0-16zm1 51zm0 22zm1-39zm0-21zm1-10zm0 11zm0 23zm0 19zm0 3zm0 4zm0 5zm1 23zm0-1zm0-30zm0-15zm0-9zm0-9zm0-4zm0-6zm1-1zm0 13zm0 11zm0 22zm0 3zm0 16zm0 13zm1 1zm0-24zm0-16zm0-21zm0-4zm0-16zm0-1zm1 2zm0 2zm0 7zm0 15zm0 6zm0 5zm0 1zm0 12zm0 6zm0 17zm0 7zm1 3zm0-51zm0-4zm0-2zm0-15zm1-3zm0 33zm0 3zm0 25zm0 9zm1 0zm0-57zm0-14zm1 57zm0 1zm0 7zm0 1zm0 8zm0 1zm1-10zm0-6zm0-17zm0-5zm0-7zm0-30zm1 1zm0 6zm0 13zm0 9zm0 5zm0 4zm0 22zm0 16zm1 8zm0-18zm0-16zm0-7zm1-32zm0 14zm0 10zm0 52zm1-8zm0-1zm0-32zm0-27zm1-2zm0 2zm0 2zm0 5zm0 1zm0 10zm0 25zm0 2zm0 10zm1-8zm0-10zm0-11zm1-13zm0 16zm0 15zm1 13zm0-49zm0-5zm0-5zm0-2zm0-11zm1 4zm0 21zm0 14zm0 16zm0 1zm0 15zm0 5zm0 1zm1-9zm0-10zm0-2zm0-16zm0-1zm0-15zm0-6zm1-23zm0 23zm0 10zm0 5zm0 13zm0 23zm1 22zm0-40zm0-27zm0-16zm1 26zm0 25zm0 19zm1-1zm0-53zm1-6zm0 9zm0 21zm0 6zm0 12zm0 2zm0 12zm0 16zm1-15zm0-9zm0-10zm0-37zm0-20zm1 9zm0 1zm0 12zm0 4zm0 3zm0 36zm0 2zm1-47zm0-3zm1-15zm0 29zm0 11zm0 23zm0 4zm0 6zm0 13zm1-21zm0-6zm0-53zm1-8zm0 30zm0 13zm0 1zm0 34zm1-53zm0-27zm1 17zm0 8zm0 2zm0 16zm0 1zm0 6zm0 19zm0 5zm0 1zm1 5zm0-4zm0-5zm0-6zm0-3zm0-31zm0-4zm0-9zm0-4zm0-11zm1 23zm0 3zm0 17zm0 38zm0 4zm1-36zm0-4zm0-8zm0-29zm0-5zm1 19zm0 21zm0 37zm1-6zm0-30zm0-2zm0-2zm0-30zm0-7zm0-10zm1 21zm0 13zm0 21zm0 12zm0 9zm0 7zm0 2zm0 1zm1-11zm0-59zm0-2zm0-2zm1 17zm0 53zm1 18zm0-13zm0-4zm0-2zm0-3zm0-8zm0-4zm0-7zm0-1zm0-2zm1-43zm0 30zm0 4zm0 11zm0 11zm1 19zm0-3zm0-1zm0-9zm0-24zm0-21zm0-20zm1 5zm0 6zm0 2zm0 15zm0 21zm0 3zm0 18zm1-10zm0-17zm0-1zm0-13zm0-21zm0-5zm1 21zm0 21zm0 13zm0 22zm1 0zm0-18zm0-20zm0-1zm0-17zm0-9zm0-10zm1 25zm0 9zm0 9zm0 26zm0 1zm0 13zm1-9zm0-17zm0-8zm0-15zm0-12zm0-3zm0-3zm0-6zm0-2zm1-6zm0 15zm0 8zm0 46zm1 11zm0-9zm0-10zm0-8zm0-32zm0-29zm1 20zm0 22zm0 1zm0 1zm0 10zm0 12zm0 10zm1-9zm0-3zm0-3zm0-32zm0-31zm1 11zm0 1zm0 5zm0 6zm0 4zm0 13zm0 1zm0 44zm1-9zm0-22zm0-9zm0-3zm0-8zm0-2zm0-25zm1 7zm0 11zm0 6zm0 21zm0 31zm0 3zm1-6zm0-4zm0-14zm0-7zm1-41zm0 40zm0 2zm0 1zm0 4zm0 11zm1 13zm0-17zm0-3zm0-4zm0-9zm0-7zm0-19zm0-6zm0-7zm0-7zm1 9zm0 3zm0 2zm0 48zm0 16zm1-2zm0-4zm0-3zm0-12zm0-16zm0-7zm0-10zm1 6zm0 47zm1 2zm0-21zm0-11zm0-1zm0-7zm0-12zm1-20zm0 35zm0 9zm0 2zm0 1zm0 22zm1 5zm0-7zm0-3zm0-61zm0-2zm1 22zm0 22zm0 2zm0 2zm0 12zm0 21zm1-4zm0-17zm0-14zm0-13zm0-30zm1 47zm0 11zm0 5zm1-4zm0-14zm0-7zm0-4zm0-3zm0-1zm0-7zm1-9zm0 7zm0 27zm0 25zm1-6zm0-2zm0-16zm0-6zm0-19zm0-5zm0-2zm0-15zm1 12zm0 13zm0 8zm0 24zm0 9zm1-1zm0-23zm0-15zm0-19zm0-5zm1 5zm0 15zm0 1zm0 8zm0 15zm0 21zm1 5zm0-17zm0-12zm0-8zm0-12zm0-5zm0-12zm0-3zm1-8zm1 54zm0-9zm0-2zm0-5zm0-34zm1 13zm1 18zm0-5zm0-16zm1-1zm0 4zm0 38zm1-6zm0-8zm1-24zm0 7zm0 23zm0 11zm0 16zm1-17zm0-27zm0-9zm0-9zm1 60zm1-15zm0-42zm0-7zm1 50zm1 11zm0-40zm0-23zm1 6zm0 11zm0 16zm0 13zm0 9zm1 11zm0-40zm0-9zm1-1zm1 38zm0-20zm0-18zm0-5zm1 21zm0 12zm0 14zm0 9zm1 10zm0-17zm1-47zm0 4zm0 35zm0 19zm1-25zm1-33zm0 10zm0 1zm0 5zm0 7zm1 30zm0-15zm0-31zm0-8zm0-7zm1 9zm0 8zm0 8zm0 8zm0 11zm0 8zm1 11zm0-6zm0-20zm0-7zm0-4zm1-20zm0 10zm0 4zm0 20zm1 1zm0-28zm1-7zm0 2zm0 1zm0 13zm0 40zm1-13zm0-33zm0-5zm1-1zm0 2zm0 14zm0 7zm0 1zm0 22zm1-1zm0-1zm0-6zm0-3zm0-7zm0-1zm0-7zm0-13zm0-6zm0-7zm1 1zm0 13zm0 21zm0 24zm1-8zm0-24zm1-7zm0 10zm0 16zm0 11zm0 1zm1-1zm0-1zm0-11zm0-11zm0-21zm1-3zm0 7zm0 4zm0 2zm0 2zm0 1zm0 17zm0 19zm1-48zm0-8zm1 17zm0 4zm1 25zm0-12zm0-12zm0-7zm1-14zm0 8zm0 1zm0 6zm0 17zm0 2zm1 12zm0-18zm0-17zm0-12zm1 5zm0 23zm0 2zm0 19zm1 3zm0-4zm0-7zm0-3zm0-9zm0-21zm1-4zm0 15zm0 2zm0 27zm1-8zm0-10zm0-5zm0-22zm1 7zm0 18zm0 26zm1 3zm0-8zm0-6zm0-13zm0-1zm0-8zm1-11zm0 2zm0 2zm0 13zm0 9zm0 18zm1-3zm0-23zm0-10zm0-5zm0-4zm1-15zm0 10zm0 5zm0 51zm1-7zm0-27zm0-16zm1-5zm0 4zm0 18zm1 27zm0-17zm0-30zm1 7zm0 4zm0 13zm0 11zm0 11zm1 10zm0-21zm0-19zm1 10zm0 2zm0 4zm1-33zm1-9zm0 57zm1-1zm0-11zm0-5zm0-1zm0-2zm0-14zm0-10zm1 7zm0 22zm1 12zm0-49zm1 12zm0 41zm1-2zm0-16zm1-4zm0 16zm2-4zm0-28zm0-16zm1 18zm0 1zm0 31zm0 8zm1-8zm0-35zm0-1zm0-2zm1 6zm0 23zm0 1zm0 2zm0 10zm1-14zm0-14zm1 7zm0 16zm0 1zm0 1zm0 1zm1-2zm0-28zm0-3zm1-11zm0 2zm0 9zm0 4zm0 3zm0 5zm0 20zm0 3zm1-12zm0-41zm1 13zm0 3zm0 11zm0 11zm1 20zm0-22zm0-9zm1 7zm1 9zm0-3zm0-13zm0-5zm0-2zm0-11zm1 1zm0 1zm0 3zm0 7zm0 7zm0 20zm1-22zm0-12zm0-8zm1 25zm0 18zm1 4zm0-18zm0-15zm0-8zm1 6zm0 16zm0 14zm0 6zm1-1zm0-17zm0-2zm0-5zm1-1zm0 23zm1 2zm0-8zm0-15zm0-11zm0-2zm0-4zm1-3zm0 16zm0 25zm0 2zm1 0zm0-47zm1 3zm0 17zm0 6zm1 20zm0-9zm0-6zm2-22zm0 23zm0 14zm1-6zm0-3zm1-24zm0 6zm0 5zm0 19zm0 10zm1-23zm0-4zm0-22zm1 11zm0 4zm0 25zm0 2zm1-23zm1 5zm0 10zm0 5zm1-2zm0-7zm0-1zm0-5zm0-13zm2 26zm1-4zm0-6zm0-6zm0-9zm0-1zm1-3zm0 3zm0 3zm0 8zm0 14zm0 4zm1-3zm0-17zm0-10zm1 0zm0 31zm1 1zm1-42zm0 24zm0 18zm1-6zm0-26zm1 28zm1-21zm0-7zm1-5zm0 11zm0 32zm1-7zm0-26zm1 4zm0 5zm0 1zm0 12zm1 8zm0-6zm0-11zm0-3zm2-8zm0 11zm0 14zm0 1zm1-5zm0-3zm0-11zm1-6zm0 4zm0 3zm0 14zm1 4zm0-20zm0-10zm1 26zm0 1zm0 6zm1-22zm1 6zm1 7zm0-11zm0-6zm1-5zm0 2zm0 24zm0 10zm1-35zm1 25zm0 8zm1-26zm0-2zm1 4zm0 3zm0 1zm0 1zm1 8zm0-9zm0-15zm1 1zm0 4zm0 4zm0 8zm0 13zm1-23zm1 18zm1-1zm0-17zm1-1zm0 7zm0 2zm0 6zm1 5zm0-16zm0-8zm2 25zm3-17zm0-8zm2 2zm0 13zm0 1zm0 4zm1-5zm0-9zm1-5zm1 24zm0-13zm0-5zm0-4zm1 20zm1-4zm0-3zm0-9zm0-2zm0-5zm1-3zm1 28zm0-9zm0-6zm0-1zm2 15zm1 2zm0-21zm1-1zm0 1zm0 8zm0 12zm2 0zm0-2zm0-8zm1-8zm0 5zm0 12zm1-14zm1-3zm0 7zm0 5zm1 15zm0-6zm0-10zm0-10zm1-2zm1 17zm0-9zm1-4zm1 9zm1-14zm1 22zm1-24zm0 10zm2 10zm0-25zm1 25zm1 1zm0-8zm0-5zm4-2zm0 7zm0 6zm1 2zm1 2zm1-4zm1-11zm0 5zm2-2zm1 4zm3-8zm0-6zm4 12zm1 14zm0-6zm1-9zm1 4zm0-4zm1-3zm2 8zm1-15zm2 18zm0-10zm1-1zm1 14zm0-2zm1-3zm1 2zm1-7zm0 2zm1-1zm1 1zm3 6zm0-1zm0-9zm0-1zm0-6zm3 20zm1-9zm0-8zm1 6zm3 4zm2 3zm1 8zm0-10zm4 1zm1-1zm0-9zm1 10zm1-2zm3 10zm1-3zm0-4zm1 2zm1 2zm0-5zm1-2zm0 8zm2-3zm4 4zm2-2zm0-1zm3 5zm3-1z" stroke="#f1c690" stroke-width="4.5" stroke-linecap="round" fill="none"/><path d="M1079 1375zm0 6zm0 4zm0 9zm0 21zm1 3zm0-8zm0-9zm0-2zm0-54zm0-2zm0-1zm1 3zm0 2zm0 14zm0 5zm0 24zm0 30zm0 5zm0 15zm1-32zm0-13zm0-19zm0-6zm0-48zm1 5zm0 17zm0 16zm0 5zm0 7zm0 8zm0 1zm0 16zm0 12zm0 19zm1-1zm0-5zm0-13zm0-31zm0-14zm0-13zm1-3zm0 4zm0 11zm0 4zm0 44zm0 1zm0 13zm0 1zm0 1zm1 6zm0-5zm0-3zm0-5zm0-14zm0-20zm0-3zm0-5zm0-7zm0-6zm0-8zm0-1zm1 17zm0 14zm0 1zm0 3zm0 9zm0 3zm0 6zm0 9zm0 4zm0 21zm1 7zm0-27zm0-1zm0-4zm0-7zm0-2zm0-4zm0-1zm0-14zm0-8zm0-1zm0-16zm0-16zm0-2zm0-12zm1 13zm0 6zm0 15zm0 9zm0 8zm0 47zm1 10zm0-14zm0-9zm0-3zm0-5zm0-4zm0-22zm0-5zm0-15zm0-7zm0-6zm0-6zm1 2zm0 12zm0 4zm0 2zm0 16zm0 5zm0 5zm0 11zm0 15zm0 3zm0 2zm0 2zm0 1zm0 5zm1-13zm0-34zm0-2zm0-10zm0-10zm0-24zm1 16zm0 9zm0 3zm0 14zm0 5zm0 15zm0 2zm0 7zm0 1zm0 11zm0 7zm0 2zm1-5zm0-11zm0-6zm0-17zm0-3zm0-2zm0-16zm0-9zm0-5zm0-5zm1 8zm0 11zm0 8zm0 1zm0 3zm0 4zm0 19zm0 6zm0 4zm1 29zm0-17zm0-5zm0-2zm0-4zm0-1zm0-21zm0-3zm0-5zm0-6zm0-22zm0-1zm1 14zm0 2zm0 12zm0 3zm0 3zm0 4zm0 6zm0 20zm0 1zm0 5zm1 2zm0-8zm0-8zm0-1zm0-4zm0-61zm1 20zm0 9zm0 34zm0 10zm0 1zm0 1zm0 11zm1-9zm0-5zm0-9zm0-10zm0-6zm0-5zm0-19zm1-7zm0 12zm0 6zm0 19zm0 22zm0 11zm0 2zm1-1zm0-44zm0-1zm0-11zm0-2zm0-16zm0-4zm1 22zm0 4zm0 2zm0 13zm0 18zm0 12zm0 1zm0 14zm1-28zm0-12zm0-6zm0-1zm0-14zm0-8zm0-6zm0-2zm0-4zm0-2zm0-3zm0-1zm1-5zm0 8zm0 10zm0 17zm0 41zm0 27zm1-19zm0-18zm0-4zm0-8zm0-2zm0-4zm0-2zm0-1zm0-2zm0-2zm0-1zm0-2zm0-20zm0-7zm1 20zm0 1zm0 10zm0 9zm0 2zm0 1zm0 4zm0 8zm0 9zm0 4zm0 4zm0 2zm1-10zm0-6zm0-13zm0-17zm0-5zm0-2zm0-13zm0-10zm1-2zm0 1zm0 20zm0 4zm0 12zm0 4zm0 1zm0 5zm0 4zm0 7zm0 6zm0 15zm1 18zm0-9zm0-1zm0-10zm0-13zm0-18zm0-1zm0-30zm0-3zm0-4zm1 15zm0 22zm0 11zm0 8zm0 8zm0 3zm1 9zm0-1zm0-3zm0-11zm0-9zm0-4zm0-6zm0-15zm0-5zm1-31zm0 1zm0 10zm0 8zm0 12zm0 7zm0 7zm0 11zm0 5zm0 6zm0 22zm1-8zm0-2zm0-21zm0-23zm0-9zm1-28zm0 10zm0 25zm0 13zm0 15zm0 3zm0 2zm0 11zm0 7zm1-10zm0-1zm0-7zm0-9zm0-13zm0-31zm0-2zm0-2zm0-7zm1 8zm0 11zm0 15zm0 1zm0 35zm0 5zm0 2zm1-23zm0-1zm0-3zm0-5zm0-24zm0-2zm0-7zm0-6zm0-27zm1-1zm0 9zm0 4zm0 6zm0 6zm0 9zm0 2zm0 1zm0 35zm0 9zm0 14zm0 5zm0 2zm0 6zm0 6zm1-11zm0-4zm0-4zm0-1zm0-9zm0-8zm0-17zm0-26zm1-28zm0 33zm0 54zm0 12zm1 6zm0-21zm0-30zm0-9zm0-7zm0-1zm0-3zm0-7zm0-22zm1 26zm0 19zm0 1zm0 27zm0 6zm0 8zm0 5zm1 16zm0-35zm0-20zm0-3zm0-31zm0-5zm0-7zm1 5zm0 2zm0 4zm0 3zm0 1zm0 8zm0 9zm0 15zm0 5zm0 13zm0 2zm0 4zm0 16zm0 2zm1-1zm0-35zm0-2zm0-18zm1-24zm0 13zm0 11zm0 18zm0 1zm0 2zm0 7zm0 8zm0 3zm0 26zm1-22zm0-15zm0-1zm0-3zm0-6zm0-30zm0-6zm0-4zm1 9zm0 3zm0 17zm0 34zm1-51zm0-1zm1 1zm0 6zm0 6zm0 8zm0 4zm0 5zm0 4zm0 5zm0 2zm0 3zm0 12zm1-3zm0-10zm0-2zm0-1zm0-6zm0-5zm0-52zm1 18zm0 35zm0 22zm0 32zm1-13zm0-8zm0-2zm0-32zm0-3zm0-7zm0-6zm1-15zm0 7zm0 8zm0 8zm0 9zm0 9zm0 10zm0 6zm0 4zm0 5zm1 7zm0-13zm0-12zm0-13zm0-7zm0-16zm0-15zm0-11zm1 28zm0 3zm0 1zm0 28zm0 6zm1 2zm0-1zm0-21zm0-13zm0-17zm0-3zm0-5zm1 13zm0 20zm0 2zm0 10zm0 11zm0 4zm0 6zm0 5zm1 1zm0-4zm0-3zm0-4zm0-17zm0-6zm0-11zm0-5zm0-8zm1-18zm0 11zm0 55zm0 4zm0 23zm1-24zm0-2zm0-1zm0-6zm0-13zm0-34zm0-6zm1 13zm0 14zm0 4zm0 24zm0 5zm0 3zm1 10zm0-1zm0-2zm0-5zm0-6zm0-10zm0-17zm0-8zm0-2zm0-5zm0-8zm1 3zm0 3zm0 20zm0 3zm0 20zm0 13zm1 5zm0-2zm0-32zm0-15zm0-12zm0-7zm1 4zm0 1zm0 12zm0 15zm0 9zm0 20zm1 6zm0-1zm0-4zm0-9zm0-29zm0-1zm0-2zm0-13zm0-7zm0-1zm1 5zm0 21zm0 10zm0 3zm1 28zm0-3zm0-3zm0-1zm0-24zm0-3zm0-16zm0-12zm1-6zm0 22zm0 2zm0 15zm0 3zm0 3zm0 6zm0 4zm0 5zm0 3zm1 6zm0-15zm0-8zm0-5zm0-9zm0-5zm0-8zm0-1zm1-19zm0 17zm0 8zm0 1zm0 1zm0 6zm0 32zm0 11zm1-6zm0-13zm0-3zm0-4zm0-47zm0-8zm1 38zm0 7zm1 33zm0-10zm0-2zm0-10zm0-14zm0-1zm0-7zm0-3zm0-4zm0-5zm0-8zm1-11zm0 2zm0 1zm0 19zm0 5zm0 6zm0 9zm0 1zm0 2zm0 7zm0 22zm1 11zm0-13zm0-7zm0-2zm0-5zm0-25zm1-24zm0 4zm0 19zm0 10zm0 4zm0 5zm0 7zm0 8zm0 10zm1 11zm0-11zm0-4zm0-4zm0-6zm0-12zm0-6zm1-46zm0 22zm0 10zm0 20zm0 7zm0 10zm0 9zm1-9zm0-9zm0-9zm0-7zm0-15zm0-3zm0-1zm0-1zm1-32zm0 20zm0 11zm0 4zm0 19zm0 15zm0 18zm1-23zm0-40zm0-7zm1 19zm0 8zm0 38zm1 3zm0-40zm0-5zm0-4zm0-6zm1 0zm0 1zm0 6zm0 24zm0 2zm0 2zm0 1zm0 3zm0 16zm0 2zm1-1zm0-1zm0-9zm0-38zm0-15zm1 19zm0 9zm0 7zm0 17zm0 4zm0 9zm1-2zm0-2zm0-4zm0-18zm0-1zm0-1zm0-3zm0-3zm0-9zm1-10zm0 3zm0 6zm0 2zm0 22zm0 4zm0 6zm0 15zm1-4zm0-30zm0-20zm0-6zm0-7zm1 1zm0 7zm0 13zm0 27zm1-13zm0-26zm0-1zm0-1zm1 28zm0 16zm0 4zm1 7zm0-1zm0-18zm0-5zm0-1zm0-3zm0-16zm0-7zm0-2zm1-7zm0 9zm0 6zm0 14zm0 15zm0 1zm0 19zm0 6zm1-9zm0-9zm0-22zm0-1zm0-2zm0-1zm0-17zm0-14zm1 30zm0 6zm0 9zm0 10zm0 10zm0 1zm1 0zm0-11zm0-3zm0-6zm0-23zm0-10zm1-3zm0 3zm0 1zm0 1zm0 20zm0 13zm0 18zm0 1zm1 12zm0-28zm0-10zm1-28zm0 11zm0 31zm1 9zm0-2zm0-3zm0-32zm0-15zm1 17zm0 16zm0 3zm0 7zm0 7zm1-5zm0-14zm0-4zm0-1zm0-17zm0-3zm0-20zm1-2zm0 17zm0 2zm0 13zm0 1zm0 12zm0 19zm0 5zm0 13zm0 2zm1-15zm0-16zm0-6zm0-17zm0-7zm0-2zm1 3zm0 3zm0 9zm0 12zm0 1zm0 21zm0 3zm1 13zm0-12zm0-2zm0-1zm0-1zm0-3zm0-32zm0-5zm0-4zm0-16zm1-2zm0 25zm0 7zm0 3zm0 5zm0 2zm0 10zm0 9zm0 4zm0 1zm1-31zm0-5zm0-18zm0-1zm1 36zm0 1zm0 18zm1-7zm0-4zm0-18zm0-20zm0-3zm1-1zm0 5zm0 6zm0 1zm0 3zm0 4zm0 9zm0 5zm0 9zm0 6zm0 15zm1-8zm0-13zm0-10zm0-3zm0-3zm0-2zm1-32zm0 17zm0 9zm0 3zm0 18zm0 20zm0 8zm1-36zm0-1zm0-1zm0-4zm0-6zm0-8zm0-9zm0-2zm1 8zm0 18zm1 26zm0-7zm0-6zm0-10zm0-7zm0-12zm1 4zm0 13zm0 10zm0 15zm1-7zm0-18zm0-2zm0-13zm0-4zm0-5zm0-12zm1 12zm0 27zm0 10zm1-2zm0-12zm0-4zm1-19zm0 7zm0 10zm0 31zm0 1zm1 12zm0-7zm0-6zm0-11zm0-2zm0-10zm0-2zm0-3zm0-13zm0-9zm0-20zm1 37zm0 2zm0 13zm1 14zm0-3zm0-11zm0-21zm0-14zm0-14zm1 19zm0 5zm0 19zm0 9zm0 1zm0 18zm0 13zm1-17zm0-30zm0-1zm0-2zm0-3zm1-10zm0 5zm0 8zm0 10zm0 3zm0 9zm0 6zm0 6zm1 7zm0-7zm0-28zm0-12zm1-9zm0 1zm0 2zm0 7zm0 3zm0 6zm0 29zm1 15zm0-17zm0-12zm0-4zm0-40zm0-2zm1 9zm0 13zm0 25zm0 1zm0 14zm0 2zm0 3zm1 12zm0-26zm0-2zm0-5zm0-17zm0-12zm0-18zm0-1zm0-5zm1 21zm0 1zm0 5zm0 23zm0 14zm0 8zm1-1zm0-2zm0-1zm0-7zm0-14zm0-2zm0-2zm0-10zm0-2zm0-3zm0-2zm0-3zm0-3zm1 2zm0 5zm0 12zm0 6zm0 6zm0 5zm0 6zm1 13zm0-6zm0-4zm0-39zm1-3zm0 1zm0 26zm0 10zm0 25zm1-15zm0-27zm0-3zm1-12zm0 2zm0 6zm0 3zm0 1zm0 10zm0 9zm0 3zm0 5zm0 5zm1 0zm0-10zm0-5zm1-32zm0 7zm0 5zm0 6zm0 3zm0 6zm0 8zm0 2zm0 15zm1 12zm0-13zm0-1zm0-17zm0-2zm0-9zm0-4zm0-3zm1-10zm0 1zm0 1zm0 6zm0 1zm0 6zm0 9zm0 10zm0 11zm0 2zm1-34zm0-12zm0-13zm1 27zm0 8zm0 7zm0 2zm0 1zm0 2zm0 17zm1-34zm1-14zm0 10zm0 4zm0 13zm0 7zm0 8zm0 2zm1-4zm0-19zm0-6zm1-35zm0 12zm0 8zm0 24zm0 16zm0 3zm1-47zm1 7zm0 11zm0 20zm0 1zm0 9zm1 1zm0-10zm0-2zm0-3zm0-26zm1 6zm0 1zm0 24zm0 5zm1 4zm0-10zm0-2zm0-18zm0-2zm1 37zm1-3zm0-9zm0-1zm0-13zm0-10zm0-5zm0-12zm0-5zm1 27zm0 4zm0 10zm1 0zm0-1zm0-2zm0-25zm1 1zm0 12zm0 2zm0 3zm0 13zm0 2zm0 5zm1 4zm0-10zm0-3zm0-12zm0-12zm0-6zm0-5zm1 2zm0 4zm0 15zm0 4zm0 17zm1 1zm0-5zm0-13zm0-19zm0-2zm0-2zm1 12zm0 15zm0 10zm0 6zm1 3zm0-8zm0-17zm1-15zm0 18zm0 2zm0 8zm0 3zm0 6zm1-4zm0-18zm0-2zm0-11zm1-9zm0 1zm0 19zm0 2zm0 9zm0 14zm1-5zm0-32zm0-4zm0-1zm0-6zm1 2zm0 19zm0 17zm0 5zm0 3zm1-1zm0-3zm0-34zm0-1zm1 24zm0 3zm0 15zm1 2zm0-27zm0-15zm1 0zm0 36zm1-2zm0-20zm1-12zm0 14zm0 17zm0 1zm1 18zm1-59zm0 1zm0 4zm0 1zm0 1zm0 8zm0 3zm0 12zm0 9zm0 2zm0 2zm1 8zm0-2zm0-16zm1-25zm0 21zm0 8zm0 16zm0 1zm1-5zm0-22zm1-16zm0 6zm0 1zm0 5zm0 6zm0 9zm0 2zm1 5zm0-8zm0-6zm0-3zm1-21zm0 7zm0 7zm0 14zm0 2zm1 21zm0-16zm0-2zm0-17zm0-21zm1 7zm0 4zm0 10zm1 31zm0-4zm0-19zm0-17zm1 29zm0 10zm1 0zm0-5zm0-15zm0-1zm0-6zm0-9zm0-5zm1 18zm1-11zm0-1zm0-3zm0-6zm0-13zm1 9zm0 26zm0 11zm0 11zm1-21zm0-6zm0-4zm0-16zm1 6zm0 8zm0 16zm0 8zm0 2zm1 5zm0-6zm0-5zm0-18zm0-20zm1 12zm0 15zm0 1zm1 32zm0-11zm0-5zm0-5zm0-7zm0-6zm0-7zm1-3zm0 6zm0 9zm0 7zm0 10zm0 11zm1-13zm0-31zm0-1zm0-3zm0-1zm0-5zm1 6zm0 8zm0 9zm0 13zm0 5zm0 1zm1 10zm0-4zm0-1zm0-19zm0-2zm0-2zm1-17zm0 18zm0 5zm0 6zm0 1zm0 1zm1-3zm1-26zm0 40zm1-25zm0-3zm0-11zm1 6zm0 5zm0 4zm0 3zm0 4zm0 1zm0 4zm1 11zm0-21zm0-2zm0-9zm1 27zm0 1zm1-5zm0-1zm0-8zm0-14zm0-2zm0-1zm0-19zm1 15zm0 6zm0 20zm0 5zm1 10zm0-3zm0-14zm0-1zm0-4zm0-15zm0-1zm0-22zm1 16zm0 40zm1 3zm0-15zm0-28zm1 6zm0 23zm0 5zm1 5zm0-4zm0-26zm1-13zm0 13zm0 30zm0 5zm1 1zm0-2zm0-15zm0-5zm0-7zm0-4zm0-5zm0-1zm0-10zm1 30zm0 10zm0 12zm1 3zm0-8zm0-37zm0-1zm0-11zm0-2zm1 11zm0 7zm0 35zm0 1zm1 0zm0-21zm0-18zm0-1zm1 10zm0 1zm0 4zm0 2zm0 8zm0 12zm1-6zm0-1zm0-16zm0-20zm0-3zm1 16zm0 8zm0 1zm0 15zm0 8zm0 1zm1-36zm0-2zm0-2zm1 3zm0 14zm0 1zm0 6zm0 1zm0 14zm1-3zm0-3zm0-30zm0-2zm0-8zm1 11zm0 7zm0 14zm0 4zm0 1zm0 9zm0 1zm0 3zm1-1zm0-1zm0-12zm0-3zm0-29zm1 25zm0 10zm0 1zm0 7zm0 2zm0 2zm0 5zm1-29zm0-5zm0-4zm0-6zm0-1zm0-1zm1 2zm0 23zm0 2zm0 1zm0 5zm1 7zm0-7zm0-27zm0-15zm1 15zm0 2zm0 17zm0 6zm0 2zm0 17zm1-17zm0-5zm0-12zm1-14zm0 15zm0 1zm0 11zm0 2zm1 10zm0-16zm1-23zm0 5zm0 3zm0 14zm0 10zm0 2zm1 8zm0-17zm0-11zm0-5zm0-1zm0-5zm0-3zm1 0zm0 4zm0 7zm0 9zm0 4zm0 1zm0 4zm0 7zm1 4zm0-9zm0-3zm0-4zm0-4zm1-24zm0 28zm0 8zm0 1zm0 4zm1 5zm0-5zm0-2zm0-8zm0-10zm0-2zm0-8zm0-3zm1-9zm0 3zm0 9zm0 1zm0 8zm0 20zm1 4zm0-9zm0-2zm0-12zm0-9zm1 5zm0 4zm1 28zm0-5zm0-18zm0-3zm0-4zm1-18zm0 10zm0 1zm0 17zm0 16zm0 4zm1 2zm0-23zm0-14zm0-20zm1 17zm0 3zm0 9zm0 14zm1-2zm0-4zm0-1zm0-1zm0-10zm0-10zm1 0zm0 1zm0 9zm0 11zm0 7zm0 1zm1-1zm0-19zm0-1zm0-4zm1-14zm0 21zm0 24zm0 5zm1-1zm0-2zm0-25zm0-23zm1-5zm0 24zm0 14zm0 17zm1 5zm0-42zm0-6zm1 15zm0 5zm0 1zm0 5zm0 14zm0 12zm1-20zm0-14zm0-2zm0-4zm1-5zm0 8zm0 11zm1 17zm0-9zm0-6zm0-6zm0-3zm0-7zm0-2zm0-3zm1 30zm0 6zm1-1zm0-16zm0-3zm0-3zm0-11zm0-7zm1 14zm0 1zm0 20zm1 5zm0-4zm0-9zm0-7zm0-3zm0-9zm1-10zm0 5zm0 4zm0 2zm0 12zm0 6zm1 19zm0-3zm0-7zm0-6zm0-9zm0-5zm1 5zm0 11zm1 11zm0-20zm0-2zm0-7zm1 23zm0 5zm1-3zm0-1zm0-6zm0-24zm1-2zm0 8zm0 12zm0 17zm1-9zm0-4zm0-2zm0-13zm1 7zm0 2zm0 15zm0 4zm1-21zm0-14zm1 9zm0 6zm0 5zm0 2zm0 9zm0 2zm1 4zm0-6zm0-3zm0-6zm0-1zm0-17zm0-2zm1 10zm0 11zm0 5zm0 4zm0 5zm1-16zm0-13zm1 8zm0 10zm1 8zm0-4zm0-10zm0-16zm1 23zm0 2zm1 7zm0-9zm0-4zm0-7zm1 16zm1-4zm1-25zm1 21zm0-3zm1 6zm1 12zm0-23zm1 2zm0 9zm0 7zm0 3zm0 2zm1-11zm0-2zm0-11zm0-25zm1 47zm1 1zm0-11zm1-2zm0 8zm1 6zm0-7zm0-17zm0-12zm1 13zm0 4zm0 2zm0 6zm0 2zm1 7zm0-5zm0-16zm0-1zm1-6zm0 1zm1 3zm0-1zm1-10zm1 40zm0-19zm0-7zm1 0zm0 12zm0 4zm0 6zm1-15zm1-31zm0 9zm0 13zm0 3zm0 10zm0 7zm0 3zm1 1zm0-2zm0-6zm0-14zm0-3zm0-15zm2 13zm0 8zm0 4zm0 6zm0 4zm1-12zm1-13zm0 8zm0 2zm0 10zm1 9zm0-1zm0-2zm1-14zm0 10zm0 1zm0 3zm1 0zm0-2zm0-12zm0-4zm0-13zm1 23zm0 1zm0 8zm0 1zm1 1zm0-13zm1-3zm0 3zm0 5zm1 6zm1-30zm0 21zm1 7zm0-3zm0-9zm1 9zm0 2zm0 6zm0 2zm0 2zm1 4zm0-25zm0-2zm2 4zm0 9zm1 0zm0-8zm0-3zm0-2zm1-12zm0 13zm0 8zm1 12zm0-9zm0-1zm1-8zm0 1zm0 8zm0 8zm0 1zm1-12zm0-1zm0-2zm2-1zm0 8zm1-1zm0-6zm1 4zm1-3zm2-6zm0 10zm0 5zm0 9zm1-5zm0-9zm0-1zm2 0zm0 4zm0 6zm1-12zm1 1zm0 10zm1 3zm0-2zm0-14zm0-7zm1 14zm2 9zm0-3zm0-5zm3-5zm0 10zm1 3zm0-8zm1-1zm0 3zm0 2zm1 1zm0-4zm0-1zm1 1zm0 2zm1 12zm0-13zm0-1zm2-4zm0 10zm2 2zm2-8zm0 8zm2-10zm0-8zm1 18zm0 1zm1-1zm0-6zm3-2zm0 2zm0 1zm0 6zm2-6zm3 5zm1-8zm1 3zm0 4z" stroke="#a6dff4" stroke-width="4.5" stroke-linecap="round" fill="none"/>
<path d="M1079.2 1275V1586.4M1124.7 1275V1586.4M1170.1 1275V1586.4M1215.6 1275V1586.4M1261 1275V1586.4M1306.5 1275V1586.4M1351.9 1275V1586.4M1397.4 1275V1586.4M1442.8 1275V1586.4M1488.2 1275V1586.4" stroke="#c2c2c2" stroke-width="1.3" stroke-dasharray="4 4.3" fill="none"/>
<path d="M1082 1380.8 1452.6 1499.7" fill="none" stroke="#000" stroke-width="2.0" stroke-linejoin="round" stroke-dasharray="9 5.5"/>
<path d="M1082 1410.8 1452.6 1550.7" fill="none" stroke="#000" stroke-width="2.1" stroke-linejoin="round"/>
<path d="M1082.7 1381.8 1089 1393.4 1095.9 1404.5 1104.7 1413.3 1113.4 1420.3 1123.9 1427.3 1134.4 1434.3 1144.9 1441.3 1155.4 1448.3 1165.9 1452.8 1176.4 1457.7 1186.9 1461.5 1197.3 1465.7 1207.8 1471 1218.3 1476.2 1228.8 1477.3 1239.3 1482.5 1249.8 1489.5 1260.3 1490.9 1270.8 1494.8 1284.8 1498.3 1298.7 1500.7 1312.7 1503.5 1326.7 1505.2 1340.7 1505.2 1354.7 1505.9 1368.7 1507.7 1382.7 1509.4 1396.6 1510.1 1410.6 1513.6 1424.6 1515.7 1435.1 1521 1445.6 1525.2 1452.6 1527.6" fill="none" stroke="#a232f2" stroke-width="2.0" stroke-linejoin="round"/>
<path d="M1082.7 1359.1 1087.2 1369.6 1092.4 1381.8 1099.4 1392.3 1106.4 1396.5 1115.2 1388.8 1123.9 1384.3 1130.9 1390.6 1139.7 1402.8 1148.4 1410.8 1157.1 1407 1165.9 1401.7 1172.9 1403.5 1183.4 1411.5 1193.8 1417.5 1204.3 1420.3 1214.8 1420.3 1225.3 1425.5 1235.8 1431.8 1246.3 1434.3 1260.3 1433.6 1270.8 1437.8 1281.3 1444.8 1291.7 1449 1302.2 1449 1312.7 1453.5 1323.2 1459.8 1337.2 1465.7 1347.7 1466.4 1354.7 1466.4 1365.2 1472.7 1375.7 1477.3 1386.2 1481.5 1396.6 1479.7 1407.1 1480.8 1417.6 1486.7 1424.6 1490.9 1431.6 1493.7 1435.1 1490.9 1440.3 1494.8 1445.6 1490.2 1449.1 1493.7 1453.3 1480.8" fill="none" stroke="#f01a1a" stroke-width="2.4" stroke-linejoin="round"/>
<path d="M1058.5 1271V1586.4H1508" stroke="#222" stroke-width="1.1" fill="none"/><path d="M1058.5 1282.4h-3.5M1058.5 1354.2h-3.5M1058.5 1426h-3.5M1058.5 1497.8h-3.5M1058.5 1569.8h-3.5M1079.2 1586.4v3.5M1124.7 1586.4v3.5M1170.1 1586.4v3.5M1215.6 1586.4v3.5M1261 1586.4v3.5M1306.5 1586.4v3.5M1351.9 1586.4v3.5M1397.4 1586.4v3.5M1442.8 1586.4v3.5M1488.2 1586.4v3.5" stroke="#222" stroke-width="1" fill="none"/>
<rect x="1055.8" y="1219.1" width="462.2" height="49.2" rx="3" fill="#000"/><rect x="1063.2" y="1226.5" width="447.4" height="34.4" fill="#cfa4fc"/><text x="1286.9" y="1258.6" font-size="39.1" text-anchor="middle" >H52</text>
<path d="M151 1927zm0 11zm0 25zm0 17zm1-11zm0-69zm3 45zm1 42zm0-31zm0-18zm0-3zm0-4zm1 21zm1 9zm1-40zm2 32zm0-13zm0-16zm0-14zm2 72zm1-10zm0-29zm1 45zm1-1zm0-21zm0-26zm0-12zm1-22zm0 11zm0 68zm1-20zm0-39zm2 2zm0 19zm0 24zm2-65zm3 82zm1-39zm1-18zm0 26zm0 9zm0 3zm0 3zm0 16zm1-75zm2 2zm2 74zm0-10zm0-33zm0-8zm0-12zm0-17zm3 4zm0 24zm1 50zm1 1zm0 31zm0 7zm2-18zm2-99zm0 40zm0 2zm1-16zm0-5zm2 10zm2 40zm0-10zm0-11zm1-20zm1 91zm0-55zm4 21zm1 34zm0-77zm0-12zm0-5zm0-3zm0-4zm1 56zm1-36zm3-18zm0 27zm0 25zm0 34zm3-58zm1-5zm1 67zm0-5zm0-1zm0-53zm0-7zm0-18zm2-9zm3 101zm0-30zm0-7zm0-6zm0-13zm0-9zm0-11zm2-6zm4 50zm0-67zm2 36zm3 65zm0-5zm0-12zm0-8zm1-22zm2 28zm2-5zm4-68zm1 45zm0 7zm0 24zm1-10zm4-76zm0 72zm0 23zm1-39zm1-20zm1 54zm0-35zm2 44zm1-16zm0-2zm0-76zm2 20zm1-5zm0-14zm1 92zm1-13zm0-70zm5 40zm0 7zm2-29zm3 13zm0 10zm0 25zm2 17zm3-20zm0 21zm6-8zm0-23zm4 32zm1-15zm0-14zm0-10zm3 36zm2-27zm0-11zm3-6zm19 24zm4 2zm8-15zm2 27zm6-26zm5 18zm5-6zm0-1zm0-5zm5 12zm2-15zm1 10zm8-4zm3 11zm2-8z" stroke="#a6dff4" stroke-width="4.8" stroke-linecap="round" fill="none"/><path d="M150 1753zm0 81zm1-18zm0-5zm0-38zm0-9zm0-12zm1 24zm2 64zm0-9zm0-7zm0-57zm0-8zm2-8zm0 4zm0 46zm0 13zm0 5zm3-1zm0-24zm0-45zm2 20zm0 22zm0 5zm0 31zm2-41zm1-28zm2 67zm0-7zm0-26zm0-13zm0-15zm0-3zm0-11zm4 0zm2 88zm0-12zm0-28zm1-36zm0 76zm3-75zm1-7zm0 4zm0 29zm0 13zm0 26zm4-8zm0-24zm1-44zm0 56zm1-44zm4 22zm0 12zm2 6zm1-44zm2 77zm0-36zm0-7zm0-12zm6-31zm0 11zm0 21zm0 30zm0 17zm3-69zm1-10zm1 86zm0-6zm0-18zm0-3zm0-7zm0-42zm1-8zm0 3zm4 97zm0-74zm3-27zm0 107zm1-97zm1-5zm0 13zm0 39zm1 8zm0-39zm4 1zm0 50zm2-14zm0-21zm1 68zm3-29zm0-2zm0-14zm0-33zm0-10zm5 14zm1 60zm0-11zm4-83zm0 1zm0 2zm0 43zm4-13zm1-15zm0 93zm2-2zm0-39zm2 2zm1 43zm0-52zm0-6zm0-4zm0-40zm0-5zm0-6zm3 91zm3-75zm0-16zm3 20zm2 31zm0-38zm2 32zm0 27zm0 27zm1 2zm0-36zm1-38zm0 7zm1 44zm0-9zm5-54zm0 10zm5 37zm3-59zm3 25zm0-14zm5-6zm0 34zm0 2zm2-37zm3 31zm5-21zm3 19zm2-11zm0-1zm6 13zm1-16zm1 19zm3 24zm0-52zm5 24zm0 9zm1-9zm4-25zm4 2zm1 13zm0 66zm5-63zm5 22zm1 30zm0-63zm3 79zm2-24zm4-60zm1 54zm0-31zm1 44zm4 18zm7-44zm1-36z" stroke="#d3b079" stroke-width="4.8" stroke-linecap="round" fill="none"/>
<path d="M146.5 1730V2044.4M191.9 1730V2044.4M237.4 1730V2044.4M282.9 1730V2044.4M328.3 1730V2044.4M373.8 1730V2044.4M419.2 1730V2044.4M464.7 1730V2044.4M510.1 1730V2044.4M555.5 1730V2044.4" stroke="#c2c2c2" stroke-width="1.3" stroke-dasharray="4 4.3" fill="none"/>
<path d="M152.1 1961.7 360.1 2028.2" fill="none" stroke="#000" stroke-width="2.2" stroke-linejoin="round" stroke-dasharray="8.5 5"/>
<path d="M152.1 1781.7 367.8 1812.8" fill="none" stroke="#000" stroke-width="2.2" stroke-linejoin="round"/>
<path d="M150.3 1791.8 155.6 1782.4 162.6 1775.4 168.5 1772.6 174.8 1792.9 180.1 1792.2 187.1 1812.8 192.3 1803.4 201 1806.9 206.3 1809.7 209.8 1803.4 218.5 1816.3 223.1 1807.9 229 1820.8 233.6 1821.5 237.8 1813.8 240.6 1827.1 244.8 1820.8 251.7 1822.6 258.7 1826.1 262.9 1813.8 269.2 1817.3 275.5 1803.4 279.7 1799.9 283.2 1798.8 288.5 1793.9 293.7 1801.6 307.7 1801.6 314.7 1799.2 321.7 1806.2 325.2 1805.1 330.4 1818 338.5 1818.4 342.7 1815.6 347.9 1805.1 352.4 1802.7 358.4 1791.1 362.9 1780.6 367.1 1784.1" fill="none" stroke="#9c1f22" stroke-width="2.0" stroke-linejoin="round"/>
<path d="M150.3 1918.7 155.6 1936.2 160.8 1953.7 167.8 1964.9 174.8 1961.4 180.1 1963.5 187.8 1954.8 191.6 1960.7 195.8 1971.2 201 1976.4 208 1988.7 213.3 1995.7 218.5 2000.9 223.8 1999.9 230.8 1995.7 236 1995 241.3 1998.5 246.5 2000.9 251.7 2008.6 258.7 2009.7 264 2009 269.2 2010.7 276.2 2012.4 283.2 2006.2 290.2 2006.9 295.5 2004.4 300.7 2006.2 307.7 2008.6 314.7 2006.2 325.2 2006.2 332.2 2004.4 340.9 2004.4 347.9 2007.2 353.1 2006.2 360.1 2009.7 363.6 2008.6 367.1 2012.4" fill="none" stroke="#f01a1a" stroke-width="2.4" stroke-linejoin="round"/>
<path d="M126.7 1726V2044.4H575" stroke="#222" stroke-width="1.1" fill="none"/><path d="M146.5 2044.4v3.5M191.9 2044.4v3.5M237.4 2044.4v3.5M282.9 2044.4v3.5M328.3 2044.4v3.5M373.8 2044.4v3.5M419.2 2044.4v3.5M464.7 2044.4v3.5M510.1 2044.4v3.5M555.5 2044.4v3.5" stroke="#222" stroke-width="1" fill="none"/>
<rect x="123" y="1677" width="462.1" height="48.9" rx="3" fill="#000"/><rect x="130.4" y="1684.4" width="447.3" height="34.1" fill="#42fd09"/><text x="354.1" y="1712.5" font-size="30.3" text-anchor="middle" >H14</text>
<path d="M616 1857zm0 20zm0 2zm0 29zm0 56zm1-2zm0-21zm0-55zm1-31zm0 58zm1 66zm0-18zm0-5zm0-8zm0-3zm0-4zm0-10zm0-1zm0-8zm0-2zm0-2zm0-6zm0-4zm0-1zm0-3zm0-13zm0-8zm0-5zm0-23zm1 112zm1 13zm0-37zm0-34zm0-11zm0-3zm0-25zm1 45zm1 10zm0-5zm1-52zm0 10zm0 6zm0 7zm0 25zm0 1zm0 1zm0 2zm0 3zm0 1zm0 3zm0 3zm0 3zm0 3zm0 23zm0 9zm0 8zm1-32zm0-36zm0-1zm0-25zm1 41zm0 37zm0 20zm1-13zm0-17zm0-20zm0-34zm1 49zm1 29zm0-10zm0-6zm0-9zm0-12zm0-7zm0-2zm0-4zm0-3zm0-3zm0-4zm0-11zm0-24zm2 41zm0 3zm0 11zm0 5zm0 25zm1-27zm1-27zm0 15zm1 48zm0-16zm0-5zm0-2zm0-7zm0-4zm0-24zm0-6zm1 24zm2-22zm1-30zm0 63zm0 14zm1 5zm1-73zm0 6zm0 8zm0 1zm0 1zm0 10zm0 33zm2-21zm0-13zm1-4zm1 69zm1-100zm0 6zm0 6zm0 23zm0 2zm0 30zm0 1zm0 4zm0 15zm2-39zm0-18zm0-4zm3-21zm0 1zm0 2zm0 24zm0 6zm0 1zm0 6zm0 32zm0 12zm2-36zm0-8zm1 0zm1 7zm0-1zm1-20zm0 1zm0 9zm0 15zm0 7zm0 16zm0 3zm0 14zm0 9zm2-46zm1-27zm0 2zm0 26zm0 35zm1-14zm0-8zm0-4zm1-52zm0 19zm0 5zm0 15zm0 1zm0 4zm0 7zm0 3zm0 19zm1-24zm1 46zm2-17zm0-34zm1-22zm0 49zm1-4zm0-22zm0-8zm0-6zm0-11zm0-24zm0-9zm2 36zm0 9zm0 9zm3 32zm0-15zm0-30zm0-11zm0-17zm1 12zm0 67zm1-5zm0-61zm2 34zm1 46zm0-15zm0-2zm0-10zm0-7zm0-2zm0-30zm0-2zm2 23zm0 7zm0 12zm1-63zm2 23zm0 13zm0 2zm0 24zm0 2zm0 4zm0 5zm0 2zm1-17zm0-67zm4 37zm0 5zm0 10zm0 26zm0 8zm4-9zm0-60zm1 36zm1 32zm0-12zm0-20zm0-2zm0-1zm0-14zm0-4zm0-2zm0-8zm1 34zm0 31zm4-10zm0-4zm0-5zm0-7zm0-3zm0-11zm0-3zm0-3zm0-5zm1 12zm0 27zm2-36zm2-17zm0 3zm0 3zm0 17zm0 26zm0 8zm0 2zm0 13zm2-21zm0-18zm1-7zm0 16zm0 25zm1-17zm0-13zm0-24zm1-18zm0 1zm0 25zm0 5zm0 21zm0 3zm0 3zm0 11zm0 1zm2-15zm1-17zm2 14zm0-11zm0-21zm1 17zm2 8zm3-31zm0 7zm0 6zm0 5zm0 13zm1 2zm0-2zm0-22zm0-5zm1 11zm3 6zm0-5zm1 35zm1-53zm1 8zm2 41zm0-7zm0-6zm0-9zm0-6zm0-10zm0-9zm4 23zm0 10zm1 11zm0-37zm0-4zm0-8zm2-8zm3 64zm0-5zm0-23zm0-6zm0-3zm4-18zm0 36zm0 2zm1 4zm1-15zm0 7zm0 4zm1-35zm4 43zm0 13zm3 25zm0-52zm1 32zm1 14zm0-37zm0-6zm0-1zm0-14zm1 11zm3-17zm0-2zm1 8zm0 10zm0 1zm0 1zm0 9zm0 5zm0 5zm1-33zm3 10zm0 13zm1 22zm0-4zm0-32zm0-1zm0-21zm1 37zm0 38zm1-59zm4 2zm0 9zm0 9zm0 2zm0 1zm0 14zm1-31zm2-24zm0 42zm2-3zm0-2zm0-1zm0-17zm4-10zm1 37zm0-28zm1 4zm1 15zm1-32zm1 40zm0-4zm1-32zm0 7zm0 3zm0 1zm0 2zm0 11zm0 8zm0 12zm5-5zm0-3zm0-4zm0-10zm0-5zm0-2zm0-1zm0-1zm0-15zm0-16zm1 67zm1-17zm1-12zm3 16zm0-6zm0-11zm0-1zm0-8zm4-4zm0 15zm0 14zm0 3zm1 19zm0-18zm0-14zm0-4zm0-25zm4 56zm1 3zm0-11zm0-9zm0-8zm0-16zm0-4zm1 29zm0 7zm2-5zm0-20zm2-23zm0 24zm0 4zm0 29zm2-13zm0-3zm1-6zm2 27zm0-9zm0-15zm0-3zm0-3zm0-6zm1 21zm1 7zm1-35zm1-14zm2 0zm0 8zm0 19zm1 8zm1 20zm3-27zm0-8zm2-21zm3 73zm0-27zm0-10zm0-3zm0-9zm0-1zm0-14zm3 22zm2 27zm0-29zm0-18zm5 7zm0 19zm3 30zm3-55zm0 11zm0 5zm0 33zm0 6zm5-19zm0-7zm0-25zm0-2zm4 41zm2-4zm0-20zm1 13zm3 21zm0-34zm0-15zm2 40zm0 17zm1-5zm0-13zm0-7zm2-14zm0 19zm0 6zm0 9zm0 9zm1-22zm4-7zm1 27zm0-4zm0-1zm0-42zm1 24zm2-4zm2-21zm0 12zm0 4zm2 19zm0-6zm3-14zm0 3zm0 4zm0 23zm4-3zm0-50zm1 23zm0 5zm0 26zm1-27zm1 14zm3-8zm0-6zm6 0zm0 8zm1 12zm1-11zm3-10zm2-18zm1 39zm2-26zm0 5zm0 2zm1-13zm2 21zm3 2zm1-21zm6 21zm2-27zm0 19zm1 21zm0-14zm0-6zm1 6zm4-2zm0-12zm0-5zm4 30zm1 6zm0-15zm0-1zm0-6zm0-2zm4-8zm0 17zm5-2zm1-4zm6 9zm0-1zm1-3zm1 15zm4-11zm4 5zm5-16zm0 10zm0 10zm11-7zm0-3zm2 2zm3 4zm0-7zm0-4zm0-9zm5 4zm1 15zm4-17zm2 5z" stroke="#a6dff4" stroke-width="4.8" stroke-linecap="round" fill="none"/><path d="M614 1798zm2 14zm0-28zm1 17zm0 6zm1-11zm0-10zm0-15zm0-12zm1-9zm0 1zm0 1zm0 2zm0 10zm0 1zm0 3zm0 4zm0 2zm0 3zm0 3zm0 3zm0 7zm0 9zm0 5zm0 3zm0 2zm0 15zm0 3zm1-27zm0-46zm0-1zm1 9zm0 11zm1-17zm0-6zm2 6zm0 4zm0 2zm0 2zm0 4zm0 13zm0 18zm0 7zm0 11zm1 5zm0-49zm1 33zm1-17zm0-15zm1-17zm0 13zm1 55zm0-10zm0-3zm0-10zm0-14zm0-13zm0-9zm0-3zm0-4zm0-1zm0-2zm0-6zm2 67zm3 13zm0-9zm0-10zm0-10zm0-10zm0-11zm0-10zm0-7zm0-4zm0-7zm0-3zm2 7zm1 58zm0-62zm2 35zm0 14zm1 9zm0-4zm0-7zm0-15zm0-4zm0-11zm1-20zm0 5zm0 20zm1-16zm2 69zm1-13zm0-1zm0-6zm0-4zm0-5zm0-11zm0-7zm0-5zm0-19zm0-6zm0-1zm1 3zm3 67zm1-56zm0 11zm0 23zm0 24zm2-10zm0-20zm0-25zm0-5zm3 4zm0 10zm0 1zm0 21zm0 6zm0 2zm0 4zm1-38zm0-19zm2 35zm2 47zm0-20zm0-15zm0-7zm0-14zm0-4zm0-25zm4 73zm2 8zm0-6zm0-26zm0-20zm0-3zm0-4zm0-19zm1-3zm0 4zm4 63zm0-30zm0-16zm0-1zm0-17zm1 9zm4 100zm0-7zm0-22zm0-1zm0-3zm0-17zm0-22zm0-34zm0-3zm2 39zm0 33zm3 16zm0-11zm0-8zm0-11zm0-7zm0-13zm0-27zm0-13zm1 101zm1-101zm1 2zm1 101zm0-23zm0-41zm1-33zm0 23zm0 12zm0 12zm0 23zm3 25zm1-26zm1-73zm0-2zm1 0zm0 3zm0 11zm0 84zm0 16zm1-30zm0-18zm1-38zm1-23zm0-2zm1 24zm1 85zm0-1zm0-27zm0-3zm0-14zm0-65zm1 75zm1-49zm1-17zm2 66zm0-12zm0-37zm0-2zm1 76zm2-38zm0-26zm2-29zm0 23zm0 12zm0 17zm5 31zm0-66zm0-18zm1 1zm0 2zm4-9zm1-1zm0 1zm0 12zm0 13zm0 12zm0 23zm0 21zm0 14zm1-11zm1-84zm1 49zm1-44zm1 68zm0-44zm0-17zm0-6zm1 78zm2-16zm2-50zm0 1zm0 12zm0 14zm0 7zm0 36zm0 6zm1 8zm1-61zm3 34zm0-22zm0-20zm0-35zm2 11zm3 31zm0-10zm0-28zm0-1zm1 23zm1 49zm2-53zm0 66zm1-80zm1 10zm0 13zm0 17zm1 16zm0-34zm0-20zm1-5zm0 54zm1-36zm2-22zm0 56zm5 40zm0-21zm0-73zm1 12zm0 22zm1 13zm1-46zm0 3zm0 41zm2 39zm0-1zm0-69zm0-3zm0-9zm2 1zm3 65zm0-41zm1-4zm3 65zm0-8zm0-2zm1-45zm1 61zm0-2zm0-22zm0-13zm0-50zm0-2zm0-6zm1 86zm2 27zm0-110zm1 63zm1-6zm0-14zm0-4zm0-18zm0-9zm0-14zm1 2zm1 31zm1 38zm0 25zm2 16zm0-27zm0-18zm0-28zm2 31zm3 25zm0-2zm0-6zm0-24zm0-26zm0-7zm0-13zm1 52zm1-47zm2-20zm1 76zm0-9zm0-2zm0-27zm0-26zm0-15zm3 17zm2 86zm1-79zm4 102zm0-59zm1-52zm0 9zm0 12zm0 24zm0 49zm0 2zm4-39zm0-14zm1-49zm0 1zm0 35zm0 3zm0 52zm0 8zm1-84zm2 36zm2 2zm0-25zm0-34zm4 23zm0 45zm1 31zm0-27zm0-40zm0-14zm0-6zm0-8zm0-1zm2 101zm4-8zm0-25zm0-2zm0-32zm0-24zm1 47zm1-22zm1 52zm2-27zm0-34zm0-15zm0-10zm2 50zm3 40zm0-3zm2-90zm0 7zm1 9zm1-14zm2 60zm1-25zm0 61zm5-64zm3 19zm1 53zm0-19zm0-5zm0-8zm0-54zm0-2zm0-4zm0-10zm1 9zm0 11zm0 35zm3 33zm1-87zm0 5zm0 15zm0 62zm2-62zm1 50zm1-62zm1-12zm0 41zm0 32zm1-15zm0-18zm3-38zm1 61zm0-41zm0-8zm0-4zm2 69zm3 12zm0-26zm0-18zm0-19zm0-9zm0-9zm3-2zm2 52zm1-43zm0 38zm0 5zm5-26zm2 27zm0 24zm1-49zm2-34zm0 42zm0 12zm0 6zm0 23zm1-81zm1 1zm3 0zm3 70zm1-57zm0-6zm1 12zm0 1zm0 13zm0 38zm3-8zm3-50zm0 2zm0 28zm1-9zm2 12zm2-48zm1 66zm1-38zm1-2zm1 9zm1 32zm3-64zm9 29zm1-8zm8-17zm5-5zm12 3zm1-3zm3 15zm0 6zm5 1zm0-16zm0-5zm1-1zm4 23zm0-17zm1-5zm1 0zm3 11zm1-13zm4 9zm20-8zm2 18z" stroke="#d3b079" stroke-width="4.8" stroke-linecap="round" fill="none"/>
<path d="M612.8 1730V2043.9M657.9 1730V2043.9M702.9 1730V2043.9M748 1730V2043.9M793 1730V2043.9M838.1 1730V2043.9M883.2 1730V2043.9M928.2 1730V2043.9M973.3 1730V2043.9M1018.3 1730V2043.9" stroke="#c2c2c2" stroke-width="1.3" stroke-dasharray="4 4.3" fill="none"/>
<path d="M617.7 1935.2 994.6 1991.5" fill="none" stroke="#000" stroke-width="2.2" stroke-linejoin="round" stroke-dasharray="8.5 5"/>
<path d="M617.7 1785.9 994.6 1802.7" fill="none" stroke="#000" stroke-width="2.2" stroke-linejoin="round"/>
<path d="M617 1767.3 622.9 1777.1 629.9 1782.4 636.9 1779.9 643.9 1787.6 650.9 1789.4 656.2 1795.7 661.4 1789.4 666.6 1792.2 671.9 1785.9 678.9 1791.1 685.9 1787.6 692.9 1791.1 699.9 1794.6 705.1 1804.1 712.1 1796.4 717.3 1799.9 724.3 1791.1 729.6 1789.4 733.1 1798.1 740.1 1788.7 745.3 1791.1 750.6 1788.7 759.3 1791.1 769.8 1791.1 780.3 1795.7 787.3 1801.6 792.5 1799.9 799.5 1803.4 806.5 1799.2 811.7 1803.4 822.2 1792.9 827.5 1784.1 834.5 1791.1 838 1787.6 846.7 1800.6 852 1799.9 859 1803.4 867.7 1804.4 876.4 1804.1 883.4 1808.6 888.7 1811 895.7 1804.1 902.7 1798.1 906.2 1791.1 911.4 1789.4 925.4 1790.1 932.4 1784.1 941.1 1775.4 948.1 1774.7 963.8 1773.6 970.8 1778.9 977.8 1782.4 993.6 1782.4" fill="none" stroke="#9c1f22" stroke-width="2.0" stroke-linejoin="round"/>
<path d="M617 1909.3 622.9 1918.7 628.2 1931 635.2 1938.7 642.2 1932.7 650.9 1929.2 659.7 1932 668.4 1941.5 680.6 1954.8 687.6 1953.7 696.4 1946 703.4 1942.5 710.3 1947.4 719.1 1957.2 727.8 1965.2 734.8 1960.7 743.6 1952 750.6 1947.4 755.8 1953 764.5 1961.4 769.8 1965.2 778.5 1959 787.3 1954.8 796 1956.5 804.8 1964.9 813.5 1974.7 822.2 1971.2 831 1965.9 839.7 1963.5 848.5 1967 857.2 1971.2 867.7 1970.1 878.2 1959.7 883.4 1964.2 888.7 1961.4 895.7 1967 906.2 1974.7 913.1 1978.2 923.6 1971.9 930.6 1970.1 941.1 1983.4 951.6 1986.9 967.3 1995 976.1 1990.4 983.1 1986.9 990.1 1983.4 994.6 1977.5" fill="none" stroke="#f01a1a" stroke-width="2.4" stroke-linejoin="round"/>
<path d="M592.5 1726V2043.9H1038" stroke="#222" stroke-width="1.1" fill="none"/><path d="M592.5 1741.1h-3.5M592.5 1813.1h-3.5M592.5 1885.5h-3.5M592.5 1957.9h-3.5M592.5 2029.6h-3.5M612.8 2043.9v3.5M657.9 2043.9v3.5M702.9 2043.9v3.5M748 2043.9v3.5M793 2043.9v3.5M838.1 2043.9v3.5M883.2 2043.9v3.5M928.2 2043.9v3.5M973.3 2043.9v3.5M1018.3 2043.9v3.5" stroke="#222" stroke-width="1" fill="none"/>
<rect x="592.2" y="1677" width="461.7" height="48.9" rx="3" fill="#000"/><rect x="599.6" y="1684.4" width="446.9" height="34.1" fill="#8f8b5a"/><text x="823.1" y="1716.3" font-size="39.1" text-anchor="middle" >H43</text>
<path d="M1082 1870zm0 11zm0 15zm0 1zm0 8zm0 2zm0 1zm0 6zm0 6zm0 1zm0 2zm0 5zm0 5zm0 19zm0 2zm0 15zm1-15zm1-92zm0 30zm0 7zm0 7zm0 7zm0 15zm0 2zm0 23zm1 22zm0-43zm0-31zm1 9zm0 15zm0 18zm0 50zm1 5zm0-14zm0-30zm0-3zm0-1zm0-17zm0-13zm0-2zm0-2zm0-6zm0-15zm1 7zm0 68zm1-23zm0-2zm0-44zm1 12zm0 5zm2 44zm0-8zm0-5zm0-21zm0-9zm0-25zm0-2zm0-5zm1 21zm2 53zm1-47zm1 55zm0-3zm0-5zm0-35zm0-9zm0-3zm1 55zm1 3zm0-60zm1 55zm1-13zm1-90zm0 11zm0 12zm0 22zm0 1zm0 6zm0 4zm0 6zm0 23zm0 8zm0 27zm0 13zm0 13zm1-62zm0-65zm1 39zm2 89zm0-62zm1-56zm0 27zm0 22zm0 6zm0 25zm1 43zm0-24zm0-9zm0-22zm0-4zm0-4zm0-17zm0-17zm0-8zm0-1zm0-31zm3 13zm0 19zm1 4zm1-26zm0 19zm0 4zm0 7zm0 7zm0 5zm0 6zm0 3zm0 2zm0 21zm0 17zm0 12zm1-67zm0-22zm0-20zm1 46zm1 37zm1-94zm0 86zm1 19zm0-2zm0-10zm0-6zm0-7zm0-48zm1 48zm0 3zm2 43zm0-84zm2-13zm0 7zm0 17zm0 18zm0 9zm0 4zm0 13zm0 1zm0 1zm1-55zm1 41zm0 8zm1-2zm0-34zm1 16zm0 38zm0 4zm1 16zm0-8zm0-7zm0-5zm0-13zm0-5zm0-12zm0-13zm0-16zm0-43zm1 78zm4-5zm1-64zm0 11zm0 28zm0 7zm0 1zm0 11zm0 5zm0 6zm3 4zm0-66zm1 2zm0 48zm0 13zm1 55zm0-24zm0-19zm0-1zm0-4zm0-10zm0-4zm0-11zm0-9zm0-13zm1 2zm0 47zm4 13zm0-17zm0-16zm0-4zm0-48zm2 0zm2 63zm0-4zm1-61zm0 18zm0 4zm0 9zm0 10zm0 27zm0 7zm0 3zm0 4zm0 1zm0 10zm1-27zm0-56zm1 62zm2-48zm1-19zm0 48zm0 18zm0 21zm0 11zm3-30zm0-71zm3 26zm0 13zm0 6zm0 1zm0 1zm0 6zm0 22zm0 21zm1-79zm2 33zm1-23zm1-14zm0 5zm0 10zm0 12zm0 9zm0 6zm0 5zm0 9zm0 1zm0 4zm0 17zm0 2zm0 18zm1-7zm3-57zm1 17zm0-37zm1 67zm4 25zm0-28zm0-13zm0-11zm0-62zm1 29zm0 50zm1-21zm0-10zm0-31zm1 33zm0 41zm2-1zm0-32zm0-8zm0-16zm0-13zm0-23zm2 56zm1 31zm1-55zm0 48zm2 9zm0-11zm0-25zm0-4zm0-9zm0-3zm1 51zm1-21zm0-14zm0-14zm1 16zm1-9zm1-4zm0 17zm0 3zm0 19zm2-11zm0-22zm2 41zm1 7zm0-11zm0-6zm0-13zm0-10zm0-15zm0-21zm0-5zm3 34zm2 47zm0-29zm0-1zm0-26zm0-13zm0-10zm3 40zm0 32zm2-1zm0-30zm0-13zm4 12zm2 42zm0-16zm0-1zm0-25zm0-6zm0-4zm0-17zm1 13zm1 18zm1-28zm0 15zm0 12zm0 1zm0 9zm1 16zm0-49zm0-6zm1 20zm0 29zm0 6zm0 18zm1-83zm1 30zm0 52zm1 10zm1-71zm1 59zm0-8zm0-23zm0-3zm0-9zm0-8zm0-4zm0-11zm0-2zm2 18zm1 32zm1 15zm1-14zm0-4zm0-20zm0-20zm0-6zm3-5zm2 82zm0-1zm0-23zm0-13zm0-6zm0-22zm0-11zm1-11zm2 44zm3-47zm0 36zm0 29zm0 7zm4-15zm1-64zm0 25zm0 24zm1 21zm1-25zm3 1zm0-8zm0-17zm2 78zm1-106zm1 82zm1-16zm0-1zm0-7zm0-11zm1 19zm3 8zm1 2zm3-3zm0-48zm2 25zm1 18zm0-12zm0-13zm0-18zm0-11zm0-1zm3 30zm2 22zm5-27zm0 19zm0 27zm0 12zm4-27zm1-25zm0 6zm0 37zm2-30zm1 21zm2 20zm0-13zm0-5zm0-11zm0-4zm0-39zm1 25zm3-31zm2 26zm0 4zm0 4zm2-1zm2 7zm1 13zm0-44zm5 15zm0 11zm0 4zm0 10zm0 12zm0 2zm0 6zm1-1zm1 5zm2-33zm1-42zm0 51zm1 15zm1-36zm1-13zm2 7zm0 12zm0 1zm0 5zm4-45zm1 64zm0 3zm1 12zm0-38zm0-18zm0-9zm4 29zm1 31zm0-5zm0-31zm5-27zm0 6zm0 39zm3-26zm2-10zm0 21zm0 17zm3-19zm2-4zm0 18zm3-7zm2-5zm1 13zm2-37zm3 40zm0-29zm0-2zm0-2zm5 3zm0 11zm0 1zm3-18zm2 37zm2-24zm3-3zm1 9zm5-14zm5 31zm0-12zm0-9zm0-8zm0-7zm2 15zm3 25zm0-29zm3 4zm2-18zm2 5zm2 31zm1-16zm0 7zm0 8zm2-9zm7 15zm2 4zm0-29zm3 30zm2-31zm2-10zm0 16zm3-12zm5 9zm0 6zm0 16zm6-8zm0-2zm3-3zm2 7zm0-5zm1 3zm2 9zm2-36zm0 9zm0 17zm0 2zm0 1zm0 2zm5 5zm0-8zm4-19zm0 15zm3-24zm1 2zm1 20zm2-32zm0 30zm3-25zm2 1zm0 10zm0 6zm0 10zm5-4zm0-4z" stroke="#a6dff4" stroke-width="4.8" stroke-linecap="round" fill="none"/><path d="M1082 1751zm0 3zm0 4zm0 6zm0 3zm0 3zm0 1zm0 2zm0 7zm0 24zm0 4zm0 5zm0 3zm0 9zm0 4zm0 2zm1-5zm1-35zm1 44zm0-48zm0-2zm0-18zm1 27zm1 48zm0-35zm0-9zm0-19zm0-4zm0-10zm0-2zm0-2zm0-8zm1 76zm2-62zm1 42zm0 6zm1 22zm0-1zm0-1zm0-23zm0-23zm0-9zm0-11zm0-14zm0-1zm0-2zm1 25zm0 11zm0 17zm1 30zm0-60zm1 61zm1-84zm1 0zm0 6zm0 4zm0 15zm0 2zm0 1zm0 7zm0 11zm0 31zm0 2zm0 1zm0 7zm1-9zm1-17zm1-2zm0-55zm1 66zm1-1zm0-35zm0-29zm1 7zm1 41zm0-5zm0-48zm1 18zm0 58zm2-61zm1-15zm0 2zm0 1zm0 3zm0 7zm0 4zm0 15zm0 26zm0 17zm1 14zm1-51zm2-34zm1-4zm0 7zm0 15zm0 11zm0 4zm0 29zm2-51zm1 30zm2 47zm0-8zm0-1zm0-11zm0-5zm0-1zm0-38zm0-8zm0-20zm1 15zm1 18zm1 24zm1 12zm1-63zm0 16zm0 5zm0 26zm0 1zm2-48zm2 21zm0 13zm1 34zm0-20zm0-14zm0-10zm0-8zm0-9zm0-1zm0-6zm0-2zm0-2zm0-1zm6 11zm0 50zm0 10zm0 13zm0 8zm2-28zm0-19zm1 35zm2 15zm0-4zm0-33zm0-47zm0-2zm0-8zm0-1zm3 94zm1-8zm0-20zm0-20zm0-39zm1 5zm0 1zm0 7zm0 16zm0 16zm0 5zm0 6zm0 30zm2-56zm3-34zm0 6zm0 27zm0 15zm0 48zm0 7zm0 5zm5-12zm0-37zm0-4zm0-24zm0-21zm0-10zm0-2zm2 113zm2-112zm1 12zm0 40zm0 20zm1 22zm0-45zm0-13zm0-32zm0-1zm1 93zm2-5zm0-45zm1-9zm1 65zm0-81zm0-2zm0-17zm2-1zm0 5zm0 12zm2 7zm1-25zm0 7zm0 8zm0 16zm0 3zm0 13zm1-5zm0-30zm4-10zm0 1zm0 18zm0 32zm0 9zm5-4zm0-6zm0-3zm0-3zm0-18zm0-11zm0-18zm3 98zm1-38zm0-23zm2-36zm0 56zm0 2zm0 10zm0 34zm1-103zm1 55zm2 51zm1-104zm0 4zm0 1zm2 1zm0-3zm3-4zm0 51zm0 3zm0 27zm1-31zm0-10zm0-20zm0-4zm1-5zm2 35zm1-18zm0 32zm0 16zm1 20zm0-80zm1 7zm1 67zm2-63zm0 4zm0 60zm3-10zm1-74zm0 33zm0 42zm2-14zm0-30zm0-27zm0-12zm2 2zm0 20zm2 68zm0-33zm1-58zm0 3zm0 19zm0 10zm0 45zm1-53zm3-19zm2 13zm4-14zm0 2zm0 3zm0 13zm2 58zm1-62zm2 57zm0-50zm2 14zm3-37zm1 3zm1 6zm2 48zm1-43zm1 2zm0 12zm3 56zm2-82zm0 4zm0 6zm2 8zm2 12zm1 56zm0-13zm0-9zm0-48zm0-12zm4 6zm0 15zm0 4zm0 32zm1 2zm0-19zm0-26zm0-11zm5 61zm1 24zm0-48zm0-29zm0-1zm2-6zm3 52zm0-45zm0-2zm0-9zm0-1zm3 51zm1-19zm1-30zm0 5zm0 3zm0 59zm0 7zm4-48zm1 3zm0 32zm0 17zm0 14zm3-35zm2-59zm0 49zm1 26zm2-72zm5 50zm0-58zm1 0zm1 0zm1 31zm0 16zm0 13zm0 6zm0 15zm5 6zm0-32zm0-17zm0-38zm0-2zm3 20zm0 47zm1-28zm1-35zm0 47zm2-14zm2 57zm1-47zm0-37zm0-7zm2 66zm3-56zm1 40zm2-44zm3 7zm0 74zm0 19zm5-37zm0-6zm0-48zm1 25zm2-21zm2-8zm0 3zm0 3zm0 9zm0 48zm3 1zm2-21zm1-44zm1 8zm1 19zm1 44zm1-59zm1 35zm0 6zm1-25zm2-30zm0 18zm0 42zm1-3zm0-29zm1-25zm0 3zm0 3zm0 44zm4-49zm1 55zm5-8zm2-20zm3-6zm0-7zm0-9zm0-7zm0-1zm5 20zm1 18zm0-20zm0-16zm1 8zm2 16zm0-21zm1 30zm1 17zm0-1zm0-53zm5 12zm2-16zm1 29zm2-29zm5 31zm14-23zm5-2zm2 20zm11-9zm0 8zm4-12zm1 28zm7-25zm3 11zm3 3zm8-11zm0 2zm0 18zm5 6zm0-8zm0-2zm0-8zm3 4z" stroke="#d3b079" stroke-width="4.8" stroke-linecap="round" fill="none"/>
<path d="M1079.2 1730V2043.9M1123.6 1730V2043.9M1168 1730V2043.9M1212.4 1730V2043.9M1256.8 1730V2043.9M1301.2 1730V2043.9M1345.6 1730V2043.9M1390 1730V2043.9M1434.4 1730V2043.9M1478.8 1730V2043.9" stroke="#c2c2c2" stroke-width="1.3" stroke-dasharray="4 4.3" fill="none"/>
<path d="M1084.8 1937.3 1449.1 1969.4" fill="none" stroke="#000" stroke-width="2.2" stroke-linejoin="round" stroke-dasharray="8.5 5"/>
<path d="M1084.8 1798.1 1455.4 1804.4" fill="none" stroke="#000" stroke-width="2.2" stroke-linejoin="round"/>
<path d="M1083.7 1775.4 1089 1785.9 1095.9 1796.4 1102.9 1802.3 1109.9 1794.6 1118.7 1788.7 1127.4 1792.2 1136.2 1799.9 1144.9 1808.6 1151.9 1806.9 1162.4 1799.9 1171.1 1805.1 1176.4 1799.9 1183.4 1808.6 1188.6 1800.6 1193.8 1806.9 1200.8 1798.1 1211.3 1787.6 1216.6 1792.9 1221.8 1790.1 1230.6 1802.3 1235.8 1800.6 1242.8 1806.9 1249.8 1803.4 1255 1799.9 1260.3 1799.9 1267.3 1805.1 1277.8 1814.9 1284.8 1811 1291.7 1799.9 1302.2 1792.2 1307.5 1794.6 1314.5 1806.9 1323.2 1815.6 1328.5 1816.3 1337.2 1806.9 1344.2 1800.6 1352.9 1808.6 1363.4 1812.1 1372.2 1805.1 1379.2 1794.6 1389.7 1785.9 1403.6 1779.9 1414.1 1781.7 1424.6 1782.4 1431.6 1785.9 1442.1 1790.4 1450.8 1792.9 1455.4 1795.7" fill="none" stroke="#9c1f22" stroke-width="2.0" stroke-linejoin="round"/>
<path d="M1083.7 1881 1087.9 1894.3 1092.4 1911.7 1095.9 1936.2 1101.2 1950.2 1104.7 1948.5 1109.9 1931 1113.4 1931 1119.7 1918 1127.4 1927.5 1131.6 1925.7 1137.9 1945 1144.9 1953 1151.9 1953.7 1157.1 1939.7 1164.1 1934.5 1170.1 1929.9 1176.4 1939.7 1185.1 1958.3 1190.3 1957.2 1196.3 1965.9 1202.6 1955.5 1211.3 1948.5 1214.8 1943.2 1221.8 1950.2 1230.6 1965.2 1242.8 1964.9 1249.8 1957.2 1258.5 1953 1267.3 1958.3 1277.8 1970.1 1284.8 1964.2 1288.3 1965.9 1295.2 1952 1300.5 1950.9 1305.7 1946.7 1314.5 1958.3 1318 1956.5 1328.5 1958.3 1340.7 1942.5 1351.2 1938.7 1356.4 1942.5 1363.4 1955.5 1372.2 1966.6 1375.7 1966.6 1384.4 1953.7 1393.1 1945 1403.6 1957.2 1415.9 1963.5 1429.9 1969.4 1438.6 1959 1445.6 1948.5 1450.8 1943.2 1455.4 1932" fill="none" stroke="#f01a1a" stroke-width="2.4" stroke-linejoin="round"/>
<path d="M1059.9 1726V2043.9H1498" stroke="#222" stroke-width="1.1" fill="none"/><path d="M1059.9 1741.1h-3.5M1059.9 1813.1h-3.5M1059.9 1885.5h-3.5M1059.9 1957.9h-3.5M1059.9 2029.6h-3.5M1079.2 2043.9v3.5M1123.6 2043.9v3.5M1168 2043.9v3.5M1212.4 2043.9v3.5M1256.8 2043.9v3.5M1301.2 2043.9v3.5M1345.6 2043.9v3.5M1390 2043.9v3.5M1434.4 2043.9v3.5M1478.8 2043.9v3.5" stroke="#222" stroke-width="1" fill="none"/>
<rect x="1055.8" y="1677" width="462.2" height="48.9" rx="3" fill="#000"/><rect x="1063.2" y="1684.4" width="447.4" height="34.1" fill="#8abcec"/><text x="1286.9" y="1716.3" font-size="39.1" text-anchor="middle" >H41</text>
<path d="M1549 1889zm0 29zm1 38zm0-9zm0-8zm0-4zm0-5zm0-2zm0-7zm0-2zm0-3zm0-1zm0-1zm0-9zm0-2zm0-4zm0-1zm0-5zm1 6zm0 23zm1 12zm0-7zm0-22zm0-1zm1 4zm0 12zm1 16zm0-7zm0-26zm0-6zm0-10zm1-15zm0 14zm0 3zm0 2zm0 4zm0 1zm0 3zm0 8zm0 7zm0 2zm0 1zm0 2zm0 7zm0 4zm0 7zm0 22zm0 8zm1-40zm1-53zm0 38zm0 36zm1-11zm0-12zm0-28zm2-6zm0 9zm0 5zm0 1zm0 3zm0 6zm0 19zm0 5zm0 1zm0 8zm0 1zm0 4zm0 2zm0 11zm1-46zm2-3zm1 45zm0-77zm1 9zm0 4zm0 1zm0 10zm0 2zm0 4zm0 2zm0 3zm0 4zm0 2zm0 2zm0 4zm0 1zm0 10zm0 4zm0 7zm1-56zm1 3zm1 47zm1-38zm1 54zm0-5zm0-16zm0-7zm0-7zm0-2zm0-12zm0-6zm0-25zm0-10zm1 38zm1 8zm0-4zm2 39zm1-10zm1-54zm0 26zm0 2zm0 9zm0 7zm0 15zm0 18zm1-24zm0-30zm1 25zm1-18zm0-16zm2 17zm0 3zm0 2zm0 9zm0 12zm0 6zm0 15zm1-10zm0-34zm0-2zm0-7zm0-13zm1 0zm0 48zm2-12zm0-17zm1-42zm0 29zm0 5zm0 7zm0 46zm1-29zm2-26zm0 11zm0 13zm2 0zm0-7zm0-3zm0-31zm1 8zm1 49zm0-36zm0-4zm2 48zm1-3zm0-12zm0-9zm0-11zm0-27zm0-5zm1 35zm0 33zm3-9zm0-41zm2-10zm0 18zm0 3zm0 2zm0 1zm0 2zm0 14zm0 4zm2-12zm1 1zm1-16zm1-17zm0 16zm0 6zm0 7zm0 22zm1-21zm0-26zm1-12zm0 20zm0 13zm2 21zm1-34zm0 22zm0 7zm0 8zm1-30zm0-10zm0-4zm1 12zm0 3zm3 19zm0-7zm0-2zm0-8zm0-4zm0-19zm1 3zm0 36zm1-11zm0-2zm0-31zm3 7zm0 6zm0 16zm0 2zm0 5zm0 1zm0 7zm4-11zm1 18zm1 9zm0-8zm0-3zm0-4zm0-12zm0-11zm0-14zm0-8zm1 44zm0 17zm1-8zm0-22zm0-8zm1 22zm1-5zm0-1zm0-17zm0-14zm1 16zm0 4zm0 11zm0 13zm0 11zm0 2zm0 1zm1-27zm4-25zm0 39zm0 17zm0 3zm1-58zm1 9zm0 25zm4 12zm0-54zm1 13zm1 46zm1-29zm0 13zm0 7zm1 0zm0-1zm0-22zm0-2zm0-4zm0-9zm3 28zm2-46zm1 24zm0 7zm0 8zm0 10zm0 8zm1-4zm1 0zm1 7zm0-7zm0-9zm1-36zm0 17zm1 18zm0-6zm0-3zm0-5zm0-1zm3 10zm2 20zm0-4zm0-2zm0-10zm0-2zm0-5zm0-2zm0-8zm3 12zm2 16zm0-13zm0-3zm0-7zm0-7zm1 8zm1-8zm3 11zm0 2zm0 2zm0 6zm0 5zm2-28zm1 18zm0 10zm2-23zm0-3zm1 19zm0 9zm0 5zm1-12zm1 17zm2-19zm1-25zm0 1zm0 12zm0 22zm0 8zm0 1zm1-14zm0-16zm4 3zm0 6zm0 8zm0 11zm7-15zm1 25zm1-30zm1 7zm0 10zm2-17zm1 19zm1-4zm0-5zm2-26zm0 5zm0 22zm1-10zm1 35zm2-2zm1-31zm0 10zm0 2zm0 1zm0 6zm0 3zm0 2zm0 7zm2-26zm1 18zm1-6zm0-13zm1 4zm0 3zm3-7zm1 24zm0 9zm1-6zm0-10zm0-2zm0-3zm0-6zm1-21zm0 32zm3-22zm1-4zm0 5zm0 8zm0 8zm0 14zm1 0zm0-16zm1 21zm3-36zm1 5zm0 21zm1-40zm1 18zm1 16zm0-2zm2-18zm0 15zm0 8zm0 8zm3-10zm2-34zm0 17zm0 6zm0 7zm3 4zm2-30zm0 5zm0 24zm0 5zm5-6zm0-2zm0-17zm0-3zm3 9zm2-6zm1-22zm0 1zm0 13zm0 3zm0 10zm0 3zm0 5zm1 11zm4-45zm0 18zm0 5zm0 2zm0 11zm2-13zm1-12zm2 7zm5-10zm0 16zm4 10zm1-18zm0 2zm0 5zm0 9zm2 8zm0-35zm4-2zm0 22zm0 3zm0 2zm0 6zm1-14zm0-1zm3-2zm1 19zm0-27zm1 10zm0 15zm4 12zm0-8zm0-2zm0-5zm0-9zm0-2zm0-4zm1 8zm2 15zm0-33zm2 31zm0 12zm1-10zm3-6zm1 3zm4-8zm2 1zm5 6zm0 8zm0 1zm5-20zm5-5zm0 5zm0 8zm0 7zm5-14zm1-4zm5 27zm0-7zm0-12zm0-5zm5-5zm0 4zm0 10zm0 4zm0 6zm5-6zm0-21zm4 25zm1-1zm0-11zm0-2zm5 3zm5-7zm1 7zm0 3zm2-1zm1-5zm1 18zm6-5zm0 3zm1-10zm1 0zm3 4zm0-2zm0-3zm0-9zm5-3zm1 11zm7 20zm3-1zm0-20zm5-2zm0 3zm0 3zm0 10zm0 1zm5 3zm0-1zm0-15zm2 7zm3 1zm0-10zm1 11zm2 6zm2-8zm1 7zm5-15zm2 9zm3-10zm0 5zm0 1zm0 7zm1-5z" stroke="#a6dff4" stroke-width="4.8" stroke-linecap="round" fill="none"/><path d="M1549 1753zm0 32zm0 9zm0 33zm1-4zm0-7zm0-13zm0-1zm0-3zm0-6zm0-6zm0-20zm0-8zm0-2zm1 16zm0 14zm0 23zm0 16zm1-32zm1-35zm0 42zm1 9zm0-60zm1 0zm0 14zm0 16zm0 7zm0 2zm0 27zm0 16zm0 1zm1-13zm0-30zm1-9zm0 52zm1-15zm0-37zm1 11zm0 33zm1-5zm0-13zm0-20zm0-2zm0-3zm0-11zm0-1zm0-12zm0-5zm0-1zm1 0zm0 48zm2 37zm0-68zm0-14zm2-5zm0 2zm0 13zm0 5zm0 2zm0 6zm0 3zm0 1zm0 12zm0 11zm0 1zm0 6zm1-43zm1-1zm0 36zm1 21zm0-61zm1 48zm1 25zm0-10zm0-1zm0-8zm0-6zm0-25zm0-11zm0-8zm0-7zm1-4zm1 45zm0-14zm0-30zm4 7zm0 1zm0 3zm0 7zm0 36zm0 25zm1-85zm1-2zm1 34zm1-30zm0 44zm1 19zm0-10zm0-2zm0-30zm0-16zm1 55zm1-14zm0-45zm1 4zm0 18zm0 3zm1-24zm0-7zm1 3zm0 3zm0 8zm0 7zm0 28zm0 1zm0 9zm0 12zm1 11zm0-8zm0-52zm1-14zm1 74zm0-32zm2-48zm0 7zm0 35zm0 9zm0 5zm0 15zm0 18zm1-61zm2 27zm2 35zm0-29zm0-32zm0-31zm2 39zm4 56zm0-2zm0-51zm0-23zm0-5zm0-3zm0-11zm1 58zm3-12zm1-44zm0 1zm0 6zm0 60zm0 3zm0 2zm1-23zm0-10zm0-30zm2 11zm0 55zm1 0zm1-75zm0 3zm0 43zm0 2zm0 6zm0 11zm0 36zm3-59zm2-32zm0 14zm0 1zm0 5zm0 5zm0 13zm0 17zm0 18zm0 10zm3-13zm1-71zm1 78zm0-13zm0-20zm0-35zm0-10zm0-2zm0-3zm1 65zm0 7zm1-69zm1 35zm2 9zm0-10zm0-32zm1-8zm0 22zm0 17zm0 15zm0 46zm1-46zm4-47zm0 31zm0 10zm0 11zm4 4zm0-10zm0-48zm1 2zm0 4zm0 22zm0 48zm0 4zm0 6zm0 1zm0 1zm1-6zm1-20zm2-7zm1-46zm0 1zm0 12zm0 21zm0 7zm0 11zm0 17zm1 12zm2-91zm2 87zm0-2zm0-27zm0-33zm0-6zm1-8zm1 39zm0-2zm0-22zm0-21zm2-10zm0 37zm2 42zm0-47zm2 42zm1-23zm2-51zm0 14zm0 8zm0 10zm3-26zm1 13zm1 76zm0-9zm0-8zm0-17zm0-25zm0-26zm0-10zm2 26zm3 45zm2-55zm0 57zm1-50zm1-10zm1 66zm0-3zm0-13zm0-20zm0-20zm0-17zm1 3zm3 67zm1-37zm1 48zm0-9zm0-6zm0-57zm0-2zm5-4zm0 17zm0 16zm1-23zm1-16zm3 31zm0-9zm0-6zm0-18zm2-1zm1 40zm0-15zm1-20zm0 7zm0 3zm0 63zm1-47zm3 45zm2-1zm0-58zm0-5zm0-9zm1 66zm3-57zm1-4zm1 77zm0-35zm0-16zm0-2zm0-9zm0-10zm0-11zm5-1zm0 15zm0 27zm0 12zm1 15zm0-35zm2-33zm0 6zm2 32zm0-3zm0-27zm0-4zm0-5zm2 2zm3 68zm0-3zm0-15zm0-26zm0-14zm0-9zm3 5zm0 47zm0 6zm1-54zm1 19zm0 5zm0 8zm0 2zm4-3zm1-36zm1 19zm0-15zm5-3zm0 1zm0 1zm0 4zm0 1zm0 1zm0 14zm0 8zm0 34zm1-51zm4-10zm0 11zm1 52zm1-35zm1 47zm1-59zm1 53zm0-24zm0-13zm0-25zm1 0zm0 89zm1-64zm0-7zm1-15zm2 55zm0-32zm0-24zm1 55zm1 5zm0-60zm1 77zm3-7zm0-59zm0-7zm0-2zm1-9zm4 76zm0-79zm4 46zm0 23zm1-10zm0-4zm0-26zm0-4zm0-1zm0-23zm1 36zm4-26zm0-3zm0-6zm1 65zm4-67zm1 27zm1-21zm2 20zm2 46zm0-30zm0-14zm0-27zm1 60zm1-61zm2 4zm1 42zm0-17zm0-6zm0-20zm5 4zm0 5zm0 25zm0 16zm0 24zm2-30zm0-16zm3-12zm0 5zm0 33zm0 9zm2-13zm3-24zm5 30zm4-22zm2 24zm0-33zm0-24zm1 60zm3-25zm1-33zm0 20zm0 21zm3-7zm1-14zm1 22zm0-41zm0-4zm1 68zm3-63zm1 1zm0 50zm6 11zm0-17zm0-9zm3-32zm2 66zm0-57zm0-4zm0-3zm3 56zm1-48zm1-19zm0 11zm0 30zm5-16zm5-26zm0 36zm3-36zm3 2zm4 25zm4-21zm3-4zm4 0zm0 16zm2-8zm3 3zm1-11zm3 33zm2-23zm0-2zm0-6zm2 29zm1-22zm3 1zm4 24zm0-3zm0-12zm0-1zm3-4zm7 1zm2-17zm2 1zm2 0zm2 8zm3-3zm0 4z" stroke="#d3b079" stroke-width="4.8" stroke-linecap="round" fill="none"/>
<path d="M1547 1730V2043.9M1592.1 1730V2043.9M1637.2 1730V2043.9M1682.3 1730V2043.9M1727.4 1730V2043.9M1772.5 1730V2043.9M1817.6 1730V2043.9M1862.7 1730V2043.9M1907.8 1730V2043.9M1952.9 1730V2043.9" stroke="#c2c2c2" stroke-width="1.3" stroke-dasharray="4 4.3" fill="none"/>
<path d="M1552.6 1918.7 1929.5 1969.4" fill="none" stroke="#000" stroke-width="2.2" stroke-linejoin="round" stroke-dasharray="8.5 5"/>
<path d="M1552.6 1784.1 1929.5 1791.8" fill="none" stroke="#000" stroke-width="2.2" stroke-linejoin="round"/>
<path d="M1550.8 1763.8 1556.1 1771.9 1561.3 1782.4 1568.3 1791.1 1573.6 1789.4 1580.6 1784.1 1589.3 1783.1 1596.3 1781.3 1603.3 1785.9 1613.8 1793.9 1624.3 1795.3 1631.3 1792.9 1640 1799.9 1647 1791.1 1652.2 1796.4 1659.2 1787.6 1664.5 1794.6 1669.7 1785.9 1676.7 1788.7 1687.2 1787.6 1697.7 1786.6 1706.4 1785.2 1716.9 1792.2 1727.4 1791.1 1736.2 1804.4 1739.7 1800.9 1746.6 1806.9 1753.6 1794.6 1760.6 1785.2 1767.6 1780.6 1774.6 1782.4 1781.6 1783.1 1790.3 1779.9 1800.8 1784.1 1807.8 1792.2 1814.8 1802.7 1821.8 1812.1 1825.3 1813.1 1832.3 1806.9 1839.3 1794.6 1848 1782.4 1855 1778.9 1862 1770.1 1874.3 1771.9 1886.5 1770.1 1895.2 1775.4 1902.2 1778.9 1914.5 1779.9 1925 1778.9 1930.2 1777.1" fill="none" stroke="#9c1f22" stroke-width="2.0" stroke-linejoin="round"/>
<path d="M1550.8 1905.8 1557.8 1907.6 1561.3 1918.7 1566.6 1929.2 1571.8 1932.7 1577.1 1920.5 1582.3 1920.5 1587.6 1917 1596.3 1922.9 1603.3 1929.2 1610.3 1935.5 1617.3 1932.7 1622.5 1935.2 1631.3 1929.2 1636.5 1926.4 1641.7 1929.2 1647 1928.5 1654 1936.2 1661 1941.5 1666.2 1945 1673.2 1943.2 1682 1938 1690.7 1938 1697.7 1941.5 1704.7 1947.8 1713.4 1949.2 1722.2 1946 1730.9 1942.5 1739.7 1945 1750.1 1946 1760.6 1947.8 1771.1 1948.5 1776.4 1946.7 1785.1 1950.2 1795.6 1949.2 1806.1 1952 1814.8 1950.2 1823.6 1948.5 1837.6 1948.5 1844.5 1952.7 1851.5 1952 1860.3 1958.3 1869 1960.7 1877.8 1964.2 1886.5 1963.1 1897 1964.2 1904 1962.4 1912.7 1960.7 1918 1957.2 1925 1955.5 1929.5 1948.5" fill="none" stroke="#f01a1a" stroke-width="2.4" stroke-linejoin="round"/>
<path d="M1526.4 1726V2043.9H1973" stroke="#222" stroke-width="1.1" fill="none"/><path d="M1526.4 1741.1h-3.5M1526.4 1813.1h-3.5M1526.4 1885.5h-3.5M1526.4 1957.9h-3.5M1526.4 2029.6h-3.5M1547 2043.9v3.5M1592.1 2043.9v3.5M1637.2 2043.9v3.5M1682.3 2043.9v3.5M1727.4 2043.9v3.5M1772.5 2043.9v3.5M1817.6 2043.9v3.5M1862.7 2043.9v3.5M1907.8 2043.9v3.5M1952.9 2043.9v3.5" stroke="#222" stroke-width="1" fill="none"/>
<rect x="1524.3" y="1677" width="462.9" height="48.9" rx="3" fill="#000"/><rect x="1531.7" y="1684.4" width="448.1" height="34.1" fill="#ecc48c"/><text x="1755.8" y="1716.3" font-size="39.1" text-anchor="middle" >H51</text>
<path d="M150 2260zm0 18zm1 38zm0-8zm0-12zm0-17zm0-8zm0-10zm0-3zm0-7zm0-14zm0-2zm1 71zm1-38zm0-12zm1-53zm0 44zm0 38zm0 7zm1-27zm1-43zm0 10zm0 2zm0 5zm0 1zm0 5zm0 1zm0 8zm0 2zm0 9zm0 1zm0 3zm0 9zm0 10zm0 22zm1 6zm0-16zm0-27zm0-39zm1 53zm3 19zm0-6zm0-11zm0-3zm0-1zm0-5zm0-2zm0-5zm0-12zm0-9zm0-5zm0-7zm0-12zm0-2zm2-22zm0 60zm1 15zm0-11zm1-15zm0 25zm0 42zm1-4zm0-11zm0-3zm0-7zm0-13zm0-3zm0-5zm0-5zm0-1zm0-1zm0-6zm0-1zm0-9zm0-6zm1 8zm5 38zm0-3zm0-2zm0-5zm0-13zm0-9zm0-10zm0-23zm5-1zm0 10zm0 4zm0 22zm0 2zm0 1zm0 2zm0 16zm0 17zm0 13zm0 15zm2-77zm1-25zm0 61zm2 30zm0-2zm0-1zm0-2zm0-1zm0-25zm0-14zm0-6zm0-4zm0-1zm0-16zm1 29zm1-2zm0-4zm2-55zm0 47zm1 55zm0-19zm0-11zm0-6zm0-5zm0-3zm0-10zm0-8zm0-1zm0-4zm0-11zm0-2zm0-1zm1 41zm1-17zm1 24zm2 11zm0-1zm0-3zm0-4zm0-9zm0-6zm0-6zm0-1zm0-3zm0-1zm0-3zm0-31zm0-5zm1 40zm0 36zm1-58zm1-6zm1 50zm2-42zm0 12zm0 11zm0 4zm0 2zm0 4zm0 17zm0 3zm0 14zm2-38zm2-20zm1 76zm0-42zm0-6zm0-1zm0-5zm0-15zm0-1zm0-2zm0-11zm2 32zm1 38zm2-54zm0 15zm0 12zm0 9zm0 10zm2-25zm1-1zm1 18zm1-35zm0 32zm0 15zm0 3zm1-23zm0-27zm4-5zm0 15zm0 3zm0 6zm0 3zm0 4zm0 9zm0 6zm0 20zm1-20zm1 13zm1-9zm2-13zm1 41zm0-21zm0-13zm0-9zm0-15zm0-8zm0-13zm0-2zm1 19zm1 27zm2 6zm1-6zm0-11zm0-6zm0-1zm0-15zm0-21zm0-2zm1-17zm1 82zm0-25zm0-42zm2 19zm1 20zm0-1zm0-2zm0-3zm0-17zm0-10zm0-13zm0-2zm2 57zm3 12zm0-20zm0-6zm0-3zm0-6zm0-4zm0-1zm0-4zm0-17zm1 44zm1-2zm0-16zm1-5zm0 30zm1 23zm0-49zm1-9zm0 20zm0 12zm1 0zm2 20zm0 7zm3-9zm0-3zm0-5zm0-7zm0-5zm0-9zm0-14zm1 5zm0 24zm1-48zm1 10zm0 16zm1-3zm1 6zm0 1zm0 4zm0 3zm0 21zm0 8zm0 1zm0 15zm2-51zm1-7zm1 25zm1-30zm0 8zm0 22zm0 10zm0 7zm0 4zm0 22zm1-67zm3 10zm0 16zm0 47zm1-15zm0-20zm0-4zm0-2zm1-4zm0 5zm1-18zm0-2zm2-23zm0 62zm1-2zm0-8zm0-4zm0-7zm0-5zm0-6zm0-5zm0-3zm0-28zm2 15zm0 26zm2 3zm2-41zm0 30zm0 31zm0 9zm0 2zm0 4zm2-26zm1-11zm0 27zm2-6zm0-13zm0-37zm0-7zm2-3zm1 47zm0-52zm2 11zm1 48zm1-5zm0 15zm2-10zm1-37zm0 2zm0 15zm0 2zm0 10zm0 17zm0 15zm0 2zm1-59zm4-15zm0 14zm0 1zm0 6zm0 16zm0 22zm0 1zm3-24zm1 9zm1-14zm1-22zm0 14zm0 5zm0 3zm0 1zm0 3zm0 2zm0 4zm0 23zm2-28zm1-22zm0 13zm1 0zm1-22zm0 12zm0 1zm0 7zm0 5zm0 1zm0 6zm0 20zm0 4zm1 18zm0-86zm3 51zm0 11zm0 17zm1-10zm0-6zm0-45zm0-1zm1 3zm0 31zm1 7zm3-66zm0 28zm0 26zm0 13zm1 4zm1-1zm2-17zm1-19zm0 3zm0 10zm0 10zm0 6zm0 19zm0 20zm2-29zm4 9zm3-38zm1 35zm1 19zm0-22zm0-3zm0-11zm0-2zm0-8zm0-8zm0-21zm2 46zm3-10zm0-5zm0-2zm0-9zm1 8zm1 13zm1-9zm1-13zm1-23zm0 19zm0 1zm0 1zm0 26zm1-5zm4-30zm0 33zm0 10zm0 9zm2-54zm1 24zm2 39zm0-35zm1 10zm0 14zm2-30zm0-2zm1-3zm1 28zm1-37zm0 6zm3 11zm1-15zm1 53zm0-7zm0-8zm0-2zm2-12zm3 34zm0-15zm0-28zm0-1zm0-6zm0-12zm0-3zm0-1zm3 27zm2 11zm0-9zm0-17zm0-1zm3 13zm2 38zm0-25zm1-22zm0 8zm0 5zm0 1zm0 10zm0 8zm0 11zm0 2zm5 2zm0-5zm0-5zm0-9zm0-4zm0-9zm0-7zm5-30zm0 11zm0 28zm0 8zm0 14zm1-54zm3 49zm0 1zm1-5zm0-1zm0-8zm0-1zm0-8zm4 26zm1 16zm0-33zm0-27zm5 56zm1-5zm0-5zm0-11zm0-3zm0-5zm0-7zm0-2zm0-10zm0-8zm4 33zm1 12zm0-8zm0-1zm0-22zm0-3zm1 7zm0 4zm1 36zm0-27zm1-7zm0 8zm0 4zm0 12zm1-31zm1-10zm0 28zm1 20zm0-42zm4 16zm0 10zm0 1zm0 3zm0 2zm3 5zm2-29zm0 20zm2 23zm4-51zm0 25zm0 15zm4-16zm1-16zm0 13zm0 18zm2-11zm1 11zm2-2zm2-11zm2 21zm1-15zm0 1zm5 5zm6-15zm0 9zm0 4zm0 7zm0 3zm2-21zm3 0zm1 13zm4-15zm9 11zm1-7zm0 12zm0 1zm0 14zm2-21zm2 9zm2 0zm0-2zm0-11zm0-3zm4 4zm1-12zm5 12zm0 15zm2 6zm1-23zm2 22zm0-13zm2-10zm0 2zm3 19zm0-10zm0-7zm0-3zm3-3zm3 19zm2 0zm0 8zm3-7zm0-12zm4 4zm1 3zm0-7zm3 12zm2-2zm0-17zm2 11zm3 5zm0-1zm0-11zm0-2z" stroke="#a6dff4" stroke-width="4.8" stroke-linecap="round" fill="none"/><path d="M150 2134zm1 55zm0-4zm0-2zm0-15zm0-2zm0-2zm0-13zm0-23zm3 54zm1 17zm0-38zm1-36zm0 1zm0 1zm0 2zm0 11zm0 6zm0 1zm0 1zm0 6zm0 4zm0 12zm0 13zm0 8zm0 1zm1 9zm0-48zm0-29zm1 3zm0 69zm1-68zm1 18zm0 1zm0 33zm0 18zm1-16zm0-10zm0-32zm0-9zm1-3zm1 10zm1 11zm0 4zm0 1zm1 37zm0-64zm1-4zm0 1zm0 1zm0 1zm0 5zm0 16zm0 6zm0 5zm0 11zm0 8zm0 4zm0 4zm0 7zm0 1zm0 1zm0 13zm1-16zm2-64zm0 21zm2 42zm1-60zm0 2zm0 3zm0 2zm0 4zm0 27zm0 6zm0 18zm0 14zm0 2zm1-81zm0-2zm2 1zm0 88zm2-2zm0-4zm0-4zm0-9zm0-5zm0-9zm0-1zm0-2zm0-9zm0-6zm0-4zm0-15zm0-20zm3 4zm1 21zm1-21zm0 3zm0 2zm0 9zm0 5zm0 2zm0 1zm0 3zm0 5zm0 30zm1-64zm1 66zm1 24zm0-84zm1 4zm1 69zm0-9zm0-9zm0-25zm0-9zm0-6zm0-8zm0-8zm0-5zm3 87zm1-24zm0-22zm0-9zm1-15zm0 4zm0 2zm0 43zm1 10zm2-46zm3 49zm0-19zm0-12zm0-32zm0-4zm4-3zm1 72zm0-37zm0-22zm0-14zm0-3zm0-1zm0-1zm2 56zm1-31zm1-21zm0 2zm0 53zm1 10zm0-2zm0-4zm0-2zm0-7zm0-7zm0-50zm1 70zm4 20zm0-12zm0-13zm0-18zm0-16zm0-1zm0-1zm0-19zm0-5zm0-3zm4 8zm0 40zm1 52zm0-20zm2-35zm0 54zm3-30zm1-70zm0 1zm0 13zm0 9zm0 6zm0 14zm0 1zm0 37zm0 20zm3-71zm1-18zm0 87zm1 10zm0-31zm1-47zm0 20zm0 13zm4 31zm0-11zm0-20zm0-40zm0-15zm1 5zm0 47zm1-21zm1-39zm0 63zm1 40zm1-103zm0 2zm0 17zm0 12zm0 9zm0 21zm0 15zm0 25zm0 3zm0 12zm2-12zm3-81zm0 6zm1 52zm0-31zm1-50zm0 5zm2 16zm2-20zm0 1zm0 1zm0 22zm0 1zm0 3zm0 5zm0 7zm0 4zm0 23zm0 18zm0 4zm0 4zm1-78zm2-7zm0 1zm1 80zm0-88zm1-1zm0 1zm0 5zm0 1zm0 31zm0 6zm0 19zm0 4zm0 18zm0 22zm0 4zm2-10zm1-101zm0 33zm2 52zm0-1zm0-35zm0-6zm0-9zm0-8zm0-3zm0-7zm0-10zm0-6zm5 2zm0 8zm0 15zm0 24zm0 5zm0 27zm0 19zm1-15zm0-29zm0-56zm2 1zm0 27zm2-4zm0-22zm4 31zm2 22zm0-2zm0-16zm0-7zm0-3zm0-5zm0-20zm1 2zm4 27zm0-29zm2 12zm3 48zm0-30zm0-29zm0-2zm1 5zm4 62zm0-11zm0-4zm0-22zm0-15zm0-6zm0-8zm2 12zm3 33zm0-13zm3 13zm1 16zm0-55zm2-4zm0 3zm0 15zm0 9zm0 1zm0 7zm0 35zm3-51zm2 6zm0 32zm0 16zm3-33zm2-2zm0 6zm0 9zm1-18zm1-37zm0 2zm0 25zm0 6zm3-16zm0-2zm2 55zm1-3zm2-55zm0 63zm1-73zm2 20zm3 52zm0-20zm0-53zm1 2zm1-3zm1 1zm1 11zm3 9zm1 10zm0-22zm1 42zm1 27zm0-12zm0-59zm4 64zm0 12zm1 1zm0-7zm0-10zm0-63zm0-1zm2 46zm0 23zm2-24zm1-23zm0 5zm0 4zm1 38zm2-70zm2 63zm0-47zm1-8zm0 8zm0 2zm0 9zm0 22zm0 10zm4 21zm1-77zm0 3zm0 2zm0 10zm0 4zm0 4zm0 16zm0 18zm0 12zm0 12zm4-77zm1-10zm0 6zm0 62zm1-60zm2 36zm2 41zm0-20zm0-3zm0-11zm0-18zm0-16zm0-15zm4 3zm1 43zm2-48zm1 4zm3 66zm0 5zm2 5zm0-40zm3-35zm0 20zm0 3zm1-21zm4-5zm0 6zm0 12zm0 1zm2 8zm0-6zm2-4zm2 23zm1-36zm0 21zm1-7zm0-14zm2 5zm0 9zm0 10zm0 12zm3-33zm1 16zm0 3zm2 44zm0-1zm0-36zm0-8zm0-22zm5 27zm2-22zm2 4zm3 14zm0-11zm3 33zm0 11zm1-9zm2-22zm2 51zm0-2zm0-25zm0-47zm2 54zm1-54zm3 3zm0 36zm1-6zm3-35zm1 22zm4 9zm1 14zm0-5zm1-34zm4 63zm0-7zm0-1zm0-18zm3-34zm1-3zm1-8zm0 9zm0 6zm0 11zm0 11zm0 14zm4-34zm2 5zm1 8zm0-7zm1-21zm3 43zm0-5zm3 2zm9-14zm0-7zm3-18zm0 15zm0 2zm0 2zm0 3zm0 6zm0 5zm3-13zm1-23zm1 1zm1 22zm0 10zm1 9zm4 0zm1-8zm2-33zm1 2zm1 9zm0 1zm0 15zm3-9zm1-17zm0 27zm0 8zm1 1zm0-4zm0-13zm0-16zm2 9zm1 8zm0-19zm1 7zm0 29zm1-24zm4 23zm2-15zm0-19zm0-1zm4 11zm2-8zm4-3zm0 26zm5-3zm0-13zm0-7zm2-2zm2 40zm0-8zm1-15zm0 3z" stroke="#d3b079" stroke-width="4.8" stroke-linecap="round" fill="none"/>
<path d="M148.3 2108V2417M193.6 2108V2417M238.8 2108V2417M284.1 2108V2417M329.4 2108V2417M374.7 2108V2417M419.9 2108V2417M465.2 2108V2417M510.5 2108V2417M555.7 2108V2417" stroke="#c2c2c2" stroke-width="1.3" stroke-dasharray="4 4.3" fill="none"/>
<path d="M152.8 2256.8 532.2 2345.2" fill="none" stroke="#000" stroke-width="2.2" stroke-linejoin="round" stroke-dasharray="8.5 5"/>
<path d="M152.8 2158.2 532.2 2170.4" fill="none" stroke="#000" stroke-width="2.2" stroke-linejoin="round"/>
<path d="M152.1 2154.7 160.8 2153.6 171.3 2156.4 178.3 2155.4 185.3 2158.9 195.8 2161.3 202.8 2158.2 209.8 2161.3 222 2158.9 227.3 2165.9 234.3 2167.6 241.3 2174.6 246.5 2169.4 251.7 2165.2 258.7 2158.2 265.7 2160.6 272.7 2152.9 279.7 2155.4 290.2 2162.4 304.2 2160.6 314.7 2164.1 325.2 2162.4 332.2 2165.9 340.9 2164.1 346.2 2169.4 353.1 2162.4 360.1 2160.6 365.4 2152.9 368.9 2154.7 375.9 2151.2 382.9 2158.9 389.9 2164.1 395.1 2167.6 402.1 2165.2 409.1 2172.9 414.3 2181.6 419.6 2186.2 424.8 2191 431.8 2178.1 438.8 2174.6 444.1 2164.1 452.8 2158.9 458 2159.9 468.5 2155.4 479 2153.6 489.5 2152.9 498.3 2158.2 503.5 2162.4 510.5 2159.9 517.5 2161.3 528 2160.6 532.2 2166.6" fill="none" stroke="#9c1f22" stroke-width="2.0" stroke-linejoin="round"/>
<path d="M152.1 2234.1 157.3 2248 160.8 2253.3 166.1 2265.5 171.3 2270.8 178.3 2276 185.3 2270.1 192.3 2268.3 201 2275.3 209.8 2281.3 218.5 2279.5 227.3 2272.5 236 2270.8 241.3 2277.1 246.5 2279.5 253.5 2290 260.5 2295.2 264 2298.7 269.2 2291.7 278 2289 285 2285.8 293.7 2288.3 304.2 2293.5 311.2 2291.7 318.2 2293.5 325.2 2297 335.7 2300.5 346.2 2304 356.6 2307.5 360.1 2303.3 365.4 2312.7 370.6 2305.7 379.4 2311 382.9 2302.2 389.9 2301.5 400.3 2295.2 405.6 2304 410.8 2314.5 417.8 2326.7 421.3 2330.2 433.6 2330.9 438.8 2333.7 444.1 2326.7 449.3 2327.4 456.3 2322.2 461.5 2326 466.8 2324.3 475.5 2331.3 486 2334.8 493 2340 501.7 2340.7 510.5 2336.5 521 2333.7 532.2 2332.7" fill="none" stroke="#f01a1a" stroke-width="2.4" stroke-linejoin="round"/>
<path d="M127.3 2104V2417H575" stroke="#222" stroke-width="1.1" fill="none"/><path d="M127.3 2114.3h-3.5M127.3 2186.4h-3.5M127.3 2258.6h-3.5M127.3 2330.8h-3.5M127.3 2403.4h-3.5M148.3 2417v3.5M193.6 2417v3.5M238.8 2417v3.5M284.1 2417v3.5M329.4 2417v3.5M374.7 2417v3.5M419.9 2417v3.5M465.2 2417v3.5M510.5 2417v3.5M555.7 2417v3.5" stroke="#222" stroke-width="1" fill="none"/>
<rect x="123" y="2053.5" width="462.1" height="49.3" rx="3" fill="#000"/><rect x="130.4" y="2060.9" width="447.3" height="34.5" fill="#45998a"/><text x="354.1" y="2093" font-size="39.1" text-anchor="middle" >H32</text>
<path d="M614 2173zm0 14zm0 19zm0 4zm0 23zm0 14zm0 3zm0 10zm1-43zm0-14zm0-17zm1 20zm0 42zm1 0zm0-25zm0-16zm1 13zm0 13zm0 6zm1 38zm0-35zm0-4zm0-1zm0-1zm0-11zm0-1zm0-1zm0-4zm0-4zm0-2zm0-5zm0-7zm0-7zm0-4zm0-10zm1 29zm0 10zm0 7zm0 10zm1 23zm0-44zm1 23zm1 32zm0-48zm1-37zm0 1zm0 2zm0 14zm0 4zm0 6zm0 7zm0 16zm0 4zm0 2zm0 14zm0 3zm0 11zm1 19zm0-25zm0-16zm0-13zm0-1zm0-7zm0-29zm1 15zm0 35zm2 23zm0-29zm0-49zm1 8zm0 9zm0 7zm0 36zm0 8zm0 18zm2 25zm0-13zm1-50zm2 54zm0-1zm0-30zm0-15zm0-8zm0-2zm0-1zm0-2zm0-12zm0-3zm0-19zm0-8zm1 42zm0 61zm1-51zm0-20zm0-3zm1 38zm2-4zm1-59zm0 11zm0 1zm0 12zm0 7zm0 1zm0 23zm0 8zm0 1zm0 11zm0 9zm0 22zm1-39zm1-55zm0 49zm1 33zm0-31zm0-34zm1-31zm0 10zm0 13zm1 57zm0-7zm0-2zm0-1zm0-22zm0-18zm0-2zm0-1zm0-28zm1 22zm0 21zm1 26zm0-3zm0-28zm0-14zm1 13zm0 30zm1-40zm1-12zm0 18zm0 26zm0 11zm0 13zm0 6zm0 5zm1-39zm1 3zm2 13zm0-22zm1-46zm0 6zm0 11zm0 6zm0 7zm0 9zm0 3zm0 1zm0 4zm0 2zm0 10zm0 8zm0 6zm0 16zm0 2zm1-50zm1-15zm0 25zm0 3zm0 9zm0 10zm1-36zm0-7zm1 28zm0 16zm1 12zm0-15zm0-1zm0-10zm0-7zm0-1zm0-1zm0-9zm0-5zm0-2zm0-4zm0-3zm0-9zm1 46zm1 3zm1-45zm1 32zm0-1zm2-13zm0 17zm0 4zm0 7zm0 2zm0 2zm0 11zm3 14zm1-59zm0 22zm1 29zm0-9zm0-13zm0-15zm0-5zm0-3zm0-5zm0-13zm1-14zm0 31zm1 50zm0-9zm1-68zm1 59zm0-8zm1-49zm0 7zm0 3zm0 5zm0 4zm0 1zm0 5zm0 5zm0 1zm0 4zm0 1zm0 7zm0 8zm0 3zm0 7zm0 5zm1-18zm0-23zm0-11zm1-8zm1 40zm0-28zm0-32zm1 48zm1 26zm0-10zm0-2zm0-4zm0-16zm0-1zm0-2zm0-13zm0-5zm1 54zm1-27zm1-34zm0 43zm1 0zm0-39zm1 7zm0 20zm0 11zm0 5zm0 5zm1-1zm1-35zm0 3zm0 29zm2 21zm0-32zm0-45zm1 58zm1 32zm0-12zm0-25zm0-8zm0-1zm0-12zm0-6zm1-5zm1 38zm0-16zm2 27zm1-4zm0-1zm0-1zm0-4zm0-3zm0-10zm1-13zm1 45zm0-53zm1 38zm0 19zm1-52zm1-19zm0 16zm0 8zm0 33zm0 2zm0 5zm0 4zm1-2zm0-47zm1 29zm2 21zm0-30zm0-6zm1-5zm0 16zm0 3zm0 10zm0 9zm0 14zm1-22zm1-2zm2 17zm0-72zm1 9zm0 3zm0 23zm0 1zm0 12zm0 9zm0 1zm0 1zm0 8zm0 4zm0 3zm0 3zm1-68zm3 13zm0 25zm1 20zm0-30zm1 9zm0 5zm0 16zm3-23zm1-28zm1 56zm0-3zm0-17zm0-4zm0-4zm0-5zm0-12zm1 20zm0 32zm1-28zm2-23zm1 33zm0-7zm0-4zm0-3zm0-3zm0-6zm0-7zm0-6zm0-4zm2 30zm0 22zm1-14zm1-44zm0 23zm1 17zm0-5zm1-2zm0 8zm1 29zm3-47zm0 10zm0 1zm0 1zm0 11zm0 22zm1-10zm1-22zm0 18zm1-20zm0-7zm1 6zm2 29zm0-2zm0-5zm0-20zm1-3zm1 2zm2 13zm1 22zm0-3zm0-5zm0-18zm0-2zm0-2zm0-3zm0-12zm0-4zm2 10zm0 4zm0 22zm1-13zm2-30zm0 15zm0 2zm0 4zm0 3zm0 12zm0 2zm0 17zm2-30zm3-4zm0 6zm0 1zm0 11zm0 3zm0 1zm0 12zm0 1zm1-20zm1 1zm3 15zm0-6zm0-6zm0-3zm0-20zm0-5zm3 51zm3-26zm0-10zm1 10zm3 23zm1-48zm0 14zm0 5zm1 8zm2 13zm1-38zm1 13zm0 5zm0 11zm0 3zm1-2zm4-37zm0 28zm0 5zm0 5zm0 2zm0 3zm1-36zm1 17zm1 40zm1-47zm1 30zm2-20zm1 34zm1-43zm1 12zm0-32zm1 32zm0 10zm0 10zm0 11zm1-15zm0-11zm3 23zm1 7zm0-25zm0-30zm5 28zm0 7zm1 23zm1-37zm0 16zm2-7zm1-4zm0 1zm2 10zm2-5zm1 20zm0-17zm0-2zm0-8zm0-3zm0-9zm0-4zm1 15zm0 25zm2 6zm0-7zm0-6zm0-14zm1-12zm2 29zm0-8zm0-6zm0-1zm0-7zm1-4zm2-2zm3 40zm3-21zm1-14zm0 4zm0 6zm0 9zm0 9zm3-31zm1 8zm1 18zm0-7zm0-3zm0-2zm0-1zm5-7zm0 11zm1 17zm0-6zm1-12zm1 19zm1-14zm0 6zm2 2zm3 1zm2 10zm0-11zm0-3zm0-1zm0-18zm7 9zm0 8zm2 6zm1-31zm0 11zm0 4zm0 12zm3 5zm1-14zm1 6zm0-2zm0-5zm0-5zm3 3zm3 10zm0-4zm3-9zm2 13zm0-2zm0-9zm5-4zm0 15zm2 3zm3-10zm0 7zm5 9zm0-9zm0-3zm0-4zm1 3zm3 21zm2-5zm4-13zm4 6zm2 7zm0-8zm6 9zm8-9zm2 15zm2-5zm3-4zm0 16zm1-5zm1 4zm1 1zm0-9zm2-4zm0 8zm0 8zm5-1zm0-7zm3-4zm8 11zm0-12zm0-11zm1 14zm1 3zm3-4zm5 16zm0-5zm0-3zm0-2zm3-2zm0 6zm2-5zm1 8zm4-5zm5 6zm1-1zm2 2zm3 2zm10-4zm1 2z" stroke="#a6dff4" stroke-width="4.8" stroke-linecap="round" fill="none"/><path d="M614 2129zm0 7zm0 26zm0 1zm0 5zm0 27zm1 2zm0-25zm0-25zm0-20zm1 2zm0 25zm0 44zm0 4zm1 4zm0-1zm0-14zm1-52zm0 51zm1 18zm0-7zm0-3zm0-30zm0-17zm0-9zm0-1zm0-1zm0-1zm0-13zm0-1zm1 24zm0 6zm0 30zm1-46zm0-5zm0-8zm0-2zm1 0zm1 79zm1-78zm0 3zm0 1zm0 1zm0 2zm0 6zm0 3zm0 5zm0 1zm0 12zm0 38zm0 1zm1-74zm1 51zm0 3zm1 19zm0-5zm0-25zm1-40zm0 1zm1 79zm0-5zm0-1zm0-28zm0-1zm0-18zm0-19zm0-1zm0-6zm0-1zm0-3zm2 13zm1 13zm0-18zm2-8zm0 4zm0 22zm0 16zm0 6zm0 19zm0 3zm2-27zm0-5zm3 22zm0 7zm1 10zm0-16zm0-14zm0-32zm0-4zm0-2zm0-8zm1 29zm0 50zm2-7zm0-8zm1 13zm1-9zm0-17zm0-10zm0-19zm0-15zm0-5zm0-3zm4 18zm1 74zm0-5zm0-20zm0-4zm0-15zm0-6zm0-6zm0-20zm0-2zm0-2zm0-2zm1 61zm1-71zm1 30zm0 28zm2 31zm0-36zm0-7zm0-20zm0-2zm0-12zm0-3zm0-3zm2 72zm0 13zm1-14zm0-45zm1 28zm1 20zm0-32zm0-2zm0-15zm0-10zm1-13zm1 40zm1-43zm1 30zm0-5zm1 0zm1 49zm0-11zm0-1zm0-6zm0-14zm0-8zm0-11zm0-8zm0-5zm0-15zm1 11zm1 14zm0-20zm2-4zm0 19zm1 67zm0-2zm0-1zm0-12zm0-16zm0-9zm0-11zm0-17zm0-3zm0-15zm1 6zm1 2zm1 31zm0 9zm1 0zm0-9zm0-28zm0-8zm1-4zm0 5zm0 2zm0 3zm0 1zm0 6zm0 32zm0 20zm0 6zm0 6zm0 5zm1-84zm0-1zm1 26zm2 17zm1-35zm0 13zm0 24zm0 7zm0 4zm0 6zm0 3zm0 16zm0 4zm0 4zm0 4zm1-94zm2 92zm1-80zm1-10zm0 3zm0 3zm0 2zm0 17zm0 22zm0 4zm0 40zm1-78zm2 1zm2-3zm1-7zm0 7zm0 48zm0 21zm3-50zm0-32zm1 48zm1 28zm0-71zm1 72zm1-25zm0-17zm1 20zm1 4zm1-38zm0 25zm0 44zm1-72zm1 10zm1 54zm0-52zm1-26zm0 55zm1 19zm0-22zm0-15zm0-2zm0-7zm0-16zm0-2zm0-9zm1 73zm2 15zm2-92zm0 14zm0 19zm0 5zm0 24zm0 1zm0 27zm0 1zm1-21zm3-45zm0 2zm1 58zm0-85zm1 1zm0 2zm0 9zm0 13zm0 10zm0 16zm0 42zm3-29zm1-60zm1 81zm0-10zm0-11zm0-8zm0-3zm0-32zm0-11zm0-3zm0-1zm2-5zm0 22zm2 69zm0-56zm1-35zm0 2zm0 12zm0 28zm0 12zm0 37zm2-11zm2-49zm0 50zm1-25zm0-27zm0-20zm0-8zm1 59zm1-37zm3-6zm0 50zm0 15zm0 6zm3-62zm2-23zm0 59zm0 33zm1-57zm0-21zm0-16zm3 34zm0 20zm2 16zm0-33zm0-3zm0-33zm2 18zm3 63zm0-45zm0-22zm0-5zm0-8zm0-1zm2 53zm3 27zm0-29zm0-37zm0-11zm1 16zm1 57zm0-55zm3 0zm0 1zm0 54zm6 1zm0-4zm0-14zm0-32zm0-16zm0-2zm2-7zm3 39zm1 41zm1-73zm2 35zm1-12zm0-16zm0-13zm0-1zm1 31zm1 20zm0-16zm3-32zm0 3zm0 18zm0 27zm0 10zm0 20zm1-17zm1 21zm3 11zm0-56zm0-1zm0-18zm0-12zm2 63zm3-10zm1-59zm0 44zm0 25zm0 25zm1-37zm1-21zm1 5zm2-36zm0 5zm0 40zm0 3zm0 24zm3-20zm2-51zm0 15zm0 16zm0 34zm0 21zm2-47zm3-34zm0 5zm0 21zm0 1zm0 23zm0 28zm1-93zm4 2zm0 59zm0 41zm1-53zm0-8zm1-9zm1-29zm0-1zm3 42zm0 20zm5 27zm0-86zm3 49zm2 4zm0-1zm0-12zm0-20zm0-17zm0-5zm2 65zm3 15zm0-24zm0-19zm0-21zm0-2zm2-2zm0 33zm1 39zm1-50zm1 38zm0-41zm0-7zm0-4zm0-11zm0-8zm6-2zm0 5zm0 11zm0 22zm0 17zm2-29zm1-3zm2 51zm0-22zm0-20zm0-25zm5-6zm0 9zm5 50zm0-27zm0-6zm0-7zm0-5zm5-8zm0 10zm3 8zm0-1zm1-19zm1 11zm1-4zm0 35zm0 12zm2-44zm2 35zm1 2zm0-7zm0-3zm4-5zm0 8zm1-17zm0-18zm0-8zm1 1zm1 22zm1-6zm2 4zm0-21zm1 15zm4 48zm0-25zm2 0zm1 21zm3-1zm3-31zm5 17zm1-10zm1-21zm0 39zm2-18zm1-34zm2 47zm0-27zm2-23zm2 22zm1 7zm0 6zm6 6zm0-27zm0-5zm0-6zm2-4zm3 42zm0-19zm0-16zm2 11zm3 24zm0-21zm0-12zm0-8zm4 8zm1-8zm2 8zm0 42zm8-33zm1-11zm5 34zm0-13zm0-20zm0-2zm1 37zm2-25zm2-9zm0 2zm0 17zm0 13zm4-21zm1-17zm0 8zm5 42zm0-24zm0-5zm0-2zm0-10zm0-4zm1 5zm5 17zm0-15zm0-5zm1 12zm4 36zm2-20zm0 15zm2-22zm2 11zm2-28zm1 1z" stroke="#d3b079" stroke-width="4.8" stroke-linecap="round" fill="none"/>
<path d="M612.8 2108V2417.6M658.1 2108V2417.6M703.3 2108V2417.6M748.6 2108V2417.6M793.8 2108V2417.6M839.1 2108V2417.6M884.4 2108V2417.6M929.6 2108V2417.6M974.9 2108V2417.6M1020.1 2108V2417.6" stroke="#c2c2c2" stroke-width="1.3" stroke-dasharray="4 4.3" fill="none"/>
<path d="M617.7 2225.3 996.4 2351.9" fill="none" stroke="#000" stroke-width="2.2" stroke-linejoin="round" stroke-dasharray="8.5 5"/>
<path d="M617.7 2164.5 996.4 2166.6" fill="none" stroke="#000" stroke-width="2.2" stroke-linejoin="round"/>
<path d="M617 2152.9 622.9 2152.6 629.9 2157.1 636.9 2155.4 643.9 2158.9 652.7 2162.4 661.4 2157.1 668.4 2163.1 675.4 2170.1 682.4 2172.9 691.1 2167.6 699.9 2172.2 710.3 2177.4 717.3 2165.9 722.6 2172.9 727.8 2161.3 734.8 2166.6 745.3 2163.1 752.3 2165.2 759.3 2166.6 768 2174.6 776.8 2179.9 785.5 2172.2 794.3 2165.2 803 2167.6 811.7 2172.9 820.5 2167.6 829.2 2161.3 838 2159.9 839.7 2155.4 848.5 2164.1 857.2 2167.6 869.4 2166.6 878.2 2170.1 888.7 2164.1 893.9 2159.9 899.2 2164.1 907.9 2162.4 918.4 2153.6 923.6 2157.1 930.6 2149.4 939.4 2148.4 944.6 2151.9 953.4 2154.7 962.1 2162.4 970.8 2168.7 977.8 2162.4 984.8 2158.9 991.8 2151.9 996.4 2144.2" fill="none" stroke="#9c1f22" stroke-width="2.0" stroke-linejoin="round"/>
<path d="M617 2184.1 622.9 2197.3 628.2 2221.8 633.4 2239.3 638.7 2247 642.2 2235.8 649.2 2234.1 656.2 2232.3 661.4 2238.6 668.4 2242.8 673.6 2256.8 680.6 2260.3 685.9 2263.8 691.1 2255 698.1 2254 701.6 2249.8 706.9 2253.3 712.1 2249.8 719.1 2258.5 727.8 2263.8 734.8 2269 748.8 2269 759.3 2277.8 769.8 2284.8 778.5 2286.5 789 2282.3 801.3 2282 808.3 2288.3 817 2295.2 824 2298.7 831 2298 839.7 2300.5 850.2 2299.4 860.7 2305.7 869.4 2309.2 878.2 2314.5 886.9 2311 895.7 2314.5 906.2 2318 913.1 2321.5 927.1 2320.8 935.9 2319 942.9 2328.5 951.6 2333.7 960.3 2340.7 969.1 2342.4 976.1 2340.7 983.1 2340 991.8 2341.4 996.4 2344.9" fill="none" stroke="#f01a1a" stroke-width="2.4" stroke-linejoin="round"/>
<path d="M592.5 2104V2417.6H1040" stroke="#222" stroke-width="1.1" fill="none"/><path d="M592.5 2114.3h-3.5M592.5 2186.4h-3.5M592.5 2258.6h-3.5M592.5 2330.8h-3.5M592.5 2403.4h-3.5M612.8 2417.6v3.5M658.1 2417.6v3.5M703.3 2417.6v3.5M748.6 2417.6v3.5M793.8 2417.6v3.5M839.1 2417.6v3.5M884.4 2417.6v3.5M929.6 2417.6v3.5M974.9 2417.6v3.5M1020.1 2417.6v3.5" stroke="#222" stroke-width="1" fill="none"/>
<rect x="592.2" y="2053.5" width="461.7" height="49.3" rx="3" fill="#000"/><rect x="599.6" y="2060.9" width="446.9" height="34.5" fill="#d79ee6"/><text x="823.1" y="2093" font-size="39.1" text-anchor="middle" >H53</text>
<path d="M1082 2166zm0 4zm0 5zm0 9zm0 4zm0 9zm0 7zm0 3zm0 1zm0 7zm0 13zm0 5zm0 3zm0 12zm0 3zm1-10zm0-25zm0-11zm0-7zm0-1zm0-4zm1 4zm0 10zm1 44zm0-53zm1 26zm0 12zm0 14zm1 3zm0-6zm0-11zm0-4zm0-2zm0-5zm0-17zm0-1zm0-4zm0-7zm1 1zm1-6zm1 27zm0 9zm0 1zm1-10zm1-42zm0 21zm0 1zm0 14zm0 1zm0 4zm0 5zm0 4zm0 9zm0 6zm0 4zm0 14zm3-38zm0-2zm1 8zm0 22zm1 10zm0-6zm0-4zm0-5zm0-4zm0-6zm0-5zm0-16zm0-10zm0-2zm0-1zm0-12zm2 28zm1 16zm0-8zm0-26zm1 34zm0 24zm1-3zm0-1zm0-11zm0-9zm0-2zm0-3zm0-7zm0-10zm0-1zm0-2zm0-7zm0-4zm0-11zm0-7zm1 14zm0 52zm1-11zm1 19zm1-15zm0-2zm0-11zm1-23zm0 38zm1 34zm0-4zm0-12zm0-5zm0-6zm0-1zm0-5zm0-2zm0-2zm0-1zm0-5zm0-10zm0-1zm0-20zm0-2zm1 7zm1 41zm0-5zm0-3zm0-37zm1-5zm0 2zm0 50zm1-25zm1-36zm0 26zm0 7zm0 7zm0 7zm0 6zm0 2zm0 1zm0 1zm0 1zm0 3zm0 3zm0 9zm0 1zm0 2zm1 4zm0-29zm0-24zm0-17zm2 54zm2 22zm0-1zm0-26zm0-2zm0-1zm0-2zm0-8zm0-5zm0-11zm0-18zm2 38zm1 6zm0-7zm0-27zm1 37zm0 10zm1-3zm0-8zm0-9zm0-1zm0-5zm0-3zm0-9zm0-5zm1-16zm2 57zm2-49zm0 25zm0 5zm0 7zm0 21zm0 2zm0 4zm0 13zm1-34zm0-41zm0-11zm2 72zm2 14zm1-81zm0 10zm0 4zm0 6zm0 1zm0 10zm0 9zm0 6zm0 4zm0 26zm1-31zm1-2zm2-2zm1-21zm0 9zm0 8zm0 1zm0 8zm0 10zm0 13zm0 2zm0 3zm1-33zm0-24zm1 27zm1-24zm2-1zm0 15zm0 1zm0 7zm0 2zm0 10zm0 11zm0 7zm0 22zm1-58zm1 27zm1-3zm0-22zm2-3zm0 4zm0 15zm0 2zm0 1zm0 20zm0 7zm0 6zm3-7zm1-61zm0 26zm1 20zm0-21zm0-31zm1-5zm1 17zm2-20zm0 41zm0 5zm1-33zm1 19zm0 4zm0 5zm0 10zm0 15zm0 20zm2-54zm3-2zm0 4zm0 1zm0 17zm0 2zm0 2zm0 1zm0 3zm5 9zm0-8zm0-1zm0-10zm0-13zm0-14zm0-7zm1 36zm1 0zm1-11zm2 14zm0-5zm0-16zm0-7zm0-11zm0-13zm2 21zm3 21zm0-7zm0-2zm0-1zm0-3zm0-2zm0-2zm0-1zm1 54zm2-15zm2 15zm1-39zm1-10zm2-2zm1 4zm1 20zm0-8zm0-10zm1 8zm4 26zm0-6zm0-14zm0-11zm0-3zm1-13zm1 26zm1 14zm2 12zm0-23zm0-14zm0-20zm5 14zm0 22zm0 21zm0 5zm0 1zm0 3zm1-34zm1 20zm0 1zm2 12zm0-57zm1 5zm0 27zm1 38zm0-7zm0-2zm0-16zm0-21zm0-12zm0-7zm5 3zm0 7zm0 12zm0 1zm0 11zm0 8zm0 18zm1-6zm0-32zm1 25zm0 10zm3-4zm0-10zm0-1zm0-14zm0-4zm0-11zm1 9zm3 1zm1-17zm0 9zm0 4zm0 6zm0 19zm0 14zm2-16zm1-8zm1 0zm0-14zm0-2zm1-5zm0 18zm0 5zm0 5zm0 1zm0 4zm1 4zm4-13zm1 1zm0-19zm0-6zm3 50zm1-39zm0-6zm0-1zm1-4zm0 15zm0 7zm1 28zm0-30zm0-8zm3-17zm0 45zm1-12zm0-8zm0-14zm0-1zm1 7zm4 26zm0-5zm0-5zm0-8zm4-22zm0 30zm1 11zm0-4zm0-1zm0-7zm0-4zm0-5zm0-15zm4 42zm1 6zm1-30zm0 9zm1 3zm2-18zm1-6zm1 19zm1 12zm2 15zm2-21zm0-7zm0-2zm0-6zm0-14zm1 36zm2 19zm1-11zm1-3zm0-4zm2-16zm1 27zm0-39zm1 34zm1-4zm0-26zm1 18zm3 17zm0-26zm1 1zm1 24zm0-2zm0-9zm0-7zm0-2zm0-8zm0-5zm1 1zm1 2zm2 25zm1-5zm0-7zm0-12zm0-2zm1 14zm1 4zm1-14zm1 28zm1-31zm0 19zm0 10zm1-12zm1 10zm3 2zm0-14zm2-2zm1 0zm2-13zm0 15zm0 3zm0 2zm3-9zm3-6zm0 7zm1-6zm0-11zm3 30zm1 4zm0-3zm1-27zm0 14zm3 20zm1-37zm0 16zm1 17zm2 10zm2 1zm0-4zm0-1zm0-8zm0-10zm0-7zm2 12zm2 23zm1-38zm0 19zm0 10zm1-5zm5-30zm0 8zm0 2zm0 7zm0 12zm1 13zm0-33zm2 16zm1-19zm1 18zm0 8zm1-15zm2-9zm0 8zm2 10zm0-13zm0-13zm1 15zm1 7zm2-19zm0 6zm1 39zm0-6zm0-4zm0-5zm0-6zm0-3zm0-1zm0-4zm1 1zm1 7zm3-13zm0 13zm0 3zm0 5zm0 5zm1 2zm3-9zm2 15zm0-6zm0-16zm0-4zm0-12zm1 23zm4 21zm0-5zm0-20zm5-6zm0 32zm2-18zm1 0zm1 10zm1-26zm0 28zm0 8zm5 7zm0-16zm0-12zm0-2zm3-12zm2 13zm2 15zm2-14zm1-2zm1 15zm0-1zm0-3zm0-2zm0-8zm0-2zm5-7zm0 6zm0 23zm2-1zm2-12zm2 5zm2-2zm2 0zm0-5zm0-3zm1 0zm3 10zm2 3zm0 1zm1 3zm5-6zm3 4zm1-4zm0 1zm0 4zm0 8zm10-10zm1-3zm5 10zm0-1zm2 5zm1-5zm2 3zm1-3zm4 7zm5-1zm0-5zm0-1z" stroke="#a6dff4" stroke-width="4.8" stroke-linecap="round" fill="none"/><path d="M1082 2124zm0 1zm0 2zm0 6zm0 8zm0 1zm0 1zm0 2zm0 11zm0 12zm0 1zm1-11zm1 7zm1-17zm1-2zm1 29zm0-13zm0-10zm0-9zm0-2zm0-1zm0-7zm0-2zm0-5zm1 32zm0 18zm1-1zm0-25zm0-16zm0-4zm0-2zm1 3zm0 23zm2 27zm0-18zm0-17zm0-4zm0-3zm0-7zm0-8zm1 1zm0 8zm0 8zm1 4zm0-20zm1 45zm1-46zm1 2zm0 7zm0 1zm0 1zm0 27zm0 3zm0 11zm0 4zm1-56zm1 8zm1 30zm1 17zm1-6zm0-19zm0-5zm2 13zm1 8zm1-10zm1-26zm1 2zm0 18zm0 35zm4-52zm0-13zm1 2zm0 13zm0 1zm0 8zm0 2zm0 2zm0 1zm0 33zm1-62zm1 9zm1-6zm0-1zm1 9zm0 50zm1 16zm0-25zm0-5zm0-3zm0-13zm0-22zm0-2zm0-2zm1 14zm1-1zm0-11zm1 73zm2-6zm0-3zm0-3zm0-13zm0-33zm1 0zm0 5zm0 45zm1-35zm0-27zm1 70zm1-10zm1-61zm0 7zm0 5zm0 40zm5-51zm1 0zm0 37zm0 9zm1-53zm1 59zm3 26zm0-6zm0-25zm0-13zm0-23zm0-18zm0-1zm1 11zm0 63zm1-31zm1-16zm0 29zm1-2zm1-40zm0 34zm0 3zm0 7zm0 29zm1-79zm1 3zm1 58zm2-63zm0 4zm0 18zm0 17zm0 3zm0 24zm0 16zm1-82zm1-2zm3 67zm0-15zm0-20zm0-4zm0-1zm0-9zm0-22zm2 10zm0 36zm0 15zm2 2zm1-57zm1 69zm0-25zm0-3zm0-15zm0-6zm0-3zm0-6zm5-16zm0 7zm0 3zm0 14zm0 9zm0 11zm0 13zm0 14zm3 0zm1-59zm0 45zm1-2zm0-1zm0-7zm0-2zm0-12zm0-33zm2-1zm0 7zm1-2zm0-4zm2 15zm0 14zm0 8zm0 17zm0 16zm0 7zm1-2zm2-75zm1 49zm0-40zm1-1zm0 2zm0 18zm0 40zm1-38zm1-31zm0 10zm0 10zm0 13zm4 56zm0-52zm0-21zm0-2zm0-4zm0-1zm0-1zm0-2zm1 9zm2-13zm2 5zm0 3zm0 18zm0 16zm0 5zm0 3zm0 15zm1-50zm2-9zm0 65zm2-10zm0-26zm0-17zm0-7zm0-11zm0-1zm2 18zm3-15zm1-3zm1 6zm0-5zm0-1zm1 19zm2 45zm0-29zm0-30zm0-3zm0-2zm3 52zm1-40zm1-6zm0 4zm0 54zm1 3zm0-34zm0-15zm0-11zm1 0zm1-6zm2 40zm1 39zm0-10zm0-25zm0-4zm0-3zm0-8zm0-23zm0-5zm1 44zm1-7zm3-33zm0 6zm0 3zm0 2zm0 28zm0 19zm1-63zm1 21zm0 25zm3 2zm0-32zm0-3zm1 24zm4-22zm0-10zm0-5zm1 24zm1 8zm2-22zm0 52zm2 2zm0-4zm0-14zm0-27zm0-7zm0-6zm0-5zm3 39zm1-1zm1-33zm1 62zm1-22zm2-14zm1-26zm0 6zm0 8zm0 5zm0 48zm3-7zm1-35zm0 24zm1 33zm0-40zm0-33zm2-10zm3 75zm0-26zm0-39zm0-10zm3 4zm0 88zm1-45zm1 37zm1-31zm0-7zm0-4zm0-2zm0-1zm0-19zm0-17zm3 29zm0 26zm0 11zm1-62zm1-6zm0 4zm0 7zm0 22zm0 12zm0 30zm1-79zm3 18zm1 63zm0-7zm0-10zm0-33zm0-23zm0-6zm3 108zm1-55zm1-53zm0 9zm0 3zm0 33zm0 26zm0 7zm0 23zm2-4zm1-96zm2 95zm0-8zm0-13zm0-3zm0-21zm0-6zm0-43zm0-2zm5 66zm1-9zm0-7zm0-33zm0-2zm0-4zm0-7zm0-1zm0-4zm0-1zm2 9zm0 29zm0 15zm1-21zm0-31zm1 12zm1 75zm0-5zm0-17zm0-13zm0-1zm0-26zm0-10zm0-15zm1 22zm4 35zm0-2zm0-2zm0-31zm0-10zm0-12zm1 73zm3-8zm0-59zm1 2zm0 15zm0 3zm0 5zm0 46zm5-8zm0-15zm0-4zm0-4zm0-26zm2-19zm1 67zm0-46zm2-16zm1 68zm0-28zm0-41zm0-2zm0-3zm2 36zm0 28zm0 3zm3-24zm0-5zm0-3zm0-7zm0-2zm0-23zm0-2zm5 17zm0 31zm0 13zm0 11zm3-28zm2-25zm0 23zm0 6zm0 10zm0 11zm3-19zm2-40zm2 44zm0-5zm2-42zm1-3zm1 1zm0 35zm0 22zm0 6zm1-67zm1 1zm2 68zm1-71zm0 4zm0 32zm0 11zm0 26zm2-73zm1 21zm2 52zm0-19zm0-4zm0-23zm0-27zm3 25zm0 29zm1-54zm1 14zm0 33zm1 26zm0-44zm5-10zm1 2zm2-17zm1 61zm1-63zm0 6zm0 17zm1 26zm3-2zm1-5zm0-28zm0-12zm5-2zm0 2zm0 9zm0 14zm0 13zm0 2zm4-26zm1 15zm3 4zm0-32zm5 6zm5-4zm3 17zm0 5zm0 7zm2 5zm2-32zm1 20zm0-15zm0-1zm2 14zm3-13zm0-6zm0-3zm4 7zm1 16zm3-5zm3 18zm0-20zm0-17zm5 35zm1-35zm4 13zm5-8zm0-3zm5 19zm0 11zm2-25zm2 2zm0 23zm2-8zm0-2zm0-8zm0-3zm4-2zm1 17zm0-3zm1 0zm2-8zm0-2zm2 2zm0 22z" stroke="#d3b079" stroke-width="4.8" stroke-linecap="round" fill="none"/>
<path d="M1079.2 2108V2418M1124.5 2108V2418M1169.7 2108V2418M1215 2108V2418M1260.2 2108V2418M1305.5 2108V2418M1350.8 2108V2418M1396 2108V2418M1441.3 2108V2418M1486.5 2108V2418" stroke="#c2c2c2" stroke-width="1.3" stroke-dasharray="4 4.3" fill="none"/>
<path d="M1084.8 2208.9 1463.1 2341.4" fill="none" stroke="#000" stroke-width="2.2" stroke-linejoin="round" stroke-dasharray="8.5 5"/>
<path d="M1084.8 2157.1 1463.1 2167.6" fill="none" stroke="#000" stroke-width="2.2" stroke-linejoin="round"/>
<path d="M1083.7 2137.2 1089 2143.1 1095.9 2150.1 1102.9 2153.6 1113.4 2154.7 1123.9 2156.1 1130.9 2154.7 1141.4 2158.2 1151.9 2160.6 1162.4 2159.6 1172.9 2162.4 1179.9 2159.6 1186.9 2161.7 1197.3 2158.9 1207.8 2161.3 1214.8 2158.9 1225.3 2160.6 1234.1 2158.9 1242.8 2162.4 1249.8 2166.6 1258.5 2163.1 1267.3 2167.6 1274.3 2169.4 1281.3 2163.1 1288.3 2160.6 1295.2 2152.6 1300.5 2156.4 1305.7 2155.4 1316.2 2161.7 1330.2 2160.6 1340.7 2162.4 1349.4 2168.7 1358.2 2173.9 1366.9 2172.2 1373.9 2164.1 1382.7 2158.9 1393.1 2155.4 1403.6 2151.2 1410.6 2151.9 1419.4 2152.9 1428.1 2157.1 1435.1 2161.3 1442.1 2159.9 1449.1 2157.1 1457.8 2155.4 1463.1 2149.4" fill="none" stroke="#9c1f22" stroke-width="2.0" stroke-linejoin="round"/>
<path d="M1083.7 2171.1 1089 2186.9 1094.2 2207.8 1099.4 2221.8 1104.7 2231.6 1109.9 2214.8 1116.9 2211.3 1123.9 2208.9 1127.4 2221.8 1134.4 2232.3 1143.1 2243.8 1151.9 2239.3 1157.1 2234.1 1169.4 2232.3 1176.4 2242.8 1183.4 2249.8 1188.6 2248 1193.8 2254 1200.8 2253.3 1209.6 2248.7 1218.3 2253.3 1225.3 2260.3 1234.1 2263.8 1242.8 2267.3 1249.8 2265.5 1260.3 2269 1270.8 2274.3 1281.3 2278.8 1290 2283 1295.2 2280.6 1300.5 2283 1309.2 2286.5 1319.7 2291 1330.2 2287.6 1340.7 2284.8 1347.7 2281.3 1351.2 2288.3 1358.2 2297 1365.2 2307.5 1372.2 2312 1375.7 2309.9 1380.9 2315.2 1386.2 2313.8 1393.1 2317.3 1403.6 2319 1410.6 2321.5 1419.4 2320.8 1426.4 2326.7 1435.1 2330.9 1442.1 2334.8 1450.8 2338.3 1463.1 2341.4" fill="none" stroke="#f01a1a" stroke-width="2.4" stroke-linejoin="round"/>
<path d="M1059.2 2104V2418H1506" stroke="#222" stroke-width="1.1" fill="none"/><path d="M1059.2 2114.3h-3.5M1059.2 2186.4h-3.5M1059.2 2258.6h-3.5M1059.2 2330.8h-3.5M1059.2 2403.4h-3.5M1079.2 2418v3.5M1124.5 2418v3.5M1169.7 2418v3.5M1215 2418v3.5M1260.2 2418v3.5M1305.5 2418v3.5M1350.8 2418v3.5M1396 2418v3.5M1441.3 2418v3.5M1486.5 2418v3.5" stroke="#222" stroke-width="1" fill="none"/>
<rect x="1055.8" y="2053.5" width="462.2" height="49.3" rx="3" fill="#000"/><rect x="1063.2" y="2060.9" width="447.4" height="34.5" fill="#cfa4fc"/><text x="1286.9" y="2093" font-size="39.1" text-anchor="middle" >H52</text>
<g font-family="Liberation Sans, Arial, sans-serif" fill="#000">
<text x="132.7" y="328.8" font-size="23.3" text-anchor="start" >Mantel test: P = 0.01; R=0.24</text>
<text x="132.7" y="352.9" font-size="23.3" text-anchor="start" >Linear regression:</text>
<text x="132.7" y="381" font-size="23.3" xml:space="preserve">P &lt;  0.001; R<tspan font-size="16.5" dy="-8.6">2</tspan><tspan dy="8.6"> = 0.06; Slope = -0.8% year</tspan><tspan font-size="16.5" dy="-8.6">-1</tspan></text>
<text x="596.4" y="325.8" font-size="23.3" text-anchor="start" >Mantel test: P = 0.01; R=0.1</text>
<text x="596.4" y="353" font-size="23.3" text-anchor="start" >Linear regression:</text>
<text x="596.4" y="381.7" font-size="23.3" xml:space="preserve">P &lt;  0.001; R<tspan font-size="16.5" dy="-8.6">2</tspan><tspan dy="8.6"> = 0.01; Slope = -0.2% year</tspan><tspan font-size="16.5" dy="-8.6">-1</tspan></text>
<text x="1064.9" y="324" font-size="23.3" text-anchor="start" >Mantel test: P &gt; 0.05</text>
<text x="1064.9" y="353" font-size="23.3" text-anchor="start" >Linear regression:</text>
<text x="1064.9" y="381.7" font-size="23.3" xml:space="preserve">P &lt;  0.001; R<tspan font-size="16.5" dy="-8.6">2</tspan><tspan dy="8.6"> = 0.00; Slope = -0.08% year</tspan><tspan font-size="16.5" dy="-8.6">-1</tspan></text>
<text x="1533.7" y="323" font-size="23.3" text-anchor="start" >Mantel test: P = 0.01; R=0.12</text>
<text x="1533.7" y="353.7" font-size="23.3" text-anchor="start" >Linear regression:</text>
<text x="1533.7" y="381.7" font-size="23.3" xml:space="preserve">P &lt;  0.001; R<tspan font-size="16.5" dy="-8.6">2</tspan><tspan dy="8.6"> = 0.02; Slope = -0.1% year</tspan><tspan font-size="16.5" dy="-8.6">-1</tspan></text>
<text x="133.3" y="692.8" font-size="23.3" text-anchor="start" >Mantel test: P = 0.01; R=0.32</text>
<text x="133.3" y="723.3" font-size="23.3" text-anchor="start" >Linear regression:</text>
<text x="133.3" y="751.2" font-size="23.3" xml:space="preserve">P &lt;  0.001; R<tspan font-size="16.5" dy="-8.6">2</tspan><tspan dy="8.6"> = 0.11; Slope = -0.7% year</tspan><tspan font-size="16.5" dy="-8.6">-1</tspan></text>
<text x="597.5" y="693.5" font-size="23.3" text-anchor="start" >Mantel test: P = 0.01; R=0.48</text>
<text x="597.5" y="723.3" font-size="23.3" text-anchor="start" >Linear regression:</text>
<text x="597.5" y="751.2" font-size="23.3" xml:space="preserve">P &lt;  0.001; R<tspan font-size="16.5" dy="-8.6">2</tspan><tspan dy="8.6"> = 0.23; Slope = -0.9% year</tspan><tspan font-size="16.5" dy="-8.6">-1</tspan></text>
<text x="1064.9" y="693.5" font-size="23.3" text-anchor="start" >Mantel test: P = 0.01; R=0.57</text>
<text x="1064.9" y="723.3" font-size="23.3" text-anchor="start" >Linear regression:</text>
<text x="1064.9" y="751.2" font-size="23.3" xml:space="preserve">P &lt;  0.001; R<tspan font-size="16.5" dy="-8.6">2</tspan><tspan dy="8.6"> = 0.32; Slope = -0.6% year</tspan><tspan font-size="16.5" dy="-8.6">-1</tspan></text>
<text x="157.4" y="924.8" font-size="23.3" text-anchor="start" >Mantel test: P = 0.01; R=0.54</text>
<text x="612.5" y="922" font-size="23.3" text-anchor="start" >Mantel test: P = 0.01; R=0.43</text>
<text x="1071.9" y="919.2" font-size="23.3" text-anchor="start" >Mantel test: P = 0.01; R=0.33</text>
<text x="1529.3" y="918.5" font-size="23.3" text-anchor="start" >Mantel test: P = 0.01; R=0.61</text>
<text x="154.3" y="1305.5" font-size="23.3" text-anchor="start" >Mantel test: P = 0.01; R=0.50</text>
<text x="615.3" y="1301.3" font-size="23.3" text-anchor="start" >Mantel test: P = 0.01; R=0.73</text>
<text x="1071.9" y="1301.3" font-size="23.3" text-anchor="start" >Mantel test: P = 0.01; R=0.76</text>
<text x="156.2" y="1748" font-size="23.3" text-anchor="start" >Mantel test: P &gt; 0.05</text>
<text x="610.6" y="1748" font-size="23.3" text-anchor="start" >Mantel test: P &gt; 0.05</text>
<text x="1070.3" y="1748" font-size="23.3" text-anchor="start" >Mantel test: P &gt; 0.05</text>
<text x="1529.8" y="1748" font-size="23.3" text-anchor="start" >Mantel test: P &gt; 0.05</text>
<text x="154.4" y="2127.3" font-size="23.3" text-anchor="start" >Mantel test: P &gt; 0.05</text>
<text x="613" y="2126.3" font-size="23.3" text-anchor="start" >Mantel test: P = 0.04; R=0.14</text>
<text x="1069.6" y="2126.3" font-size="23.3" text-anchor="start" >Mantel test: P &gt; 0.05</text>
<text x="119.2" y="93.5" font-size="31" text-anchor="end" >100</text>
<text x="119.2" y="178.8" font-size="31" text-anchor="end" >90</text>
<text x="119.2" y="261.3" font-size="31" text-anchor="end" >80</text>
<text x="119.2" y="342.9" font-size="31" text-anchor="end" >70</text>
<text x="119.2" y="465.2" font-size="31" text-anchor="end" >100</text>
<text x="119.2" y="550.1" font-size="31" text-anchor="end" >90</text>
<text x="119.2" y="631.3" font-size="31" text-anchor="end" >80</text>
<text x="119.2" y="712.4" font-size="31" text-anchor="end" >70</text>
<text x="119.2" y="919.7" font-size="31" text-anchor="end" >100</text>
<text x="119.2" y="994.1" font-size="31" text-anchor="end" >75</text>
<text x="119.2" y="1065.5" font-size="31" text-anchor="end" >50</text>
<text x="119.2" y="1136.9" font-size="31" text-anchor="end" >25</text>
<text x="119.2" y="1212" font-size="31" text-anchor="end" >0</text>
<text x="119.2" y="1294.9" font-size="31" text-anchor="end" >100</text>
<text x="119.2" y="1366.3" font-size="31" text-anchor="end" >75</text>
<text x="119.2" y="1438.9" font-size="31" text-anchor="end" >50</text>
<text x="119.2" y="1510" font-size="31" text-anchor="end" >25</text>
<text x="119.2" y="1582.4" font-size="31" text-anchor="end" >0</text>
<text x="119.2" y="1765.5" font-size="31" text-anchor="end" >100</text>
<text x="119.2" y="1830.5" font-size="31" text-anchor="end" >75</text>
<text x="119.2" y="1901.9" font-size="31" text-anchor="end" >50</text>
<text x="119.2" y="1973.2" font-size="31" text-anchor="end" >25</text>
<text x="119.2" y="2047.2" font-size="31" text-anchor="end" >0</text>
<text x="119.2" y="2128.7" font-size="31" text-anchor="end" >100</text>
<text x="119.2" y="2200.1" font-size="31" text-anchor="end" >75</text>
<text x="119.2" y="2272.8" font-size="31" text-anchor="end" >50</text>
<text x="119.2" y="2345.5" font-size="31" text-anchor="end" >25</text>
<text x="119.2" y="2417.2" font-size="31" text-anchor="end" >0</text>
<text x="1550.8" y="416.8" font-size="31" text-anchor="middle" >0</text>
<text x="1591" y="416.8" font-size="31" text-anchor="middle" >1</text>
<text x="1632" y="416.8" font-size="31" text-anchor="middle" >2</text>
<text x="1675" y="416.8" font-size="31" text-anchor="middle" >3</text>
<text x="1711" y="416.8" font-size="31" text-anchor="middle" >4</text>
<text x="1753.6" y="416.8" font-size="31" text-anchor="middle" >5</text>
<text x="1793.8" y="416.8" font-size="31" text-anchor="middle" >6</text>
<text x="1835.1" y="416.8" font-size="31" text-anchor="middle" >7</text>
<text x="1878.5" y="416.8" font-size="31" text-anchor="middle" >8</text>
<text x="1918" y="416.8" font-size="31" text-anchor="middle" >9</text>
<text x="1961.7" y="416.8" font-size="31" text-anchor="middle" >10</text>
<text x="144.4" y="789.9" font-size="31" text-anchor="middle" >0</text>
<text x="187.8" y="789.9" font-size="31" text-anchor="middle" >1</text>
<text x="229" y="789.9" font-size="31" text-anchor="middle" >2</text>
<text x="269.2" y="789.9" font-size="31" text-anchor="middle" >3</text>
<text x="308.4" y="789.9" font-size="31" text-anchor="middle" >4</text>
<text x="350.7" y="789.9" font-size="31" text-anchor="middle" >5</text>
<text x="390.9" y="789.9" font-size="31" text-anchor="middle" >6</text>
<text x="432.2" y="789.9" font-size="31" text-anchor="middle" >7</text>
<text x="471" y="789.9" font-size="31" text-anchor="middle" >8</text>
<text x="512.2" y="789.9" font-size="31" text-anchor="middle" >9</text>
<text x="552.4" y="789.9" font-size="31" text-anchor="middle" >10</text>
<text x="610" y="789.9" font-size="31" text-anchor="middle" >0</text>
<text x="651.6" y="789.9" font-size="31" text-anchor="middle" >1</text>
<text x="692.9" y="789.9" font-size="31" text-anchor="middle" >2</text>
<text x="734.8" y="789.9" font-size="31" text-anchor="middle" >3</text>
<text x="774" y="789.9" font-size="31" text-anchor="middle" >4</text>
<text x="815.2" y="789.9" font-size="31" text-anchor="middle" >5</text>
<text x="857.2" y="789.9" font-size="31" text-anchor="middle" >6</text>
<text x="897.4" y="789.9" font-size="31" text-anchor="middle" >7</text>
<text x="938.7" y="789.9" font-size="31" text-anchor="middle" >8</text>
<text x="979.6" y="789.9" font-size="31" text-anchor="middle" >9</text>
<text x="1027.8" y="789.9" font-size="31" text-anchor="middle" >10</text>
<text x="1080.2" y="789.9" font-size="31" text-anchor="middle" >0</text>
<text x="1121.1" y="789.9" font-size="31" text-anchor="middle" >1</text>
<text x="1161.7" y="789.9" font-size="31" text-anchor="middle" >2</text>
<text x="1202.6" y="789.9" font-size="31" text-anchor="middle" >3</text>
<text x="1242.1" y="789.9" font-size="31" text-anchor="middle" >4</text>
<text x="1283.7" y="789.9" font-size="31" text-anchor="middle" >5</text>
<text x="1325" y="789.9" font-size="31" text-anchor="middle" >6</text>
<text x="1365.2" y="789.9" font-size="31" text-anchor="middle" >7</text>
<text x="1405.4" y="789.9" font-size="31" text-anchor="middle" >8</text>
<text x="1446.3" y="789.9" font-size="31" text-anchor="middle" >9</text>
<text x="1491" y="789.9" font-size="31" text-anchor="middle" >10</text>
<text x="1549.1" y="1246.2" font-size="31" text-anchor="middle" >0</text>
<text x="1593.8" y="1246.2" font-size="31" text-anchor="middle" >1</text>
<text x="1640" y="1246.2" font-size="31" text-anchor="middle" >2</text>
<text x="1686.2" y="1246.2" font-size="31" text-anchor="middle" >3</text>
<text x="1730.2" y="1246.2" font-size="31" text-anchor="middle" >4</text>
<text x="1776.4" y="1246.2" font-size="31" text-anchor="middle" >5</text>
<text x="1823.6" y="1246.2" font-size="31" text-anchor="middle" >6</text>
<text x="1868.3" y="1246.2" font-size="31" text-anchor="middle" >7</text>
<text x="1913.4" y="1246.2" font-size="31" text-anchor="middle" >8</text>
<text x="1959.2" y="1246.2" font-size="31" text-anchor="middle" >9</text>
<text x="145.8" y="1615.1" font-size="31" text-anchor="middle" >0</text>
<text x="192.3" y="1615.1" font-size="31" text-anchor="middle" >1</text>
<text x="239.5" y="1615.1" font-size="31" text-anchor="middle" >2</text>
<text x="283.2" y="1615.1" font-size="31" text-anchor="middle" >3</text>
<text x="328.7" y="1615.1" font-size="31" text-anchor="middle" >4</text>
<text x="373.4" y="1615.1" font-size="31" text-anchor="middle" >5</text>
<text x="419.6" y="1615.1" font-size="31" text-anchor="middle" >6</text>
<text x="463.3" y="1615.1" font-size="31" text-anchor="middle" >7</text>
<text x="509.4" y="1615.1" font-size="31" text-anchor="middle" >8</text>
<text x="555.9" y="1615.1" font-size="31" text-anchor="middle" >9</text>
<text x="612.4" y="1615.1" font-size="31" text-anchor="middle" >0</text>
<text x="656.9" y="1615.1" font-size="31" text-anchor="middle" >1</text>
<text x="703.4" y="1615.1" font-size="31" text-anchor="middle" >2</text>
<text x="748.8" y="1615.1" font-size="31" text-anchor="middle" >3</text>
<text x="792.5" y="1615.1" font-size="31" text-anchor="middle" >4</text>
<text x="838" y="1615.1" font-size="31" text-anchor="middle" >5</text>
<text x="883.4" y="1615.1" font-size="31" text-anchor="middle" >6</text>
<text x="928.9" y="1615.1" font-size="31" text-anchor="middle" >7</text>
<text x="974.3" y="1615.1" font-size="31" text-anchor="middle" >8</text>
<text x="1020.8" y="1615.1" font-size="31" text-anchor="middle" >9</text>
<text x="1079.5" y="1615.1" font-size="31" text-anchor="middle" >0</text>
<text x="1125" y="1615.1" font-size="31" text-anchor="middle" >1</text>
<text x="1171.1" y="1615.1" font-size="31" text-anchor="middle" >2</text>
<text x="1217.6" y="1615.1" font-size="31" text-anchor="middle" >3</text>
<text x="1261" y="1615.1" font-size="31" text-anchor="middle" >4</text>
<text x="1307.5" y="1615.1" font-size="31" text-anchor="middle" >5</text>
<text x="1353.6" y="1615.1" font-size="31" text-anchor="middle" >6</text>
<text x="1397.3" y="1615.1" font-size="31" text-anchor="middle" >7</text>
<text x="1444.9" y="1615.1" font-size="31" text-anchor="middle" >8</text>
<text x="1491.7" y="1615.1" font-size="31" text-anchor="middle" >9</text>
<text x="1547.3" y="2078.6" font-size="31" text-anchor="middle" >0</text>
<text x="1592.1" y="2078.6" font-size="31" text-anchor="middle" >1</text>
<text x="1637.6" y="2078.6" font-size="31" text-anchor="middle" >2</text>
<text x="1683.7" y="2078.6" font-size="31" text-anchor="middle" >3</text>
<text x="1725.7" y="2078.6" font-size="31" text-anchor="middle" >4</text>
<text x="1771.1" y="2078.6" font-size="31" text-anchor="middle" >5</text>
<text x="1818.3" y="2078.6" font-size="31" text-anchor="middle" >6</text>
<text x="1863.8" y="2078.6" font-size="31" text-anchor="middle" >7</text>
<text x="1908.5" y="2078.6" font-size="31" text-anchor="middle" >8</text>
<text x="1954" y="2078.6" font-size="31" text-anchor="middle" >9</text>
<text x="155.6" y="2452.3" font-size="31" text-anchor="middle" >0</text>
<text x="201" y="2452.3" font-size="31" text-anchor="middle" >1</text>
<text x="247.6" y="2452.3" font-size="31" text-anchor="middle" >2</text>
<text x="293" y="2452.3" font-size="31" text-anchor="middle" >3</text>
<text x="336.7" y="2452.3" font-size="31" text-anchor="middle" >4</text>
<text x="382.9" y="2452.3" font-size="31" text-anchor="middle" >5</text>
<text x="429.4" y="2452.3" font-size="31" text-anchor="middle" >6</text>
<text x="465" y="2452.3" font-size="31" text-anchor="middle" >7</text>
<text x="508.7" y="2452.3" font-size="31" text-anchor="middle" >8</text>
<text x="555.9" y="2452.3" font-size="31" text-anchor="middle" >9</text>
<text x="612.4" y="2452.3" font-size="31" text-anchor="middle" >0</text>
<text x="657.2" y="2452.3" font-size="31" text-anchor="middle" >1</text>
<text x="700.9" y="2452.3" font-size="31" text-anchor="middle" >2</text>
<text x="748.8" y="2452.3" font-size="31" text-anchor="middle" >3</text>
<text x="792.5" y="2452.3" font-size="31" text-anchor="middle" >4</text>
<text x="838.7" y="2452.3" font-size="31" text-anchor="middle" >5</text>
<text x="884.5" y="2452.3" font-size="31" text-anchor="middle" >6</text>
<text x="929.9" y="2452.3" font-size="31" text-anchor="middle" >7</text>
<text x="977.1" y="2452.3" font-size="31" text-anchor="middle" >8</text>
<text x="1021.5" y="2452.3" font-size="31" text-anchor="middle" >9</text>
<text x="1081.3" y="2452.3" font-size="31" text-anchor="middle" >0</text>
<text x="1125" y="2452.3" font-size="31" text-anchor="middle" >1</text>
<text x="1170.4" y="2452.3" font-size="31" text-anchor="middle" >2</text>
<text x="1217.6" y="2452.3" font-size="31" text-anchor="middle" >3</text>
<text x="1261" y="2452.3" font-size="31" text-anchor="middle" >4</text>
<text x="1307.5" y="2452.3" font-size="31" text-anchor="middle" >5</text>
<text x="1353.6" y="2452.3" font-size="31" text-anchor="middle" >6</text>
<text x="1396.6" y="2452.3" font-size="31" text-anchor="middle" >7</text>
<text x="1443.8" y="2452.3" font-size="31" text-anchor="middle" >8</text>
<text x="1491" y="2452.3" font-size="31" text-anchor="middle" >9</text>
<text x="938.8" y="826" font-size="31.4" text-anchor="start" >Time interval [year]</text>
<text x="948.2" y="1656.6" font-size="31.4" text-anchor="start" >Time interval [year]</text>
<text x="948.2" y="2489.5" font-size="31.4" text-anchor="start" >Time interval [year]</text>
<text transform="translate(36,352.3) rotate(-90)" font-size="31.2" text-anchor="middle">Bray-curtis similarity (%)</text>
<text transform="translate(34.4,1215.7) rotate(-90)" font-size="31.2" text-anchor="middle">Bray-curtis similarity (%)</text>
<text transform="translate(33.9,2042.8) rotate(-90)" font-size="31.2" text-anchor="middle">Bray-curtis similarity (%)</text>
<text x="0" y="41.8" font-size="55" text-anchor="start" >a)</text>
<text x="0.9" y="865.8" font-size="55" text-anchor="start" >b)</text>
<text x="4.8" y="1702.5" font-size="55" text-anchor="start" >c)</text>
<circle cx="1557.7" cy="547.4" r="7" fill="#a6dff4"/>
<text x="1615.5" y="555" font-size="23.6" text-anchor="start" >Between all samples (pathway)</text>
<path d="M1545 593.4h12.2 M1561.2 593.4h12.2" stroke="#000" stroke-width="4.8" fill="none"/>
<text x="1615.5" y="601.2" font-size="23.6" text-anchor="start" >Regression line (pathway)</text>
<path d="M1545 633.6H1573.4" stroke="#cf2318" stroke-width="4.8" fill="none"/>
<text x="1615.5" y="643.1" font-size="23.6" text-anchor="start" >Smoothing line (pathway)</text>
<circle cx="1557.8" cy="1349.8" r="7" fill="#a6dff4"/>
<text x="1613.7" y="1355.3" font-size="23.6" text-anchor="start" >Between all samples (microbiome)</text>
<circle cx="1557.8" cy="1386.8" r="7" fill="#f1c690"/>
<text x="1613.7" y="1394.4" font-size="23.6" text-anchor="start" >Between all samples (metabolome)</text>
<path d="M1545 1426.5h12.2 M1561.2 1426.5h12.2" stroke="#000" stroke-width="4.8" fill="none"/>
<text x="1614.3" y="1432.4" font-size="23.6" text-anchor="start" >Regression line (microbiome)</text>
<path d="M1545 1466.5H1573.4" stroke="#000" stroke-width="4.8" fill="none"/>
<text x="1614.3" y="1471.5" font-size="23.6" text-anchor="start" >Regression line (metabolome)</text>
<path d="M1545 1511.9H1573.4" stroke="#f01a1a" stroke-width="4.8" fill="none"/>
<text x="1615.1" y="1515.2" font-size="23.6" text-anchor="start" >Smoothing line (microbiome)</text>
<path d="M1545 1553H1573.4" stroke="#a232f2" stroke-width="4.8" fill="none"/>
<text x="1615.1" y="1553.7" font-size="23.6" text-anchor="start" >Smoothing line (metabolome)</text>
<circle cx="1554" cy="2178.3" r="7" fill="#a6dff4"/>
<text x="1615.5" y="2183.7" font-size="23.6" text-anchor="start" >Between all samples (microbiomes)</text>
<circle cx="1554" cy="2216" r="7" fill="#d3b079"/>
<text x="1615.5" y="2223.1" font-size="23.6" text-anchor="start" >Between all samples (DOM)</text>
<path d="M1539.4 2253.6h12 M1555.4 2253.6h12" stroke="#000" stroke-width="4.8" fill="none"/>
<text x="1615.5" y="2261.7" font-size="23.6" text-anchor="start" >Regression line (microbiome)</text>
<path d="M1539.4 2298.8H1567.4" stroke="#000" stroke-width="4.8" fill="none"/>
<text x="1615.5" y="2301.2" font-size="23.6" text-anchor="start" >Regression line (DOM)</text>
<path d="M1539.4 2339H1567.4" stroke="#f01a1a" stroke-width="4.8" fill="none"/>
<text x="1615.5" y="2343" font-size="23.6" text-anchor="start" >Smoothing line (microbiome)</text>
<path d="M1539.4 2379.3H1567.4" stroke="#9c1f22" stroke-width="4.8" fill="none"/>
<text x="1615.5" y="2381.5" font-size="23.6" text-anchor="start" >Smoothing line (DOM)</text>
</g></svg></body></html>
